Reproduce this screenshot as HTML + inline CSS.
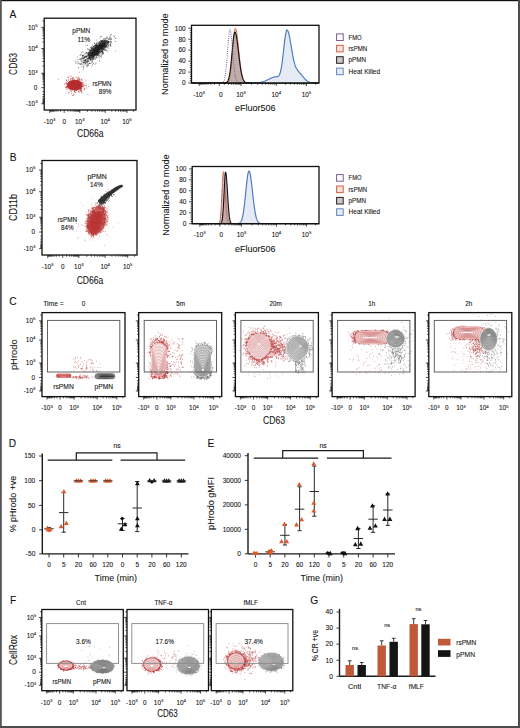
<!DOCTYPE html><html><head><meta charset="utf-8"><style>html,body{margin:0;padding:0;background:#fff;}svg{display:block;}text{font-family:"Liberation Sans",sans-serif;fill:#141414;stroke:#141414;stroke-width:0.09px;}</style></head><body>
<svg width="520" height="728" viewBox="0 0 520 728">
<defs>
<filter id="b0_5" x="-50%" y="-50%" width="200%" height="200%"><feGaussianBlur stdDeviation="0.5"/></filter>
<filter id="b0_8" x="-50%" y="-50%" width="200%" height="200%"><feGaussianBlur stdDeviation="0.8"/></filter>
<filter id="b1_0" x="-50%" y="-50%" width="200%" height="200%"><feGaussianBlur stdDeviation="1.0"/></filter>
<filter id="b1_5" x="-50%" y="-50%" width="200%" height="200%"><feGaussianBlur stdDeviation="1.5"/></filter>
<filter id="b2_0" x="-50%" y="-50%" width="200%" height="200%"><feGaussianBlur stdDeviation="2.0"/></filter>
</defs>
<rect width="520" height="728" fill="#fff"/>
<text x="9.5" y="17.9" font-size="10.2">A</text>
<text x="9.8" y="160.6" font-size="10.2">B</text>
<text x="9.3" y="304.6" font-size="10.2">C</text>
<text x="8.8" y="446.6" font-size="10.2">D</text>
<text x="207.6" y="447" font-size="10.2">E</text>
<text x="9.9" y="603.8" font-size="10.2">F</text>
<text x="310.3" y="603.8" font-size="10.2">G</text>
<path d="M88.9 57.3h0.8M87.4 63.2h0.8M85 60.8h0.8M85.1 59.7h0.8M81.4 61.9h0.8M84.8 60.8h0.8M94.6 64.4h0.8M87 66.9h0.8M84.5 57.7h0.8M83.6 58.6h0.8M80.7 61.2h0.8M86.4 61.9h0.8M87.1 60.2h0.8M78.6 59.4h0.8M86.8 62.3h0.8M81.2 63.8h0.8M91.6 61.6h0.8M85.8 60.8h0.8M92.5 62.8h0.8M81.6 64.2h0.8M85.4 56.1h0.8M86.4 61h0.8M89.1 63.5h0.8M89.3 56.4h0.8M79.7 59.1h0.8M84.4 65h0.8M84.7 62h0.8M81 66.3h0.8M83.3 57.1h0.8M92 64.7h0.8M82.6 62.3h0.8M82.4 56.8h0.8M86.1 66.2h0.8M86.1 59.7h0.8M82.7 66.2h0.8M87.7 63.8h0.8M85.9 64.8h0.8M87.9 57.6h0.8M90.8 57.7h0.8M85.9 62.2h0.8M83.2 57.7h0.8M83.3 60.8h0.8M83.3 58.6h0.8M85.2 63.2h0.8M78.8 63.7h0.8M75.5 62.8h0.8M85.7 60h0.8M81.5 52.9h0.8M77 57.2h0.8M86.1 62.9h0.8M83.8 54.8h0.8M87.3 61h0.8M82.9 59.8h0.8M80.5 58.5h0.8M79.6 59.3h0.8M82.5 60.9h0.8M82.5 64.3h0.8M82 58.3h0.8M83.7 60.7h0.8M79.6 55.4h0.8M84.7 61.9h0.8M75.6 63.2h0.8M84.1 60.9h0.8M89.6 57.5h0.8M89.3 63.6h0.8M91.4 65.9h0.8M77.3 61.6h0.8M87.2 64.8h0.8M89.8 63.5h0.8M88 65.5h0.8M82.5 55.5h0.8M86.5 62.3h0.8M93 63.5h0.8M80 54.8h0.8M88.5 57.7h0.8M89.5 63.2h0.8M82.4 59h0.8M88.2 59.9h0.8M80.3 59.8h0.8M79.9 64.3h0.8M82.2 57.9h0.8M86.7 58.8h0.8M85 59.7h0.8M88.2 64.8h0.8M80.8 60h0.8M83.9 62.3h0.8M88.8 63.2h0.8M88.6 58.4h0.8M80.9 54.8h0.8M88.5 60.2h0.8" fill="none" stroke="#444" stroke-width="0.8" stroke-opacity="0.8"/>
<path d="M91.5 53.2h0.8M98.6 46.9h0.8M98 47.6h0.8M107.5 43.3h0.8M97.2 49.8h0.8M83.2 66.9h0.8M83.1 58.5h0.8M99.3 41.8h0.8M93.8 52.2h0.8M107.4 44.5h0.8M101.9 52.8h0.8M92 58.5h0.8M100 36.7h0.8M90.3 57.4h0.8M82.9 69.9h0.8M113.6 36h0.8M78.4 62.1h0.8M102.3 47h0.8M102.5 42h0.8M99.1 51.6h0.8M81.8 62.3h0.8M108.6 48h0.8M85.3 62.3h0.8M82.6 57.4h0.8M94.7 55h0.8M105.4 48.1h0.8M96.9 46.3h0.8M101.6 43.2h0.8M85.6 45.6h0.8M97.2 54.7h0.8M84.7 56.4h0.8M87.2 45.3h0.8M95.9 40.1h0.8M92.8 51.8h0.8M102.2 49.7h0.8M90.9 54.1h0.8M92.4 56.2h0.8M93.1 46.3h0.8M90.5 47.2h0.8M103.6 49.3h0.8M98.9 50.8h0.8M110.6 38h0.8M97.9 56.4h0.8M91.3 48.7h0.8M86 56.3h0.8M99.2 53.8h0.8M107.1 51.9h0.8M89.8 55.7h0.8M100.4 56.5h0.8M100.3 43.2h0.8M95.9 52.4h0.8M91.1 53.5h0.8M99.6 38h0.8M97.6 50.6h0.8M102 50.8h0.8M105.4 41.6h0.8M105.4 42.1h0.8M97.1 57.7h0.8M88 49.8h0.8M94.1 43.2h0.8M93 49.1h0.8M76.5 59.7h0.8M110.6 46h0.8M97.1 51.3h0.8M99.7 42.2h0.8M84.3 56.6h0.8M115.1 51.2h0.8M89.3 52.5h0.8M92.9 48.5h0.8M85.1 61.4h0.8" fill="none" stroke="#444" stroke-width="0.8" stroke-opacity="0.8"/>
<ellipse cx="98" cy="48.8" rx="12" ry="3.5" fill="#2a2a2a" transform="rotate(-40 98 48.8)" filter="url(#b0_8)" opacity="0.8"/>
<path d="M102.7 48.3h0.8M96.5 46.1h0.8M91.5 54.2h0.8M89.5 54.9h0.8M99.4 44.9h0.8M97.5 50.7h0.8M85.8 56.6h0.8M103.8 42.9h0.8M102.5 46.3h0.8M96.4 51.7h0.8M96.2 51.8h0.8M102.5 53.1h0.8M92.2 52.3h0.8M89.5 57.2h0.8M97.3 45.7h0.8M89.3 58.2h0.8M101.6 50.1h0.8M90.5 59.6h0.8M95.6 49h0.8M96 49.9h0.8M110.3 43.1h0.8M90.6 55.1h0.8M90.2 59h0.8M91.7 51.2h0.8M92.7 58.3h0.8M95.4 54.9h0.8M100.7 48.6h0.8M100.7 44.2h0.8M107.2 40.9h0.8M93 53.9h0.8M113.9 36.8h0.8M109.3 39.4h0.8M95.7 50.4h0.8M83.6 62h0.8M99.1 53h0.8M94.4 45.4h0.8M80.9 58.9h0.8M95.2 46.3h0.8M94.9 49.5h0.8M89.6 50.4h0.8M102.1 47.7h0.8M103.6 44.8h0.8M93.9 51.8h0.8M97.6 47.3h0.8M93.5 53.5h0.8M92.8 54.2h0.8M98.3 50h0.8M99.3 45.7h0.8M94.9 54h0.8M81.3 58.3h0.8M103 49.3h0.8M82.4 51.9h0.8M97.1 48h0.8M106.2 38.3h0.8M98.5 51.5h0.8M87.5 53h0.8M91.4 60.9h0.8M101.9 40.7h0.8M100.6 53.9h0.8M101.4 47.9h0.8M103 45.1h0.8M97.7 50.9h0.8M99.1 55.8h0.8M93 56.5h0.8M74.7 61.2h0.8M90 60h0.8M97.3 50.6h0.8M93.5 47.5h0.8M101 49.2h0.8M94.5 48h0.8M98.6 49.3h0.8M102.5 46.2h0.8M90.8 53.1h0.8M96.6 52.6h0.8M85.7 56h0.8M103.6 45.2h0.8M96.6 48.5h0.8M100 46.9h0.8M110 45.7h0.8M104.1 44.5h0.8M95.1 47.9h0.8M101.9 45.5h0.8M87.2 55.6h0.8M100 47.6h0.8M98.4 49.4h0.8M87.5 58.3h0.8M105.6 43.1h0.8M92.1 52.3h0.8M102.2 47.2h0.8M96.5 54.1h0.8M102.4 43.5h0.8M105.2 42.9h0.8M92.3 54.2h0.8M90 60.2h0.8M98.3 52.6h0.8M101.3 44h0.8M95.1 51.9h0.8M91 50h0.8M98.7 45.4h0.8M80.4 64h0.8M94.3 54.5h0.8M90.4 58.8h0.8M98.6 47.7h0.8M90.5 50.9h0.8M91.1 56.3h0.8M94.8 51.3h0.8M89 58.2h0.8M97.5 50.2h0.8M94.3 54.7h0.8M96.1 53h0.8M94.3 55.2h0.8M102.1 44.2h0.8M98.3 52.3h0.8M99.7 46.1h0.8M100.4 47.5h0.8M95.5 57.7h0.8M101.4 47.6h0.8M97.5 45.7h0.8M101.7 51.2h0.8M96.5 53.8h0.8M96.6 54.3h0.8M102.4 46.2h0.8M111.2 39.3h0.8M91.8 53.6h0.8M99.4 45.7h0.8M97.6 54.7h0.8M101.5 45h0.8M99.2 46.6h0.8M103.1 43.5h0.8M83.3 67.9h0.8M95.1 54.6h0.8M90.6 54.1h0.8M96.6 50.3h0.8M93.7 54.5h0.8M94.8 54.8h0.8M98.8 43.1h0.8M110.5 41.8h0.8M79.6 63.9h0.8M94.3 50h0.8M98.6 47.4h0.8M98.7 51.4h0.8M98.1 55.1h0.8M89.3 57.1h0.8M92.5 55.8h0.8M100.4 44.5h0.8M104.7 45.2h0.8M99.3 50.9h0.8M89.7 51.1h0.8M97 48.3h0.8M97.2 52.6h0.8M97.7 43.5h0.8M97.4 48.4h0.8M94.5 54.2h0.8M95.6 45.5h0.8M89.4 55.1h0.8M102.4 45.7h0.8M106 45.5h0.8M87.9 53.3h0.8M101.7 49.8h0.8M91.7 55.5h0.8M105.9 46.7h0.8M104.8 47.5h0.8M96.5 51.7h0.8M104.2 45.7h0.8M91.8 48.6h0.8M91.1 50.4h0.8M92.1 50.7h0.8M95.9 49.8h0.8M96.9 53.3h0.8M95.3 45.5h0.8M93 52.3h0.8M99.8 43.2h0.8M101 41.4h0.8M96.7 55.3h0.8M88.7 57.3h0.8M104.5 49.3h0.8M106.3 46.3h0.8M94.8 48.8h0.8M86.3 52.7h0.8M102.4 52.6h0.8M106 41.2h0.8M83.9 57.2h0.8M101.4 48.7h0.8M95.6 51.7h0.8M90.9 52.9h0.8M99.8 46.5h0.8M89.6 56.8h0.8M99.2 48.4h0.8M106.6 44.6h0.8M97.8 48.2h0.8M91.4 53.6h0.8M87.4 60.1h0.8M90 57h0.8M87.8 61.4h0.8M106.7 41.1h0.8M95.6 50.9h0.8M89 52.9h0.8M91.8 59.5h0.8M88.4 52.5h0.8M95.6 51.9h0.8M87.9 54.6h0.8M108.1 41.9h0.8M94 55.1h0.8M89.8 50.6h0.8M98.8 47.8h0.8M103.3 38.8h0.8M107.8 45.8h0.8M93.6 51.4h0.8M96.2 45.3h0.8M97 47.6h0.8M102.7 49.7h0.8M101.4 51.4h0.8M93.6 57.2h0.8M88.3 54.7h0.8M98.1 48.6h0.8M92.8 59.1h0.8M104.4 41.3h0.8M97 48.9h0.8M89.4 53.2h0.8M93.4 49.1h0.8M96.2 54.8h0.8M97.5 51.7h0.8M103.8 45.8h0.8M89.4 58.4h0.8M87.6 61.4h0.8M101.9 51.1h0.8M96.2 50.7h0.8M97.7 48.3h0.8M98.3 45.5h0.8M98 52.9h0.8M101.3 44.7h0.8M89.3 51.4h0.8M97.2 48.9h0.8M92.2 54.1h0.8M91.8 57.3h0.8M102.7 48.6h0.8M99.6 45.4h0.8M84.1 58.2h0.8M89.9 54.9h0.8M97.1 45.9h0.8M103.7 44.1h0.8M94 54.1h0.8M96.2 50.8h0.8M85.9 53.9h0.8M110.7 34.5h0.8M102.4 49.9h0.8M101.1 43.2h0.8M102.6 47.9h0.8M104.1 46.3h0.8M100.5 46h0.8M93.6 49.5h0.8M102.2 46.4h0.8M96.3 47.6h0.8M105 42.8h0.8M93 53.8h0.8M92.8 51.2h0.8M101 45.9h0.8M104.6 42.6h0.8M96.1 46.6h0.8M92.6 53.1h0.8M95.5 49.1h0.8M91.2 48.7h0.8M108.4 39.4h0.8M102.3 44.6h0.8M104 42.1h0.8M95.7 44.1h0.8M95.2 54.2h0.8M105.6 45.1h0.8M108.5 42.6h0.8M101.4 47.5h0.8M95.1 47.4h0.8M104.1 44.5h0.8M93.5 49.9h0.8M105.6 50.2h0.8M92.1 52.4h0.8M92.5 56.1h0.8M98.2 43.8h0.8M97.4 45.7h0.8M108.1 38.9h0.8M96.8 52.6h0.8M98.4 50.8h0.8M90.8 56.2h0.8M82.7 55.7h0.8M88.3 61.2h0.8M98.6 45.6h0.8M92.8 59.1h0.8M107.3 47.7h0.8M107.4 44.1h0.8M97.2 53.2h0.8M105.4 38.8h0.8M103 53.8h0.8M104.6 44.4h0.8M97.6 53h0.8M101.7 43.2h0.8M91.4 54.5h0.8M99.1 44.2h0.8M94.1 51.7h0.8M96.5 50.5h0.8M101.6 47.1h0.8M100.7 51.7h0.8M97.6 51.1h0.8M102.2 46.5h0.8M102.3 45.7h0.8M92.2 60.9h0.8M99.8 45.8h0.8M103.4 48.7h0.8M89.4 49.8h0.8M98.2 46.1h0.8M89.9 57.4h0.8M105.9 42.1h0.8M100.9 57h0.8M101.1 55.3h0.8M102.1 40.6h0.8M94.6 48.4h0.8M100.7 46.4h0.8M93.8 58.7h0.8M95.7 55h0.8M89.3 57.6h0.8M93.7 48.1h0.8M102.2 42.8h0.8M94.2 43.3h0.8M100.2 42.2h0.8M91.7 55.9h0.8M93.2 55.9h0.8M92.3 49.6h0.8M101 47.1h0.8M102.2 51.2h0.8M97.5 50.2h0.8M100.6 46h0.8M97.4 51.8h0.8M98.1 51h0.8M105.4 43.3h0.8M92.8 51.8h0.8M97.7 48h0.8M107.3 41.7h0.8M97 48.2h0.8M103.9 48.8h0.8M95.1 54.7h0.8M111.1 41.9h0.8M86.9 65.4h0.8M93 58.8h0.8M93.2 58.1h0.8M107.9 42.2h0.8M99.1 47.6h0.8M99.5 55.7h0.8M88.3 55.1h0.8M98.5 46.7h0.8M96.6 47.5h0.8M93.4 53.8h0.8M88.9 58.3h0.8M92.3 57.5h0.8M98.2 48.3h0.8M96.3 44.8h0.8M98.3 50.1h0.8M98 52.5h0.8M86.5 59h0.8M97.4 49.3h0.8M91.9 56.2h0.8M100 52.4h0.8M100 47.3h0.8M90.8 50.5h0.8M90.1 53.9h0.8M103.1 44.4h0.8M96.5 44.4h0.8M94.7 54.6h0.8M77.6 63.7h0.8M97.9 51.1h0.8M101.5 47h0.8M103.7 43.4h0.8M95.9 56.5h0.8M92.4 52h0.8M93.5 50.7h0.8M102.9 46.1h0.8M91.5 57.5h0.8M96.6 50.4h0.8M90 52.6h0.8M100.1 49.8h0.8M88.8 59h0.8M103.1 52h0.8M93.9 51.9h0.8M96.3 51.4h0.8M99.6 46h0.8M101.8 41h0.8M87 58.7h0.8M104.9 46.3h0.8M99 44.9h0.8M94.4 50h0.8M103.9 40.2h0.8M100.7 51.5h0.8M104.2 41.9h0.8M94.6 54h0.8M90.5 52.5h0.8M104.9 43.7h0.8M109.5 37.4h0.8M97.3 41.9h0.8M102.9 45.4h0.8M95.3 53.3h0.8M85.7 52.5h0.8M95.6 50.6h0.8M105.8 41.2h0.8M84.1 57.2h0.8M93.8 51.8h0.8M82.3 55.8h0.8M98.4 49.7h0.8M104.6 47.7h0.8M87.6 53.7h0.8M94.7 51.8h0.8M107.8 45.8h0.8M97 50.5h0.8M88.8 55.1h0.8M87.7 54.8h0.8M85.3 60.5h0.8M101.8 45.6h0.8M93.8 54.9h0.8M101.2 41.4h0.8M104.4 47.5h0.8M92.6 52.4h0.8M95.1 53.8h0.8M100.9 44.4h0.8M96 46.4h0.8M98 47.3h0.8M85.6 56.4h0.8M102.2 44.4h0.8M93 55.6h0.8M85.2 63.6h0.8M93.9 53.4h0.8M99 46.6h0.8M109.4 38.1h0.8M96 52.9h0.8M91 58.9h0.8M109.8 38.2h0.8M98.1 48.7h0.8M94.4 49.6h0.8M91.1 55.7h0.8M92.7 56.9h0.8M101.5 36.4h0.8M96.1 51.7h0.8M93.1 51.5h0.8M90.3 47.8h0.8M107.4 42.4h0.8M93.5 52.7h0.8M101.8 47.3h0.8M96.6 45.7h0.8M102.3 52.8h0.8M92.1 54.5h0.8M100.8 45.7h0.8M109.7 44.6h0.8M98.1 51.4h0.8M93.1 56.2h0.8M91.3 58.8h0.8M95 44.7h0.8M98.4 54.5h0.8M96.1 49.6h0.8M97.8 50.3h0.8M89.8 59.2h0.8M100.9 44.4h0.8M99.3 49.2h0.8M98.1 51.7h0.8M98.7 48.5h0.8M103.8 46h0.8M94.9 46.3h0.8M90.1 51.8h0.8M102.5 41.5h0.8M95.3 52.8h0.8M99.1 61h0.8M88.2 58.4h0.8M97.1 49.5h0.8M90.8 55.1h0.8M95.8 54.4h0.8M101.2 48.9h0.8M95.6 47.3h0.8M105.2 46.6h0.8M99.1 48.2h0.8M96.2 53.5h0.8M91.9 47.5h0.8M91.6 49.3h0.8M102.3 47.7h0.8M94.4 46.1h0.8M95.4 52.7h0.8M103 46.1h0.8M98.1 49.6h0.8M95 52.9h0.8M88.5 58.1h0.8M100.7 48.4h0.8M98.1 47.8h0.8M97.6 49.5h0.8M99.5 57.9h0.8M94.1 56.4h0.8M96.9 52.2h0.8M99.4 49.4h0.8M95.3 49h0.8M96.8 51h0.8M94 51.7h0.8M101 49.9h0.8M97.2 46.8h0.8M88.7 49h0.8M101 44.8h0.8M103.3 47.1h0.8M106.4 50.5h0.8M98.2 52.5h0.8M94.5 48.8h0.8M89.8 55.3h0.8M100.3 44h0.8M83.9 60.4h0.8M93.4 50h0.8M92.5 48.3h0.8M103.3 46.3h0.8M97.6 50.2h0.8M91.1 54.4h0.8M89.1 57.8h0.8M96.2 57.6h0.8M98.1 49.5h0.8M97 48.8h0.8M97.5 52.5h0.8M90.4 50h0.8M97.3 52.4h0.8M102.1 43.1h0.8M89.2 53.8h0.8M97.7 49.8h0.8M110 44.8h0.8M99.5 45.5h0.8M96.1 54h0.8M102 47.2h0.8M90.4 50.9h0.8M98.9 51.6h0.8M105.4 40.2h0.8M106.5 37.1h0.8M85.5 57h0.8M100.4 44.8h0.8M110.2 41h0.8M92.7 51.1h0.8M101.4 51.4h0.8M106.9 42.5h0.8M93.1 50.9h0.8M98.7 45.8h0.8M97.3 50.6h0.8M82.1 55.7h0.8M95.8 43.7h0.8M94.7 49h0.8M104 46.3h0.8M110.4 39.4h0.8M101.5 46.3h0.8M94.7 51.3h0.8M96.4 43.1h0.8M98 48.1h0.8M100.6 41h0.8M89.9 58.9h0.8M90.1 55.8h0.8M84.6 60.1h0.8M101.7 47.5h0.8M97.7 50.5h0.8M93.8 53.6h0.8M93.4 54.2h0.8M92.8 51.6h0.8M89.4 51.9h0.8M95.9 52.1h0.8M96.7 55.2h0.8M107.5 44.7h0.8M98.9 47.7h0.8M93.3 55.2h0.8M93 51.9h0.8M105.3 44.4h0.8M99.1 46.3h0.8M99.3 48.6h0.8M105.1 50.1h0.8M108.3 43.2h0.8M92.3 59h0.8M91.4 52.1h0.8M85.5 57.4h0.8M100.3 47.2h0.8M95.9 52.9h0.8M92.8 52.8h0.8M94.3 55.7h0.8M100.6 45.1h0.8M98.7 53.2h0.8M95.7 54.5h0.8M103.1 41.1h0.8M91.9 56.3h0.8M89.2 55.9h0.8M114.9 38.5h0.8M94.1 50.6h0.8M94.5 53.2h0.8M93.8 54.6h0.8M91.9 45h0.8M99 42h0.8M102.1 46.2h0.8M100.4 46.8h0.8M97.3 53.3h0.8M88.5 57.9h0.8M96.9 45.8h0.8M107.2 42.6h0.8M102.6 42.8h0.8M95.9 50.2h0.8M101.4 44.7h0.8M95.5 52.5h0.8M94.6 47.3h0.8M87.9 53.9h0.8M91.6 47h0.8M101.7 53.3h0.8M94.6 48.7h0.8M100.6 44.1h0.8M106.9 37.8h0.8M104.3 41.7h0.8M94.7 50.5h0.8M93.8 54.8h0.8M93.6 53.5h0.8M91.9 55.5h0.8M96.5 48.4h0.8M99.8 47.5h0.8M100.5 51.3h0.8M98.4 48.8h0.8M98.8 49.6h0.8M93.1 46.4h0.8M93.6 54.6h0.8M108.3 41.4h0.8M105.9 47h0.8M87.1 49h0.8M91.8 54.5h0.8M93.5 52.6h0.8M97.6 49.8h0.8M103.9 42.1h0.8M103.9 45h0.8M105 45.7h0.8M104 44.3h0.8M103.6 43.5h0.8M101.4 45.6h0.8M99.4 46.7h0.8M96.6 50.5h0.8M85.4 57.3h0.8M93.1 46.5h0.8M110.6 43.2h0.8M91 49h0.8M93.2 52.7h0.8M101.3 41.9h0.8M97.3 48.8h0.8M92.7 50.3h0.8M106.7 41.7h0.8M99.7 44.9h0.8M99.7 43.3h0.8M94.3 53.3h0.8M102.5 49.8h0.8M100.1 48.5h0.8M102.2 46h0.8M102.5 41.7h0.8M104 43.8h0.8M99 49.7h0.8M100.4 44.9h0.8M91.7 57.4h0.8M101.1 46.3h0.8M102 46.9h0.8M94 50.7h0.8M91.7 52.7h0.8M97.2 50.5h0.8M90.4 56.7h0.8M99.9 48.7h0.8M97.3 46.2h0.8M90.2 53.1h0.8M97.5 49.4h0.8M100.7 40.5h0.8M105.5 46.3h0.8M103.9 45.1h0.8M96.4 50.6h0.8M94 50h0.8M96.2 53.3h0.8M100.4 46.1h0.8M114.8 41.4h0.8M106.5 43.3h0.8M104.4 38.6h0.8M106.7 44.2h0.8M86.5 56.9h0.8M95.1 49.7h0.8M94.2 51.4h0.8M104.7 43h0.8M108 41.5h0.8M94.4 54.6h0.8M98.2 50.4h0.8M99.4 45.4h0.8M92 49.5h0.8M92 51.3h0.8M93.7 53.9h0.8M104.1 46.9h0.8M94.6 57.9h0.8M101.9 41.2h0.8M97.9 49.4h0.8M101.4 45.4h0.8M106 40.9h0.8M93.3 53.4h0.8M91.8 53.4h0.8M99.4 47h0.8M89.8 53.7h0.8M93.4 54.2h0.8M98.3 52.4h0.8M100.9 52.1h0.8M88.7 55h0.8M93.1 49.5h0.8M100.3 46.2h0.8M104 41.1h0.8M86.9 61.8h0.8M103.8 41.3h0.8M102.7 45.3h0.8M88.3 52.6h0.8M87.6 56.5h0.8M100.1 47.9h0.8M97.2 54.9h0.8M96.9 47.6h0.8M103.1 46h0.8M91.5 47.4h0.8M96.2 46.4h0.8M98.7 45.6h0.8M101.8 44.1h0.8M108.7 41.5h0.8M108.6 42.2h0.8M96 45.2h0.8M96.6 51.9h0.8M109.8 35.3h0.8M104.2 50.1h0.8M100.3 48.1h0.8M90.7 55.6h0.8M101.6 45.3h0.8M92.4 53.6h0.8M94.4 52h0.8M87.9 55.1h0.8M95.3 53.8h0.8M98 49.9h0.8M89.3 58.8h0.8M91.6 54.1h0.8M97.9 51.4h0.8M88.2 54.6h0.8M95.5 63.2h0.8M90.9 52.5h0.8M87.9 56h0.8M102.5 48.4h0.8M93.2 57.2h0.8M100.6 44.1h0.8M100.1 41.6h0.8M87.6 53h0.8M95.8 47.5h0.8M93 50.6h0.8M90 55.2h0.8M96.9 53.4h0.8M97.5 53.1h0.8M100.5 44.8h0.8M104.4 45.5h0.8M91.9 57.1h0.8M97.1 54.5h0.8M100.2 46.6h0.8M103.1 42.2h0.8M83.5 63.7h0.8M107.5 46.1h0.8M95.3 49.5h0.8M109.8 45.7h0.8M97.5 55.3h0.8M91.7 53.4h0.8M94.8 46.3h0.8M103.3 42.5h0.8M96.8 48.8h0.8M83.7 62.8h0.8M98.6 42.8h0.8M91.4 62.8h0.8M95.1 59.3h0.8M88.9 54.2h0.8M82.8 55.4h0.8M89.2 55.8h0.8M91.9 55.6h0.8M95.7 55.5h0.8M98 51.4h0.8M94.8 51h0.8M84.8 53.4h0.8M96.9 51.6h0.8M104.6 46.3h0.8M102.5 44.2h0.8M98.5 49.5h0.8M101.3 46.9h0.8M102.2 44.6h0.8M103.6 40.4h0.8M108.1 41.6h0.8M92.8 48.5h0.8M97.9 53.8h0.8M104.7 40.3h0.8M107.6 42.6h0.8M105.4 40.3h0.8M83.5 62.5h0.8M95.5 50.4h0.8M78.1 67.5h0.8M100.3 44.3h0.8M94.8 46.1h0.8M97 48.8h0.8M95.7 49.7h0.8M102.7 40h0.8M94.2 49.8h0.8M100.7 41h0.8M100.8 47h0.8M98.7 47.1h0.8M100 47.3h0.8M102.2 54.3h0.8M90.7 55.6h0.8M102.2 46.7h0.8M102.6 47.2h0.8M96.1 50.1h0.8M100.7 44.7h0.8" fill="none" stroke="#222" stroke-width="0.8" stroke-opacity="0.9"/>
<path d="M79 78.1h0.8M79.8 83.9h0.8M58.1 79.2h0.8M73.3 78.2h0.8M72.3 83.7h0.8M71.1 81h0.8M81 88.1h0.8M71.2 93.3h0.8M78.9 84.2h0.8M71.2 86.5h0.8M71.9 78.6h0.8M78.2 85.9h0.8M70.1 82.2h0.8M73.3 80.6h0.8M68.1 77.4h0.8M69.3 91.9h0.8M78.1 78.4h0.8M77.4 80.1h0.8M67.9 85.2h0.8M67.7 86.4h0.8M88.2 86.4h0.8M70.6 85.7h0.8M69.4 81.5h0.8M77 88.4h0.8M69.9 86h0.8M72.2 79.1h0.8M79.1 91.9h0.8M79.7 83.8h0.8M73.1 89.2h0.8M81.5 79.1h0.8M73.4 80.2h0.8M72.8 82.8h0.8M74.1 82.3h0.8M72.5 89.5h0.8M77.1 78.4h0.8M75.7 85.9h0.8M69.9 81h0.8M75.1 87.4h0.8M71.2 86.1h0.8M71 82.9h0.8M73.4 94.6h0.8M79.8 85.1h0.8M75.7 89.9h0.8M81.1 79.7h0.8M82.7 84.7h0.8M74 85.6h0.8M70.8 85.8h0.8M69.8 83.8h0.8M75.7 81.8h0.8M78.9 72.3h0.8M82.9 82.9h0.8M67 81.4h0.8M79.2 84.2h0.8M80.1 88.9h0.8M87.6 94.6h0.8M75.2 87.5h0.8M74 89.6h0.8M65.8 87.9h0.8M69.9 88.3h0.8M68.1 87.8h0.8M68.6 84.2h0.8M69.2 83.9h0.8M65.8 86.7h0.8M73.7 92.9h0.8M76.3 88.6h0.8M78.4 92.1h0.8M73.7 79.9h0.8M80 86.4h0.8M80.1 87h0.8M65.9 87.5h0.8M72.7 79.6h0.8M67.4 77.6h0.8M68.8 76.4h0.8M75.2 83.7h0.8M73.5 95.2h0.8M82.3 86.3h0.8M85.5 80.3h0.8M76.5 86.8h0.8M73.2 84.1h0.8M73.4 86.1h0.8M74.2 83.5h0.8M77.4 79.9h0.8M70.2 83.1h0.8M77.5 88.4h0.8M72.9 86.7h0.8M80.1 90.5h0.8M81.8 80.9h0.8M83.8 89.8h0.8M73.4 85.7h0.8M66.9 86.2h0.8" fill="none" stroke="#c04545" stroke-width="0.8" stroke-opacity="0.9"/>
<ellipse cx="74.6" cy="85" rx="7.6" ry="5.2" fill="#b93030" transform="rotate(0 74.6 85)" filter="url(#b0_6)" opacity="1"/>
<path d="M79.6 84.5h0.9M74.1 83.3h0.9M75.7 86.7h0.9M77.2 85h0.9M77.2 84.1h0.9M77.9 87.8h0.9M79.8 82.3h0.9M76.8 83.7h0.9M72.9 88.1h0.9M84.5 85.6h0.9M74.6 87.8h0.9M76.2 83.4h0.9M71.7 87.9h0.9M66 83.8h0.9M71.6 89.8h0.9M75 88.1h0.9M76.9 87.2h0.9M74.8 90.3h0.9M77.9 86.9h0.9M78.7 84h0.9M78.7 90.4h0.9M74.8 86.9h0.9M75.1 89.4h0.9M73.9 86.3h0.9M71.3 89.2h0.9M80.5 83.4h0.9M69.8 82.2h0.9M74.5 81.8h0.9M75.7 88.1h0.9M66.2 80.2h0.9M77.7 80.7h0.9M73.4 81.8h0.9M75.7 86.6h0.9M73.4 87.2h0.9M68.6 83.5h0.9M75.5 88.2h0.9M75.2 86.8h0.9M78.8 89.4h0.9M76.7 88.6h0.9M68 83.9h0.9M79.2 86.5h0.9M78 85.4h0.9M77.8 87.2h0.9M76.7 86.5h0.9M72 86h0.9M76.9 88h0.9M73.3 86.1h0.9M86.3 88h0.9M73.8 86h0.9M70.3 85.5h0.9M73.4 88.6h0.9M80.5 88.7h0.9M72.5 89.5h0.9M65 87.7h0.9M80.6 85.3h0.9M76.1 86.5h0.9M72.8 86.4h0.9M77.6 80.8h0.9M71.1 82.7h0.9M70.1 90.3h0.9M78.6 85.8h0.9M72.7 77.7h0.9M76.9 85.6h0.9M74.8 86.4h0.9M78.1 82.4h0.9M75.2 92.5h0.9M66.6 89.2h0.9M77.5 88.3h0.9M72.9 85.4h0.9M78.3 87.3h0.9M75.2 88.4h0.9M80.5 87.3h0.9M73.5 84h0.9M66.5 86.5h0.9M73.5 86.3h0.9M76.8 86.8h0.9M73.4 82.9h0.9M72.9 86.7h0.9M80.7 85.9h0.9M74.2 86.6h0.9M79 86.5h0.9M75.4 81.7h0.9M69 88.4h0.9M71 88h0.9M73.5 82h0.9M76 85.6h0.9M71.5 83.4h0.9M69.1 84.6h0.9M70.7 88.8h0.9M72.7 87.4h0.9M71.2 91.6h0.9M72.4 86.1h0.9M82.2 82.6h0.9M75.9 86.2h0.9M71.5 78.8h0.9M74.7 91h0.9M81.1 86.6h0.9M77.3 87.1h0.9M74.3 86.2h0.9M69.3 83.3h0.9M68 85.4h0.9M73.4 83.5h0.9M74.3 84.3h0.9M68.2 86.7h0.9M69.4 82.3h0.9M74.6 90.5h0.9M65.9 82.6h0.9M67.8 88.1h0.9M74.5 83.8h0.9M77 82.1h0.9M76 86.8h0.9M78.7 86.1h0.9M81.1 85h0.9M78.3 85.5h0.9M73.7 83.8h0.9M83.3 86.8h0.9M81.5 84.2h0.9M78.5 85.7h0.9M71.5 88.8h0.9M76.4 81.8h0.9M66.4 83.9h0.9M73.4 83.6h0.9M64.8 83.2h0.9M73.1 81.7h0.9M78.9 84.7h0.9M74.9 86h0.9M81.2 85.2h0.9M74.8 80.9h0.9M75.2 87.5h0.9M73.6 87.5h0.9M76.9 85.7h0.9M74.7 82.6h0.9M79.6 83h0.9M81.3 91.1h0.9M76.3 90.4h0.9M70.3 86.8h0.9M77.1 82.8h0.9M80.2 89.1h0.9M77.4 86h0.9M76 90.3h0.9M78.6 83.8h0.9M80.1 86.8h0.9M64.4 84.9h0.9M80.9 87.6h0.9M77.9 83.6h0.9M76.8 88.1h0.9M72.6 84.4h0.9M75.7 82.9h0.9M77.3 87.1h0.9M68.9 86.1h0.9M77.8 79.4h0.9M75.1 85.3h0.9M80.7 85.8h0.9M77.5 86h0.9M74.1 91.4h0.9M75.1 83.6h0.9M77.4 85.4h0.9M75.4 80.6h0.9M77 81.3h0.9M72 83.8h0.9M69.8 85.1h0.9M72.6 84.9h0.9M69.1 87.3h0.9M71.7 87.6h0.9M76.3 88.4h0.9M68.3 85h0.9M69.9 86.9h0.9M77.8 83.4h0.9M72.7 86.5h0.9M74.8 86.8h0.9M69.9 84h0.9M70.7 76.2h0.9M73.6 83.6h0.9M81.4 92.9h0.9M76.6 85.2h0.9M68.1 83.6h0.9M76.6 85.8h0.9M78.5 88.7h0.9M77.6 86.4h0.9M69.9 84.8h0.9M74.6 81.7h0.9M83.3 84.6h0.9M71.1 82h0.9M76.2 86.5h0.9M71.8 89.8h0.9M69.8 88.5h0.9M73.1 83.7h0.9M79 82.6h0.9M79.5 81.4h0.9M71.3 86.7h0.9M72.9 87.1h0.9M71.3 87.7h0.9M66.5 86.4h0.9M77.3 81.9h0.9M81.1 79.9h0.9M80.8 88.7h0.9M73 83h0.9M80.2 90.9h0.9M79.2 79.3h0.9M73.5 82.2h0.9M74.8 82.7h0.9M73.4 86.2h0.9M75.8 87.3h0.9M82.1 83.8h0.9M71.2 87.1h0.9M70.1 81.6h0.9M78.4 84h0.9M75.1 81.9h0.9M67.3 83.8h0.9M70.8 83.5h0.9M71.6 86.3h0.9M72.4 95.4h0.9M76.2 81.4h0.9M78.9 84.8h0.9M74.2 87.4h0.9M75.5 85.6h0.9M71.9 89.5h0.9M79 82.4h0.9M80.3 87.6h0.9M73.8 83.1h0.9M71.9 87.8h0.9M83.2 85.9h0.9M78.6 86.1h0.9M71.3 83.7h0.9M68.1 80h0.9M73.7 82.2h0.9M79.7 87.4h0.9M72.7 84.6h0.9M73.9 87.5h0.9M72.9 81.6h0.9M77.5 87.2h0.9M80.5 88.3h0.9M69.9 79h0.9M73.8 86.3h0.9M74.1 91h0.9M72.4 83.2h0.9M70.1 88.3h0.9M78.2 85.5h0.9M75.6 87.9h0.9M77.8 84.3h0.9M81 83.2h0.9M73.5 84.2h0.9M77.1 84.3h0.9M73.3 83.7h0.9M74.6 82.9h0.9M76.3 88.6h0.9M74.3 83.7h0.9M68.9 81.9h0.9M81 82.7h0.9M75.6 86.8h0.9M70.4 79h0.9M66.1 86.9h0.9M74.9 87.5h0.9M77.6 89.1h0.9M79 84.1h0.9M79.4 83h0.9M73.4 85.9h0.9M77.5 85.8h0.9M68.8 89.2h0.9M75.6 85.6h0.9M78.6 84.2h0.9M72.5 81.6h0.9M74.3 84.8h0.9M75.4 85.6h0.9M75.5 88.8h0.9M80.9 85.7h0.9M70.6 89.3h0.9M80.3 89h0.9M70 83.2h0.9M72.3 82.1h0.9M71.8 83.6h0.9M74.6 84.8h0.9M73 83.1h0.9M76.9 87.5h0.9M75 87.4h0.9M83.8 88.9h0.9M76.5 86.2h0.9M73.9 84.2h0.9M76.5 86.6h0.9M77.4 82.8h0.9M74.2 85.9h0.9M70.5 83.2h0.9M71.7 88.8h0.9M75.7 77.7h0.9M78.3 87.9h0.9M76.9 88h0.9M74.6 85.3h0.9M77.2 86.4h0.9M73 86h0.9M76 89.2h0.9M80.6 90.2h0.9M79.4 85.5h0.9M80.4 90.2h0.9M73.5 83.6h0.9M75.8 86.7h0.9M70.9 86.7h0.9M78.6 81.8h0.9M73.3 86.4h0.9M69.7 83.5h0.9M73 87.8h0.9M76 82.9h0.9M66.1 80.3h0.9M69.3 81.7h0.9M78.9 85.5h0.9M75.3 86.4h0.9M74.8 86.4h0.9M68.5 83.2h0.9M81.3 87.7h0.9M79.1 83.9h0.9M77.8 84.8h0.9M70.5 88.3h0.9M77.3 85h0.9M79.5 80h0.9M73.6 87.5h0.9M73.9 85.4h0.9M73 84.3h0.9M77.3 89.2h0.9M74 83.6h0.9M73.7 87.3h0.9M69.1 85.8h0.9M68.3 93h0.9M78.7 80.2h0.9M81.2 86h0.9M78.4 86.5h0.9M80.6 88.6h0.9M72.8 84.2h0.9M74.7 83.6h0.9M76.4 89.5h0.9M74.3 84.2h0.9M81.6 86.3h0.9M69.6 85.3h0.9M72.6 86.6h0.9M73.5 81.5h0.9M72.1 83.9h0.9M78.3 85.3h0.9M66.9 85.8h0.9M79.5 88.6h0.9M78.5 86.9h0.9M76.2 87.1h0.9M80.5 85.3h0.9M84.3 89.1h0.9M75.7 83.7h0.9M77.9 85.2h0.9M76.5 81.1h0.9M77 82.4h0.9M72.9 87.9h0.9M72.1 85.3h0.9M77.4 80.1h0.9M72.9 85.3h0.9M78.7 84.8h0.9M78.2 82.1h0.9M73.2 86.4h0.9M76.4 84.7h0.9M75.3 85.5h0.9M74.4 88.2h0.9M79.5 83.6h0.9M75.2 88.6h0.9M75.9 84.7h0.9M67.2 84.7h0.9M77.4 89.2h0.9M69.2 86.5h0.9M73.5 84.3h0.9M81.4 85.1h0.9M82.1 86.1h0.9M73.4 81.2h0.9M70 87.4h0.9M76.6 85.4h0.9M73.4 81.7h0.9M76.4 82.7h0.9M69.6 87.9h0.9M79.5 81.8h0.9M81.2 91.6h0.9M69.2 82.3h0.9M71.9 86h0.9M72.2 78h0.9M77.9 85.2h0.9M67.2 83.9h0.9M75.8 86.8h0.9M74.1 86h0.9M71.9 84.4h0.9M77.8 91.6h0.9M67.2 87.6h0.9M69.6 83.3h0.9M71.9 86.4h0.9M77.9 77h0.9M73.6 83.7h0.9M71.7 89h0.9M76.9 83.8h0.9M73.1 85.8h0.9M72.5 82h0.9M73.8 87.6h0.9M76.4 85.7h0.9M85.8 85.3h0.9M70.7 88h0.9M76.2 90.1h0.9M74.4 87.6h0.9M74 80.3h0.9M81.1 86.5h0.9M78.2 86.1h0.9M77.8 82h0.9" fill="none" stroke="#b83030" stroke-width="0.9" stroke-opacity="0.9"/>
<path d="M49.71 110v2.9M64.21 110v2.9M79.82 110v2.9M105.25 110v2.9M127 110v2.9M60.72 110v1.7M58.07 110v1.7M56.15 110v1.7M54.67 110v1.7M53.49 110v1.7M52.51 110v1.7M51.67 110v1.7M50.94 110v1.7M50.29 110v1.7M67.97 110v1.7M70.82 110v1.7M72.89 110v1.7M74.48 110v1.7M75.75 110v1.7M76.81 110v1.7M77.71 110v1.7M78.5 110v1.7M79.19 110v1.7M87.47 110v1.7M91.95 110v1.7M95.13 110v1.7M97.59 110v1.7M99.61 110v1.7M101.31 110v1.7M102.78 110v1.7M104.08 110v1.7M111.8 110v1.7M115.63 110v1.7M118.35 110v1.7M120.45 110v1.7M122.18 110v1.7M123.63 110v1.7M124.9 110v1.7M126.01 110v1.7M133.55 110v1.7M44.2 103.76h-2.9M44.2 87.69h-2.9M44.2 73.28h-2.9M44.2 48.49h-2.9M44.2 27.38h-2.9M44.2 91.56h-1.7M44.2 94.49h-1.7M44.2 96.63h-1.7M44.2 98.26h-1.7M44.2 99.57h-1.7M44.2 100.66h-1.7M44.2 101.59h-1.7M44.2 102.4h-1.7M44.2 103.11h-1.7M44.2 84.22h-1.7M44.2 81.59h-1.7M44.2 79.68h-1.7M44.2 78.21h-1.7M44.2 77.04h-1.7M44.2 76.06h-1.7M44.2 75.23h-1.7M44.2 74.5h-1.7M44.2 73.86h-1.7M44.2 65.82h-1.7M44.2 61.45h-1.7M44.2 58.36h-1.7M44.2 55.96h-1.7M44.2 53.99h-1.7M44.2 52.33h-1.7M44.2 50.9h-1.7M44.2 49.63h-1.7M44.2 42.14h-1.7M44.2 38.42h-1.7M44.2 35.78h-1.7M44.2 33.74h-1.7M44.2 32.06h-1.7M44.2 30.65h-1.7M44.2 29.43h-1.7M44.2 28.35h-1.7M44.2 21.02h-1.7" stroke="#222" stroke-width="0.8" fill="none"/>
<rect x="44.2" y="18.2" width="91.8" height="91.8" fill="none" stroke="#111" stroke-width="1.3"/>
<text x="49.71" y="123.8" font-size="6.4" text-anchor="middle">-10<tspan font-size="4.35" dy="-2.88">3</tspan></text>
<text x="64.21" y="123.8" font-size="6.4" text-anchor="middle">0</text>
<text x="79.82" y="123.8" font-size="6.4" text-anchor="middle">10<tspan font-size="4.35" dy="-2.88">3</tspan></text>
<text x="105.25" y="123.8" font-size="6.4" text-anchor="middle">10<tspan font-size="4.35" dy="-2.88">4</tspan></text>
<text x="127" y="123.8" font-size="6.4" text-anchor="middle">10<tspan font-size="4.35" dy="-2.88">5</tspan></text>
<text x="37.6" y="105.93" font-size="6.4" text-anchor="end">-10<tspan font-size="4.35" dy="-2.88">3</tspan></text>
<text x="37.3" y="89.87" font-size="6.4" text-anchor="end">0</text>
<text x="37.6" y="75.46" font-size="6.4" text-anchor="end">10<tspan font-size="4.35" dy="-2.88">3</tspan></text>
<text x="37.6" y="50.67" font-size="6.4" text-anchor="end">10<tspan font-size="4.35" dy="-2.88">4</tspan></text>
<text x="37.6" y="29.56" font-size="6.4" text-anchor="end">10<tspan font-size="4.35" dy="-2.88">5</tspan></text>
<text x="72.3" y="33.2" font-size="6.3" textLength="17.9" lengthAdjust="spacingAndGlyphs">pPMN</text>
<text x="77.5" y="41.8" font-size="6.3" textLength="12.7" lengthAdjust="spacingAndGlyphs">11%</text>
<text x="92.5" y="86.3" font-size="6.3" textLength="19" lengthAdjust="spacingAndGlyphs">rsPMN</text>
<text x="98.8" y="93.8" font-size="6.3" textLength="12.7" lengthAdjust="spacingAndGlyphs">89%</text>
<text x="16.7" y="64" font-size="10.4" text-anchor="middle" textLength="21.8" lengthAdjust="spacingAndGlyphs" transform="rotate(-90 16.7 64)">CD63</text>
<text x="90.3" y="137.3" font-size="10" text-anchor="middle" textLength="26.6" lengthAdjust="spacingAndGlyphs">CD66a</text>
<path d="M199.15 83v2.9M219.29 83v2.9M240.97 83v2.9M276.29 83v2.9M306.5 83v2.9M214.44 83v1.7M210.77 83v1.7M208.09 83v1.7M206.04 83v1.7M204.4 83v1.7M203.04 83v1.7M201.87 83v1.7M200.86 83v1.7M199.96 83v1.7M224.51 83v1.7M228.47 83v1.7M231.35 83v1.7M233.55 83v1.7M235.32 83v1.7M236.79 83v1.7M238.04 83v1.7M239.13 83v1.7M240.1 83v1.7M251.6 83v1.7M257.82 83v1.7M262.23 83v1.7M265.66 83v1.7M268.45 83v1.7M270.82 83v1.7M272.86 83v1.7M274.67 83v1.7M285.38 83v1.7M290.7 83v1.7M294.48 83v1.7M297.41 83v1.7M299.8 83v1.7M301.82 83v1.7M303.58 83v1.7M305.12 83v1.7M315.6 83v1.7M191.5 83h-3.2M191.5 80.81h-1.6M191.5 78.62h-1.6M191.5 76.44h-1.6M191.5 74.25h-1.6M191.5 72.06h-3.2M191.5 69.87h-1.6M191.5 67.68h-1.6M191.5 65.5h-1.6M191.5 63.31h-1.6M191.5 61.12h-3.2M191.5 58.93h-1.6M191.5 56.74h-1.6M191.5 54.56h-1.6M191.5 52.37h-1.6M191.5 50.18h-3.2M191.5 47.99h-1.6M191.5 45.8h-1.6M191.5 43.62h-1.6M191.5 41.43h-1.6M191.5 39.24h-3.2M191.5 37.05h-1.6M191.5 34.86h-1.6M191.5 32.68h-1.6M191.5 30.49h-1.6M191.5 28.3h-3.2" stroke="#222" stroke-width="0.8" fill="none"/>
<rect x="191.5" y="25.3" width="127.5" height="57.7" fill="none" stroke="#111" stroke-width="1.3"/>
<text x="185.7" y="85.28" font-size="6.5" text-anchor="end">0</text>
<text x="185.7" y="74.34" font-size="6.5" text-anchor="end">20</text>
<text x="185.7" y="63.39" font-size="6.5" text-anchor="end">40</text>
<text x="185.7" y="52.45" font-size="6.5" text-anchor="end">60</text>
<text x="185.7" y="41.51" font-size="6.5" text-anchor="end">80</text>
<text x="185.7" y="30.57" font-size="6.5" text-anchor="end">100</text>
<text x="199.15" y="96.6" font-size="6.4" text-anchor="middle">-10<tspan font-size="4.35" dy="-2.88">3</tspan></text>
<text x="220.69" y="96.6" font-size="6.4" text-anchor="middle">0</text>
<text x="240.97" y="96.6" font-size="6.4" text-anchor="middle">10<tspan font-size="4.35" dy="-2.88">3</tspan></text>
<text x="276.29" y="96.6" font-size="6.4" text-anchor="middle">10<tspan font-size="4.35" dy="-2.88">4</tspan></text>
<text x="306.5" y="96.6" font-size="6.4" text-anchor="middle">10<tspan font-size="4.35" dy="-2.88">5</tspan></text>
<path d="M222 83L222.25 83L222.5 83L222.76 83L223.01 83L223.26 83L223.51 83L223.76 83L224.02 83L224.27 82.99L224.52 82.99L224.77 82.98L225.03 82.98L225.28 82.97L225.53 82.95L225.78 82.93L226.03 82.9L226.29 82.87L226.54 82.81L226.79 82.74L227.04 82.65L227.29 82.52L227.55 82.36L227.8 82.15L228.05 81.88L228.3 81.54L228.55 81.11L228.81 80.58L229.06 79.93L229.31 79.15L229.56 78.21L229.82 77.09L230.07 75.78L230.32 74.27L230.57 72.53L230.82 70.58L231.08 68.39L231.33 65.97L231.58 63.35L231.83 60.53L232.08 57.55L232.34 54.44L232.59 51.25L232.84 48.03L233.09 44.85L233.34 41.78L233.6 38.86L233.85 36.19L234.1 33.82L234.35 31.81L234.61 30.22L234.86 29.09L235.11 28.45L235.36 28.31L235.61 28.53L235.87 29.05L236.12 29.86L236.37 30.94L236.62 32.28L236.87 33.86L237.13 35.65L237.38 37.62L237.63 39.75L237.88 42.01L238.13 44.36L238.39 46.77L238.64 49.22L238.89 51.68L239.14 54.12L239.39 56.52L239.65 58.84L239.9 61.09L240.15 63.23L240.4 65.27L240.66 67.18L240.91 68.96L241.16 70.61L241.41 72.13L241.66 73.51L241.92 74.76L242.17 75.89L242.42 76.9L242.67 77.79L242.92 78.57L243.18 79.26L243.43 79.86L243.68 80.38L243.93 80.82L244.18 81.2L244.44 81.52L244.69 81.79L244.94 82.02L245.19 82.21L245.45 82.36L245.7 82.49L245.95 82.59L246.2 82.68L246.45 82.75L246.71 82.8L246.96 82.85L247.21 82.88L247.46 82.91L247.71 82.93L247.97 82.95L248.22 82.96L248.47 82.97L248.72 82.98L248.97 82.98L249.23 82.99L249.48 82.99L249.73 82.99L249.98 83L250.24 83L250.49 83L250.74 83L250.99 83L251.24 83L251.5 83L251.75 83L252 83L252 83L222 83Z" fill="#f1ddd8"/>
<path d="M222 83L222.25 83L222.5 83L222.76 83L223.01 82.99L223.26 82.99L223.51 82.99L223.76 82.98L224.02 82.97L224.27 82.96L224.52 82.95L224.77 82.93L225.03 82.9L225.28 82.86L225.53 82.81L225.78 82.75L226.03 82.66L226.29 82.55L226.54 82.41L226.79 82.23L227.04 82.01L227.29 81.73L227.55 81.38L227.8 80.96L228.05 80.45L228.3 79.83L228.55 79.1L228.81 78.23L229.06 77.23L229.31 76.06L229.56 74.73L229.82 73.22L230.07 71.53L230.32 69.66L230.57 67.6L230.82 65.37L231.08 62.98L231.33 60.46L231.58 57.81L231.83 55.09L232.08 52.32L232.34 49.55L232.59 46.82L232.84 44.19L233.09 41.7L233.34 39.4L233.6 37.35L233.85 35.59L234.1 34.16L234.35 33.09L234.61 32.41L234.86 32.13L235.11 32.21L235.36 32.55L235.61 33.12L235.87 33.93L236.12 34.96L236.37 36.2L236.62 37.63L236.87 39.23L237.13 40.98L237.38 42.86L237.63 44.84L237.88 46.91L238.13 49.02L238.39 51.17L238.64 53.33L238.89 55.48L239.14 57.6L239.39 59.67L239.65 61.67L239.9 63.6L240.15 65.44L240.4 67.19L240.66 68.83L240.91 70.36L241.16 71.78L241.41 73.09L241.66 74.29L241.92 75.38L242.17 76.37L242.42 77.26L242.67 78.05L242.92 78.76L243.18 79.38L243.43 79.93L243.68 80.4L243.93 80.82L244.18 81.17L244.44 81.48L244.69 81.74L244.94 81.96L245.19 82.15L245.45 82.3L245.7 82.43L245.95 82.54L246.2 82.63L246.45 82.7L246.71 82.76L246.96 82.81L247.21 82.85L247.46 82.88L247.71 82.91L247.97 82.93L248.22 82.95L248.47 82.96L248.72 82.97L248.97 82.98L249.23 82.98L249.48 82.99L249.73 82.99L249.98 82.99L250.24 82.99L250.49 83L250.74 83L250.99 83L251.24 83L251.5 83L251.75 83L252 83L252 83L222 83Z" fill="rgba(150,135,135,0.55)"/>
<path d="M250 82.99L250.52 82.99L251.04 82.99L251.56 82.98L252.08 82.98L252.61 82.97L253.13 82.96L253.65 82.95L254.17 82.94L254.69 82.93L255.21 82.91L255.73 82.89L256.25 82.86L256.77 82.83L257.29 82.8L257.82 82.75L258.34 82.7L258.86 82.64L259.38 82.58L259.9 82.5L260.42 82.41L260.94 82.31L261.46 82.19L261.98 82.07L262.5 81.93L263.03 81.77L263.55 81.6L264.07 81.41L264.59 81.21L265.11 81L265.63 80.77L266.15 80.53L266.67 80.28L267.19 80.02L267.71 79.76L268.24 79.49L268.76 79.22L269.28 78.95L269.8 78.68L270.32 78.42L270.84 78.18L271.36 77.95L271.88 77.73L272.4 77.54L272.92 77.37L273.45 77.22L273.97 77.09L274.49 76.99L275.01 76.89L275.53 76.8L276.05 76.74L276.57 76.72L277.09 76.69L277.61 76.6L278.13 76.39L278.66 75.99L279.18 75.32L279.7 74.27L280.22 72.78L280.74 70.76L281.26 68.17L281.78 64.99L282.3 61.26L282.82 57.05L283.34 52.5L283.87 47.8L284.39 43.19L284.91 38.91L285.43 35.24L285.95 32.41L286.47 30.61L286.99 29.97L287.51 30.26L288.03 31.18L288.55 32.69L289.08 34.73L289.6 37.2L290.12 40L290.64 43.04L291.16 46.2L291.68 49.37L292.2 52.46L292.72 55.38L293.24 58.07L293.76 60.48L294.29 62.6L294.81 64.42L295.33 65.96L295.85 67.24L296.37 68.3L296.89 69.19L297.41 69.96L297.93 70.66L298.45 71.32L298.97 71.96L299.5 72.56L300.02 73.16L300.54 73.75L301.06 74.35L301.58 74.96L302.1 75.58L302.62 76.21L303.14 76.85L303.66 77.47L304.18 78.08L304.71 78.66L305.23 79.22L305.75 79.73L306.27 80.21L306.79 80.64L307.31 81.03L307.83 81.37L308.35 81.66L308.87 81.92L309.39 82.13L309.92 82.31L310.44 82.46L310.96 82.58L311.48 82.68L312 82.76L312 83L250 83Z" fill="#e5eaf4"/>
<path d="M222 83L222.25 83L222.5 83L222.76 83L223.01 83L223.26 83L223.51 83L223.76 83L224.02 83L224.27 82.99L224.52 82.99L224.77 82.98L225.03 82.98L225.28 82.97L225.53 82.95L225.78 82.93L226.03 82.9L226.29 82.87L226.54 82.81L226.79 82.74L227.04 82.65L227.29 82.52L227.55 82.36L227.8 82.15L228.05 81.88L228.3 81.54L228.55 81.11L228.81 80.58L229.06 79.93L229.31 79.15L229.56 78.21L229.82 77.09L230.07 75.78L230.32 74.27L230.57 72.53L230.82 70.58L231.08 68.39L231.33 65.97L231.58 63.35L231.83 60.53L232.08 57.55L232.34 54.44L232.59 51.25L232.84 48.03L233.09 44.85L233.34 41.78L233.6 38.86L233.85 36.19L234.1 33.82L234.35 31.81L234.61 30.22L234.86 29.09L235.11 28.45L235.36 28.31L235.61 28.53L235.87 29.05L236.12 29.86L236.37 30.94L236.62 32.28L236.87 33.86L237.13 35.65L237.38 37.62L237.63 39.75L237.88 42.01L238.13 44.36L238.39 46.77L238.64 49.22L238.89 51.68L239.14 54.12L239.39 56.52L239.65 58.84L239.9 61.09L240.15 63.23L240.4 65.27L240.66 67.18L240.91 68.96L241.16 70.61L241.41 72.13L241.66 73.51L241.92 74.76L242.17 75.89L242.42 76.9L242.67 77.79L242.92 78.57L243.18 79.26L243.43 79.86L243.68 80.38L243.93 80.82L244.18 81.2L244.44 81.52L244.69 81.79L244.94 82.02L245.19 82.21L245.45 82.36L245.7 82.49L245.95 82.59L246.2 82.68L246.45 82.75L246.71 82.8L246.96 82.85L247.21 82.88L247.46 82.91L247.71 82.93L247.97 82.95L248.22 82.96L248.47 82.97L248.72 82.98L248.97 82.98L249.23 82.99L249.48 82.99L249.73 82.99L249.98 83L250.24 83L250.49 83L250.74 83L250.99 83L251.24 83L251.5 83L251.75 83L252 83" fill="none" stroke="#d9603c" stroke-width="0.9" stroke-linejoin="round"/>
<path d="M222 83L222.25 83L222.5 83L222.76 83L223.01 82.99L223.26 82.99L223.51 82.99L223.76 82.98L224.02 82.97L224.27 82.96L224.52 82.95L224.77 82.93L225.03 82.9L225.28 82.86L225.53 82.81L225.78 82.75L226.03 82.66L226.29 82.55L226.54 82.41L226.79 82.23L227.04 82.01L227.29 81.73L227.55 81.38L227.8 80.96L228.05 80.45L228.3 79.83L228.55 79.1L228.81 78.23L229.06 77.23L229.31 76.06L229.56 74.73L229.82 73.22L230.07 71.53L230.32 69.66L230.57 67.6L230.82 65.37L231.08 62.98L231.33 60.46L231.58 57.81L231.83 55.09L232.08 52.32L232.34 49.55L232.59 46.82L232.84 44.19L233.09 41.7L233.34 39.4L233.6 37.35L233.85 35.59L234.1 34.16L234.35 33.09L234.61 32.41L234.86 32.13L235.11 32.21L235.36 32.55L235.61 33.12L235.87 33.93L236.12 34.96L236.37 36.2L236.62 37.63L236.87 39.23L237.13 40.98L237.38 42.86L237.63 44.84L237.88 46.91L238.13 49.02L238.39 51.17L238.64 53.33L238.89 55.48L239.14 57.6L239.39 59.67L239.65 61.67L239.9 63.6L240.15 65.44L240.4 67.19L240.66 68.83L240.91 70.36L241.16 71.78L241.41 73.09L241.66 74.29L241.92 75.38L242.17 76.37L242.42 77.26L242.67 78.05L242.92 78.76L243.18 79.38L243.43 79.93L243.68 80.4L243.93 80.82L244.18 81.17L244.44 81.48L244.69 81.74L244.94 81.96L245.19 82.15L245.45 82.3L245.7 82.43L245.95 82.54L246.2 82.63L246.45 82.7L246.71 82.76L246.96 82.81L247.21 82.85L247.46 82.88L247.71 82.91L247.97 82.93L248.22 82.95L248.47 82.96L248.72 82.97L248.97 82.98L249.23 82.98L249.48 82.99L249.73 82.99L249.98 82.99L250.24 82.99L250.49 83L250.74 83L250.99 83L251.24 83L251.5 83L251.75 83L252 83" fill="none" stroke="#111" stroke-width="1.1" stroke-linejoin="round"/>
<path d="M221 82.95L221.18 82.94L221.35 82.92L221.53 82.9L221.71 82.86L221.88 82.83L222.06 82.78L222.24 82.72L222.41 82.64L222.59 82.55L222.76 82.44L222.94 82.3L223.12 82.13L223.29 81.93L223.47 81.69L223.65 81.4L223.82 81.07L224 80.67L224.18 80.21L224.35 79.67L224.53 79.05L224.71 78.34L224.88 77.54L225.06 76.63L225.24 75.61L225.41 74.47L225.59 73.21L225.76 71.82L225.94 70.3L226.12 68.66L226.29 66.89L226.47 65.01L226.65 63L226.82 60.9L227 58.71L227.18 56.44L227.35 54.12L227.53 51.76L227.71 49.4L227.88 47.05L228.06 44.74L228.24 42.51L228.41 40.38L228.59 38.37L228.76 36.52L228.94 34.86L229.12 33.41L229.29 32.19L229.47 31.22L229.65 30.51L229.82 30.08L230 29.94L230.18 30.06L230.35 30.43L230.53 31.03L230.71 31.86L230.88 32.91L231.06 34.16L231.24 35.6L231.41 37.21L231.59 38.97L231.76 40.86L231.94 42.85L232.12 44.92L232.29 47.05L232.47 49.22L232.65 51.4L232.82 53.58L233 55.73L233.18 57.84L233.35 59.9L233.53 61.88L233.71 63.79L233.88 65.6L234.06 67.31L234.24 68.92L234.41 70.42L234.59 71.82L234.76 73.1L234.94 74.28L235.12 75.35L235.29 76.33L235.47 77.2L235.65 77.98L235.82 78.68L236 79.3L236.18 79.84L236.35 80.32L236.53 80.73L236.71 81.09L236.88 81.4L237.06 81.67L237.24 81.9L237.41 82.09L237.59 82.25L237.76 82.39L237.94 82.5L238.12 82.59L238.29 82.67L238.47 82.74L238.65 82.79L238.82 82.83L239 82.87L239.18 82.9L239.35 82.92L239.53 82.94L239.71 82.95L239.88 82.96L240.06 82.97L240.24 82.98L240.41 82.98L240.59 82.99L240.76 82.99L240.94 82.99L241.12 82.99L241.29 83L241.47 83L241.65 83L241.82 83L242 83" fill="none" stroke="#7d5a90" stroke-width="1.1" stroke-dasharray="0.9 1.3" stroke-linejoin="round"/>
<path d="M250 82.99L250.52 82.99L251.04 82.99L251.56 82.98L252.08 82.98L252.61 82.97L253.13 82.96L253.65 82.95L254.17 82.94L254.69 82.93L255.21 82.91L255.73 82.89L256.25 82.86L256.77 82.83L257.29 82.8L257.82 82.75L258.34 82.7L258.86 82.64L259.38 82.58L259.9 82.5L260.42 82.41L260.94 82.31L261.46 82.19L261.98 82.07L262.5 81.93L263.03 81.77L263.55 81.6L264.07 81.41L264.59 81.21L265.11 81L265.63 80.77L266.15 80.53L266.67 80.28L267.19 80.02L267.71 79.76L268.24 79.49L268.76 79.22L269.28 78.95L269.8 78.68L270.32 78.42L270.84 78.18L271.36 77.95L271.88 77.73L272.4 77.54L272.92 77.37L273.45 77.22L273.97 77.09L274.49 76.99L275.01 76.89L275.53 76.8L276.05 76.74L276.57 76.72L277.09 76.69L277.61 76.6L278.13 76.39L278.66 75.99L279.18 75.32L279.7 74.27L280.22 72.78L280.74 70.76L281.26 68.17L281.78 64.99L282.3 61.26L282.82 57.05L283.34 52.5L283.87 47.8L284.39 43.19L284.91 38.91L285.43 35.24L285.95 32.41L286.47 30.61L286.99 29.97L287.51 30.26L288.03 31.18L288.55 32.69L289.08 34.73L289.6 37.2L290.12 40L290.64 43.04L291.16 46.2L291.68 49.37L292.2 52.46L292.72 55.38L293.24 58.07L293.76 60.48L294.29 62.6L294.81 64.42L295.33 65.96L295.85 67.24L296.37 68.3L296.89 69.19L297.41 69.96L297.93 70.66L298.45 71.32L298.97 71.96L299.5 72.56L300.02 73.16L300.54 73.75L301.06 74.35L301.58 74.96L302.1 75.58L302.62 76.21L303.14 76.85L303.66 77.47L304.18 78.08L304.71 78.66L305.23 79.22L305.75 79.73L306.27 80.21L306.79 80.64L307.31 81.03L307.83 81.37L308.35 81.66L308.87 81.92L309.39 82.13L309.92 82.31L310.44 82.46L310.96 82.58L311.48 82.68L312 82.76" fill="none" stroke="#4f7cc0" stroke-width="1.2" stroke-linejoin="round"/>
<line x1="191.5" y1="83" x2="319" y2="83" stroke="#111" stroke-width="1.3"/>
<text x="167.9" y="54.15" font-size="9.6" text-anchor="middle" textLength="81.5" lengthAdjust="spacingAndGlyphs" transform="rotate(-90 167.9 54.15)">Normalized to mode</text>
<text x="255.2" y="110.8" font-size="9.8" text-anchor="middle" textLength="40.5" lengthAdjust="spacingAndGlyphs">eFluor506</text>
<rect x="336.6" y="33.9" width="6.6" height="6.6" fill="#fff" stroke="#7d5a90" stroke-width="1"/>
<text x="348.6" y="39.5" font-size="6.6" textLength="13" lengthAdjust="spacingAndGlyphs">FMO</text>
<rect x="336.6" y="45.3" width="6.6" height="6.6" fill="#f6e3de" stroke="#d9603c" stroke-width="1"/>
<text x="348.6" y="50.9" font-size="6.6" textLength="18.5" lengthAdjust="spacingAndGlyphs">rsPMN</text>
<rect x="336.6" y="56.7" width="6.6" height="6.6" fill="#cfc8c8" stroke="#222" stroke-width="1"/>
<text x="348.6" y="62.3" font-size="6.6" textLength="17.5" lengthAdjust="spacingAndGlyphs">pPMN</text>
<rect x="336.6" y="68.1" width="6.6" height="6.6" fill="#e8edf5" stroke="#5f86c2" stroke-width="1"/>
<text x="348.6" y="73.7" font-size="6.6" textLength="31.5" lengthAdjust="spacingAndGlyphs">Heat Killed</text>
<ellipse cx="95.5" cy="222.5" rx="7" ry="11.5" fill="#b03030" transform="rotate(18 95.5 222.5)" filter="url(#b1_5)" opacity="1"/>
<path d="M92.2 229.2h0.8M100.8 226.8h0.8M94.9 214.9h0.8M87.9 215.3h0.8M97.8 228.8h0.8M98.2 214.9h0.8M99.2 231.7h0.8M95.9 211.2h0.8M95 225.2h0.8M96.8 219.2h0.8M92.6 218.4h0.8M94.2 210.5h0.8M91.8 224.9h0.8M90.2 222h0.8M92.9 208.8h0.8M93.4 220.5h0.8M98 232.3h0.8M101.2 220.3h0.8M101.4 225h0.8M92.7 228.4h0.8M91.7 225.6h0.8M97.1 217.9h0.8M93.1 226.4h0.8M99.8 212.7h0.8M102.8 209.9h0.8M94.2 219.7h0.8M92 223.5h0.8M91.7 224.9h0.8M99.7 208.4h0.8M97.7 206.5h0.8M103.9 222.1h0.8M102.4 211.1h0.8M102.3 221.7h0.8M101.6 226.1h0.8M94.4 210.6h0.8M94.5 218.4h0.8M87.2 220.6h0.8M94.2 221.3h0.8M103.5 218.8h0.8M93.1 207.7h0.8M88.1 217.2h0.8M92.2 233.1h0.8M101.3 223.8h0.8M98.9 220h0.8M102.7 219.1h0.8M99.7 211.5h0.8M99 224.6h0.8M103.9 220.4h0.8M103.7 224.9h0.8M95.6 226.6h0.8M89.4 230.6h0.8M103.1 215h0.8M97.4 221.4h0.8M103 210.1h0.8M89.9 213.7h0.8M102.7 225.8h0.8M98.1 231.1h0.8M94.9 211.7h0.8M92.9 228.5h0.8M93.9 227.8h0.8M93.9 232.8h0.8M92.9 229.8h0.8M91.2 221.3h0.8M94.4 212.6h0.8M100.8 214.8h0.8M90 212h0.8M100.9 214.5h0.8M91.9 211.7h0.8M88.7 227.3h0.8M95.2 218.9h0.8M88.7 222.5h0.8M89.8 234.1h0.8M101.3 212.6h0.8M105.3 214.7h0.8M102.4 209.9h0.8M91.3 212.7h0.8M96.6 231.5h0.8M101.1 208.6h0.8M95.4 225.3h0.8M97.1 206.4h0.8M102.1 224.1h0.8M96.1 224.9h0.8M100.5 230.8h0.8M92.1 225.1h0.8M100.6 212.6h0.8M102.4 206.8h0.8M96.4 229.7h0.8M94.1 218.3h0.8M94.3 212.2h0.8M95.5 228.8h0.8M88.6 230.7h0.8M90.6 219h0.8M101 226.7h0.8M87.4 226.7h0.8M105.1 222.3h0.8M91 219.6h0.8M102 215h0.8M88.7 225.7h0.8M107.4 213h0.8M106.2 209.3h0.8M96 227.2h0.8M102.9 211.5h0.8M99.1 217.8h0.8M93.3 232.7h0.8M98 233.7h0.8M100.2 223.8h0.8M104.5 213.5h0.8M97.9 209.6h0.8M101.9 210.4h0.8M98.1 228.4h0.8M99.4 212.6h0.8M93.1 234.9h0.8M90.7 236.9h0.8M104.4 218.4h0.8M87.4 224.8h0.8M85.7 221.8h0.8M95.3 223.8h0.8M99.2 230.8h0.8M102.5 213.1h0.8M92.7 220.4h0.8M96 210h0.8M102.8 219.7h0.8M101.8 215.1h0.8M98.7 220h0.8M94.6 207.3h0.8M94.6 234h0.8M97.5 231.6h0.8M101.4 223.6h0.8M95.3 215.3h0.8M99 230.9h0.8M101.5 214.4h0.8M87.2 217.9h0.8M96.5 219.2h0.8M97.6 218.9h0.8M86.1 214.6h0.8M100 225.1h0.8M88.5 226.4h0.8M90.8 219.7h0.8M97.7 205h0.8M97.7 212.9h0.8M91.2 231.8h0.8M87.7 228.3h0.8M97.9 222.7h0.8M101.7 224.2h0.8M90.6 231.7h0.8M90.4 231.4h0.8M92.2 219h0.8M96.6 216.8h0.8M97.9 208.4h0.8M87.9 220.9h0.8M97.4 207.9h0.8M96.4 221h0.8M99.4 230.5h0.8M92.6 222.6h0.8M100.7 217.3h0.8M92.7 211.1h0.8M86.4 221h0.8M97 222.6h0.8M104.7 219.5h0.8M101.5 216.6h0.8M99.1 230.5h0.8M94.8 208.3h0.8M94.5 226h0.8M93.1 223.2h0.8M92.8 220.2h0.8M102.9 214h0.8M103.1 209.5h0.8M96.4 224.4h0.8M95.2 224.5h0.8M97.4 210h0.8M90.9 230.9h0.8M94.8 214.4h0.8M93.1 211.6h0.8M90.1 222.4h0.8M100.3 224.5h0.8M100.6 214h0.8M90 229.4h0.8M100.4 216.8h0.8M95.2 231.7h0.8M88.4 217.1h0.8M95.5 229.2h0.8M93.8 210h0.8M104.5 224.4h0.8M100.3 206.7h0.8M95.6 217.9h0.8M89.6 226.4h0.8M96.6 228.7h0.8M96.2 206.4h0.8M99 226.1h0.8M99.8 228.9h0.8M97 212.8h0.8M99.7 218.6h0.8M98.7 223h0.8M88.7 228.6h0.8M100.5 221.6h0.8M104.5 218.6h0.8M98.3 212.5h0.8M100.2 208.4h0.8M103.8 209.8h0.8M94.1 227.4h0.8M94.4 227.8h0.8M103.2 211.9h0.8M87.3 227h0.8M104.6 219.9h0.8M95.3 221h0.8M100.3 208.8h0.8M103.9 212.8h0.8M98.5 214.9h0.8M90.8 222.6h0.8M99.2 214.6h0.8M92.4 214.1h0.8M97.5 226.8h0.8M93.8 223.4h0.8M91.4 216.7h0.8M101 221.3h0.8M89.1 216.4h0.8M96.6 225h0.8M99.2 215.9h0.8M91.3 228.2h0.8M89.6 218.9h0.8M93.6 234.9h0.8M88 228.7h0.8M98.1 211.9h0.8M93.1 233h0.8M94.9 209.4h0.8M93.8 225.1h0.8M103.9 207.8h0.8M99.8 225h0.8M102.1 217.4h0.8M89.2 231.2h0.8M98.7 213.8h0.8M94.8 214.7h0.8M96.6 221.5h0.8M93.8 220.3h0.8M88.7 217.5h0.8M100.6 213.2h0.8M96.2 230.3h0.8M97.1 230h0.8M95.5 221.8h0.8M93.7 210.7h0.8M102.7 213.7h0.8M87.6 223.9h0.8M102.4 214.9h0.8M88.6 220.1h0.8M88.2 227.4h0.8M96.8 222.7h0.8M95.6 232.7h0.8M100.4 222.5h0.8M101.2 222.8h0.8M87.8 225h0.8M102 214.2h0.8M95 234.2h0.8M96.6 221.2h0.8M95.2 229.1h0.8M99.4 207h0.8M94.3 207.4h0.8M94.6 225.2h0.8M91.2 216.7h0.8M105.3 213.5h0.8M103.7 214.4h0.8M98 230.8h0.8M98.8 224.9h0.8M95.6 232.7h0.8M102.2 209.7h0.8M92.3 222.3h0.8M97.9 208h0.8M96.5 230.9h0.8M104.6 218h0.8M99.4 221.9h0.8M97 228.7h0.8M92.7 217.1h0.8M101.8 219.7h0.8M102.4 212.8h0.8M99.1 231.8h0.8M87.9 217.3h0.8M87.3 226.7h0.8M103 223.4h0.8M95 233.1h0.8M92.7 218.8h0.8M97.4 210.9h0.8M91.1 220h0.8M87.3 222.1h0.8M101.8 214.1h0.8M103.7 221.1h0.8M98 215.7h0.8M98.1 214h0.8M91.2 233.5h0.8M89.3 221.7h0.8M105.2 219.3h0.8M88.5 223.2h0.8M96.6 215h0.8M101 212.3h0.8M93.7 214.9h0.8M93 216.8h0.8M100.1 217.8h0.8M95.8 210h0.8M86.8 215.4h0.8M90.8 232.7h0.8M104.7 222.6h0.8M96.9 223.3h0.8M88 223.4h0.8M93.6 224h0.8M88.8 225.4h0.8M94.7 214.3h0.8M100.2 226.6h0.8M99.9 217.1h0.8M91.1 219.2h0.8M91 234.9h0.8M96.5 209.1h0.8M91 228.5h0.8M94 221.6h0.8M89.4 218.4h0.8M89.3 218.3h0.8M87.8 225.6h0.8M102.1 212.1h0.8M99.7 232.1h0.8M100 230.3h0.8M92.4 230.9h0.8M99.2 208.5h0.8M97.6 214.6h0.8M87.2 221h0.8M100.9 212.6h0.8M102.2 217.7h0.8M103.9 215.3h0.8M97.2 223.9h0.8M88.4 223.4h0.8M92.1 223.8h0.8M89.8 232.2h0.8M93.9 227.9h0.8M103.6 213.1h0.8M103.4 208.6h0.8M98.6 212.1h0.8M93.9 230.7h0.8M98.7 218.8h0.8M95 223.6h0.8M103.2 227.5h0.8M103.6 207.8h0.8M101.2 228.2h0.8M94.4 218h0.8M96.2 220.1h0.8M93.6 225.5h0.8M102 217.8h0.8M107.1 217.1h0.8M89.4 225h0.8M86.8 220h0.8M96.8 213h0.8M93 217.3h0.8M93.7 228.8h0.8M95.9 213.7h0.8M91.2 226.8h0.8M94.4 220.4h0.8M94.4 220.9h0.8M94.6 218.1h0.8M101.1 217.3h0.8M94.7 222.4h0.8M91.9 215.5h0.8M99.8 209.3h0.8M93 217h0.8M95 207.5h0.8M92.5 212.1h0.8M91.3 236.7h0.8M105.6 224.2h0.8M103.5 222.7h0.8M94.8 229.2h0.8M87.7 215.2h0.8M103.8 214.7h0.8M91.5 225.2h0.8M88.4 229.9h0.8M88.6 220.4h0.8M91.5 221.6h0.8M95.6 230.9h0.8M98 224.3h0.8M94.5 230.5h0.8M91 230h0.8M100.4 227.7h0.8M88.4 217.7h0.8M100.2 213.3h0.8M92.9 226.6h0.8M91.8 210.4h0.8M94.9 228.8h0.8M102.9 208.2h0.8M88.6 229.9h0.8M95.6 208.2h0.8M89.2 224.6h0.8M98.4 221.5h0.8M96.1 230.6h0.8M97.2 233h0.8M94.7 205.1h0.8M97.6 209.8h0.8M98.3 214.3h0.8M96.8 232h0.8M104.4 218.5h0.8M89.4 230.2h0.8M95.1 223.6h0.8M100.6 228.8h0.8M91.4 218.9h0.8M88.3 233.4h0.8M87.1 221.6h0.8M89.2 219.3h0.8M96.2 217.2h0.8M94 212.4h0.8M97 214.3h0.8M103.9 220.2h0.8M100.6 220.5h0.8M92.9 233.1h0.8M100 218.4h0.8M99.4 214.1h0.8M91.7 228.9h0.8M102.1 216.9h0.8M91.9 227.1h0.8M100.1 211.3h0.8M106 211.8h0.8M95.2 213h0.8M97.2 223.8h0.8M95.4 209.6h0.8M85.7 225.7h0.8M90.7 225h0.8M91.6 233.2h0.8M102.1 210.2h0.8M93.9 214.6h0.8M102.7 217.6h0.8M94.4 221h0.8M89.3 217.2h0.8M90.7 216.7h0.8M105.3 211.1h0.8M94.5 221.3h0.8M93.6 218.2h0.8M92.4 215.1h0.8M101.1 209.8h0.8M89.7 226h0.8M88.8 232.1h0.8M95.2 220.9h0.8M102.8 216.2h0.8M97.4 224.1h0.8M99.1 212.8h0.8M93.5 223.8h0.8M103.9 220h0.8M94.6 218.1h0.8M85.7 222.8h0.8M102 217.9h0.8M93.5 225.1h0.8M93.3 224h0.8M91.9 207.4h0.8M88.2 230.3h0.8M91.1 215.8h0.8M99.1 213h0.8M94.3 229.4h0.8M98.5 209.2h0.8M103.9 211.3h0.8M91.2 212.9h0.8M87.3 223.1h0.8M94.1 213.2h0.8M98.5 211.8h0.8M95.4 213.3h0.8M99.3 216.1h0.8M101.9 227.7h0.8M104 211.2h0.8M103.4 209.8h0.8M93.1 235.7h0.8M93.5 222.8h0.8M92.1 233.8h0.8M93.1 223.7h0.8M87.9 226.8h0.8M89.3 230.4h0.8M90.7 231.5h0.8M94.8 223.8h0.8M100.9 213.6h0.8M92.2 216.8h0.8M95.4 218.4h0.8M93.9 220.4h0.8M89.4 220.7h0.8M98.7 215.6h0.8M103.2 224.1h0.8M94.5 214h0.8M96 211.8h0.8M95 229.9h0.8M98.9 228.5h0.8M98.7 223h0.8M93.3 215.6h0.8M93.6 223.3h0.8M104.5 215.5h0.8M102.5 216.8h0.8M95.6 213h0.8M95.3 208.3h0.8M100.9 215.6h0.8M102.9 208.8h0.8M91.2 217.5h0.8M101.6 206.8h0.8M101.7 228h0.8M95.4 226.3h0.8M93.4 226h0.8M95.4 224.2h0.8M88.3 215h0.8M97.9 206.7h0.8M96.8 231.9h0.8M92.8 212.6h0.8M87 224.5h0.8M94.5 231.5h0.8M101.2 215.5h0.8M93.6 218.9h0.8M94.9 213.1h0.8M104.3 220.3h0.8M87.5 223.5h0.8M93.4 226.4h0.8M96.9 219.3h0.8M97.9 212.1h0.8M98.8 229.4h0.8M103.3 226.7h0.8M88.6 211.1h0.8M106 212.5h0.8M102.1 212.4h0.8M90.2 231.2h0.8M103.5 212.2h0.8M93 218.4h0.8M100.8 220.6h0.8M103.6 221.4h0.8M97.2 231.4h0.8M99.4 211.8h0.8M99 211.8h0.8M102 220.3h0.8M97.3 211h0.8M88.9 219.8h0.8M100 218.8h0.8M91.9 208.5h0.8M98.5 223.9h0.8M90.7 219.7h0.8M89.2 229.5h0.8M103.9 220.8h0.8M92.1 218.3h0.8M89.7 213.9h0.8M91.8 227.5h0.8M96.9 211.2h0.8M96.3 227h0.8M93.3 215.8h0.8M107.2 217.4h0.8M101.6 224.1h0.8M94 226h0.8M92.5 228.2h0.8M100.1 218.6h0.8M94.1 232h0.8M102.9 223.9h0.8M98.1 212.7h0.8M89.1 233.3h0.8M102 214.8h0.8M96.2 234.4h0.8M94 226h0.8M89.4 224.3h0.8M100.6 221.4h0.8M103.1 218h0.8M91.6 229.4h0.8M94.6 232.9h0.8M90.9 223h0.8M91.9 213.8h0.8M90.3 234.7h0.8M88.8 223.3h0.8M93.7 212.3h0.8M107.4 209h0.8M105.5 221h0.8M92.7 214.3h0.8M91.6 214.7h0.8M94.8 212.4h0.8M90.1 212.9h0.8M98.9 217.1h0.8M97.2 206.5h0.8M100.6 214.6h0.8M95.5 224.5h0.8M102 223.8h0.8M98.5 230.9h0.8M103 213.6h0.8M100 214.8h0.8M90.8 221.8h0.8M87.2 225.5h0.8M94.6 218.3h0.8M87.4 227.5h0.8M95.5 229.5h0.8M100.5 229.3h0.8M103.3 217.6h0.8M94.2 216.4h0.8M103.8 222.1h0.8M93.1 212.1h0.8M102.9 225h0.8M91.2 210.2h0.8M104.1 221.7h0.8M93.7 233.7h0.8M95.3 223.2h0.8M99.7 222.3h0.8M94.8 211.9h0.8M102.9 208.5h0.8M104.6 220.1h0.8M103.1 220.3h0.8M93.1 223.1h0.8M94.3 214.9h0.8M98.6 207.4h0.8M100.2 227.7h0.8M97.9 215h0.8M100.8 221.6h0.8M100.2 220.6h0.8M99.1 211.6h0.8M93.4 221.6h0.8M97.6 217.8h0.8M92.6 225.3h0.8M92.8 211.2h0.8M99.9 210.4h0.8M90.5 215.7h0.8M90.1 227.3h0.8M104.2 217.4h0.8M92.7 208.8h0.8M107.4 219.6h0.8M92.7 226h0.8M88 216.3h0.8M91.1 215.2h0.8M92.5 208h0.8M91.2 234.3h0.8M91.3 226.5h0.8M91.9 222.9h0.8M99.4 213.6h0.8M91.5 232.9h0.8M102.1 229.1h0.8M100.5 224.3h0.8M90.3 217.2h0.8M106.6 220.3h0.8M99.6 216.5h0.8M101 220.2h0.8M105.5 216.5h0.8M92.4 208.2h0.8M100.7 229.7h0.8M98.3 211.7h0.8M92.6 212.5h0.8M94.4 228.8h0.8M100.2 221.7h0.8M100.2 214.1h0.8M95.5 233.1h0.8M89.9 215h0.8M100.6 221.9h0.8M102.8 222.3h0.8M92.7 220.4h0.8M89.4 228.4h0.8M98.3 212.6h0.8M102.7 215.7h0.8M96.9 222h0.8M87.9 220.8h0.8M96.8 213.6h0.8M99.7 225.5h0.8M99.6 211.3h0.8M107.4 221.6h0.8M100.1 205.9h0.8M96.9 225.9h0.8M90.3 231h0.8M105.2 216.1h0.8M95 213.4h0.8M97 229.7h0.8M100.2 232h0.8M102 207h0.8M101.3 224.7h0.8M102 208.3h0.8M95 230.8h0.8M88 225.8h0.8M97.9 226h0.8M104.4 216.1h0.8M97 227.3h0.8M88.4 218.1h0.8M92.2 211.7h0.8M96.5 227.8h0.8M95.4 222.9h0.8M97.1 227h0.8M100.4 219.5h0.8M103.6 225.2h0.8M99.2 227.7h0.8M94 223.5h0.8M90.2 216.8h0.8M100.9 222.9h0.8M91.6 215.6h0.8M99 206.9h0.8M92.9 209.9h0.8M100.4 232h0.8M100.7 220.2h0.8M91.7 221.1h0.8M90.5 231.9h0.8M102.5 224.4h0.8M92.9 216h0.8M98.8 227.3h0.8M94.5 233.3h0.8M102.5 211.3h0.8M88.1 218.1h0.8M89.9 232.3h0.8M103 226h0.8M94.2 229.7h0.8M87.2 226.1h0.8M93.4 210.3h0.8M101 225.1h0.8M88.7 221.4h0.8M91.8 234.5h0.8M95.7 222.7h0.8M93 236.4h0.8M101 209.2h0.8M91.2 225.3h0.8M94.9 234.2h0.8M101.2 214.6h0.8M102.7 215.3h0.8M93 234.7h0.8M104.1 214.6h0.8M86.8 214.8h0.8M95.5 222.5h0.8M94.5 224.3h0.8M98.8 218.9h0.8M93.4 214.1h0.8M94.3 222.4h0.8M95.8 208.6h0.8M103.8 205.9h0.8M91.9 227.4h0.8M99.7 229.5h0.8M92.4 231.3h0.8M105.5 214.4h0.8M103.7 207.9h0.8M97.4 220h0.8M92.8 212.7h0.8M106.4 220.4h0.8M99.2 214.5h0.8M89.7 230h0.8M100.3 222.7h0.8M93.3 213.3h0.8M93.7 222.4h0.8M95.9 215h0.8M95.5 207.9h0.8M97.3 212h0.8M92.9 224.5h0.8M103.9 226.3h0.8M99.9 212.9h0.8M95.4 226.2h0.8M100.2 216.4h0.8M98.5 231.1h0.8M97.9 216.1h0.8M101.1 209.8h0.8M100.4 229.6h0.8M103.1 219.7h0.8M91.1 232.3h0.8M103.8 217.1h0.8M95.8 226h0.8M100.3 217.9h0.8M97.7 214h0.8M98.8 218.5h0.8M105.6 214.1h0.8M90.8 224.7h0.8M94.2 224.3h0.8M92.9 213h0.8M99 228.1h0.8M101 230.1h0.8M92.3 234.7h0.8M90.2 227h0.8M94.6 233.4h0.8M98.9 227.4h0.8M96.8 211.7h0.8M93.1 215.4h0.8M90.7 211.4h0.8M100.3 228h0.8M100.7 230.5h0.8M90 228.2h0.8M89.4 216.2h0.8M105.4 207.4h0.8M102.8 210.4h0.8M88.5 228.1h0.8M103.2 219.6h0.8M93.9 224.4h0.8M87.3 221.6h0.8M93.3 230h0.8M88.2 226.5h0.8M98 206.6h0.8M103.7 214.2h0.8M96.4 217.3h0.8M91.5 232.3h0.8M99.2 229h0.8M94.7 231.3h0.8M92.7 235.3h0.8M96.2 203.8h0.8M101.5 212.7h0.8M98.1 215.1h0.8M97.6 213.5h0.8M92.4 208.7h0.8M91.9 222.4h0.8M103.1 225.4h0.8M96.9 219.3h0.8M90.1 224.8h0.8M91.7 219h0.8M87.1 226.7h0.8M88.9 225.7h0.8M96.3 229.4h0.8M92.9 210.7h0.8M94.8 222.1h0.8M107.1 216.1h0.8M94.9 230.5h0.8M104.6 217.9h0.8M93.6 222.8h0.8M99.2 215.2h0.8M104.6 222h0.8M88.7 233h0.8M86.9 227.4h0.8M100.3 212.4h0.8M90.4 218.8h0.8M91.6 220.6h0.8M96.1 232.8h0.8M99.7 217.2h0.8M100.8 211.3h0.8M95 227.2h0.8M91.1 215.6h0.8M89.7 209.9h0.8M98.2 212.4h0.8M99.1 212.1h0.8M98.5 214.2h0.8M87.4 216.9h0.8M92.2 219.8h0.8M90.9 226.2h0.8M99.9 215.8h0.8M86.6 230.9h0.8M88.5 213.5h0.8M86.7 219h0.8M102.1 211.2h0.8M99.2 219.5h0.8M98.1 228.3h0.8M92 225.7h0.8M98.3 213h0.8M101.2 209.4h0.8M106.4 222.4h0.8M99.1 209.6h0.8M92 220.6h0.8M95.3 219.7h0.8M104.3 211.2h0.8M91.6 222.6h0.8M94.8 217.6h0.8M91.3 220.7h0.8M89.9 231.9h0.8M97.2 230.5h0.8M91.6 226.2h0.8M99 213h0.8M96.1 229h0.8M87.7 225.1h0.8M89 220h0.8M103.7 209.7h0.8M90.3 218.9h0.8M97.7 207.5h0.8M93.5 207.2h0.8M96.9 227.9h0.8M89.3 221.8h0.8M91 226.2h0.8M96.9 223.3h0.8M89.3 224.9h0.8M96.2 229.8h0.8M97 225.2h0.8M97.7 225.3h0.8M96.4 214.7h0.8M99.5 210.1h0.8M97 225.3h0.8M98.7 217.9h0.8M88.8 231.7h0.8M99.7 214.1h0.8M88.7 215.2h0.8M92.9 222.1h0.8M98.9 206.5h0.8M94.7 218.8h0.8M94.5 229.8h0.8M104 215h0.8M88.1 221.8h0.8M95.1 226.9h0.8M96.4 208.1h0.8M103.3 221.9h0.8M99.3 217.5h0.8M101.8 212.4h0.8M100.6 208.6h0.8M95.8 231.9h0.8M87.8 225.4h0.8M96.1 224.6h0.8M96.7 226.3h0.8M102.6 211.9h0.8M87.8 228h0.8M94.5 224.4h0.8M97.1 225.6h0.8M101.8 222.3h0.8M101.3 219.2h0.8M103.3 220.9h0.8M93 225.4h0.8M88.1 227.9h0.8M89.5 227.3h0.8M100.7 216.6h0.8M98.8 227.3h0.8M102 217.8h0.8M102.4 206.2h0.8M87.5 215.3h0.8M87.7 231.9h0.8M100.4 224.5h0.8M102.5 227h0.8M96.1 212.4h0.8M106.3 218.3h0.8M96.9 206.1h0.8M101.4 215.6h0.8M94.1 229.8h0.8M103 231.4h0.8M89.7 222.6h0.8M97.1 213.8h0.8M94.4 226.9h0.8M89.4 228.7h0.8M92.2 214.7h0.8M101.1 213h0.8M96.2 230.7h0.8M101.5 208h0.8M91.2 215.9h0.8M104.6 222.8h0.8M92.8 220.2h0.8M97.7 219.9h0.8M95.5 211.7h0.8M92.8 230.6h0.8M89 217.5h0.8M103.6 211.8h0.8M87.1 225.2h0.8M96 230.3h0.8M98.6 207.3h0.8M103.2 209.6h0.8M102.4 213.8h0.8M96 207h0.8M96.1 229.4h0.8M93.9 221.4h0.8M95 224.1h0.8M89.2 233.3h0.8M98.2 226.7h0.8M101.9 230.7h0.8M101.1 215.9h0.8M100.4 219.5h0.8M92.4 214h0.8M90.5 225.2h0.8M98.2 229.8h0.8M99.5 218.7h0.8M98.8 212.7h0.8M105.3 216.2h0.8M105.2 211.1h0.8M92.7 211h0.8M99.1 226.7h0.8M87.8 221.9h0.8M88.6 218h0.8M91.9 210.2h0.8M91.3 219.9h0.8M92.7 230.8h0.8M87.8 220.7h0.8M96.7 234h0.8M89.3 218.5h0.8M101 217.4h0.8M103.3 208.3h0.8M91.7 229.5h0.8M92.3 213h0.8M97.7 226.1h0.8M92.5 231h0.8M91.7 217.1h0.8M93.6 215.9h0.8M99.1 211.4h0.8M89.9 221.6h0.8M92.9 225.1h0.8M101.6 219.1h0.8M90.5 230.8h0.8M102.6 210.6h0.8M96.8 217.4h0.8M96.9 222.1h0.8M90.3 221.3h0.8M98.6 220.5h0.8M89.1 222.7h0.8M96 222.2h0.8M104.2 215.7h0.8M99.4 229.2h0.8M94.2 210.3h0.8M98.6 210.6h0.8M90.4 218.5h0.8M100.4 216.3h0.8M98.9 214.2h0.8M97.9 210h0.8M104.2 214h0.8M101.3 213.4h0.8M97.8 227.9h0.8M86.7 230.7h0.8M97.5 213.7h0.8M96.8 221.8h0.8M88.1 219.8h0.8M98.5 211.4h0.8M95.7 223.5h0.8M96.4 235.1h0.8M90.8 235.8h0.8M95.9 234.9h0.8M93.5 231.5h0.8M102.9 217.3h0.8M92.8 223.5h0.8M88.2 224.5h0.8M91.2 231.2h0.8M88.1 232.6h0.8M90.3 214.7h0.8M96.9 225.3h0.8M92.2 232.7h0.8M90.9 214.1h0.8M104.2 220.7h0.8M96.9 210.2h0.8M105.3 225.1h0.8M99.9 216.4h0.8M97.7 232.5h0.8M102.2 212.3h0.8M94.4 222.2h0.8M102.2 222.9h0.8M92.1 221h0.8M106.2 215.5h0.8M89.7 221.3h0.8M87 225.2h0.8M89.5 225.3h0.8M97.8 221.7h0.8M92.3 212.6h0.8M100.4 215.8h0.8M97.8 229.6h0.8M96 225.7h0.8M90.5 216.2h0.8M91.6 223.6h0.8M90 230.7h0.8M87 230.8h0.8M98.1 220.6h0.8M103.3 212.9h0.8M100.6 208h0.8M93.5 233.5h0.8M94.1 224.5h0.8M99.5 222.1h0.8M101.1 213.5h0.8M103.7 208.1h0.8M101.9 222.1h0.8M98.3 215.4h0.8M98.8 216.8h0.8M93.6 227.4h0.8M93.4 227.2h0.8M105.2 222.7h0.8M97 220.2h0.8M92.7 216.3h0.8M102.7 217.5h0.8M96 222.8h0.8M101 218.7h0.8M103.3 223.6h0.8M95.7 217.6h0.8M103.6 208.9h0.8M95.8 233.1h0.8M105.4 212.1h0.8M103.1 209.3h0.8M95 221.6h0.8M98.7 228.9h0.8M100.7 218.7h0.8M99.4 217.2h0.8M87.5 228.2h0.8M92.7 213.3h0.8M88.2 221.7h0.8M93.4 228.5h0.8M93.8 212.1h0.8M102.1 210.6h0.8M90.4 214.1h0.8M93.6 237.6h0.8M98.6 208.6h0.8M102.1 216.2h0.8M95.6 223.3h0.8M95.3 229.2h0.8M103.5 210.8h0.8M103.1 210.9h0.8M98.2 207.6h0.8M103.4 210.6h0.8M102.8 212.6h0.8M99.3 219.1h0.8M91.7 216.8h0.8M101.9 218.7h0.8M102.4 218.3h0.8M95.8 225h0.8M103.8 207h0.8M103.4 220.6h0.8M92.7 220.4h0.8M102.4 210.9h0.8M94.3 222.8h0.8M86.7 221.4h0.8M95.5 232h0.8M103.4 221.9h0.8M104.2 224.2h0.8M102.3 208.7h0.8M97.7 228.5h0.8M95.2 212.1h0.8M99.1 218.6h0.8M98.5 228.5h0.8M104 208.9h0.8M101.6 207.7h0.8M86.4 227h0.8M103.5 223.3h0.8M94.1 233.5h0.8M97.8 207.6h0.8M94 213.6h0.8M100.2 207.8h0.8M101.8 225h0.8M92.1 230.7h0.8M87.4 224.3h0.8M86.1 226.1h0.8M98.7 212.6h0.8M103 226.4h0.8M88.7 218.2h0.8M102.2 207.9h0.8M91.4 217h0.8M93.6 209.5h0.8M98.9 207.8h0.8M101.3 226.7h0.8M91.5 233h0.8M98.4 224.4h0.8M101.1 218.3h0.8M96.8 222.7h0.8M95.9 222.1h0.8M100.9 206.8h0.8M89 230.8h0.8M98.3 217.6h0.8M96.8 221.6h0.8M98.4 217.1h0.8M105.7 221.3h0.8M97.2 212.6h0.8M107.7 215.4h0.8M94.2 211.4h0.8M105 223.7h0.8M101.3 223.4h0.8M99.7 209.6h0.8M103.1 221.5h0.8M90.8 218.2h0.8M96.7 228.5h0.8M102.1 209h0.8M93.8 217.1h0.8M91.7 232.1h0.8M102.7 227.7h0.8M92.3 227.7h0.8M91.2 225.4h0.8M98.2 221.9h0.8M88.8 217.3h0.8M102.1 211.2h0.8M94 232.6h0.8M100.5 209.6h0.8M102.3 228.6h0.8M90.7 229.3h0.8M103.7 228.2h0.8M101.2 214.2h0.8M107.8 217.6h0.8M101.7 226.3h0.8M98.2 225.5h0.8M92.8 223.1h0.8M99.2 227.9h0.8M89.8 214.9h0.8M95 220.4h0.8M97.2 220.7h0.8M91.1 231.8h0.8M93 227.6h0.8M92.9 227.3h0.8M98.9 208.5h0.8M100 216h0.8M90.4 225.4h0.8M95.2 214.2h0.8M93.1 232.4h0.8M91.5 234.1h0.8M88 214.9h0.8M89 222h0.8M102.8 224.2h0.8M102.7 212h0.8M90.3 225.4h0.8M90.4 219.5h0.8M97.5 209.3h0.8M101.1 226.6h0.8M88.7 217.4h0.8M98.6 212h0.8M104.7 219.3h0.8M92.4 217.9h0.8M89.3 222.9h0.8M94.8 212.3h0.8M98.2 208.8h0.8M102.1 207.3h0.8M96.2 221.9h0.8M88.8 227.3h0.8M98.5 218.2h0.8M85.6 226.6h0.8M92.1 219.6h0.8M102.4 225.8h0.8M97.3 224.4h0.8M93.4 225.5h0.8M96.1 227.8h0.8M101.9 215.3h0.8M92.5 218.5h0.8M88.4 231.9h0.8M102.6 211.8h0.8M92.5 235.4h0.8M99.5 228.4h0.8M106 218h0.8M96.8 207.9h0.8M93.2 216h0.8M91.9 219.2h0.8M95.6 213.4h0.8M92.7 224.6h0.8M92.4 232.7h0.8M104.5 218.3h0.8M95 231.1h0.8M99.2 208.6h0.8M91.5 230.6h0.8M100.7 220.1h0.8M104.8 218.6h0.8M97.6 226.8h0.8M99.3 229.5h0.8M103.3 214.3h0.8M86.1 225.2h0.8M88.6 215.5h0.8M97 228.5h0.8M87.5 227.5h0.8M95 235h0.8M100.3 217.5h0.8M106.6 211.8h0.8M100.8 217h0.8M97.8 217h0.8M93.3 233.9h0.8M95.3 214.7h0.8M100.8 220.6h0.8M97.9 225.2h0.8M98.1 216h0.8M90 225.8h0.8M100.5 210.7h0.8M87.7 218.3h0.8M90.1 223h0.8M96.6 208.8h0.8M104.7 218.5h0.8M106.4 225.2h0.8M94.7 212h0.8M96.2 222.8h0.8M88.3 216.3h0.8M103.9 216.4h0.8M99.6 221.8h0.8M97.3 216.9h0.8M93.8 210.3h0.8M100 212.5h0.8M95.6 228h0.8M87.1 228.4h0.8M94.4 217.8h0.8M95 228.6h0.8M98.6 224.2h0.8M93.7 209.9h0.8M99.3 231.2h0.8M93.1 221.7h0.8M93.9 225.1h0.8M86.8 218.5h0.8M101.1 214.9h0.8M101.8 218.8h0.8M95.3 219.2h0.8M89.3 231.8h0.8M92.7 214h0.8M98.3 228.6h0.8M90 231.1h0.8M93.2 220.3h0.8M88.6 234.8h0.8M98.1 222.3h0.8M92.1 229.7h0.8M87.2 228h0.8M89.7 215.9h0.8M97.3 218.4h0.8M101.6 215.3h0.8M100.5 209.3h0.8M99.7 212.3h0.8M90.4 221.2h0.8M93 225.1h0.8M85.9 228.9h0.8M98.3 210.7h0.8M93.3 232.1h0.8M94 211.5h0.8M92.6 222.7h0.8M92.9 231.8h0.8M101.5 207.6h0.8M86.5 231.5h0.8M90.6 223.1h0.8M100.1 229.5h0.8M100.5 232.6h0.8M92.9 216.5h0.8M92.4 212.5h0.8M91.6 223.2h0.8M91.4 219.1h0.8M98.2 220h0.8M92.1 218.1h0.8M89.2 221.3h0.8M102.8 209.9h0.8M96.1 224.8h0.8M86.2 223h0.8M97.2 219.5h0.8M101.4 215.1h0.8M105.1 213.4h0.8M99 214h0.8M96.4 231h0.8M90.8 232.6h0.8M93 226.3h0.8M104.1 223.1h0.8M94.8 215.7h0.8M93.5 230.7h0.8M104.3 221.5h0.8M95.8 209.8h0.8M88.4 229.1h0.8M89.1 223.2h0.8M93.1 233.4h0.8M94.1 226.4h0.8M91.3 214.6h0.8M98.4 227.2h0.8M96.2 231.5h0.8M102.9 225.3h0.8M105 210.8h0.8M91.9 224.8h0.8M101.5 212.8h0.8M93.8 218h0.8M87.2 219.8h0.8M102.4 210h0.8M104 219.2h0.8M106.7 223.7h0.8M89.7 224h0.8M97.2 222.9h0.8M92.5 222.5h0.8M93.1 219.1h0.8M99.3 215.3h0.8M85.5 231.5h0.8M90.2 229.2h0.8M93.5 226.4h0.8M87.8 224.9h0.8M92.3 210.2h0.8M96 207.4h0.8M103.5 219.9h0.8M96.5 222.6h0.8M100.4 221.5h0.8M95.9 229.7h0.8M100.5 203.4h0.8M93.3 213.9h0.8M99.2 220.8h0.8M92.6 235.3h0.8M89.5 217.9h0.8M88.1 228.8h0.8M106.6 224.7h0.8M92.4 216.4h0.8M89 223.3h0.8M99.9 227.3h0.8M97.2 216h0.8M96.1 216.5h0.8M93.7 233.6h0.8M101.4 215.3h0.8M97.2 222.8h0.8M90.1 217.1h0.8M96.8 232.8h0.8M84.6 223.7h0.8M100 213.4h0.8M94.9 208.8h0.8M88.5 214.6h0.8M92.9 214.8h0.8M97.7 230.1h0.8M95.6 234h0.8M104.7 210.4h0.8M103.5 212h0.8M98.9 231.7h0.8M96.3 208.8h0.8M99.8 212.1h0.8M97.6 226.8h0.8M100.7 225.5h0.8M95.9 212.7h0.8M97.5 223.4h0.8M92.9 211.9h0.8M102.3 209.3h0.8M97.1 212.7h0.8M92.3 234.3h0.8M92.1 227.1h0.8M92.7 221.4h0.8M94.8 226.2h0.8M91 220.3h0.8M98.3 231.9h0.8M90.4 227h0.8M97 217.8h0.8M100.1 207.8h0.8M103.4 219.6h0.8M94.9 209.8h0.8M102.6 225.1h0.8M93.1 234h0.8M99.4 214.9h0.8M97.8 219.7h0.8M94.3 221.7h0.8M106.4 221.5h0.8M96.1 225.6h0.8M104.2 225.9h0.8M100.1 216.4h0.8M101.1 208.3h0.8M102.1 229.2h0.8M95.3 234h0.8M95.9 207h0.8M103.1 223h0.8M104.9 219h0.8M98.7 221.2h0.8M92 228h0.8M91.4 219.6h0.8M91.2 208.2h0.8M105.3 214.1h0.8M102.1 223.2h0.8M100.9 219.1h0.8M98.1 226.2h0.8M99 219h0.8M91.6 213h0.8M102.1 211.4h0.8M100.1 229.5h0.8M100.3 210h0.8M95.9 227.2h0.8M103.8 223.2h0.8M101.9 227.7h0.8M100.9 216.9h0.8M95 213.8h0.8M94.9 217.1h0.8M92.7 215.7h0.8M88.2 209.9h0.8M93.3 212.9h0.8M90.3 211.7h0.8M102 223.4h0.8M102.8 228.4h0.8M98.1 222.7h0.8M91.2 221h0.8M96.5 220.6h0.8M96.5 229.5h0.8M103.1 207.5h0.8M94.4 231.4h0.8M94.9 233.3h0.8M93.1 216.4h0.8M96.4 222.6h0.8M103.5 224.1h0.8M92.4 235.7h0.8M96.6 225.4h0.8M96.2 215.1h0.8M99.3 219.1h0.8M104 216h0.8M90.9 221.6h0.8M95.1 227h0.8M100.8 211.9h0.8M100.3 211.2h0.8M98.9 221.4h0.8M91 231.6h0.8M89.2 227h0.8M92.4 219.4h0.8M103.1 212.8h0.8M96.9 211.6h0.8M94.3 215.9h0.8M91.3 217.1h0.8M93.4 217.5h0.8M98.4 224.2h0.8M99.8 224.8h0.8M93.4 229.8h0.8M92.1 223h0.8M99.2 205.8h0.8M103.5 219.1h0.8M100.8 228.4h0.8M98.9 213.8h0.8M96.9 230.6h0.8M87.2 224.2h0.8M90.9 223.5h0.8M96.9 232.6h0.8M89.2 222.3h0.8M94.6 210.6h0.8M96.1 228h0.8M97.5 216.6h0.8M92.9 221h0.8M99.7 208.3h0.8M101.5 229.6h0.8M91.6 212.3h0.8M100.6 226.8h0.8M98.3 221.7h0.8M105.2 218.8h0.8M86.7 227.5h0.8M103.4 216.4h0.8M93.9 218.5h0.8M94.8 227.4h0.8M104.7 212.5h0.8M100.2 208.6h0.8M89.9 229.2h0.8M86.4 230.1h0.8M89.9 218h0.8M92.4 214h0.8M93.8 210.9h0.8M99.9 219.4h0.8M92.2 208.1h0.8M97.7 227.3h0.8M91.5 232.8h0.8M95.7 208.9h0.8M97.3 220.2h0.8M101.4 211.2h0.8M92.1 229.1h0.8M96.5 233h0.8M102.1 210h0.8M88.7 213h0.8M96 209.8h0.8M102 218h0.8M98.1 225.5h0.8M88.4 225.5h0.8M96 232.4h0.8M99.7 207.4h0.8M102.5 217.8h0.8M98.8 220.1h0.8M88.5 219.9h0.8M97.4 224.3h0.8M105.5 214.7h0.8M94.1 213.4h0.8M100.4 221.7h0.8M100.4 221.1h0.8M96.7 214.4h0.8M89.4 229.6h0.8M102.7 208.7h0.8M102 216.6h0.8M87 223.7h0.8M89.6 214.2h0.8" fill="none" stroke="#bd3838" stroke-width="0.8" stroke-opacity="0.85"/>
<path d="M84.8 221.6h0.7M80.8 202.9h0.7M104 217.6h0.7M103.6 213.3h0.7M105.6 234.4h0.7M77.5 238.5h0.7M92.3 212.3h0.7M84.9 240.8h0.7M112.7 227.3h0.7M105.7 219.4h0.7M91.6 231.2h0.7M90.3 239.8h0.7M100.2 218.8h0.7M88.4 213.9h0.7M93.5 240.1h0.7M84.8 226.3h0.7M106.9 192h0.7M103.1 220.5h0.7M101.7 212.8h0.7M92.8 212.3h0.7M93.9 220.7h0.7M105 217.5h0.7M93.8 214.7h0.7M78.5 237.6h0.7M99.7 202.9h0.7M91.8 220.4h0.7M93 225.6h0.7M101.4 205.4h0.7M97.5 207.6h0.7M97.4 207.6h0.7M101.4 231.3h0.7M105 210.7h0.7M102.9 227.8h0.7M101.1 208.1h0.7M97.5 206.2h0.7M97.6 225.5h0.7M81.6 224.5h0.7M91.5 203.2h0.7M106.9 211.9h0.7M91.6 221.2h0.7M94.1 208.2h0.7M91.2 205.1h0.7M103.8 210.1h0.7M85.5 219.7h0.7M115.4 196.5h0.7M92.3 238.3h0.7M76.5 231.4h0.7M88 231.3h0.7M88.6 214.9h0.7M103.2 214.4h0.7M99 226.7h0.7M96 207.2h0.7M83.9 240.1h0.7M102.1 214.7h0.7M87.2 230.3h0.7M104.8 231.7h0.7M92.3 213.4h0.7M100 218.3h0.7M82.6 205.9h0.7M99.2 221.8h0.7M89.1 224.2h0.7M98.5 220.6h0.7M106.8 219.3h0.7M94.7 219.6h0.7M71.2 225.7h0.7M76.1 223.4h0.7M95.3 225.1h0.7M90.8 210.9h0.7M88.1 211.8h0.7M103.1 227.6h0.7M95.6 215.1h0.7M106.3 215.2h0.7M99.3 236.2h0.7M92.5 219.8h0.7M96.4 222.4h0.7M88.1 210.5h0.7M98.5 223.7h0.7M93.1 227.9h0.7M108.3 226.8h0.7M108 206.8h0.7M96.2 214.2h0.7M88.5 223.3h0.7M93.4 221.4h0.7M92.6 229.9h0.7M103.3 218.5h0.7M104.7 221.8h0.7M82.9 225.6h0.7M87.4 216.2h0.7M95.9 229.2h0.7M91.7 198.2h0.7M98.4 209.4h0.7M78 224.1h0.7M90.5 226.8h0.7M89.6 226h0.7M90.2 228h0.7M87.4 227.2h0.7M103.7 209.3h0.7M98 238.2h0.7M99.1 230.2h0.7M97.6 206.5h0.7M97.7 205h0.7M89 221.7h0.7M92.2 210.4h0.7M92.8 224.1h0.7M95.5 215.8h0.7M99.2 203.3h0.7M100.7 211.2h0.7M104.3 217.6h0.7M90.7 217.4h0.7M91.4 226.7h0.7M102.8 214h0.7M96.1 224.6h0.7M90.1 214.8h0.7M86.6 214.8h0.7M109.1 197.3h0.7M88.9 211.2h0.7M104.3 205.5h0.7M85.5 223.5h0.7M107 235.1h0.7M85.9 220.9h0.7M104.3 245.4h0.7M101.5 224h0.7M104.9 231.6h0.7M107.6 219.1h0.7M99.4 224.4h0.7M97.2 208h0.7M117.7 222.8h0.7M89.5 228.9h0.7M98 219.8h0.7M86.4 212.3h0.7M96.7 218.1h0.7M99.6 226.1h0.7M86 231.5h0.7M102.6 204.3h0.7M94.1 218.4h0.7M94.1 217h0.7M102.5 218.6h0.7M103.8 221.4h0.7M88.6 222.7h0.7M78.3 226.7h0.7" fill="none" stroke="#c85050" stroke-width="0.7" stroke-opacity="0.75"/>
<path d="M101.89 204.61L104.48 201.78L107.07 198.75L110.93 195.12L114.49 191.68L118.28 188.46L122.01 185.93L121.39 184.67L117.12 186.14L112.51 188.92L108.27 191.88L103.93 194.85L100.52 197.82L97.71 200.59Z" fill="#2a2a2a" fill-opacity="0.85" filter="url(#b0_5)"/>
<path d="M105.8 194.9h0.8M110.1 192.8h0.8M105.6 197.4h0.8M108.4 196h0.8M121.1 185.7h0.8M101 196.2h0.8M108 193.7h0.8M113.2 189.6h0.8M105.9 195.9h0.8M121.7 186.2h0.8M106.1 194.1h0.8M119.5 186.7h0.8M106.7 198h0.8M106.1 201h0.8M106 197.7h0.8M118.4 187.5h0.8M115.4 190.9h0.8M102.2 199h0.8M120.1 186.5h0.8M102.1 199.2h0.8M103.6 197.7h0.8M102.8 199.4h0.8M120.6 185.8h0.8M112.2 191.8h0.8M104.5 198.3h0.8M112.2 192.9h0.8M101 201.2h0.8M110.4 194.3h0.8M108.2 194h0.8M100.9 199.4h0.8M110.3 192.5h0.8M109.5 192.2h0.8M103.2 202h0.8M112.3 192.1h0.8M115.6 188.1h0.8M103.9 196.3h0.8M104.1 200.4h0.8M102.5 200.6h0.8M103.9 202.2h0.8M101.1 201.7h0.8M108.8 195.1h0.8M104 199.4h0.8M117.2 189.1h0.8M119.2 186.7h0.8M104.9 196.8h0.8M113.9 191.3h0.8M114.4 191.7h0.8M109.3 193.3h0.8M113.5 191.7h0.8M100.1 204.1h0.8M116.3 189.9h0.8M116.9 189.6h0.8M106.7 196.8h0.8M102.5 200.4h0.8M113.4 190.5h0.8M116.3 190h0.8M117.3 187.6h0.8M101.1 204.7h0.8M103.9 200h0.8M118.7 188.4h0.8M113.1 191.7h0.8M103.6 203h0.8M120.3 185.5h0.8M101.4 197h0.8M105.4 198.9h0.8M110.2 192.4h0.8M118.3 188.5h0.8M113.9 190.3h0.8M113.6 194.5h0.8M102.1 201.2h0.8M119.4 186.8h0.8M117.8 188.3h0.8M110.6 191h0.8M116.7 188.1h0.8M109 194.7h0.8M104.1 198.1h0.8M116 188.6h0.8M101.5 197.5h0.8M99.8 200.7h0.8M119.9 185.8h0.8M119.3 187.9h0.8M106.7 192.3h0.8M119.9 186.1h0.8M103.5 202h0.8M114.3 191.4h0.8M103.4 199.1h0.8M99.2 201.1h0.8M104.4 196.6h0.8M117.5 188.6h0.8M109.4 192h0.8M121.1 186.4h0.8M105.6 196.8h0.8M116.9 188.9h0.8M108.9 196.4h0.8M117 188.6h0.8M106.6 193.3h0.8M120.7 185.9h0.8M105.2 197.2h0.8M112.4 191.5h0.8M121.3 186.3h0.8M111.1 190.1h0.8M115.2 190.3h0.8M102.4 200.5h0.8M99.6 200.7h0.8M120.2 186.6h0.8M111.2 196h0.8M120.7 186.1h0.8M109.2 195h0.8M106.4 197h0.8M115 189.5h0.8M109.8 193h0.8M110 192.7h0.8M120 185.6h0.8M121.2 185.7h0.8M108.1 195.6h0.8M103.5 196.7h0.8M103.6 200.9h0.8M100.5 200h0.8M120.9 186.5h0.8M116 189.9h0.8M106.8 195.9h0.8M101.6 197.7h0.8M113.5 192.6h0.8M112.3 196.3h0.8M110.2 195.2h0.8M121.3 185.2h0.8M106.8 196.7h0.8M99.5 205.7h0.8M105.2 200.8h0.8M104.5 196.3h0.8M110 193.5h0.8M103.9 196.8h0.8M108.5 191.2h0.8M117.7 188.1h0.8M107.8 199.2h0.8M110 195.4h0.8M103.4 202.3h0.8M114.4 189.4h0.8M116.4 187.7h0.8M100.4 200.2h0.8M120.4 187h0.8M113.9 189.4h0.8M98.9 202.8h0.8M98 201.2h0.8M116.9 188h0.8M109 193.5h0.8M104.3 199.3h0.8M119.5 186.5h0.8M107.6 193.1h0.8M108.9 194.6h0.8M108.4 198.7h0.8M114.9 189.8h0.8M104.1 194.8h0.8M111.2 194.1h0.8M117.7 188.1h0.8M104.1 197.4h0.8M114.4 191.2h0.8M108 195.4h0.8M116.6 189.6h0.8M113.4 192.1h0.8M105.1 202.8h0.8M112.9 190.9h0.8M107.8 198h0.8M121.2 185.9h0.8M112.8 191.5h0.8M98.6 205.7h0.8M102.9 198h0.8M100 199.2h0.8M106.6 196.5h0.8M117.4 188.5h0.8M107.8 192.9h0.8M114 190.8h0.8M102.6 198.5h0.8M100.2 203.2h0.8M109.8 194.1h0.8M104 195.1h0.8M114.7 190.5h0.8M112.7 192.5h0.8M99.5 199.6h0.8M114.3 189.5h0.8M101.8 201h0.8M115.1 189.8h0.8M107.9 197.5h0.8M113.5 192.1h0.8M108.8 194.1h0.8M103.5 196.6h0.8M103.8 199.1h0.8M117.9 189.8h0.8M100.6 202.2h0.8M111.5 191.7h0.8M111.1 191.9h0.8M110.8 192.2h0.8M120.7 186.4h0.8M103.9 196.9h0.8M115.5 188.3h0.8M99.4 207.3h0.8M105.8 194.9h0.8M114.4 190.7h0.8M106.4 197.5h0.8M100.1 202.1h0.8M116.9 188.1h0.8M116.4 188.4h0.8M107.7 194h0.8M99.6 203.8h0.8M112.7 191.8h0.8M114.9 189.9h0.8M112.6 190.8h0.8M112.5 192.7h0.8M115 190.8h0.8M120.1 186.7h0.8M118.2 187.6h0.8M116.5 189.1h0.8M99.9 201.1h0.8M112.7 192.4h0.8M114.6 190h0.8M114 190.4h0.8M106.6 193.8h0.8M113.9 190.8h0.8M104.4 196.9h0.8M100.2 199h0.8M113.6 191.6h0.8M113.8 191.1h0.8M118 187.6h0.8M115.6 187.6h0.8M102.1 199.1h0.8M118.7 187.5h0.8M99.8 203.2h0.8M104 195.5h0.8M119.8 186.5h0.8M103.5 198.5h0.8M98.5 205.4h0.8M113.1 194.5h0.8M110.9 193.9h0.8M104.4 202.9h0.8M100.8 196.9h0.8M119.1 187.1h0.8M117.3 187.5h0.8M104 200.7h0.8M103.7 201.7h0.8M104.6 197.6h0.8M105.9 194.9h0.8M110.9 194h0.8M99.9 201.3h0.8M101.7 199.4h0.8M103.1 198.6h0.8M101 203.3h0.8M102.8 202.1h0.8M114.8 189.5h0.8M111.1 195.3h0.8M120.6 187.6h0.8M103.8 199h0.8M113.4 190.2h0.8M106.5 198.8h0.8M101.2 200.8h0.8M106.2 195.4h0.8M114.9 188.2h0.8M118.8 187.2h0.8M108.3 195.3h0.8M102.9 201.8h0.8M116.1 188.2h0.8M108.2 195.8h0.8M115.6 188.8h0.8M117.4 188.2h0.8M102.7 199.5h0.8M104.9 197.9h0.8M110.7 193.6h0.8M113.9 188.4h0.8M100.9 200.5h0.8M116.7 190.1h0.8M112.3 190.2h0.8M114.9 190.5h0.8M113.7 191.7h0.8M99.8 199.7h0.8M116.8 189.7h0.8M110.2 194h0.8M106.3 196.1h0.8M113.4 188.5h0.8M105.7 200.2h0.8M112.8 192.4h0.8M101.8 199h0.8M112.2 190.2h0.8M118 187.9h0.8M112.7 191.8h0.8M119.9 186.7h0.8M115.2 187.7h0.8M110.8 192.6h0.8M98.2 201.5h0.8M121 187.1h0.8M112.4 190.6h0.8M106.6 195.8h0.8M103.5 200.6h0.8M105.4 199h0.8M99.5 202.9h0.8M114.5 190.6h0.8M117.8 185.9h0.8M115 190h0.8M112.9 191.6h0.8M120.4 186.1h0.8M114.6 188.7h0.8M110.4 194.1h0.8M107.8 197.5h0.8M108.4 193.8h0.8M105.2 203.3h0.8M118.7 186.9h0.8M120.3 185.9h0.8M117.7 187.3h0.8M105.3 199.4h0.8M111.4 191.7h0.8M121.9 185.8h0.8M101.2 202.7h0.8M100.9 199.6h0.8M109.7 195h0.8M105.8 199.2h0.8M97.2 202.5h0.8M103 196.7h0.8M104.4 196.6h0.8M103.2 203.8h0.8M121.2 185.9h0.8M103.9 201.8h0.8M97 202.8h0.8M112.8 192.3h0.8M103.8 201.7h0.8M105.9 197.1h0.8M101.3 202.8h0.8M106 193.5h0.8M104.9 197.1h0.8M113.8 190.2h0.8M121.1 186.6h0.8M119.6 186.6h0.8M107.8 196.5h0.8M116.1 190.6h0.8M100.7 200.4h0.8M120.4 186.3h0.8M110.1 195.3h0.8M111.3 192.9h0.8M105.3 200.9h0.8M118.4 187.1h0.8M105 196.4h0.8M108.8 196.5h0.8M119.3 187.1h0.8M104.5 201.8h0.8M112.3 192h0.8M109.3 192.9h0.8M99.5 201.3h0.8M104.9 196.4h0.8M102.2 202.3h0.8M110.1 194.1h0.8M111 192.5h0.8M117.1 186.8h0.8M111 194.4h0.8M117.9 187.6h0.8M119.6 187.3h0.8M119.2 187.8h0.8M104.5 202.4h0.8M115.2 190.8h0.8M111 192.9h0.8M116.7 189.4h0.8M108.9 197.8h0.8M105.1 196.2h0.8M103.2 203.8h0.8M104.2 197.9h0.8M116.6 187.9h0.8M115.2 188h0.8M103.2 200.6h0.8M99.4 203.9h0.8M112.5 192.4h0.8M101.8 201h0.8M120.7 185.3h0.8M104.4 199.3h0.8M122.5 186.4h0.8M111.4 191.3h0.8M102 200.7h0.8M102.7 197h0.8M110.3 191.8h0.8M103.7 200.6h0.8M118.4 187.4h0.8M100.3 204.4h0.8M113.8 191.3h0.8M101.7 198.1h0.8M114.8 188.1h0.8M118.7 187.2h0.8M100.7 204.8h0.8M99.5 202.4h0.8M100.6 198.5h0.8M106.1 198.6h0.8M105.2 197.2h0.8M118.3 186.7h0.8M101.8 200.8h0.8M119.3 186.9h0.8M119.7 187.5h0.8M102.2 197.5h0.8M104.8 196.3h0.8M104.2 198.3h0.8M119.5 187.2h0.8M120.7 186.9h0.8M107.6 192.3h0.8M109.1 196.4h0.8M107.3 199.9h0.8M104.4 200.4h0.8M105.4 197.6h0.8M105 198.6h0.8M112.7 190.9h0.8M114.4 190.7h0.8M104.2 197.4h0.8M105.3 196.4h0.8M114.8 190.7h0.8M107.2 196.8h0.8M105.3 197.2h0.8M112.5 192.4h0.8M112.3 192.2h0.8M110.9 194.9h0.8M116.8 187.7h0.8M105.2 196.2h0.8M115.6 189.3h0.8M110.9 194.3h0.8M119.5 188.7h0.8M118.3 189.1h0.8M100.3 201.1h0.8M105.8 200.6h0.8M108.9 192.5h0.8M118.3 186.5h0.8M116.9 188.4h0.8M117.3 187.2h0.8M98.8 205.1h0.8M109.3 194.5h0.8M103.9 200.5h0.8M104.6 202.6h0.8M103.2 200.4h0.8M102.9 202.7h0.8M106.5 196.5h0.8M109.5 193.4h0.8M119.3 185.4h0.8M104.7 197.1h0.8M107.8 193.2h0.8M116.3 188.8h0.8M119.6 186.7h0.8M108.4 195.2h0.8M103.2 199.5h0.8M108.4 194.6h0.8M102.2 200.4h0.8M100.8 201.1h0.8M105.1 195.6h0.8M99.6 201.6h0.8M122.2 186h0.8M108.2 192.7h0.8M103.4 201h0.8M110.2 193.3h0.8M110.9 192.7h0.8M114.9 190.4h0.8M121.2 185.5h0.8M107 197.1h0.8M106.8 195.6h0.8M112.3 193.1h0.8M109 196.5h0.8M107.3 194.1h0.8M99.3 202.5h0.8M120.1 186.1h0.8M113.5 191h0.8M111.5 192.1h0.8M108.9 194.4h0.8M113.2 191.1h0.8M100.1 201h0.8M101.3 199.2h0.8M116.5 188.9h0.8M101.5 204.3h0.8M103.5 194.7h0.8M111.3 192h0.8M108.1 193.7h0.8M108.8 196.7h0.8M110.1 193.9h0.8M121.6 186.3h0.8M112.2 193.3h0.8M121.3 185.6h0.8M103.2 202.9h0.8M102 199.2h0.8M111.5 193.2h0.8M114.2 190.7h0.8M108.1 194h0.8M110.8 194h0.8M115.1 189.4h0.8M109.8 192.6h0.8M119.7 186.3h0.8M115.2 187.7h0.8M121.7 185.5h0.8M99.3 202.9h0.8M115.1 190.8h0.8M105.7 196.3h0.8M106.9 195.2h0.8M99.1 199.8h0.8M120.1 186.3h0.8M112.9 194.9h0.8M119.9 186.2h0.8M117.1 189.2h0.8M117.4 187.9h0.8M103.4 200.4h0.8M102.7 198h0.8M98.1 200.7h0.8M100.4 206.3h0.8M116.1 187.1h0.8M113.4 190.9h0.8" fill="none" stroke="#333" stroke-width="0.8" stroke-opacity="0.8"/>
<path d="M100.6 202.2h0.7M104.5 203h0.7M103.8 200.2h0.7M103.1 195.6h0.7M102.8 201.9h0.7M111.6 196.5h0.7M106 195.3h0.7M103.2 198h0.7M104.9 196.5h0.7M95.1 203.9h0.7M95.5 202.3h0.7M99.2 205.3h0.7M107.1 200.1h0.7M108.4 189.5h0.7M101.5 199.9h0.7M98.1 202.1h0.7M101.1 203.7h0.7M107 200h0.7M98.8 204.4h0.7M102.2 204.5h0.7M108.9 197.9h0.7M111 195.1h0.7M105.5 199.1h0.7M106 201h0.7M101.5 198.4h0.7M104.5 193.6h0.7M92.2 211.7h0.7M106.8 199.8h0.7M108.1 201.4h0.7M102.3 199.5h0.7M100.2 197.2h0.7M106.7 197.7h0.7M104.6 203.6h0.7M105.8 194.6h0.7M100.1 201.2h0.7M104.8 195.6h0.7M105.3 191.4h0.7M101.6 205.2h0.7M107.8 193.6h0.7M108.9 200.6h0.7" fill="none" stroke="#444" stroke-width="0.7" stroke-opacity="0.7"/>
<path d="M47.7 255v2.9M62.71 255v2.9M78.86 255v2.9M105.18 255v2.9M127.69 255v2.9M59.1 255v1.7M56.36 255v1.7M54.36 255v1.7M52.84 255v1.7M51.61 255v1.7M50.6 255v1.7M49.73 255v1.7M48.97 255v1.7M48.3 255v1.7M66.6 255v1.7M69.54 255v1.7M71.69 255v1.7M73.33 255v1.7M74.65 255v1.7M75.74 255v1.7M76.68 255v1.7M77.49 255v1.7M78.21 255v1.7M86.78 255v1.7M91.42 255v1.7M94.7 255v1.7M97.25 255v1.7M99.34 255v1.7M101.1 255v1.7M102.62 255v1.7M103.97 255v1.7M111.95 255v1.7M115.92 255v1.7M118.73 255v1.7M120.91 255v1.7M122.7 255v1.7M124.2 255v1.7M125.51 255v1.7M126.66 255v1.7M134.47 255v1.7M42 248.57h-2.9M42 232.04h-2.9M42 217.2h-2.9M42 191.69h-2.9M42 169.95h-2.9M42 236.02h-1.7M42 239.04h-1.7M42 241.23h-1.7M42 242.91h-1.7M42 244.26h-1.7M42 245.38h-1.7M42 246.34h-1.7M42 247.17h-1.7M42 247.91h-1.7M42 228.46h-1.7M42 225.76h-1.7M42 223.79h-1.7M42 222.28h-1.7M42 221.07h-1.7M42 220.06h-1.7M42 219.21h-1.7M42 218.46h-1.7M42 217.79h-1.7M42 209.52h-1.7M42 205.03h-1.7M42 201.84h-1.7M42 199.37h-1.7M42 197.35h-1.7M42 195.64h-1.7M42 194.16h-1.7M42 192.85h-1.7M42 185.14h-1.7M42 181.31h-1.7M42 178.6h-1.7M42 176.49h-1.7M42 174.77h-1.7M42 173.32h-1.7M42 172.06h-1.7M42 170.94h-1.7M42 163.41h-1.7" stroke="#222" stroke-width="0.8" fill="none"/>
<rect x="42" y="160.5" width="95" height="94.5" fill="none" stroke="#111" stroke-width="1.3"/>
<text x="47.7" y="268.8" font-size="6.4" text-anchor="middle">-10<tspan font-size="4.35" dy="-2.88">3</tspan></text>
<text x="62.71" y="268.8" font-size="6.4" text-anchor="middle">0</text>
<text x="78.86" y="268.8" font-size="6.4" text-anchor="middle">10<tspan font-size="4.35" dy="-2.88">3</tspan></text>
<text x="105.18" y="268.8" font-size="6.4" text-anchor="middle">10<tspan font-size="4.35" dy="-2.88">4</tspan></text>
<text x="127.69" y="268.8" font-size="6.4" text-anchor="middle">10<tspan font-size="4.35" dy="-2.88">5</tspan></text>
<text x="35.4" y="250.75" font-size="6.4" text-anchor="end">-10<tspan font-size="4.35" dy="-2.88">3</tspan></text>
<text x="35.1" y="234.21" font-size="6.4" text-anchor="end">0</text>
<text x="35.4" y="219.38" font-size="6.4" text-anchor="end">10<tspan font-size="4.35" dy="-2.88">3</tspan></text>
<text x="35.4" y="193.86" font-size="6.4" text-anchor="end">10<tspan font-size="4.35" dy="-2.88">4</tspan></text>
<text x="35.4" y="172.13" font-size="6.4" text-anchor="end">10<tspan font-size="4.35" dy="-2.88">5</tspan></text>
<text x="87.5" y="178.6" font-size="6.3" textLength="19.2" lengthAdjust="spacingAndGlyphs">pPMN</text>
<text x="90" y="187.1" font-size="6.3" textLength="13" lengthAdjust="spacingAndGlyphs">14%</text>
<text x="57.7" y="221.5" font-size="6.3" textLength="19.3" lengthAdjust="spacingAndGlyphs">rsPMN</text>
<text x="61" y="230.1" font-size="6.3" textLength="12.6" lengthAdjust="spacingAndGlyphs">84%</text>
<text x="17.4" y="207.5" font-size="10.2" text-anchor="middle" textLength="27" lengthAdjust="spacingAndGlyphs" transform="rotate(-90 17.4 207.5)">CD11b</text>
<text x="90" y="283.5" font-size="10" text-anchor="middle" textLength="26.6" lengthAdjust="spacingAndGlyphs">CD66a</text>
<path d="M199.81 223.7v2.9M219.84 223.7v2.9M241.4 223.7v2.9M276.52 223.7v2.9M306.57 223.7v2.9M215.02 223.7v1.7M211.36 223.7v1.7M208.7 223.7v1.7M206.66 223.7v1.7M205.03 223.7v1.7M203.68 223.7v1.7M202.52 223.7v1.7M201.51 223.7v1.7M200.61 223.7v1.7M225.03 223.7v1.7M228.97 223.7v1.7M231.83 223.7v1.7M234.02 223.7v1.7M235.78 223.7v1.7M237.24 223.7v1.7M238.48 223.7v1.7M239.57 223.7v1.7M240.53 223.7v1.7M251.97 223.7v1.7M258.16 223.7v1.7M262.54 223.7v1.7M265.95 223.7v1.7M268.73 223.7v1.7M271.08 223.7v1.7M273.12 223.7v1.7M274.91 223.7v1.7M285.57 223.7v1.7M290.86 223.7v1.7M294.61 223.7v1.7M297.53 223.7v1.7M299.91 223.7v1.7M301.92 223.7v1.7M303.66 223.7v1.7M305.2 223.7v1.7M315.62 223.7v1.7M192.2 223.7h-3.2M192.2 221.51h-1.6M192.2 219.32h-1.6M192.2 217.12h-1.6M192.2 214.93h-1.6M192.2 212.74h-3.2M192.2 210.55h-1.6M192.2 208.36h-1.6M192.2 206.16h-1.6M192.2 203.97h-1.6M192.2 201.78h-3.2M192.2 199.59h-1.6M192.2 197.4h-1.6M192.2 195.2h-1.6M192.2 193.01h-1.6M192.2 190.82h-3.2M192.2 188.63h-1.6M192.2 186.44h-1.6M192.2 184.24h-1.6M192.2 182.05h-1.6M192.2 179.86h-3.2M192.2 177.67h-1.6M192.2 175.48h-1.6M192.2 173.28h-1.6M192.2 171.09h-1.6M192.2 168.9h-3.2" stroke="#222" stroke-width="0.8" fill="none"/>
<rect x="192.2" y="166.5" width="126.8" height="57.2" fill="none" stroke="#111" stroke-width="1.3"/>
<text x="186.4" y="225.97" font-size="6.5" text-anchor="end">0</text>
<text x="186.4" y="215.01" font-size="6.5" text-anchor="end">20</text>
<text x="186.4" y="204.06" font-size="6.5" text-anchor="end">40</text>
<text x="186.4" y="193.09" font-size="6.5" text-anchor="end">60</text>
<text x="186.4" y="182.14" font-size="6.5" text-anchor="end">80</text>
<text x="186.4" y="171.18" font-size="6.5" text-anchor="end">100</text>
<text x="199.81" y="237.3" font-size="6.4" text-anchor="middle">-10<tspan font-size="4.35" dy="-2.88">3</tspan></text>
<text x="221.24" y="237.3" font-size="6.4" text-anchor="middle">0</text>
<text x="241.4" y="237.3" font-size="6.4" text-anchor="middle">10<tspan font-size="4.35" dy="-2.88">3</tspan></text>
<text x="276.52" y="237.3" font-size="6.4" text-anchor="middle">10<tspan font-size="4.35" dy="-2.88">4</tspan></text>
<text x="306.57" y="237.3" font-size="6.4" text-anchor="middle">10<tspan font-size="4.35" dy="-2.88">5</tspan></text>
<path d="M215 223.7L215.18 223.7L215.35 223.7L215.53 223.7L215.71 223.7L215.88 223.7L216.06 223.7L216.24 223.7L216.41 223.7L216.59 223.7L216.76 223.7L216.94 223.7L217.12 223.7L217.29 223.69L217.47 223.69L217.65 223.68L217.82 223.67L218 223.65L218.18 223.62L218.35 223.58L218.53 223.52L218.71 223.42L218.88 223.29L219.06 223.11L219.24 222.86L219.41 222.51L219.59 222.06L219.76 221.45L219.94 220.67L220.12 219.68L220.29 218.45L220.47 216.94L220.65 215.11L220.82 212.96L221 210.47L221.18 207.64L221.35 204.48L221.53 201.05L221.71 197.39L221.88 193.6L222.06 189.76L222.24 185.99L222.41 182.43L222.59 179.19L222.76 176.4L222.94 174.18L223.12 172.62L223.29 171.78L223.47 171.68L223.65 172.16L223.82 173.14L224 174.61L224.18 176.52L224.35 178.81L224.53 181.43L224.71 184.29L224.88 187.33L225.06 190.48L225.24 193.66L225.41 196.81L225.59 199.88L225.76 202.81L225.94 205.56L226.12 208.11L226.29 210.44L226.47 212.53L226.65 214.39L226.82 216.02L227 217.43L227.18 218.63L227.35 219.64L227.53 220.48L227.71 221.18L227.88 221.74L228.06 222.2L228.24 222.56L228.41 222.84L228.59 223.06L228.76 223.23L228.94 223.35L229.12 223.45L229.29 223.52L229.47 223.57L229.65 223.61L229.82 223.64L230 223.66L230.18 223.67L230.35 223.68L230.53 223.69L230.71 223.69L230.88 223.69L231.06 223.7L231.24 223.7L231.41 223.7L231.59 223.7L231.76 223.7L231.94 223.7L232.12 223.7L232.29 223.7L232.47 223.7L232.65 223.7L232.82 223.7L233 223.7L233.18 223.7L233.35 223.7L233.53 223.7L233.71 223.7L233.88 223.7L234.06 223.7L234.24 223.7L234.41 223.7L234.59 223.7L234.76 223.7L234.94 223.7L235.12 223.7L235.29 223.7L235.47 223.7L235.65 223.7L235.82 223.7L236 223.7L236 223.7L215 223.7Z" fill="#f1ddd8"/>
<path d="M217 223.7L217.18 223.7L217.35 223.7L217.53 223.7L217.71 223.7L217.88 223.7L218.06 223.7L218.24 223.7L218.41 223.7L218.59 223.7L218.76 223.7L218.94 223.7L219.12 223.7L219.29 223.69L219.47 223.69L219.65 223.68L219.82 223.67L220 223.65L220.18 223.63L220.35 223.59L220.53 223.53L220.71 223.45L220.88 223.33L221.06 223.17L221.24 222.95L221.41 222.66L221.59 222.26L221.76 221.74L221.94 221.07L222.12 220.22L222.29 219.16L222.47 217.86L222.65 216.28L222.82 214.41L223 212.23L223.18 209.73L223.35 206.93L223.53 203.83L223.71 200.49L223.88 196.96L224.06 193.31L224.24 189.65L224.41 186.06L224.59 182.67L224.76 179.59L224.94 176.92L225.12 174.78L225.29 173.25L225.47 172.38L225.65 172.2L225.82 172.54L226 173.32L226.18 174.51L226.35 176.08L226.53 178L226.71 180.21L226.88 182.68L227.06 185.34L227.24 188.13L227.41 191.01L227.59 193.91L227.76 196.78L227.94 199.59L228.12 202.29L228.29 204.85L228.47 207.25L228.65 209.46L228.82 211.49L229 213.31L229.18 214.94L229.35 216.38L229.53 217.63L229.71 218.71L229.88 219.64L230.06 220.42L230.24 221.07L230.41 221.61L230.59 222.06L230.76 222.42L230.94 222.71L231.12 222.94L231.29 223.12L231.47 223.26L231.65 223.37L231.82 223.46L232 223.52L232.18 223.57L232.35 223.61L232.53 223.63L232.71 223.65L232.88 223.67L233.06 223.68L233.24 223.68L233.41 223.69L233.59 223.69L233.76 223.69L233.94 223.7L234.12 223.7L234.29 223.7L234.47 223.7L234.65 223.7L234.82 223.7L235 223.7L235.18 223.7L235.35 223.7L235.53 223.7L235.71 223.7L235.88 223.7L236.06 223.7L236.24 223.7L236.41 223.7L236.59 223.7L236.76 223.7L236.94 223.7L237.12 223.7L237.29 223.7L237.47 223.7L237.65 223.7L237.82 223.7L238 223.7L238 223.7L217 223.7Z" fill="rgba(150,135,135,0.55)"/>
<path d="M236 223.69L236.25 223.68L236.5 223.67L236.76 223.67L237.01 223.65L237.26 223.64L237.51 223.62L237.76 223.59L238.02 223.55L238.27 223.51L238.52 223.45L238.77 223.38L239.03 223.29L239.28 223.18L239.53 223.04L239.78 222.87L240.03 222.66L240.29 222.41L240.54 222.11L240.79 221.74L241.04 221.31L241.29 220.8L241.55 220.21L241.8 219.52L242.05 218.72L242.3 217.81L242.55 216.78L242.81 215.62L243.06 214.31L243.31 212.87L243.56 211.28L243.82 209.54L244.07 207.67L244.32 205.65L244.57 203.51L244.82 201.25L245.08 198.9L245.33 196.47L245.58 193.98L245.83 191.47L246.08 188.97L246.34 186.5L246.59 184.1L246.84 181.81L247.09 179.66L247.34 177.68L247.6 175.92L247.85 174.39L248.1 173.13L248.35 172.16L248.61 171.49L248.86 171.14L249.11 171.12L249.36 171.37L249.61 171.89L249.87 172.68L250.12 173.71L250.37 174.97L250.62 176.45L250.87 178.12L251.13 179.96L251.38 181.94L251.63 184.03L251.88 186.22L252.13 188.47L252.39 190.76L252.64 193.06L252.89 195.34L253.14 197.59L253.39 199.79L253.65 201.91L253.9 203.95L254.15 205.89L254.4 207.72L254.66 209.44L254.91 211.04L255.16 212.52L255.41 213.88L255.66 215.11L255.92 216.23L256.17 217.24L256.42 218.14L256.67 218.94L256.92 219.65L257.18 220.26L257.43 220.8L257.68 221.27L257.93 221.67L258.18 222.02L258.44 222.31L258.69 222.56L258.94 222.77L259.19 222.94L259.45 223.09L259.7 223.21L259.95 223.31L260.2 223.39L260.45 223.45L260.71 223.5L260.96 223.55L261.21 223.58L261.46 223.61L261.71 223.63L261.97 223.64L262.22 223.66L262.47 223.67L262.72 223.68L262.97 223.68L263.23 223.69L263.48 223.69L263.73 223.69L263.98 223.69L264.24 223.7L264.49 223.7L264.74 223.7L264.99 223.7L265.24 223.7L265.5 223.7L265.75 223.7L266 223.7L266 223.7L236 223.7Z" fill="#e5eaf4"/>
<path d="M215 223.7L215.18 223.7L215.35 223.7L215.53 223.7L215.71 223.7L215.88 223.7L216.06 223.7L216.24 223.7L216.41 223.7L216.59 223.7L216.76 223.7L216.94 223.7L217.12 223.7L217.29 223.69L217.47 223.69L217.65 223.68L217.82 223.67L218 223.65L218.18 223.62L218.35 223.58L218.53 223.52L218.71 223.42L218.88 223.29L219.06 223.11L219.24 222.86L219.41 222.51L219.59 222.06L219.76 221.45L219.94 220.67L220.12 219.68L220.29 218.45L220.47 216.94L220.65 215.11L220.82 212.96L221 210.47L221.18 207.64L221.35 204.48L221.53 201.05L221.71 197.39L221.88 193.6L222.06 189.76L222.24 185.99L222.41 182.43L222.59 179.19L222.76 176.4L222.94 174.18L223.12 172.62L223.29 171.78L223.47 171.68L223.65 172.16L223.82 173.14L224 174.61L224.18 176.52L224.35 178.81L224.53 181.43L224.71 184.29L224.88 187.33L225.06 190.48L225.24 193.66L225.41 196.81L225.59 199.88L225.76 202.81L225.94 205.56L226.12 208.11L226.29 210.44L226.47 212.53L226.65 214.39L226.82 216.02L227 217.43L227.18 218.63L227.35 219.64L227.53 220.48L227.71 221.18L227.88 221.74L228.06 222.2L228.24 222.56L228.41 222.84L228.59 223.06L228.76 223.23L228.94 223.35L229.12 223.45L229.29 223.52L229.47 223.57L229.65 223.61L229.82 223.64L230 223.66L230.18 223.67L230.35 223.68L230.53 223.69L230.71 223.69L230.88 223.69L231.06 223.7L231.24 223.7L231.41 223.7L231.59 223.7L231.76 223.7L231.94 223.7L232.12 223.7L232.29 223.7L232.47 223.7L232.65 223.7L232.82 223.7L233 223.7L233.18 223.7L233.35 223.7L233.53 223.7L233.71 223.7L233.88 223.7L234.06 223.7L234.24 223.7L234.41 223.7L234.59 223.7L234.76 223.7L234.94 223.7L235.12 223.7L235.29 223.7L235.47 223.7L235.65 223.7L235.82 223.7L236 223.7" fill="none" stroke="#d9603c" stroke-width="0.9" stroke-linejoin="round"/>
<path d="M217 223.7L217.18 223.7L217.35 223.7L217.53 223.7L217.71 223.7L217.88 223.7L218.06 223.7L218.24 223.7L218.41 223.7L218.59 223.7L218.76 223.7L218.94 223.7L219.12 223.7L219.29 223.69L219.47 223.69L219.65 223.68L219.82 223.67L220 223.65L220.18 223.63L220.35 223.59L220.53 223.53L220.71 223.45L220.88 223.33L221.06 223.17L221.24 222.95L221.41 222.66L221.59 222.26L221.76 221.74L221.94 221.07L222.12 220.22L222.29 219.16L222.47 217.86L222.65 216.28L222.82 214.41L223 212.23L223.18 209.73L223.35 206.93L223.53 203.83L223.71 200.49L223.88 196.96L224.06 193.31L224.24 189.65L224.41 186.06L224.59 182.67L224.76 179.59L224.94 176.92L225.12 174.78L225.29 173.25L225.47 172.38L225.65 172.2L225.82 172.54L226 173.32L226.18 174.51L226.35 176.08L226.53 178L226.71 180.21L226.88 182.68L227.06 185.34L227.24 188.13L227.41 191.01L227.59 193.91L227.76 196.78L227.94 199.59L228.12 202.29L228.29 204.85L228.47 207.25L228.65 209.46L228.82 211.49L229 213.31L229.18 214.94L229.35 216.38L229.53 217.63L229.71 218.71L229.88 219.64L230.06 220.42L230.24 221.07L230.41 221.61L230.59 222.06L230.76 222.42L230.94 222.71L231.12 222.94L231.29 223.12L231.47 223.26L231.65 223.37L231.82 223.46L232 223.52L232.18 223.57L232.35 223.61L232.53 223.63L232.71 223.65L232.88 223.67L233.06 223.68L233.24 223.68L233.41 223.69L233.59 223.69L233.76 223.69L233.94 223.7L234.12 223.7L234.29 223.7L234.47 223.7L234.65 223.7L234.82 223.7L235 223.7L235.18 223.7L235.35 223.7L235.53 223.7L235.71 223.7L235.88 223.7L236.06 223.7L236.24 223.7L236.41 223.7L236.59 223.7L236.76 223.7L236.94 223.7L237.12 223.7L237.29 223.7L237.47 223.7L237.65 223.7L237.82 223.7L238 223.7" fill="none" stroke="#111" stroke-width="1.1" stroke-linejoin="round"/>
<path d="M216 223.7L216.17 223.7L216.34 223.7L216.5 223.7L216.67 223.7L216.84 223.7L217.01 223.7L217.18 223.7L217.34 223.69L217.51 223.69L217.68 223.69L217.85 223.68L218.02 223.67L218.18 223.66L218.35 223.64L218.52 223.61L218.69 223.57L218.86 223.51L219.03 223.44L219.19 223.33L219.36 223.19L219.53 223L219.7 222.76L219.87 222.44L220.03 222.04L220.2 221.53L220.37 220.89L220.54 220.11L220.71 219.16L220.87 218.02L221.04 216.67L221.21 215.1L221.38 213.29L221.55 211.24L221.71 208.95L221.88 206.43L222.05 203.7L222.22 200.79L222.39 197.75L222.55 194.63L222.72 191.5L222.89 188.41L223.06 185.46L223.23 182.71L223.39 180.24L223.56 178.14L223.73 176.45L223.9 175.24L224.07 174.55L224.24 174.39L224.4 174.66L224.57 175.31L224.74 176.33L224.91 177.68L225.08 179.35L225.24 181.29L225.41 183.46L225.58 185.81L225.75 188.31L225.92 190.9L226.08 193.53L226.25 196.18L226.42 198.78L226.59 201.32L226.76 203.75L226.92 206.06L227.09 208.22L227.26 210.22L227.43 212.06L227.6 213.72L227.76 215.21L227.93 216.54L228.1 217.71L228.27 218.72L228.44 219.6L228.61 220.34L228.77 220.98L228.94 221.51L229.11 221.95L229.28 222.31L229.45 222.61L229.61 222.85L229.78 223.04L229.95 223.19L230.12 223.31L230.29 223.41L230.45 223.48L230.62 223.54L230.79 223.58L230.96 223.61L231.13 223.64L231.29 223.65L231.46 223.67L231.63 223.68L231.8 223.68L231.97 223.69L232.13 223.69L232.3 223.69L232.47 223.7L232.64 223.7L232.81 223.7L232.97 223.7L233.14 223.7L233.31 223.7L233.48 223.7L233.65 223.7L233.82 223.7L233.98 223.7L234.15 223.7L234.32 223.7L234.49 223.7L234.66 223.7L234.82 223.7L234.99 223.7L235.16 223.7L235.33 223.7L235.5 223.7L235.66 223.7L235.83 223.7L236 223.7" fill="none" stroke="#8a6a9a" stroke-width="1" stroke-dasharray="0.9 1.3" stroke-linejoin="round"/>
<path d="M236 223.69L236.25 223.68L236.5 223.67L236.76 223.67L237.01 223.65L237.26 223.64L237.51 223.62L237.76 223.59L238.02 223.55L238.27 223.51L238.52 223.45L238.77 223.38L239.03 223.29L239.28 223.18L239.53 223.04L239.78 222.87L240.03 222.66L240.29 222.41L240.54 222.11L240.79 221.74L241.04 221.31L241.29 220.8L241.55 220.21L241.8 219.52L242.05 218.72L242.3 217.81L242.55 216.78L242.81 215.62L243.06 214.31L243.31 212.87L243.56 211.28L243.82 209.54L244.07 207.67L244.32 205.65L244.57 203.51L244.82 201.25L245.08 198.9L245.33 196.47L245.58 193.98L245.83 191.47L246.08 188.97L246.34 186.5L246.59 184.1L246.84 181.81L247.09 179.66L247.34 177.68L247.6 175.92L247.85 174.39L248.1 173.13L248.35 172.16L248.61 171.49L248.86 171.14L249.11 171.12L249.36 171.37L249.61 171.89L249.87 172.68L250.12 173.71L250.37 174.97L250.62 176.45L250.87 178.12L251.13 179.96L251.38 181.94L251.63 184.03L251.88 186.22L252.13 188.47L252.39 190.76L252.64 193.06L252.89 195.34L253.14 197.59L253.39 199.79L253.65 201.91L253.9 203.95L254.15 205.89L254.4 207.72L254.66 209.44L254.91 211.04L255.16 212.52L255.41 213.88L255.66 215.11L255.92 216.23L256.17 217.24L256.42 218.14L256.67 218.94L256.92 219.65L257.18 220.26L257.43 220.8L257.68 221.27L257.93 221.67L258.18 222.02L258.44 222.31L258.69 222.56L258.94 222.77L259.19 222.94L259.45 223.09L259.7 223.21L259.95 223.31L260.2 223.39L260.45 223.45L260.71 223.5L260.96 223.55L261.21 223.58L261.46 223.61L261.71 223.63L261.97 223.64L262.22 223.66L262.47 223.67L262.72 223.68L262.97 223.68L263.23 223.69L263.48 223.69L263.73 223.69L263.98 223.69L264.24 223.7L264.49 223.7L264.74 223.7L264.99 223.7L265.24 223.7L265.5 223.7L265.75 223.7L266 223.7" fill="none" stroke="#4f7cc0" stroke-width="1.2" stroke-linejoin="round"/>
<line x1="192.2" y1="223.7" x2="319" y2="223.7" stroke="#111" stroke-width="1.3"/>
<text x="168.6" y="195.1" font-size="9.6" text-anchor="middle" textLength="81.5" lengthAdjust="spacingAndGlyphs" transform="rotate(-90 168.6 195.1)">Normalized to mode</text>
<text x="255.2" y="251.5" font-size="9.8" text-anchor="middle" textLength="40.5" lengthAdjust="spacingAndGlyphs">eFluor506</text>
<rect x="336.6" y="174.6" width="6.6" height="6.6" fill="#fff" stroke="#7d5a90" stroke-width="1"/>
<text x="348.6" y="180.2" font-size="6.6" textLength="13" lengthAdjust="spacingAndGlyphs">FMO</text>
<rect x="336.6" y="186" width="6.6" height="6.6" fill="#f6e3de" stroke="#d9603c" stroke-width="1"/>
<text x="348.6" y="191.6" font-size="6.6" textLength="18.5" lengthAdjust="spacingAndGlyphs">rsPMN</text>
<rect x="336.6" y="197.4" width="6.6" height="6.6" fill="#cfc8c8" stroke="#222" stroke-width="1"/>
<text x="348.6" y="203" font-size="6.6" textLength="17.5" lengthAdjust="spacingAndGlyphs">pPMN</text>
<rect x="336.6" y="208.8" width="6.6" height="6.6" fill="#e8edf5" stroke="#5f86c2" stroke-width="1"/>
<text x="348.6" y="214.4" font-size="6.6" textLength="31.5" lengthAdjust="spacingAndGlyphs">Heat Killed</text>
<text x="43.2" y="306.4" font-size="6.3" textLength="20.6" lengthAdjust="spacingAndGlyphs">Time =</text>
<path d="M78.5 365.7h0.8M82 370.1h0.8M78.3 360.9h0.8M78.5 366.1h0.8M80.3 357.4h0.8M74.7 367.7h0.8M87.8 359.7h0.8M81.9 361.8h0.8M82.1 368.6h0.8M81 368.6h0.8M92.3 362.8h0.8M89.8 366.8h0.8M73.3 366.8h0.8M89.9 359.4h0.8M91.6 360.2h0.8M84.2 360.5h0.8M80.2 364.4h0.8M92.6 370.8h0.8M79.9 368.7h0.8M91.7 362.2h0.8M90.5 360.1h0.8M77.2 364h0.8M83 364.1h0.8M77.1 357.5h0.8M85.6 368.4h0.8M75 361.7h0.8M89.7 370.1h0.8M81.9 366.7h0.8M74.2 362.8h0.8M73.5 369.9h0.8M73.4 359.6h0.8M74.8 357.6h0.8M90.5 367.8h0.8M75.2 358.4h0.8M87.3 368.3h0.8M91 363.5h0.8M87.5 361.1h0.8M76.5 362.3h0.8M84 371.2h0.8M80.6 358.8h0.8" fill="none" stroke="#b83232" stroke-width="0.8" stroke-opacity="0.7"/>
<path d="M84.9 370h0.8M81.2 368.1h0.8M75.2 366.7h0.8M85.8 367.8h0.8M86 369.6h0.8M78.1 367.6h0.8M76.5 368.7h0.8M86.2 365.6h0.8M85.8 366.4h0.8M86.2 362.4h0.8M80.8 369.3h0.8M86.6 367.7h0.8M90.5 363.7h0.8M86 368h0.8M85.8 364.4h0.8" fill="none" stroke="#b83232" stroke-width="0.8" stroke-opacity="0.6"/>
<path d="M83.6 377.2h0.8M91.9 377h0.8M81.4 378.1h0.8M76.3 376.6h0.8M77.9 379.3h0.8M82 377.8h0.8M78 377.8h0.8M84.3 375.8h0.8M69.4 377.4h0.8M88.6 378.6h0.8M79.5 376.8h0.8M80.2 378.6h0.8M88 377.7h0.8M86.1 378.1h0.8M69.8 377.4h0.8M72.2 377.9h0.8M85.5 375.5h0.8M77.9 376.9h0.8M74.9 376.6h0.8M84.9 377.1h0.8M79.4 376.6h0.8M82.5 375.9h0.8M75.3 377.4h0.8M77.4 377.3h0.8M79 377h0.8M81.7 377.8h0.8M86.1 376.7h0.8M70.6 377.8h0.8M75.3 377.7h0.8M75.6 376.2h0.8M80.7 377.7h0.8M75.7 376.8h0.8M80.4 377.3h0.8M86.5 376.6h0.8M80.8 378.2h0.8M87.1 377.4h0.8M79.8 374.6h0.8M69.4 376.2h0.8M79.7 375.9h0.8M81.7 376.8h0.8M76.2 377.6h0.8M79.1 377.1h0.8M87.4 375.4h0.8M82.7 375.1h0.8M73.6 377h0.8M72.5 376.7h0.8M83.8 377.7h0.8M83.4 377.5h0.8M72.9 377.2h0.8M78.8 378.2h0.8M80.4 377.3h0.8M85.8 377.6h0.8M84.8 376.6h0.8M93.8 377.4h0.8M76 378.5h0.8M69.5 376h0.8M79.4 375.9h0.8M86 376.6h0.8M73.4 378h0.8M73.7 377h0.8" fill="none" stroke="#b83232" stroke-width="0.8" stroke-opacity="0.8"/>
<path d="M99.5 363.2h0.8M93.9 367.7h0.8M96.1 361.4h0.8M92.1 368h0.8M95.9 370.5h0.8M96.2 371.1h0.8M93.5 370h0.8M99.8 367.3h0.8M92.4 370.3h0.8M92.8 363.6h0.8M98.5 370.8h0.8M97.5 367.4h0.8" fill="none" stroke="#555555" stroke-width="0.8" stroke-opacity="0.6"/>
<path d="M58.3 373.5H69.1a2.3 2.3 0 0 1 0 4.6H58.3a2.3 2.3 0 0 1 0 -4.6Z" fill="#c84444" fill-opacity="1"/>
<path d="M58.3 373.5H69.1a2.3 2.3 0 0 1 0 4.6H58.3a2.3 2.3 0 0 1 0 -4.6ZM60.06 374.25H67.35a1.55 1.55 0 0 1 0 3.1H60.06a1.55 1.55 0 0 1 0 -3.1ZM61.81 375H65.59a0.8 0.8 0 0 1 0 1.61H61.81a0.8 0.8 0 0 1 0 -1.61Z" fill="none" stroke="#fff" stroke-width="0.5" stroke-opacity="0.6"/>
<path d="M97.7 373.6H112.3a2.7 2.7 0 0 1 0 5.4H97.7a2.7 2.7 0 0 1 0 -5.4Z" fill="#8a8a8a" fill-opacity="1"/>
<path d="M97.7 373.6H112.3a2.7 2.7 0 0 1 0 5.4H97.7a2.7 2.7 0 0 1 0 -5.4ZM99.4 374.23H110.6a2.07 2.07 0 0 1 0 4.14H99.4a2.07 2.07 0 0 1 0 -4.14ZM101.11 374.86H108.89a1.44 1.44 0 0 1 0 2.88H101.11a1.44 1.44 0 0 1 0 -2.88ZM102.81 375.49H107.19a0.81 0.81 0 0 1 0 1.62H102.81a0.81 0.81 0 0 1 0 -1.62Z" fill="none" stroke="#333" stroke-width="0.5" stroke-opacity="0.7"/>
<path d="M100 376.3H113" stroke="#3a3a3a" stroke-width="1.6" stroke-linecap="round"/>
<rect x="47.5" y="320.4" width="72.3" height="51.6" fill="none" stroke="#5a5a5a" stroke-width="0.95"/>
<path d="M46.98 396.6v2.9M60.09 396.6v2.9M74.2 396.6v2.9M97.19 396.6v2.9M116.87 396.6v2.9M56.94 396.6v1.7M54.54 396.6v1.7M52.8 396.6v1.7M51.47 396.6v1.7M50.4 396.6v1.7M49.51 396.6v1.7M48.75 396.6v1.7M48.09 396.6v1.7M47.51 396.6v1.7M63.49 396.6v1.7M66.07 396.6v1.7M67.94 396.6v1.7M69.37 396.6v1.7M70.52 396.6v1.7M71.48 396.6v1.7M72.3 396.6v1.7M73.01 396.6v1.7M73.64 396.6v1.7M81.12 396.6v1.7M85.17 396.6v1.7M88.05 396.6v1.7M90.27 396.6v1.7M92.09 396.6v1.7M93.63 396.6v1.7M94.97 396.6v1.7M96.14 396.6v1.7M103.12 396.6v1.7M106.58 396.6v1.7M109.04 396.6v1.7M110.94 396.6v1.7M112.5 396.6v1.7M113.82 396.6v1.7M114.96 396.6v1.7M115.97 396.6v1.7M122.79 396.6v1.7M42 390.97h-2.9M42 377.45h-2.9M42 363h-2.9M42 339.98h-2.9M42 320.83h-2.9M42 380.7h-1.7M42 383.17h-1.7M42 384.97h-1.7M42 386.34h-1.7M42 387.45h-1.7M42 388.36h-1.7M42 389.14h-1.7M42 389.83h-1.7M42 390.43h-1.7M42 373.97h-1.7M42 371.33h-1.7M42 369.41h-1.7M42 367.94h-1.7M42 366.77h-1.7M42 365.79h-1.7M42 364.95h-1.7M42 364.22h-1.7M42 363.58h-1.7M42 356.07h-1.7M42 352.02h-1.7M42 349.14h-1.7M42 346.91h-1.7M42 345.09h-1.7M42 343.55h-1.7M42 342.21h-1.7M42 341.04h-1.7M42 334.22h-1.7M42 330.85h-1.7M42 328.45h-1.7M42 326.6h-1.7M42 325.08h-1.7M42 323.8h-1.7M42 322.69h-1.7M42 321.71h-1.7M42 315.07h-1.7" stroke="#222" stroke-width="0.8" fill="none"/>
<rect x="42" y="312.6" width="83" height="84" fill="none" stroke="#111" stroke-width="1.3"/>
<text x="46.98" y="410.4" font-size="6.4" text-anchor="middle">-10<tspan font-size="4.35" dy="-2.88">3</tspan></text>
<text x="60.09" y="410.4" font-size="6.4" text-anchor="middle">0</text>
<text x="74.2" y="410.4" font-size="6.4" text-anchor="middle">10<tspan font-size="4.35" dy="-2.88">3</tspan></text>
<text x="97.19" y="410.4" font-size="6.4" text-anchor="middle">10<tspan font-size="4.35" dy="-2.88">4</tspan></text>
<text x="116.87" y="410.4" font-size="6.4" text-anchor="middle">10<tspan font-size="4.35" dy="-2.88">5</tspan></text>
<text x="35.4" y="393.15" font-size="6.4" text-anchor="end">-10<tspan font-size="4.35" dy="-2.88">3</tspan></text>
<text x="35.1" y="379.62" font-size="6.4" text-anchor="end">0</text>
<text x="35.4" y="365.18" font-size="6.4" text-anchor="end">10<tspan font-size="4.35" dy="-2.88">3</tspan></text>
<text x="35.4" y="342.16" font-size="6.4" text-anchor="end">10<tspan font-size="4.35" dy="-2.88">4</tspan></text>
<text x="35.4" y="323.01" font-size="6.4" text-anchor="end">10<tspan font-size="4.35" dy="-2.88">5</tspan></text>
<text x="83.5" y="306.4" font-size="6.3" text-anchor="middle">0</text>
<path d="M152 366h0.8M154.6 343.5h0.8M152.5 370.5h0.8M151.3 361.9h0.8M165 373.1h0.8M154.4 377.2h0.8M149.6 345.3h0.8M152.9 376.6h0.8M158.7 376.5h0.8M164.1 377.3h0.8M152.2 368h0.8M155.8 376.1h0.8M153.9 376.6h0.8M165.7 371.8h0.8M154.1 376.2h0.8M161.1 375.8h0.8M158.4 378.4h0.8M167.6 378.8h0.8M152.2 356.4h0.8M155.9 374.6h0.8M151.4 376.2h0.8M156.2 341h0.8M159.4 342.1h0.8M164.1 374.9h0.8M163.9 374.9h0.8M164.2 346.1h0.8M153.1 371.7h0.8M164.4 336.4h0.8M151.8 346.1h0.8M164.6 377.7h0.8M151.4 338.6h0.8M152.2 369.1h0.8M163.6 344.9h0.8M154.2 374.1h0.8M162.9 343.2h0.8M155.7 376.2h0.8M165.8 349h0.8M159.6 342.8h0.8M165.7 337.3h0.8M164.4 346h0.8M166.2 367.1h0.8M167.3 377.5h0.8M164.6 375.6h0.8M157.3 342.5h0.8M165.6 354.3h0.8M164.2 345.2h0.8M166.3 378h0.8M150.7 350.3h0.8M160.2 334.8h0.8M153.1 349.7h0.8M151.1 365.9h0.8M150.3 371.5h0.8M151.6 344.1h0.8M152 378.7h0.8M150.3 344.5h0.8M165.7 376.6h0.8M155.3 343h0.8M156.9 344.3h0.8M150.9 371.3h0.8M164.9 368.5h0.8M155.4 340.4h0.8M152.4 357.9h0.8M166.2 354.4h0.8M161.6 376.8h0.8M148.8 378.7h0.8M152.6 373.3h0.8M150.7 377h0.8M155.2 377h0.8M162.6 342h0.8M154.3 340.5h0.8M163.4 342.6h0.8M152.2 378.7h0.8M151.6 365.5h0.8M154 376.7h0.8M160.8 341.7h0.8M164.1 375.9h0.8M149.5 346.4h0.8M155.7 339.9h0.8M166.8 348.2h0.8M166.2 364.1h0.8M155.4 339.5h0.8M164.3 376.3h0.8M149.9 348.9h0.8M157.3 375.8h0.8M165.6 366.1h0.8M167 347.9h0.8M167.1 344.3h0.8M151.9 353h0.8M151.6 354.9h0.8M165.9 352h0.8M157.4 337.9h0.8M168.3 351.7h0.8M155.5 378h0.8M150.8 346.4h0.8M163.7 344.6h0.8M164.6 348.8h0.8M163 373.2h0.8M152.2 351h0.8M150.8 347.6h0.8M166.6 372.5h0.8M153.2 342.4h0.8M162.3 375.9h0.8M166.8 361.2h0.8M155.8 377.3h0.8M150.2 354.9h0.8M151.4 369.3h0.8M150.5 364.9h0.8M152.6 371.6h0.8M158.4 340.6h0.8M163.9 340.3h0.8M157.9 343.9h0.8M167.8 369.3h0.8M163.2 374.4h0.8M150.7 374.9h0.8M165.4 367.9h0.8M157.7 342.3h0.8M164.9 336.8h0.8M165.1 344.8h0.8M167 372.9h0.8M158.1 378h0.8M164.5 343.7h0.8M151.7 352.2h0.8M160.4 335.1h0.8M149.5 352.3h0.8M152 351h0.8M166.4 365.2h0.8M152.2 370.9h0.8M164.2 374.1h0.8M166.1 346.3h0.8M160.1 378.4h0.8M157.4 343.7h0.8M149.9 355.5h0.8M151 367.4h0.8M167.3 357h0.8M165.8 372.1h0.8M163.8 376.2h0.8M160 375.2h0.8M150.8 376.3h0.8M162.1 335.6h0.8M162.5 376.6h0.8M151.5 348.8h0.8M165.3 374.3h0.8M167.2 369.1h0.8M153.3 339.3h0.8M166.9 377.1h0.8M156.5 374.8h0.8M167.2 373.1h0.8M165.4 365.9h0.8M158.9 341h0.8M152.4 349.9h0.8M151.7 348.1h0.8M165.7 376.7h0.8M150.7 370.9h0.8M165.1 350.5h0.8M150.9 347.5h0.8M163.8 373.8h0.8M155.6 377.4h0.8M161.2 341.8h0.8M158.7 340.3h0.8M162.7 342.5h0.8M151.8 348.4h0.8M151.9 341.3h0.8M153.9 345.5h0.8M164.6 371.4h0.8M151.9 351.5h0.8M161.2 342.9h0.8M165.6 349.5h0.8M160.5 340.6h0.8M156.6 345.1h0.8M165 351.6h0.8M152.5 374.6h0.8M151.8 351.5h0.8M150.4 346.7h0.8M158.2 344.1h0.8M164.7 345.2h0.8M161.2 375.2h0.8M164.3 348.5h0.8M164.8 375.6h0.8M164.6 371.2h0.8M152.3 342.1h0.8M149.6 348.7h0.8M164.7 376.1h0.8M167 367.6h0.8M152.5 341.6h0.8M151 350.5h0.8M167.1 372h0.8M166.4 362.7h0.8M163.5 339.3h0.8M165 367.2h0.8M151.8 368.3h0.8M158.9 377.5h0.8M152.1 348.9h0.8M163.1 374.6h0.8M167.1 365.4h0.8M164.9 369.5h0.8M169.9 375.6h0.8M166.5 367.3h0.8M153.9 344.2h0.8M155 376.1h0.8M163.7 375.8h0.8M157.5 338.8h0.8M165.9 350.1h0.8M162.4 377.7h0.8M165.9 346.1h0.8M165.9 343.2h0.8M162.5 378.5h0.8M169 351.5h0.8M160.9 374.7h0.8M158.4 377.3h0.8M156.2 338.9h0.8M152.3 373.6h0.8M151.8 377.9h0.8M150.9 350.5h0.8M161.6 340.8h0.8M161.3 375.8h0.8M151.6 346.2h0.8M157.9 377.8h0.8M150.4 343.3h0.8M156.1 343.9h0.8M151.9 367h0.8M165.9 350.6h0.8M165.1 349.4h0.8M163.6 375h0.8M154.3 375h0.8M165.1 373.2h0.8M158.6 344.1h0.8M161.6 375.2h0.8M163.9 377.7h0.8M162.8 377.2h0.8M151.6 351.7h0.8M167.6 337.3h0.8M166.7 362.3h0.8M153.5 378.3h0.8M159.5 378h0.8M165.1 369.1h0.8M163.8 376.6h0.8M165.1 372.1h0.8M155.7 339.4h0.8M166 368.7h0.8M151 366.3h0.8M152.4 350.5h0.8M151.7 367.5h0.8M163.8 373h0.8M157.1 343.9h0.8M165.2 354.3h0.8M167.2 343.7h0.8M158.9 342.7h0.8M163.6 378.7h0.8M154.9 375.1h0.8M168.2 345.9h0.8M153.6 373h0.8M149.6 352.5h0.8M151.4 370.3h0.8M167 373.4h0.8M163.1 343.3h0.8M166.2 342.2h0.8M159.3 378.7h0.8M159.3 342.6h0.8M166.1 354.9h0.8M163.8 340.8h0.8M151 361.8h0.8M165.6 372.2h0.8M150.4 346.5h0.8M162.4 342.9h0.8M166.4 346.5h0.8M152.1 348h0.8M169.3 354h0.8M164.2 345.5h0.8M152.1 350.5h0.8M163.9 347.4h0.8M162.6 373.5h0.8M163.2 374.7h0.8M159.3 378.1h0.8M165.2 352.6h0.8M151.1 373h0.8M166.1 341.2h0.8M165.1 377.2h0.8M154.4 373.3h0.8M155.5 377.6h0.8M150 346.9h0.8M166.9 357.4h0.8M154.2 346.4h0.8M164.7 344.6h0.8M153.9 347.3h0.8M165.8 372.4h0.8M164.2 371.3h0.8M164 376.7h0.8M164.9 375.7h0.8M166.1 345.6h0.8M166.8 375.3h0.8M166.4 346.5h0.8M164.5 348.3h0.8M151.4 351.3h0.8M159.2 376.7h0.8M150.5 342.7h0.8M169.2 344.2h0.8M165.8 364.3h0.8M166.3 348.3h0.8M151.3 362.9h0.8M165.2 349.6h0.8M151.8 369.4h0.8M154.7 345.1h0.8M150.2 352.7h0.8M161.1 375.1h0.8M165.1 366.8h0.8M155.3 375.2h0.8M152.3 370.7h0.8M165.9 353.5h0.8M155.1 345.3h0.8M151.2 375.7h0.8M157.6 343.2h0.8M153.7 346.4h0.8M149.7 339h0.8M154.2 376.9h0.8M149.5 351.9h0.8M150.3 353.8h0.8M160.4 374.9h0.8M149.7 363.8h0.8M165.6 351.3h0.8M167.5 355.5h0.8M165.8 373.1h0.8M162.4 345.8h0.8M162.1 375.9h0.8M165.3 352.8h0.8M155.7 345.3h0.8M156.6 377.2h0.8M151.8 358.9h0.8M162.1 343.5h0.8M158.1 378.2h0.8M152.8 339.8h0.8M165.1 375.4h0.8M169.7 370.6h0.8M163 346.2h0.8M153.3 376.3h0.8M160.7 378.5h0.8M160.4 339.9h0.8M160.7 343.9h0.8M152.6 349.6h0.8M158.8 342.9h0.8M165.9 346.8h0.8M166.3 376.4h0.8M166.8 354.9h0.8M153.7 376.4h0.8M161.4 342.5h0.8M167.8 355.8h0.8M151.3 372.5h0.8M152.4 368h0.8M151.6 347.3h0.8M152.5 352.6h0.8M152 378.3h0.8M150.8 340h0.8M165.6 354.9h0.8M150.6 374.2h0.8M165 373.4h0.8M152.1 367.6h0.8M153.5 372.8h0.8M165.9 354.8h0.8M162.9 375.6h0.8M163.2 338.5h0.8M165.3 349.1h0.8M163.6 342.2h0.8M166.6 372.4h0.8M154.2 344h0.8M153.9 372.7h0.8M155.1 338.6h0.8M163.2 374.8h0.8M148.7 366.6h0.8M163.5 378.3h0.8M164 347.1h0.8M151.2 369.1h0.8M155.2 340.7h0.8M167.4 371.5h0.8M156.5 342.5h0.8M164.3 371h0.8M165.4 367.9h0.8M166.2 343.9h0.8M149.4 369.2h0.8M162 342.9h0.8M153 347.6h0.8M163.1 378.8h0.8M159.4 344.5h0.8M154.8 343.2h0.8M148.8 362.5h0.8M151.8 353.5h0.8M159.3 343.3h0.8M160.6 339h0.8M151.8 374.3h0.8M150.3 356.6h0.8M165.6 353h0.8M162.4 342.9h0.8M154.1 341.1h0.8M153.9 377.1h0.8M166.6 350.8h0.8M165.3 353.4h0.8M153.6 348.2h0.8M152 376.4h0.8M152.1 348.7h0.8M165.4 368.3h0.8M160.1 376.1h0.8M161.5 342.8h0.8M163.3 374.1h0.8M162.3 345.9h0.8M156.9 338.7h0.8M150.6 370.9h0.8M155.5 377h0.8M154.8 377.9h0.8M157.8 344.7h0.8M166.9 355.3h0.8M164.9 346.1h0.8M160.9 375.9h0.8M164.7 345.4h0.8M159.3 342.1h0.8M157.5 375.4h0.8M155.7 375.1h0.8M154.8 343h0.8M155.7 342.8h0.8M151.2 376.6h0.8M157.8 340.6h0.8M151.5 369.8h0.8M163.4 342.7h0.8M163.2 375.9h0.8M154.3 346.7h0.8M159.2 336.3h0.8M153 377.5h0.8M151.5 366.6h0.8M160.5 378.3h0.8M161.9 344.4h0.8M163.5 377.7h0.8M161.9 345.3h0.8M155.9 338.3h0.8M151.5 342.1h0.8M152.7 346.2h0.8M162.5 342.8h0.8M164.6 372.9h0.8M167.1 351.9h0.8M160.7 344h0.8M154.4 373.4h0.8M156.2 344.2h0.8M167.6 364.1h0.8M150.7 374.6h0.8M164.9 374.2h0.8M166.6 372.4h0.8M158.7 378.8h0.8M153.9 377.6h0.8M166.9 349.6h0.8M165.7 340.8h0.8M149.4 351.8h0.8M158.3 332.9h0.8M154 341.8h0.8M161.6 341.5h0.8M159 378.8h0.8M166.2 369.7h0.8M158.3 376.9h0.8M164.5 347.5h0.8M151.4 355.5h0.8M163.4 340.6h0.8M166.3 371.3h0.8M166.5 362.5h0.8M154.4 373.4h0.8M151.2 372.8h0.8M160.3 338.8h0.8M156 375h0.8M165.8 354.7h0.8M155.1 336h0.8M162.7 344.3h0.8M159.2 337h0.8M159.1 376.7h0.8M165.5 377.4h0.8M160.3 342.4h0.8M161.4 377.1h0.8M163.7 347.5h0.8M158.4 377.8h0.8M164.9 349.4h0.8M163.3 339.3h0.8M161.8 341.5h0.8M161.1 344.1h0.8M152.1 355.4h0.8M165.4 354.2h0.8M150.8 348.8h0.8M153.4 337.6h0.8M164.4 371.6h0.8M151.9 343.9h0.8M163.2 344.8h0.8M157.2 341.5h0.8M158.7 378.6h0.8M153.3 343h0.8M152.6 371.2h0.8M150.6 351h0.8M165.9 375.7h0.8M159.5 341.6h0.8M165 367.9h0.8M160.9 343.5h0.8M165.4 365.5h0.8M164.5 344.3h0.8M160 375h0.8M162.6 339.7h0.8M156.6 378.5h0.8M160.8 338.8h0.8M150.1 371.5h0.8M160.8 342.1h0.8M159.8 343.9h0.8M163.8 372.8h0.8M164.5 344.1h0.8M165.1 373.1h0.8M152.1 345.5h0.8M154.2 344.1h0.8M163.1 344.9h0.8M157.4 344.7h0.8M160.6 342.4h0.8M164.5 348.4h0.8M166.8 365.1h0.8M153.8 377.9h0.8M162.6 342.6h0.8M152.2 370.9h0.8M163.8 341h0.8M150.5 364.1h0.8M152.4 370.3h0.8M167.6 344.5h0.8M153.9 373.5h0.8M157.8 343.9h0.8M159.7 341.2h0.8M165.5 364.6h0.8M164.2 347.4h0.8M159.4 343.5h0.8M152.1 377.9h0.8M168.1 351h0.8M154.4 376.4h0.8M151.8 346.3h0.8M167.3 345.6h0.8M153.5 348h0.8M168.3 372.5h0.8M166.8 369.8h0.8M158.6 344.3h0.8M151.5 372h0.8M151.7 358.4h0.8M153.3 345.3h0.8M162.6 342.8h0.8M151.4 368.2h0.8M157 343.5h0.8M167.5 341.8h0.8M151.2 358.7h0.8M152.3 372.7h0.8M152.2 356.7h0.8M157.9 341h0.8M157.2 339.6h0.8M150.7 368h0.8M151.7 356.9h0.8M152.5 372.5h0.8M163.5 373.8h0.8M152.6 369.2h0.8M155.6 375.1h0.8M163.6 346.8h0.8M157.3 342.9h0.8M164.7 374.1h0.8M166.5 371.7h0.8M149.5 374.2h0.8M166.3 372.5h0.8M166.9 346.1h0.8M167.6 367.1h0.8M147.6 353h0.8M152.2 349.4h0.8M152.6 370.3h0.8M163.2 341.9h0.8M167.4 348.2h0.8M151.5 344.4h0.8M161.9 377.9h0.8M166.8 356.7h0.8M151.3 347.3h0.8M165.4 366h0.8M153.4 374.3h0.8M156.1 343.7h0.8M164.2 340.4h0.8M164.5 370.9h0.8M161.6 333.6h0.8M160.9 374.7h0.8M165.8 373h0.8M159.9 377.2h0.8M152 372.3h0.8M162.8 376.4h0.8M167.9 347h0.8M166.7 373.5h0.8M153.5 345.7h0.8M160.8 338.2h0.8M165.5 360.1h0.8M163.7 347.1h0.8M152.5 345.3h0.8M163.8 372.1h0.8M165.5 352.9h0.8M165.1 343h0.8M157.2 339.1h0.8M149.2 353.3h0.8M152.3 350.3h0.8M150.2 370.1h0.8M165.2 374.4h0.8M158.7 340.2h0.8M167.3 372.7h0.8M162.6 345h0.8M151.4 358.2h0.8M163.6 340.6h0.8" fill="none" stroke="#b83232" stroke-width="0.8" stroke-opacity="0.75"/>
<path d="M164.9 373.3h0.8M167.4 363.5h0.8M170.5 347h0.8M178.1 362.4h0.8M171.8 365.2h0.8M169.9 366.5h0.8M176.3 361.9h0.8M171.5 357.3h0.8M181.2 364.1h0.8M174.7 350.1h0.8M174.3 353.3h0.8M178.7 339.4h0.8M172.8 341.8h0.8M172.9 374.3h0.8M178.9 367.3h0.8M178.1 366h0.8M176.1 369.7h0.8M167.3 373.7h0.8M175.3 373.6h0.8M182.1 338.5h0.8M167.5 348.9h0.8M181.1 363.3h0.8M176.5 373.1h0.8M170.1 341.9h0.8M176.5 351h0.8M167.2 369.2h0.8M171 372.5h0.8M169.5 345.4h0.8M168.6 363.6h0.8M177.3 350.9h0.8M173.1 343.8h0.8M168.4 355.4h0.8M166.8 347.2h0.8M172.4 352.6h0.8M180.8 362h0.8M177.9 345h0.8M177.9 346.7h0.8M182.6 338.8h0.8M178.3 369.2h0.8M174.1 362.3h0.8M178.8 375.1h0.8M171 369.3h0.8M182.3 359.4h0.8M166.2 362h0.8M180.1 359.1h0.8M164.1 353.9h0.8M167.7 373.5h0.8M172.9 364.7h0.8M171 361.4h0.8M171.4 373.2h0.8M174 366.1h0.8M170.1 368.6h0.8M172.5 356.4h0.8M169.3 363.3h0.8M164.3 355.2h0.8M174.5 342.7h0.8M168.9 357h0.8M176.5 359.1h0.8M177.7 338.8h0.8M169.4 366.5h0.8M172.3 343.9h0.8M181 355.5h0.8M169 376.2h0.8M181.9 354.5h0.8M169.9 366.5h0.8M168.8 351.5h0.8M177.5 356.5h0.8M175 364.3h0.8M167.6 348.7h0.8M181.5 367.2h0.8M170.8 365.6h0.8M165.8 347.7h0.8M177.4 347.7h0.8M169.3 365.2h0.8M182.7 367.5h0.8M173.3 362.2h0.8M178.6 348.5h0.8M170.2 354.6h0.8M164.6 371.6h0.8M180.5 362h0.8M165.9 375.7h0.8M180.2 358.1h0.8M166.5 366.4h0.8M181.7 342.2h0.8M180.2 370.1h0.8M176.8 343.3h0.8M166.3 357h0.8M169.8 375h0.8M178.9 347h0.8M181 357.1h0.8M165.1 355.7h0.8M182 350.7h0.8M177 374h0.8M177.1 369.2h0.8M171.5 339.2h0.8M172.1 356.7h0.8M171 376.5h0.8M179.5 345.4h0.8M181.8 338.9h0.8M179.6 358.8h0.8M181.9 344.2h0.8M178.6 348.1h0.8M179.8 376.5h0.8M168.4 368.8h0.8M170.7 374.9h0.8M182.6 355.1h0.8M167.3 348.3h0.8M179.8 356.2h0.8M165.2 348.4h0.8M170.5 348.7h0.8M165.6 373.2h0.8M176.7 359.4h0.8M175 357.2h0.8M178.9 355.4h0.8M181.1 362.9h0.8M172.5 356.3h0.8M182.5 367h0.8M178.6 344.8h0.8M179.4 354.6h0.8M164.8 367.8h0.8" fill="none" stroke="#b83232" stroke-width="0.8" stroke-opacity="0.7"/>
<path d="M152.05 368.75V350.25a6.75 6.75 0 0 1 13.5 0V368.75a6.75 6.75 0 0 1 -13.5 0Z" fill="none" stroke="#fff" stroke-width="1.7" stroke-opacity="0.85"/>
<path d="M152.05 368.75V350.25a6.75 6.75 0 0 1 13.5 0V368.75a6.75 6.75 0 0 1 -13.5 0Z" fill="#f5e2e2" fill-opacity="1"/>
<path d="M152.05 368.75V350.25a6.75 6.75 0 0 1 13.5 0V368.75a6.75 6.75 0 0 1 -13.5 0ZM152.79 369.15V352.73a5.99 5.99 0 0 1 11.98 0V369.15a5.99 5.99 0 0 1 -11.98 0ZM153.52 369.55V355.21a5.23 5.23 0 0 1 10.46 0V369.55a5.23 5.23 0 0 1 -10.46 0ZM154.26 369.95V357.69a4.47 4.47 0 0 1 8.94 0V369.95a4.47 4.47 0 0 1 -8.94 0ZM155 370.35V360.17a3.71 3.71 0 0 1 7.43 0V370.35a3.71 3.71 0 0 1 -7.43 0ZM155.73 370.75V362.65a2.95 2.95 0 0 1 5.91 0V370.75a2.95 2.95 0 0 1 -5.91 0ZM156.47 371.15V365.13a2.19 2.19 0 0 1 4.39 0V371.15a2.19 2.19 0 0 1 -4.39 0ZM157.21 371.55V367.61a1.43 1.43 0 0 1 2.87 0V371.55a1.43 1.43 0 0 1 -2.87 0ZM157.94 371.94V370.1a0.67 0.67 0 0 1 1.35 0V371.94a0.67 0.67 0 0 1 -1.35 0Z" fill="none" stroke="#b53333" stroke-width="0.42" stroke-opacity="0.6"/>
<ellipse cx="158.6" cy="372.3" rx="0.81" ry="1.28" fill="#fff" fill-opacity="0.95"/>
<path d="M199.1 377.6h0.8M211 366.1h0.8M209.4 373.3h0.8M195.9 350.5h0.8M201.3 343.3h0.8M199.2 378.9h0.8M199.5 375.8h0.8M210.2 371.2h0.8M209 349.1h0.8M198.1 346.8h0.8M197 377.3h0.8M209.9 353h0.8M209.7 370.9h0.8M197.4 375.2h0.8M209.2 348.2h0.8M210.3 374.9h0.8M207.6 343.5h0.8M193.7 373.5h0.8M198.6 377h0.8M202.8 346.6h0.8M200.7 376.5h0.8M201.4 346.4h0.8M210.5 352.7h0.8M202 376.9h0.8M196 349.9h0.8M201.4 345.7h0.8M200 377.5h0.8M210.7 375.8h0.8M211.1 353.7h0.8M195.4 349.6h0.8M194.9 355.1h0.8M194.8 374.4h0.8M210.5 375.9h0.8M210.8 346.7h0.8M207.4 348.3h0.8M194.8 369.6h0.8M195.7 350.3h0.8M210.5 348.8h0.8M209.8 347.7h0.8M205.5 345.7h0.8M198.7 375.8h0.8M198.3 376.8h0.8M206.7 375.2h0.8M196.8 378.1h0.8M201.8 377.8h0.8M211.2 362h0.8M195 369h0.8M195.3 350.5h0.8M205.8 376.7h0.8M204.4 376.7h0.8M207.5 347h0.8M194.4 353.2h0.8M211 353h0.8M209.5 348.6h0.8M201.2 378.1h0.8M195.6 372.3h0.8M212 367.3h0.8M204.7 346.2h0.8M194.4 352.7h0.8M208.3 347.3h0.8M211.7 368.3h0.8M200.6 376.1h0.8M206.9 345h0.8M206.8 377.6h0.8M209.1 372.6h0.8M205.3 346.3h0.8M196.6 348.7h0.8M211.5 370.5h0.8M206.4 347.5h0.8M194.3 370.7h0.8M194.4 354.2h0.8M195 341.8h0.8M196.4 343.7h0.8M203.9 344.7h0.8M201.5 377.4h0.8M198.1 345.7h0.8M209.8 350h0.8M208.9 375.2h0.8M196.7 376.7h0.8M198.1 347.3h0.8M194.6 367.6h0.8M195.9 350.7h0.8M207.2 376.8h0.8M209.7 370.6h0.8M194.2 367.4h0.8M206.6 375.3h0.8M197.3 378.7h0.8M195.9 347.6h0.8M210.9 372.1h0.8M197.7 376.6h0.8M194.9 354h0.8M206.7 378h0.8M194.3 352.2h0.8M203.1 346.2h0.8M205.6 376.5h0.8M194.8 367.4h0.8M194.7 368.3h0.8M210.1 369.8h0.8M192.9 367.5h0.8M211.4 349.7h0.8M195.2 371.3h0.8M211.2 352.5h0.8M196.2 350.2h0.8M210 353.5h0.8M197.2 347.6h0.8M196.9 345.8h0.8M200.7 343.8h0.8M195.2 350.2h0.8M207 376.6h0.8M200.5 377h0.8M194.5 365.1h0.8M194.5 347.9h0.8M197.1 348.8h0.8M201.2 345.4h0.8M207.1 347.6h0.8M209.3 372.4h0.8M196.5 375.4h0.8M209.3 349.7h0.8M194.6 372.5h0.8M208.7 376.5h0.8M201.9 377.2h0.8M202.6 377.6h0.8M195.4 374.3h0.8M204.6 342.7h0.8M210.1 371.6h0.8M194.9 348.8h0.8M206.5 345.9h0.8M201.4 346.2h0.8M195.8 374.2h0.8M194.6 366.4h0.8M210 371.3h0.8M206.8 379.3h0.8M210.7 375.1h0.8M205 376.2h0.8M204.6 346.2h0.8M194.7 370.2h0.8M206.3 346.7h0.8M194.9 356.9h0.8M211.6 351.9h0.8M210 354.3h0.8M210.1 367.4h0.8M196.2 373.9h0.8M199.3 343.4h0.8M210.3 356.1h0.8M204.4 377h0.8M209.2 372.5h0.8M209.6 345.8h0.8M210.2 350.6h0.8M203.8 346.7h0.8M208.4 346.8h0.8M202.6 378.1h0.8M200.8 376.3h0.8M196.3 347h0.8M210.9 362.5h0.8M207.6 348.4h0.8M193.7 353.1h0.8M198.5 347.4h0.8M210.7 364.6h0.8M197.7 375.7h0.8M197.5 375.4h0.8M197.5 343.3h0.8M210.6 373.5h0.8M209.5 373.6h0.8M196.5 378.2h0.8M195.6 348.4h0.8M209.9 371.3h0.8M197.7 346.3h0.8M204.7 343.3h0.8M194 370.7h0.8M197.2 373.9h0.8M204.7 344.1h0.8M199.9 379.3h0.8M209.7 375.4h0.8M197.7 346.3h0.8M195.8 347h0.8M209.4 347.4h0.8M195.5 375.4h0.8M210.3 346.6h0.8M194 353.7h0.8M198.1 378.2h0.8M196.6 345.1h0.8M196.8 376.5h0.8M197 375.2h0.8M205.4 376.1h0.8M197.5 375.8h0.8M209 350h0.8M206.6 376.5h0.8M204.6 378.5h0.8M196.6 378.3h0.8M209 372.5h0.8M195.4 350.2h0.8M200.2 346.7h0.8M203.4 346.4h0.8M209.2 350.1h0.8M206.5 375.7h0.8M206.2 378.1h0.8M208.8 377.3h0.8M196.1 349.7h0.8M196.8 349h0.8M196.5 373h0.8M208.9 373.3h0.8M200.7 345.4h0.8M209.7 372.9h0.8M210.7 368.9h0.8M202.2 344.5h0.8M200.4 376h0.8M204 379.1h0.8M196.4 348.1h0.8M194.3 366.5h0.8M199.9 377.1h0.8M207.6 345.9h0.8M204 342.6h0.8M211.8 349.4h0.8M209.9 375.8h0.8M199.5 347.2h0.8M200.9 376.6h0.8M204 343.1h0.8M195 370.1h0.8M200 345.3h0.8M198.2 376.3h0.8M199.7 378.4h0.8M198 377.1h0.8M195 373.8h0.8M208.7 373.4h0.8M196.7 348.2h0.8M199.4 345.3h0.8M208.7 347.4h0.8M206.8 344.5h0.8M207.4 347.4h0.8M204.1 345.8h0.8M209.3 373.6h0.8M195.3 352.4h0.8M198.9 377.3h0.8M201.7 345.7h0.8M208.1 378.1h0.8M194.5 370.9h0.8M202.5 343h0.8M205.4 376.1h0.8M207.5 346h0.8M211.2 353.9h0.8M194.1 368.3h0.8M209.2 372.7h0.8M206.6 378h0.8M210.7 353.4h0.8M201.8 378.2h0.8M196.9 348.7h0.8M208.5 377.3h0.8M197.9 374.6h0.8M208.1 348.6h0.8M196.4 345.8h0.8M199.5 346.2h0.8M208.8 378.2h0.8M195 368.8h0.8M196.4 349h0.8M196.1 375.2h0.8M208.5 347.2h0.8M210.9 350.8h0.8M210.4 371.6h0.8M194.4 357.1h0.8M194.5 349.9h0.8M210.4 373.9h0.8M206.7 375.5h0.8M197.4 376h0.8M197.2 374.2h0.8M195.6 373.6h0.8M212 351.3h0.8M198.4 344.7h0.8M195.2 371.3h0.8M197.2 374h0.8M196.2 350.3h0.8M195.2 374.2h0.8M195.3 345.9h0.8M201.2 379.1h0.8M197.4 348.2h0.8M196.1 372.2h0.8M197.2 375.5h0.8M194 350.1h0.8M194.4 373.8h0.8M209.9 368.2h0.8M203.2 377.8h0.8M194.7 355.7h0.8M202.7 377.7h0.8M194.1 357.8h0.8M197.2 376.7h0.8M202.4 344.5h0.8M209.9 372.4h0.8M200.6 377.6h0.8M192.4 350.5h0.8M196.1 375.1h0.8M200.5 345.2h0.8M205 346.9h0.8M208 377.7h0.8M197.1 347.2h0.8M211.7 370.1h0.8M210.5 365.5h0.8M208.7 373.8h0.8M209.9 375.2h0.8M201.3 376.8h0.8M193.1 358.4h0.8M200 345.7h0.8M211.4 348.4h0.8M208.5 376.4h0.8M193.9 371.5h0.8M194.6 351.2h0.8M201.2 346.5h0.8M194.3 365h0.8M198 348.1h0.8M209.6 350.6h0.8M197.7 347.5h0.8M193 366h0.8M201 345.6h0.8M202.2 344.6h0.8M210.5 348.8h0.8M212.6 367.8h0.8M205.6 375.8h0.8M205.8 346h0.8M196.1 348.3h0.8M200.1 379.1h0.8M202.2 344.7h0.8M196.7 374.1h0.8M195.4 351h0.8M210.6 373.4h0.8M211.3 364.3h0.8M211.6 347.3h0.8M202.8 377.2h0.8M204.2 379h0.8M203.5 377.9h0.8M198.3 347.8h0.8M194.6 352.5h0.8M196 346.5h0.8M194.3 359h0.8M206 347.2h0.8M202.9 376.2h0.8M208.4 373.7h0.8M194 356.2h0.8M193 359.9h0.8M193.4 372.4h0.8M210.8 372.1h0.8M207 378h0.8M208.9 348.2h0.8M211.1 372.3h0.8M195.2 350h0.8M195.7 347.6h0.8M206.2 379.3h0.8M209 350h0.8M207.5 345.3h0.8M197.3 374.9h0.8M210.7 372.1h0.8M200.5 376.1h0.8M204.2 345.4h0.8M210.3 370.9h0.8M209.3 371.5h0.8M193.4 376.3h0.8M201.2 377.3h0.8M200.1 345.6h0.8M209 373.6h0.8M195.8 347.8h0.8M209.4 374.7h0.8M196 376.7h0.8M202.7 346.4h0.8M197.8 344.7h0.8M209.4 348.5h0.8M204.8 377.4h0.8M197.9 376.5h0.8M195 372.3h0.8M206.9 377.1h0.8M204.1 376.3h0.8M210.8 372.4h0.8M196 372.7h0.8M210.2 351.9h0.8M205.8 345.2h0.8M201.2 378.4h0.8M205.2 376.1h0.8M209.8 349.4h0.8M210.5 367.5h0.8M210.3 354.8h0.8M205.2 378.2h0.8" fill="none" stroke="#555555" stroke-width="0.8" stroke-opacity="0.7"/>
<path d="M197 354.6h0.8M191 366h0.8M195.7 366.4h0.8M197.2 364.2h0.8M190.9 351.6h0.8M194.8 355.7h0.8M193.6 352.6h0.8M195.7 352.4h0.8M198.9 354.1h0.8M190.2 371.7h0.8M194.1 358.2h0.8M194.7 377.5h0.8M190 361.6h0.8M194 349.1h0.8M191 377.2h0.8M194 355.9h0.8M191.9 348.6h0.8M193.3 370.2h0.8M199.7 354.9h0.8M192.4 363.3h0.8M195.6 371.3h0.8M196.6 357.4h0.8M192.2 349h0.8M197.7 370.9h0.8M194.7 354.1h0.8M199.3 352.4h0.8M192.5 355.4h0.8M194.4 361.2h0.8M190 353.5h0.8M196.4 349h0.8M194.1 360.6h0.8M195 360.3h0.8M191.3 347.9h0.8M199.2 355h0.8M194 364.1h0.8M194.6 363.9h0.8M192.2 361.6h0.8M190 360.6h0.8M198.8 364.7h0.8M197.5 373.5h0.8" fill="none" stroke="#555555" stroke-width="0.8" stroke-opacity="0.6"/>
<path d="M194.5 368.5V353.5a8 8 0 0 1 16 0V368.5a8 8 0 0 1 -16 0Z" fill="none" stroke="#fff" stroke-width="1.7" stroke-opacity="0.85"/>
<path d="M194.5 368.5V353.5a8 8 0 0 1 16 0V368.5a8 8 0 0 1 -16 0Z" fill="#d2d2d2" fill-opacity="1"/>
<path d="M194.5 368.5V353.5a8 8 0 0 1 16 0V368.5a8 8 0 0 1 -16 0ZM195.35 368.65V355.15a7.2 7.2 0 0 1 14.4 0V368.65a7.2 7.2 0 0 1 -14.4 0ZM196.2 368.8V356.8a6.4 6.4 0 0 1 12.8 0V368.8a6.4 6.4 0 0 1 -12.8 0ZM197.05 368.95V358.45a5.6 5.6 0 0 1 11.2 0V368.95a5.6 5.6 0 0 1 -11.2 0ZM197.9 369.1V360.1a4.8 4.8 0 0 1 9.6 0V369.1a4.8 4.8 0 0 1 -9.6 0ZM198.75 369.25V361.75a4 4 0 0 1 8 0V369.25a4 4 0 0 1 -8 0ZM199.6 369.4V363.4a3.2 3.2 0 0 1 6.4 0V369.4a3.2 3.2 0 0 1 -6.4 0ZM200.45 369.55V365.05a2.4 2.4 0 0 1 4.8 0V369.55a2.4 2.4 0 0 1 -4.8 0ZM201.3 369.7V366.7a1.6 1.6 0 0 1 3.2 0V369.7a1.6 1.6 0 0 1 -3.2 0ZM202.15 369.85V368.35a0.8 0.8 0 0 1 1.6 0V369.85a0.8 0.8 0 0 1 -1.6 0Z" fill="none" stroke="#4a4a4a" stroke-width="0.42" stroke-opacity="0.75"/>
<ellipse cx="203" cy="370" rx="0.96" ry="1.24" fill="#fff" fill-opacity="0.95"/>
<rect x="144.2" y="320.4" width="72.3" height="51.6" fill="none" stroke="#5a5a5a" stroke-width="0.95"/>
<path d="M143.68 396.6v2.9M156.79 396.6v2.9M170.9 396.6v2.9M193.89 396.6v2.9M213.57 396.6v2.9M153.64 396.6v1.7M151.24 396.6v1.7M149.5 396.6v1.7M148.17 396.6v1.7M147.1 396.6v1.7M146.21 396.6v1.7M145.45 396.6v1.7M144.79 396.6v1.7M144.21 396.6v1.7M160.19 396.6v1.7M162.77 396.6v1.7M164.64 396.6v1.7M166.07 396.6v1.7M167.22 396.6v1.7M168.18 396.6v1.7M169 396.6v1.7M169.71 396.6v1.7M170.34 396.6v1.7M177.82 396.6v1.7M181.87 396.6v1.7M184.75 396.6v1.7M186.97 396.6v1.7M188.79 396.6v1.7M190.33 396.6v1.7M191.67 396.6v1.7M192.84 396.6v1.7M199.82 396.6v1.7M203.28 396.6v1.7M205.74 396.6v1.7M207.64 396.6v1.7M209.2 396.6v1.7M210.52 396.6v1.7M211.66 396.6v1.7M212.67 396.6v1.7M219.49 396.6v1.7M138.7 390.97h-2.9M138.7 377.45h-2.9M138.7 363h-2.9M138.7 339.98h-2.9M138.7 320.83h-2.9M138.7 380.7h-1.7M138.7 383.17h-1.7M138.7 384.97h-1.7M138.7 386.34h-1.7M138.7 387.45h-1.7M138.7 388.36h-1.7M138.7 389.14h-1.7M138.7 389.83h-1.7M138.7 390.43h-1.7M138.7 373.97h-1.7M138.7 371.33h-1.7M138.7 369.41h-1.7M138.7 367.94h-1.7M138.7 366.77h-1.7M138.7 365.79h-1.7M138.7 364.95h-1.7M138.7 364.22h-1.7M138.7 363.58h-1.7M138.7 356.07h-1.7M138.7 352.02h-1.7M138.7 349.14h-1.7M138.7 346.91h-1.7M138.7 345.09h-1.7M138.7 343.55h-1.7M138.7 342.21h-1.7M138.7 341.04h-1.7M138.7 334.22h-1.7M138.7 330.85h-1.7M138.7 328.45h-1.7M138.7 326.6h-1.7M138.7 325.08h-1.7M138.7 323.8h-1.7M138.7 322.69h-1.7M138.7 321.71h-1.7M138.7 315.07h-1.7" stroke="#222" stroke-width="0.8" fill="none"/>
<rect x="138.7" y="312.6" width="83" height="84" fill="none" stroke="#111" stroke-width="1.3"/>
<text x="143.68" y="410.4" font-size="6.4" text-anchor="middle">-10<tspan font-size="4.35" dy="-2.88">3</tspan></text>
<text x="156.79" y="410.4" font-size="6.4" text-anchor="middle">0</text>
<text x="170.9" y="410.4" font-size="6.4" text-anchor="middle">10<tspan font-size="4.35" dy="-2.88">3</tspan></text>
<text x="193.89" y="410.4" font-size="6.4" text-anchor="middle">10<tspan font-size="4.35" dy="-2.88">4</tspan></text>
<text x="213.57" y="410.4" font-size="6.4" text-anchor="middle">10<tspan font-size="4.35" dy="-2.88">5</tspan></text>
<text x="180.5" y="306.4" font-size="6.3" text-anchor="middle">5m</text>
<path d="M269.3 341.7h0.8M252.7 334.1h0.8M271.9 344.4h0.8M249.2 352.2h0.8M263.7 361.6h0.8M248.5 345.2h0.8M256.5 359.2h0.8M250.8 334.6h0.8M248.2 358.1h0.8M261.3 360h0.8M250.5 359.5h0.8M255 357.6h0.8M262.6 357.5h0.8M248.2 351.6h0.8M265.6 355.2h0.8M272.2 346.6h0.8M250.4 338.7h0.8M249.4 352.1h0.8M258 328.2h0.8M249.5 339.6h0.8M254.2 358.3h0.8M252 362.2h0.8M256.3 358.6h0.8M248.3 346.9h0.8M261.1 359.8h0.8M247.7 342.7h0.8M248.7 346.4h0.8M247.8 342h0.8M272.7 346.1h0.8M251.6 357.1h0.8M261.4 361.6h0.8M254.7 333.4h0.8M270.2 346h0.8M270.4 330.1h0.8M267.7 356.4h0.8M271 349.4h0.8M247.8 352.6h0.8M271 341.6h0.8M263.8 326.1h0.8M261.9 358.8h0.8M268.2 331.6h0.8M265 354.9h0.8M253.1 335h0.8M247.6 351.6h0.8M243.3 348.9h0.8M268.1 339.4h0.8M250 354.2h0.8M253.8 359.8h0.8M272.2 343.2h0.8M274 354.2h0.8M257.6 359.6h0.8M259.8 334.8h0.8M266.6 354.8h0.8M269.9 345.5h0.8M249.1 333h0.8M262.9 363.6h0.8M251.4 356.6h0.8M243.7 347.7h0.8M248.9 344.1h0.8M261.5 331.6h0.8M255.9 334.7h0.8M268.8 341.4h0.8M263.9 363.1h0.8M253 357.8h0.8M257.2 358.3h0.8M264.8 364.8h0.8M259 361.4h0.8M248.1 338.5h0.8M263.9 336.9h0.8M269.4 343.8h0.8M247.9 363.6h0.8M268.7 340.7h0.8M263.9 358.2h0.8M267.1 339.9h0.8M252.9 356.6h0.8M262.1 334.9h0.8M265.2 335.4h0.8M249.5 339h0.8M266.4 335.9h0.8M268.7 353h0.8M250 341.2h0.8M266.2 357.3h0.8M246.9 348.2h0.8M253.5 356.9h0.8M254 356.7h0.8M268.6 336h0.8M275.4 343.7h0.8M255.2 332.3h0.8M256.5 363h0.8M259.2 334.7h0.8M266.6 358.4h0.8M264.3 334.5h0.8M251.5 338.1h0.8M254.9 359.3h0.8M271.4 351.9h0.8M262.5 361.9h0.8M255 336.3h0.8M271.2 357.5h0.8M247.5 348.2h0.8M263.9 362.3h0.8M268.8 351h0.8M269.8 356.2h0.8M252.8 355.9h0.8M274 341.1h0.8M252.5 355.3h0.8M269.5 343.7h0.8M271.3 341.7h0.8M271 362h0.8M253 362.5h0.8M265.3 333.7h0.8M264.2 333.5h0.8M249.8 354h0.8M259.6 360.6h0.8M247.9 352.8h0.8M245.6 342.7h0.8M254.4 334.7h0.8M249.4 342.4h0.8M269.6 343.5h0.8M265.2 358h0.8M262.7 334.1h0.8M261.1 362.1h0.8M249.9 339.1h0.8M269.2 345.3h0.8M245.5 346h0.8M266 333.7h0.8M270.9 349h0.8M272.7 341.4h0.8M271.9 343.9h0.8M252.1 360.1h0.8M244.3 342.4h0.8M257 364.5h0.8M271.1 346.5h0.8M268.9 348.9h0.8M261.2 334.7h0.8M247.6 341.5h0.8M272.5 347.4h0.8M269.9 350.1h0.8M248.8 352.6h0.8M262.5 357.5h0.8M257.2 329.2h0.8M264.5 336.6h0.8M246.6 355.9h0.8M272.7 342.2h0.8M270.9 348h0.8M263.5 328.9h0.8M258.2 334.9h0.8M252.5 359.5h0.8M272.2 334.6h0.8M250.4 337.8h0.8M269 350.9h0.8M249.7 334.9h0.8M268.3 336h0.8M246.1 342h0.8M252 356h0.8M259 365.6h0.8M256.4 335.7h0.8M272.3 356h0.8M249.3 353h0.8M248 339.3h0.8M251.5 331.3h0.8M265.3 358.7h0.8M268.9 353.8h0.8M260 335.4h0.8M252 364.1h0.8M253.8 357.2h0.8M266.5 338.9h0.8M261.9 357.8h0.8M270.8 351.7h0.8M258.4 333.3h0.8M266.9 354.1h0.8M270 349.2h0.8M267.9 337.3h0.8M246.1 334.9h0.8M244.3 335.8h0.8M256.5 360.9h0.8M276.1 346.2h0.8M247.6 339.8h0.8M268.3 341.6h0.8M255.7 358.6h0.8M252.2 338.4h0.8M255.9 367.8h0.8M273.1 346.6h0.8M272 337.9h0.8M268.5 340.2h0.8M267.7 340.2h0.8M248.6 338.9h0.8M248.3 344.4h0.8M270.4 336.8h0.8M254 359.9h0.8M265.8 354.9h0.8M257.8 358.9h0.8M249 343.9h0.8M247 349h0.8M261.4 360.2h0.8M254 336.2h0.8M268.2 359.9h0.8M264.2 332.7h0.8M252 358.5h0.8M246.5 346h0.8M262.2 363.3h0.8M252.7 334.9h0.8M246.4 342.6h0.8M274.8 356.5h0.8M245.5 345.9h0.8M256.4 358.3h0.8M258.6 364h0.8M261.9 335.1h0.8M255.1 357.3h0.8M269.1 339.8h0.8M253.6 330.9h0.8M262.4 328.1h0.8M245.7 339.5h0.8M272 351.7h0.8M245.6 349.1h0.8M247.3 339.8h0.8M265.5 354.8h0.8M247.6 345.4h0.8M262.3 359.4h0.8M246.4 353.9h0.8M244.6 345.3h0.8M266.7 336.2h0.8M265.5 355.9h0.8M268.2 351.6h0.8M246.2 345.3h0.8M273.9 341.4h0.8M271.4 341.2h0.8M250.1 337h0.8M275.1 342.1h0.8M245.9 351.3h0.8M254 357.2h0.8M270.2 349.3h0.8M247.3 339.9h0.8M260.9 330.7h0.8M245.6 344.6h0.8M270.9 355.1h0.8M250.1 338.7h0.8M250.7 339.1h0.8M267.5 361.4h0.8M267.2 362.4h0.8M246.4 343.1h0.8M261.9 359.6h0.8M258 359.7h0.8M269.1 350.3h0.8M258 358.8h0.8M248.5 341.7h0.8M257.2 334.1h0.8M247.7 341.4h0.8M261.8 333.9h0.8M268.9 336h0.8M254.7 365h0.8M266 336.1h0.8M268.2 355.1h0.8M268.4 339.6h0.8M251.4 334.5h0.8M239.5 350.4h0.8M268.9 337.8h0.8M273.8 346.5h0.8M260.8 329.4h0.8M262.1 360.1h0.8M249 353.3h0.8M273.1 352.2h0.8M246.8 351.4h0.8M258.5 362.1h0.8M264.6 357.5h0.8M266.3 354h0.8M244.2 339.8h0.8M256.3 335.2h0.8M259.8 333.7h0.8M253.7 365.3h0.8M255.5 332.3h0.8M246.4 342.5h0.8M257.6 334.8h0.8M253 335.2h0.8M248.2 339.3h0.8M243 345.3h0.8M271.6 341.8h0.8M251.6 359.7h0.8M262.9 357h0.8M246.3 339h0.8M264.2 358.9h0.8M260.2 362.2h0.8M270.7 346.2h0.8M263.2 331.8h0.8M245.3 349.9h0.8M271.2 337.7h0.8M250.4 351.9h0.8M249.4 335.6h0.8M255.4 336.1h0.8M251.8 337.3h0.8M262.9 359.5h0.8M249.3 354.7h0.8M250.4 328h0.8M255.3 359.2h0.8M255 333h0.8M254 334.3h0.8M263.6 335.7h0.8M249.2 361.8h0.8M272.2 357h0.8M246.4 344.2h0.8M247 345h0.8M252 336.9h0.8M255 364.8h0.8M241.5 347h0.8M268.5 357.1h0.8M265.1 336.8h0.8M259.1 362.1h0.8M249.4 353.7h0.8M256.4 360.9h0.8M248 345.6h0.8M266.6 331.1h0.8M262.3 332.1h0.8M266.7 353.8h0.8M271.6 352.9h0.8M271.1 341.9h0.8M272.4 343.1h0.8M263 361.5h0.8M250.7 333.4h0.8M259.9 332.6h0.8M257.7 358.1h0.8M257.7 328.4h0.8M259.1 359.4h0.8M258.3 361.2h0.8M253.9 358h0.8M265.4 333.1h0.8M253.1 359.2h0.8M246.3 343.8h0.8M248.6 359.4h0.8M268.6 339.9h0.8M272.3 336.6h0.8M256.5 360.7h0.8M267.2 358.8h0.8M254.3 335.4h0.8M257.5 360.8h0.8M252.7 335.3h0.8M253.2 334.3h0.8M253.9 356h0.8M250.8 352.2h0.8M264.1 357.4h0.8M261.8 359.7h0.8M266.8 361.1h0.8M245 343.2h0.8M270.2 349.5h0.8M253.4 331.8h0.8M271 338.6h0.8M261.6 363.6h0.8M247.5 338.2h0.8M261.4 360.8h0.8M246.7 352.6h0.8M269.4 352.5h0.8M246.6 338.8h0.8M251.7 334.6h0.8M257 360.3h0.8M250.8 356.1h0.8M259.1 361.8h0.8M261.8 358.1h0.8M248 338h0.8M270.1 351.2h0.8M272.4 347.7h0.8M254.2 361.7h0.8M270.9 339.6h0.8M269.5 343.9h0.8M249.6 340h0.8M252.2 361h0.8M269.9 352.9h0.8M251.1 362.2h0.8M252.4 356h0.8M249.8 339.5h0.8M269.1 353.9h0.8M253.6 361h0.8M269.8 348h0.8M264.8 330.3h0.8M258.6 361h0.8M278.1 344.3h0.8M256.2 358.2h0.8M249 350.9h0.8M269.9 345.9h0.8M250.2 353.2h0.8M270.1 341.1h0.8M252.9 337.3h0.8M259.2 359.4h0.8M263.7 356.4h0.8M261.1 359h0.8M264.5 356.9h0.8M248.9 348.7h0.8M267.2 360h0.8M273.3 333.9h0.8M267.9 353h0.8M263.2 333.6h0.8M253.9 335.5h0.8M271.5 345.4h0.8M251.3 356.4h0.8M259.7 329.8h0.8M262.6 364.7h0.8M254 336.6h0.8M247.8 343.1h0.8M247.1 353.4h0.8M248.1 341.8h0.8M265.8 335.3h0.8M247.5 345.8h0.8M265.4 332.1h0.8M251.4 334.4h0.8M271.4 351.6h0.8M245.7 343.3h0.8M255.9 335.9h0.8M257.4 332h0.8M260.7 332.8h0.8M255.8 359h0.8M263.6 336.7h0.8M246.9 345.1h0.8M250.6 356h0.8M249.2 336.3h0.8M247.8 342.2h0.8M270.3 340h0.8M249.3 354.4h0.8M257 362.5h0.8M246.4 341.6h0.8M265.8 335.9h0.8M267.8 353h0.8M242.8 354.4h0.8M254.5 333.7h0.8M270.5 343.7h0.8M255.9 333.7h0.8M271.6 343.4h0.8M255.3 357.4h0.8M265.3 358.9h0.8M250.4 357h0.8M266.9 366h0.8M259 334.6h0.8M244.8 353h0.8M267.1 339h0.8M248.7 333.3h0.8M247.6 341.6h0.8M266.5 356.2h0.8M268.4 333.1h0.8M255.2 360h0.8M264.2 358.1h0.8M278.4 332h0.8M241 338.9h0.8M247.8 350.5h0.8M250.2 358.3h0.8M251.7 357.2h0.8M252.2 354.5h0.8M265.1 355h0.8M251.8 358.6h0.8M261.2 335.2h0.8M254.3 357.7h0.8M245.3 338.4h0.8M247.5 348.4h0.8M254 336.7h0.8M255.6 332.3h0.8M264.6 355.6h0.8M259.7 364.4h0.8M267.5 335.2h0.8M270.6 348.4h0.8M252.5 357.3h0.8M248.1 347.4h0.8M248.8 348.6h0.8M265.7 356.8h0.8M245.3 346.5h0.8M272 352.2h0.8M254.3 335h0.8M263.7 333.7h0.8M260.9 334.5h0.8M250.7 358.1h0.8M253.8 357.7h0.8M266.6 353.2h0.8M270.4 360.8h0.8M255.7 357.5h0.8M270 344.6h0.8M254.3 367.2h0.8M252 356h0.8M271 340.3h0.8M256.2 360.1h0.8M259.7 358.5h0.8M260.3 332.7h0.8M248.6 358h0.8M245.1 355.5h0.8M273.7 351h0.8M270.2 344.9h0.8M269.6 331.7h0.8M259.1 359.7h0.8M271.5 344.8h0.8M250.7 332.4h0.8M266.1 357.3h0.8M261.3 359.4h0.8M269.6 348.1h0.8M273.6 343.7h0.8M248.3 331.7h0.8M249.5 356.3h0.8M267.1 338.9h0.8M248.5 338.2h0.8M246.1 341.5h0.8M250.7 353.4h0.8M250.3 338.3h0.8M247.9 353.7h0.8M258.7 334.9h0.8M247.3 350.8h0.8M264.2 363.8h0.8M250.7 335.7h0.8M264.4 330.5h0.8M261.3 333.7h0.8M274 353h0.8M261.7 363h0.8M273.8 346.5h0.8M246.5 342.6h0.8M250.5 352.7h0.8M258 361.5h0.8M253.4 336.8h0.8M270.4 357.1h0.8M261.7 359.8h0.8M248 348.3h0.8M263 328.2h0.8M264.6 357.6h0.8M267.5 329.8h0.8M269.5 342.1h0.8M256.4 359.6h0.8M269.2 340.8h0.8M265.2 356.6h0.8M249.8 353.2h0.8M261.6 335.2h0.8M268.3 336.4h0.8M272.4 340.3h0.8M261 331.5h0.8M263 358.1h0.8M275.2 347.3h0.8M256.6 363.5h0.8M257 330.9h0.8M252.3 358h0.8M254.8 359.4h0.8M251.8 338.5h0.8M262.7 360.4h0.8M262.7 364.6h0.8M244.5 349h0.8M256.6 359.6h0.8M250 356.1h0.8M267.9 353.8h0.8M262.7 358.3h0.8M249.9 338h0.8M266.2 354.7h0.8M263.6 357.9h0.8M252.3 355.4h0.8M247.5 350.4h0.8M250.3 340.8h0.8M270.8 357.2h0.8M243 353.1h0.8M269.5 357.8h0.8M264.2 357.8h0.8M268.4 352.9h0.8M245.5 350.8h0.8M266 333.3h0.8M250.8 338.9h0.8M248.3 346.6h0.8M258.7 364.8h0.8M263.5 335.2h0.8M256 333.4h0.8M245.8 353.7h0.8M243.5 344.8h0.8M266.7 357.6h0.8M262.4 332.9h0.8M252 334h0.8M250 352.2h0.8M272.9 348.7h0.8M263.6 356.8h0.8M250.2 356.6h0.8M265.9 334.5h0.8M257 333.8h0.8M257.1 359.8h0.8M254.8 362.3h0.8M245.4 334.9h0.8M271.5 353.8h0.8M270 352.5h0.8M246.3 344h0.8M255.9 363.2h0.8M259.1 358.8h0.8M260.2 333.7h0.8M270.6 351h0.8M261.7 357.6h0.8M263.9 335.6h0.8M257.4 334.9h0.8M269.5 356.9h0.8M270.1 351.7h0.8M271.7 344.6h0.8M266.3 338.9h0.8M265.3 355.3h0.8M254.5 331.3h0.8M252.6 331.3h0.8M269.4 351.3h0.8M271 339.3h0.8M267.9 358.1h0.8M248.1 343.2h0.8M257.9 358.3h0.8M260.4 332.7h0.8M270.2 340.6h0.8M245.9 345.6h0.8M242.6 345.2h0.8M265.7 356.8h0.8M252.7 332.3h0.8M274.2 354.9h0.8M255.7 334.8h0.8M258.7 366.9h0.8M253.3 355.4h0.8M270.7 345.3h0.8M254.2 357.2h0.8M246.4 348.3h0.8M249.5 357.4h0.8M248.3 337.1h0.8M267.6 354.6h0.8M250.3 339.7h0.8M263 364.1h0.8M248.4 348.4h0.8M254 336.2h0.8M261.5 334.4h0.8M248.2 342h0.8M262.6 358.6h0.8M256.8 360.2h0.8M273.1 340.3h0.8M251 365.2h0.8M271.3 331.3h0.8M270 344.7h0.8M258 335.1h0.8M255.9 358.9h0.8M270 357.1h0.8M254.2 336.3h0.8M249.8 337.7h0.8M264.4 356.7h0.8M266.5 336h0.8M260.5 359.6h0.8M268.1 356.9h0.8M263 362.4h0.8M255.8 335.4h0.8M247.6 342.5h0.8M265.2 336.1h0.8M263.5 362.3h0.8M259.1 358.6h0.8M257.6 359.9h0.8M255.4 357.6h0.8M262.9 333.3h0.8M247.4 342.8h0.8M270.2 354.8h0.8M273.5 343.4h0.8M253 358.5h0.8M256.5 333.7h0.8M258.8 359.9h0.8M249.7 341.3h0.8M254.4 359h0.8M247.7 353.9h0.8M270.2 339.2h0.8M268.4 335.7h0.8M247.8 346.8h0.8M252.5 355.3h0.8M261.1 359.2h0.8M266.7 356.5h0.8M262.1 361.9h0.8M259.5 360.6h0.8M269.1 342.3h0.8M257.7 360h0.8M266.4 336.3h0.8M257.2 333.2h0.8M268.6 353.6h0.8M279.6 352.6h0.8M258.2 360.9h0.8M257 362.3h0.8M269.1 339h0.8M245.5 339.2h0.8M266.4 339h0.8M268.4 351.1h0.8M252.5 356h0.8M257.3 364.3h0.8M255.5 329.5h0.8M271.9 354.7h0.8M252.8 334.5h0.8M263.6 334.1h0.8M267.1 357.6h0.8M256.9 358.9h0.8M270.5 342.4h0.8M257 358h0.8M262.6 357.3h0.8M249.9 340.6h0.8M259.9 334.4h0.8M252.9 356.2h0.8M267.7 362.3h0.8M265.4 336.1h0.8M268.2 341.3h0.8M265.8 354.1h0.8M264.8 331h0.8M254.2 358.8h0.8M276 346.3h0.8M266.9 355.5h0.8M270.3 348.7h0.8M273.6 342.9h0.8M254.7 328.4h0.8M262.7 358.4h0.8M251.9 357.7h0.8M259.5 334.8h0.8M258.4 362h0.8M256 334.1h0.8M250 339.8h0.8M254.1 336.6h0.8M258.9 359.3h0.8M248.8 340.3h0.8M269.8 351.8h0.8M249.1 337.3h0.8M250.2 351.3h0.8M273.8 339.9h0.8M263.1 332.3h0.8M250.7 339h0.8M249.4 342.3h0.8M252 354.7h0.8M251.2 336.5h0.8M253.6 333.5h0.8M259.2 359.5h0.8M263.4 362.9h0.8M268.3 357.9h0.8M265.4 336h0.8M245 340.9h0.8M255.1 336.1h0.8M268.9 336.6h0.8M248.2 337.8h0.8M268.7 337h0.8M252 334.1h0.8M270.6 356.6h0.8M247 332.9h0.8M269.6 334.1h0.8M268.2 350.9h0.8M272.9 351.4h0.8M258.3 335.2h0.8M248.1 341h0.8M256 362h0.8M251.8 334.9h0.8M260.7 361h0.8M270.1 339.7h0.8M262.4 358.4h0.8M259.9 333.2h0.8M260.9 359.6h0.8M254.5 358h0.8M268.3 338.7h0.8M272.9 341.5h0.8M274.4 349.9h0.8M265.3 332.8h0.8M263.3 331.1h0.8M256.8 357.9h0.8M257.3 334.3h0.8M248.6 346.8h0.8M249.3 338.2h0.8M250.4 339.7h0.8M262.4 334.2h0.8M251.3 335.8h0.8M265.7 356h0.8M248.9 356.5h0.8M265.7 356h0.8" fill="none" stroke="#b83232" stroke-width="0.8" stroke-opacity="0.7"/>
<path d="M270.9 343.2h0.8M274.9 346.6h0.8M282.5 356.6h0.8M280.4 352.5h0.8M283.6 358.5h0.8M273.1 354.2h0.8M283.9 346.5h0.8M275 349.6h0.8M281.5 344.5h0.8M275.6 349.8h0.8M282.9 354.2h0.8M279.1 351.9h0.8M276.1 345.4h0.8M276.4 340.8h0.8M278.9 348.8h0.8M286.6 334.6h0.8M274 347.3h0.8M282.8 356.3h0.8M279.5 347.9h0.8M280 337.6h0.8M281.4 347.2h0.8M282.4 344.4h0.8M277.1 352.6h0.8M276.4 338h0.8M274.8 348.5h0.8M281.9 344h0.8M283.9 353.7h0.8M283.4 350.2h0.8M280 343.1h0.8M278.4 352.5h0.8M274.9 346.2h0.8M280.2 354.4h0.8M276.2 350.9h0.8M274.7 352.8h0.8M274.4 346.4h0.8M271.8 345.9h0.8M279.2 345.2h0.8M277.6 348.7h0.8M284.3 335.4h0.8M276.7 356.9h0.8M290.6 348.3h0.8M279.4 348.3h0.8M276 339.2h0.8M281.7 340.8h0.8M276.2 341.3h0.8M283.5 351.6h0.8M273.9 343.1h0.8M271.9 342.9h0.8M289.3 351.9h0.8M280.8 343.1h0.8M279.9 337h0.8M275.2 332h0.8M274.8 347.3h0.8M276.3 357.5h0.8M279.3 351.4h0.8M279.2 350.7h0.8M269.6 341.4h0.8M283.7 357.2h0.8M280.8 344.1h0.8M282.9 354.5h0.8M271.6 361.7h0.8M276.3 351.7h0.8M275 339.2h0.8M277.4 348.7h0.8M268.8 344h0.8M281.8 347.3h0.8M275 353.2h0.8M264.8 357.9h0.8M280.3 354.2h0.8M272.9 347.2h0.8M282.5 350.5h0.8M268.7 343.8h0.8M275 349.7h0.8M270.5 346.5h0.8M279.9 353.4h0.8M271.7 353.2h0.8M271.4 349.7h0.8M273.7 348.1h0.8M273.3 346.1h0.8M282.5 355.5h0.8M275.1 352.5h0.8M275.2 353.9h0.8M277.6 345.4h0.8M277.8 351.4h0.8M277.8 348.5h0.8M275.1 352.8h0.8M275.3 362.1h0.8M275.1 352.7h0.8M277.1 351.3h0.8M276.8 337.5h0.8M283.3 345h0.8M271.5 337.8h0.8M271.3 344.4h0.8M277.1 353.7h0.8M278.1 357.9h0.8M281.8 347.3h0.8M279.8 336.2h0.8M279.1 355.3h0.8M286.6 353.5h0.8M282.2 346.1h0.8M273.5 335.5h0.8M279.2 354.3h0.8M273.2 346.9h0.8M277.9 348.7h0.8M274.8 335.8h0.8M274.9 342.8h0.8M272.9 356.2h0.8M277.3 341.8h0.8M279 351.2h0.8M279.5 346.7h0.8M278 348.2h0.8M276.7 351.4h0.8M278.7 342.7h0.8M282.8 348.3h0.8M273 348h0.8M270 342.9h0.8M276.2 349.3h0.8M275.6 345.7h0.8M282.1 340.1h0.8M282.6 356.9h0.8M284 352.7h0.8M270.7 346h0.8M281.6 350.4h0.8M284.6 338.5h0.8M280.8 346.8h0.8M284.8 348.8h0.8M282.3 349.9h0.8M277.4 340.6h0.8M283.8 346.6h0.8M279.7 349.3h0.8M270.8 341.3h0.8M280.9 359.1h0.8M272.8 344.4h0.8M276.5 336.6h0.8M268 345.2h0.8M274.5 355.2h0.8M280.9 338h0.8M276 358.3h0.8M268.8 352.7h0.8M272.1 348.4h0.8M283.7 349.4h0.8M276.1 356.2h0.8M280.7 341.2h0.8M286.5 345.5h0.8M279.3 344.4h0.8M279 351.1h0.8M285.8 344h0.8M267.8 344.5h0.8M279.6 345.5h0.8M279.3 349.2h0.8M280.9 352.2h0.8M280.2 342.8h0.8M276.1 347.1h0.8M272.9 347.4h0.8M284.7 351h0.8M281.6 356.5h0.8M269.6 343.9h0.8M273.5 342.4h0.8M281.7 345.5h0.8M280.4 347.3h0.8M275.9 353.2h0.8M276.5 347h0.8M276.6 352.2h0.8M279.5 348.7h0.8M276 357.2h0.8M276.7 349.3h0.8M272.2 357.2h0.8M283.2 354h0.8M273.2 339.4h0.8M276.2 347.6h0.8M277.3 344.2h0.8M275.8 343.7h0.8M271.3 348.4h0.8M273.7 340.6h0.8M275.6 351.8h0.8M266.8 359h0.8M278.3 358.9h0.8M289.1 349.3h0.8M273.7 351.4h0.8M273.7 343.3h0.8M277.8 350.2h0.8M274.2 345h0.8M271.5 347h0.8M276.7 348.3h0.8M274.3 351.1h0.8M274.4 346.8h0.8M280.6 356.9h0.8M278.1 345.4h0.8M279.3 353.6h0.8M283.2 349.7h0.8M279.5 346h0.8M281 354.8h0.8M277 349.6h0.8M280.9 343.8h0.8M284.4 353.1h0.8M274.8 343.1h0.8M278.5 348.5h0.8M272.1 340.7h0.8M276 350.3h0.8M276.8 332.9h0.8M279.9 340.5h0.8M275.3 345h0.8M284.2 350.4h0.8M284.6 342.2h0.8M281.2 354.5h0.8M287.8 346.1h0.8M273 345.8h0.8M268.4 337h0.8M275.1 353.4h0.8M273.1 344.5h0.8M272.8 345.8h0.8M274.8 349.8h0.8M279.9 354.1h0.8M283.1 347.5h0.8M275.8 354.2h0.8M281.4 347.7h0.8M277.1 345.5h0.8M278 349.8h0.8M284.1 360h0.8M277.4 351.7h0.8M279.1 344h0.8M278.3 352.4h0.8M273.1 352.5h0.8M281.6 346h0.8M288.9 351.2h0.8M277.5 350.6h0.8M282.1 339.4h0.8M284.2 353.4h0.8M278.8 339.3h0.8M278.6 351.8h0.8M276.2 343.2h0.8M271.5 345.1h0.8M275.3 347.9h0.8M280.6 345.4h0.8M281.4 351.1h0.8M273.2 350.6h0.8M285.4 359h0.8M269.5 344.6h0.8M272.4 347.1h0.8M278.3 349.9h0.8M272.2 345.2h0.8M275.8 342.7h0.8M279.9 346.1h0.8M272.5 348.1h0.8M271.4 360.4h0.8M280.6 337.3h0.8M284.9 347h0.8M277.2 339h0.8M283.2 360.8h0.8M269.3 346.4h0.8M273.7 352.8h0.8M282.8 336.1h0.8M280.4 350.6h0.8M277.1 350.1h0.8M272 351.9h0.8M269 356.3h0.8M281.5 352h0.8M281.8 358.9h0.8M277.9 348.8h0.8M280 341h0.8M277 351.8h0.8M274.9 351.7h0.8M274.1 343.5h0.8M274.3 349.6h0.8M273.4 349h0.8M283.7 343.1h0.8M279.2 341.8h0.8M277.6 358h0.8M284.1 349.8h0.8M280.3 350.8h0.8M278 355.5h0.8M278.5 341.1h0.8M280.1 345h0.8M274.2 350.2h0.8M278.2 354.6h0.8M272.6 350.1h0.8M274.6 347.6h0.8M276.8 347.9h0.8M274.4 347.8h0.8M279.3 351.8h0.8M279.2 336.6h0.8M286.8 358h0.8M278.2 341.8h0.8M279.9 347.9h0.8M274.8 351h0.8M277.4 340.9h0.8M277.9 341.5h0.8M282.5 347h0.8M278.6 345.9h0.8M276.7 349.2h0.8M274.2 346.8h0.8M278 350.9h0.8M281.9 349.9h0.8M271.2 343h0.8M283.6 346.3h0.8M277.8 349.3h0.8M271.9 341.5h0.8M276.3 338.6h0.8M282 345h0.8M282.2 344.6h0.8" fill="none" stroke="#b83232" stroke-width="0.8" stroke-opacity="0.7"/>
<path d="M258.5 334.4h0.8M256.5 356.3h0.8M269.1 372.6h0.8M275.8 364.3h0.8M278.9 338.1h0.8M266.7 360.3h0.8M264.7 357.4h0.8M278.3 377.3h0.8M246 342.1h0.8M283.3 356.2h0.8M263.8 326.3h0.8M271 344h0.8M286.7 341.2h0.8M281.2 340h0.8M263 336.9h0.8M259.1 374.1h0.8M275.8 335.7h0.8M283.2 360.9h0.8M267.5 347.9h0.8M267.8 344.6h0.8M288 361.5h0.8M278.6 354.7h0.8M284.9 358.7h0.8M244 365.7h0.8M246.1 354.2h0.8M270.8 337.1h0.8M275 376h0.8M255 351.5h0.8M270.1 374.8h0.8M246.3 341h0.8M286.1 347.7h0.8M258.3 333.6h0.8M266.8 366.3h0.8M272.1 344.9h0.8M264.9 349.5h0.8M275.3 348.5h0.8M243.1 331.1h0.8M247.9 374.9h0.8M251.9 329.2h0.8M288.7 361.5h0.8M273.9 354h0.8M256.6 363.5h0.8M266.6 329.2h0.8M263.5 350.3h0.8M254 373.8h0.8M249.2 359.9h0.8M254.1 347.7h0.8M243.8 326.3h0.8M245.7 348.4h0.8M280.5 352.1h0.8M265.8 353.7h0.8M248.6 345.4h0.8M246 360.3h0.8M281.9 373.9h0.8M254.9 376.5h0.8M255.9 356.9h0.8M284.3 338.3h0.8M266.2 335.8h0.8M283.1 335.1h0.8M280.2 358.8h0.8M270.2 377.2h0.8M251.7 352.5h0.8M245.7 364h0.8M281.6 344.6h0.8M285.3 356.6h0.8M253.5 376.1h0.8M248.6 327.1h0.8M263.3 369.7h0.8M253 327.8h0.8M267.2 378.1h0.8M274.6 337.7h0.8M288.5 328h0.8M275.3 366.2h0.8M269.9 343.1h0.8M258.2 363.6h0.8M270.5 347.6h0.8M271.1 350.6h0.8M246.5 363.3h0.8M257.3 355.9h0.8M244.9 353.8h0.8" fill="none" stroke="#b83232" stroke-width="0.8" stroke-opacity="0.5"/>
<path d="M269.75 346.5L269.5 348.07L268.95 349.61L268.18 351.09L267.26 352.5L266.23 353.81L265.16 354.99L264.06 356.02L262.99 356.89L261.94 357.59L260.94 358.09L259.96 358.4L259 358.5L258.04 358.4L257.06 358.09L256.06 357.59L255.01 356.89L253.94 356.02L252.84 354.99L251.77 353.81L250.74 352.5L249.82 351.09L249.05 349.61L248.5 348.07L248.25 346.5L248.34 344.93L248.62 343.39L249.07 341.91L249.69 340.5L250.47 339.19L251.4 338.01L252.46 336.98L253.62 336.11L254.89 335.41L256.22 334.91L257.6 334.6L259 334.5L260.4 334.6L261.78 334.91L263.11 335.41L264.38 336.11L265.54 336.98L266.6 338.01L267.53 339.19L268.31 340.5L268.93 341.91L269.38 343.39L269.66 344.93Z" fill="none" stroke="#fff" stroke-width="1.7" stroke-opacity="0.85"/>
<path d="M269.75 346.5L269.5 348.07L268.95 349.61L268.18 351.09L267.26 352.5L266.23 353.81L265.16 354.99L264.06 356.02L262.99 356.89L261.94 357.59L260.94 358.09L259.96 358.4L259 358.5L258.04 358.4L257.06 358.09L256.06 357.59L255.01 356.89L253.94 356.02L252.84 354.99L251.77 353.81L250.74 352.5L249.82 351.09L249.05 349.61L248.5 348.07L248.25 346.5L248.34 344.93L248.62 343.39L249.07 341.91L249.69 340.5L250.47 339.19L251.4 338.01L252.46 336.98L253.62 336.11L254.89 335.41L256.22 334.91L257.6 334.6L259 334.5L260.4 334.6L261.78 334.91L263.11 335.41L264.38 336.11L265.54 336.98L266.6 338.01L267.53 339.19L268.31 340.5L268.93 341.91L269.38 343.39L269.66 344.93Z" fill="#f5e2e2" fill-opacity="1"/>
<path d="M269.75 346.5L269.5 348.07L268.95 349.61L268.18 351.09L267.26 352.5L266.23 353.81L265.16 354.99L264.06 356.02L262.99 356.89L261.94 357.59L260.94 358.09L259.96 358.4L259 358.5L258.04 358.4L257.06 358.09L256.06 357.59L255.01 356.89L253.94 356.02L252.84 354.99L251.77 353.81L250.74 352.5L249.82 351.09L249.05 349.61L248.5 348.07L248.25 346.5L248.34 344.93L248.62 343.39L249.07 341.91L249.69 340.5L250.47 339.19L251.4 338.01L252.46 336.98L253.62 336.11L254.89 335.41L256.22 334.91L257.6 334.6L259 334.5L260.4 334.6L261.78 334.91L263.11 335.41L264.38 336.11L265.54 336.98L266.6 338.01L267.53 339.19L268.31 340.5L268.93 341.91L269.38 343.39L269.66 344.93ZM268.49 346.21L268.27 347.6L267.78 348.96L267.1 350.28L266.28 351.52L265.38 352.68L264.42 353.72L263.46 354.64L262.51 355.41L261.58 356.02L260.69 356.47L259.83 356.74L258.98 356.83L258.13 356.74L257.26 356.47L256.37 356.02L255.45 355.41L254.5 354.64L253.53 353.72L252.58 352.68L251.67 351.52L250.85 350.28L250.17 348.96L249.69 347.6L249.46 346.21L249.54 344.83L249.79 343.46L250.19 342.15L250.74 340.9L251.43 339.75L252.25 338.7L253.19 337.79L254.22 337.02L255.34 336.4L256.51 335.95L257.74 335.68L258.98 335.59L260.22 335.68L261.44 335.95L262.62 336.4L263.73 337.02L264.77 337.79L265.7 338.7L266.52 339.75L267.22 340.9L267.77 342.15L268.17 343.46L268.41 344.83ZM267.23 345.93L267.04 347.13L266.61 348.32L266.02 349.46L265.31 350.55L264.52 351.55L263.69 352.46L262.85 353.26L262.03 353.93L261.22 354.46L260.45 354.85L259.69 355.09L258.95 355.17L258.21 355.09L257.46 354.85L256.69 354.46L255.88 353.93L255.05 353.26L254.21 352.46L253.39 351.55L252.6 350.55L251.89 349.46L251.3 348.32L250.87 347.13L250.68 345.93L250.75 344.72L250.96 343.53L251.31 342.39L251.79 341.31L252.39 340.3L253.1 339.39L253.91 338.59L254.82 337.92L255.79 337.39L256.81 337L257.87 336.76L258.95 336.69L260.03 336.76L261.1 337L262.12 337.39L263.09 337.92L263.99 338.59L264.81 339.39L265.52 340.3L266.12 341.31L266.6 342.39L266.95 343.53L267.16 344.72ZM265.97 345.64L265.81 346.66L265.45 347.67L264.94 348.65L264.34 349.57L263.67 350.42L262.96 351.2L262.25 351.87L261.54 352.44L260.86 352.9L260.2 353.23L259.56 353.43L258.93 353.5L258.3 353.43L257.66 353.23L257 352.9L256.32 352.44L255.61 351.87L254.9 351.2L254.19 350.42L253.52 349.57L252.92 348.65L252.42 347.67L252.06 346.66L251.89 345.64L251.95 344.61L252.13 343.6L252.43 342.63L252.83 341.71L253.34 340.85L253.95 340.08L254.64 339.4L255.41 338.83L256.24 338.38L257.11 338.05L258.01 337.84L258.93 337.78L259.85 337.84L260.75 338.05L261.63 338.38L262.45 338.83L263.22 339.4L263.91 340.08L264.52 340.85L265.03 341.71L265.44 342.63L265.73 343.6L265.91 344.61ZM264.71 345.35L264.58 346.2L264.28 347.03L263.86 347.83L263.37 348.59L262.81 349.29L262.23 349.93L261.64 350.49L261.06 350.96L260.5 351.34L259.95 351.61L259.43 351.77L258.91 351.83L258.39 351.77L257.86 351.61L257.32 351.34L256.75 350.96L256.17 350.49L255.58 349.93L255 349.29L254.45 348.59L253.95 347.83L253.54 347.03L253.24 346.2L253.1 345.35L253.15 344.5L253.3 343.67L253.54 342.87L253.88 342.11L254.3 341.41L254.8 340.77L255.37 340.21L256.01 339.74L256.69 339.36L257.41 339.09L258.15 338.93L258.91 338.87L259.67 338.93L260.41 339.09L261.13 339.36L261.81 339.74L262.44 340.21L263.01 340.77L263.51 341.41L263.94 342.11L264.27 342.87L264.52 343.67L264.66 344.5ZM263.45 345.06L263.35 345.73L263.11 346.38L262.79 347.01L262.39 347.61L261.96 348.17L261.5 348.67L261.04 349.11L260.58 349.48L260.14 349.77L259.71 349.99L259.29 350.12L258.88 350.16L258.48 350.12L258.06 349.99L257.63 349.77L257.19 349.48L256.73 349.11L256.27 348.67L255.81 348.17L255.38 347.61L254.98 347.01L254.66 346.38L254.42 345.73L254.32 345.06L254.36 344.4L254.47 343.74L254.66 343.11L254.93 342.51L255.26 341.96L255.65 341.46L256.1 341.02L256.6 340.65L257.14 340.35L257.7 340.14L258.29 340.01L258.88 339.96L259.48 340.01L260.07 340.14L260.63 340.35L261.17 340.65L261.67 341.02L262.12 341.46L262.51 341.96L262.84 342.51L263.11 343.11L263.3 343.74L263.41 344.4ZM262.19 344.77L262.12 345.26L261.95 345.74L261.71 346.2L261.42 346.63L261.1 347.04L260.77 347.41L260.43 347.73L260.1 348L259.77 348.21L259.46 348.37L259.16 348.46L258.86 348.5L258.56 348.46L258.26 348.37L257.95 348.21L257.63 348L257.29 347.73L256.95 347.41L256.62 347.04L256.3 346.63L256.02 346.2L255.78 345.74L255.61 345.26L255.53 344.77L255.56 344.29L255.64 343.81L255.78 343.35L255.98 342.91L256.22 342.51L256.51 342.14L256.83 341.82L257.2 341.55L257.59 341.34L258 341.18L258.43 341.09L258.86 341.05L259.3 341.09L259.72 341.18L260.14 341.34L260.53 341.55L260.89 341.82L261.22 342.14L261.51 342.51L261.75 342.91L261.94 343.35L262.08 343.81L262.17 344.29ZM260.94 344.49L260.89 344.79L260.78 345.09L260.63 345.38L260.45 345.66L260.25 345.91L260.04 346.14L259.83 346.34L259.62 346.51L259.41 346.65L259.22 346.75L259.03 346.81L258.84 346.83L258.65 346.81L258.46 346.75L258.26 346.65L258.06 346.51L257.85 346.34L257.64 346.14L257.43 345.91L257.23 345.66L257.05 345.38L256.9 345.09L256.79 344.79L256.74 344.49L256.76 344.18L256.81 343.88L256.9 343.59L257.02 343.32L257.18 343.06L257.36 342.83L257.56 342.63L257.79 342.46L258.04 342.33L258.3 342.23L258.57 342.17L258.84 342.15L259.11 342.17L259.38 342.23L259.64 342.33L259.89 342.46L260.12 342.63L260.32 342.83L260.5 343.06L260.65 343.32L260.78 343.59L260.86 343.88L260.92 344.18ZM259.68 344.2L259.66 344.33L259.61 344.45L259.55 344.57L259.48 344.68L259.39 344.78L259.31 344.88L259.22 344.96L259.14 345.03L259.05 345.09L258.97 345.13L258.89 345.15L258.82 345.16L258.74 345.15L258.66 345.13L258.58 345.09L258.5 345.03L258.41 344.96L258.32 344.88L258.24 344.78L258.16 344.68L258.08 344.57L258.02 344.45L257.98 344.33L257.96 344.2L257.96 344.07L257.99 343.95L258.02 343.83L258.07 343.72L258.13 343.62L258.21 343.52L258.29 343.44L258.39 343.37L258.49 343.31L258.59 343.27L258.7 343.25L258.82 343.24L258.93 343.25L259.04 343.27L259.15 343.31L259.25 343.37L259.34 343.44L259.42 343.52L259.5 343.62L259.56 343.72L259.61 343.83L259.65 343.95L259.67 344.07Z" fill="none" stroke="#b53333" stroke-width="0.42" stroke-opacity="0.6"/>
<ellipse cx="258.8" cy="344" rx="1.1" ry="0.9" fill="#fff" fill-opacity="0.95"/>
<path d="M309 349.6h0.8M310.5 342.2h0.8M286.9 349.6h0.8M292.6 338.1h0.8M305.7 341.1h0.8M311.6 348h0.8M297.2 361.7h0.8M306.5 341.2h0.8M287.4 345.3h0.8M307.7 343.3h0.8M308 340.8h0.8M310.4 350.8h0.8M291.6 358h0.8M293.1 359.9h0.8M302 336.4h0.8M288.6 337.9h0.8M287.6 353.5h0.8M311.6 346.9h0.8M295.1 333.2h0.8M289.6 356.6h0.8M301 360.9h0.8M294.1 359.8h0.8M294.8 361.4h0.8M289.4 333.1h0.8M293.7 359.5h0.8M304.7 356.1h0.8M292.3 337.2h0.8M292.5 359.9h0.8M293.3 358.7h0.8M286.7 343.3h0.8M296.3 337.4h0.8M289.1 358.7h0.8M302.7 336.2h0.8M293 359.2h0.8M293.2 337.7h0.8M284.6 352.1h0.8M305.1 340.1h0.8M296 361.8h0.8M288.7 354h0.8M290.5 360.3h0.8M308.6 348.3h0.8M301.3 360h0.8M307.4 343.3h0.8M306.2 354.3h0.8M300 362.5h0.8M307.6 343.3h0.8M289.3 339.3h0.8M309.3 355.6h0.8M305.3 337.1h0.8M298.8 362h0.8M305.1 340.5h0.8M302.6 337h0.8M312.3 348.5h0.8M289.4 336.2h0.8M298.7 360.3h0.8M302.9 361.2h0.8M286.8 347.8h0.8M292.8 359.1h0.8M287.2 345.5h0.8M307.2 342.3h0.8M311.3 343.3h0.8M285.3 347h0.8M288.7 353.1h0.8M308.3 346.8h0.8M305.6 356.8h0.8M291.5 360.8h0.8M307.6 345.2h0.8M294.2 361.1h0.8M298 335.8h0.8M302.6 358.4h0.8M309 352.4h0.8M308 348.9h0.8M288 354.5h0.8M289.9 355.5h0.8M297.3 360.5h0.8M291.4 357.2h0.8M294.2 360.5h0.8M302.1 333.6h0.8M309.5 353.4h0.8M307.3 344h0.8M308.7 351.1h0.8M294.6 364.1h0.8M283.9 347.4h0.8M287 347.1h0.8M294.3 336.1h0.8M290.5 357.9h0.8M288.8 342.7h0.8M296.4 336.9h0.8M300.7 359.2h0.8M285.6 338.3h0.8M289.3 339.8h0.8M302.5 333.9h0.8M290.5 338.1h0.8M301.2 359.2h0.8M284.6 350.9h0.8M287.2 348.4h0.8M287.4 342.2h0.8M309.5 353.9h0.8M307.3 357.8h0.8M305.6 339.9h0.8M297.6 360.7h0.8M305 336.8h0.8M303 359.7h0.8M290.6 357.7h0.8M287.1 352.2h0.8M308 344.5h0.8M298.8 335.1h0.8M294.9 360h0.8M290.4 357.6h0.8M310.2 350h0.8M290.6 339.1h0.8M285.8 344.3h0.8M296.9 363.5h0.8M287.1 339.7h0.8M287.7 351.3h0.8M309.6 347.8h0.8M308.6 351.4h0.8M304.5 358.5h0.8M297.9 364.7h0.8M282 348.7h0.8M310.7 345.3h0.8M298.9 363.1h0.8M307.9 345.3h0.8M289.7 339.8h0.8M286.6 344.5h0.8M287.7 344.6h0.8M293.9 337.2h0.8M284.3 344.6h0.8M287.7 343.1h0.8M308.6 346.3h0.8M288.4 356.4h0.8M303.7 360.7h0.8M284.9 352.1h0.8M306.8 342.8h0.8M300.7 360.9h0.8M300.5 335.7h0.8M296.4 361.3h0.8M289.9 359.8h0.8M306 357.1h0.8M292.3 337.9h0.8M309.4 348.7h0.8M286 345.2h0.8M291.7 338.5h0.8M310.6 345.5h0.8M309.6 357.4h0.8M292.4 338.2h0.8M295.2 337.3h0.8M285.5 355.9h0.8M301.8 338.2h0.8M303.5 336.8h0.8M303.6 361.7h0.8M287.4 353.9h0.8M293.3 336.3h0.8M308.9 345.8h0.8M305.6 354.8h0.8M295.5 360.3h0.8M301.6 361.7h0.8M309 354.8h0.8M286.5 353.6h0.8M290.6 339.7h0.8M298.7 335.6h0.8M287.5 356.2h0.8M293.1 361.2h0.8M291.7 358.7h0.8M309.1 339.4h0.8M291.2 338.6h0.8M287.5 338.7h0.8M298.5 335.5h0.8M291.5 338.7h0.8M286 349.2h0.8M302.9 357.9h0.8M291.7 338.9h0.8M286.3 343.7h0.8M303.2 337.6h0.8M283.4 351.9h0.8M296.1 335.1h0.8M300.6 337.8h0.8M305.2 340.2h0.8M283.2 342.7h0.8M288.4 355.3h0.8M305 337.9h0.8M295.3 363.8h0.8M308.3 353.5h0.8M304.1 358.2h0.8M306.2 353.8h0.8M309.3 350.2h0.8M293 358.7h0.8M287.7 338.9h0.8M309.7 347.4h0.8M296.3 360.6h0.8M282.9 347.3h0.8M295.3 360.6h0.8M285.5 349.8h0.8M303.9 361.2h0.8M291.5 336.5h0.8M308.9 339.1h0.8M292.2 358.1h0.8M308.3 345.2h0.8M298.2 360.6h0.8M289.7 356.6h0.8M298.5 363h0.8M286.4 351.4h0.8M308.8 356.3h0.8M287.2 352.1h0.8M292.3 358.7h0.8M296.1 365.3h0.8M300.4 336.9h0.8M304.8 339.2h0.8M283.7 351.9h0.8M286.5 345.8h0.8M284.2 346.3h0.8M298.4 360.9h0.8M302.4 336.3h0.8M292.8 358.8h0.8M291 358.2h0.8M288.5 361.7h0.8M289.3 354.6h0.8M289 341h0.8M284.9 348.7h0.8M287.2 359.2h0.8M284.8 349.9h0.8M293.6 360.9h0.8M290.2 356.2h0.8M298 363.9h0.8M287.5 352.5h0.8M289.5 339.2h0.8M294.9 359.9h0.8M304.2 357.5h0.8M285.8 350.3h0.8M310.6 349.5h0.8M291.2 357.2h0.8M295.4 360.2h0.8M307.7 352.4h0.8M295.9 361.9h0.8M307.3 340.8h0.8M286.5 343.6h0.8M289.8 355.6h0.8M309.8 345.1h0.8M291.8 357.7h0.8M304.6 336.5h0.8M301.5 360.6h0.8M295.1 361.6h0.8M288.3 353.6h0.8M307.5 338.8h0.8M292.2 338.5h0.8M288.1 341.8h0.8M307.3 342.2h0.8M286.2 346.7h0.8M292.7 335.8h0.8M305 355.7h0.8M290.2 355.5h0.8M287.1 347.2h0.8M294.8 336.9h0.8M286.3 341.6h0.8M309.2 354.2h0.8M296.3 362.1h0.8M298.3 362.5h0.8M308.4 348.9h0.8M289 360.4h0.8M292.7 335.6h0.8M294 337.7h0.8M288.6 354h0.8M308.1 343.6h0.8M297.8 335.5h0.8M295.1 335.6h0.8M295.7 361.4h0.8M286.5 352.4h0.8M310.8 349.6h0.8M289.4 355.2h0.8M289.7 338h0.8M312.6 349.8h0.8M294.8 335.8h0.8M301.8 360h0.8M287.6 343.5h0.8M298.6 363.6h0.8M311.1 345.7h0.8M295.4 365.2h0.8M310.1 338h0.8M287.1 340.2h0.8M311 354.9h0.8M287.1 349.4h0.8M307.9 345h0.8M298.3 335.2h0.8M305.3 341h0.8M285.6 348.8h0.8M299.3 362.3h0.8M297.6 336.8h0.8M294.9 361.2h0.8M300.9 359.4h0.8M303.7 359.3h0.8M290.2 358.1h0.8M294.4 336h0.8M302.2 358.6h0.8M289.2 356.4h0.8M286.1 347.8h0.8M288.8 353.9h0.8M306.2 357h0.8M311.6 348.8h0.8M297.2 361.1h0.8M288.2 352.4h0.8" fill="none" stroke="#555555" stroke-width="0.8" stroke-opacity="0.6"/>
<path d="M297 367h0.8M297.6 373.1h0.8M302 361.9h0.8M296.8 372.1h0.8M296.6 367.9h0.8M299 364h0.8M295.3 370h0.8M302.2 367.9h0.8M298.4 371h0.8M304.7 363.3h0.8M303.3 367.5h0.8M298.9 370.2h0.8M301.5 364.1h0.8M303.3 364.7h0.8M301.5 369.5h0.8M300.9 361.7h0.8M303.4 368.9h0.8M295.1 363.3h0.8M302.5 368.6h0.8M295.8 362.9h0.8M299.2 363.5h0.8M296.1 370.3h0.8M300.8 366h0.8M296.3 370.4h0.8M300.3 366.8h0.8M296 365.3h0.8M297 362.4h0.8M298.3 370.6h0.8M298.1 370.2h0.8M300.4 368.3h0.8M300.2 372h0.8M302.9 370h0.8M298.6 367.1h0.8M296.7 371.9h0.8M304.7 365.9h0.8M297.3 372.3h0.8M298 362.1h0.8M296.2 360.8h0.8M301.2 368.1h0.8M303.7 362.4h0.8M298.1 372.8h0.8M298.7 372.7h0.8M304.9 365.9h0.8M298.3 361.2h0.8M304.4 373.2h0.8M300.1 365.7h0.8M300.7 366.9h0.8M297.8 364.8h0.8M304.1 364.3h0.8M302.5 364.1h0.8M300.3 364.5h0.8M301.8 369.2h0.8M296 365.1h0.8M296 370.1h0.8M300.2 369.6h0.8M303.3 370.9h0.8M299.2 361.8h0.8M302.6 372.3h0.8M304.9 371.2h0.8M300.4 364.6h0.8" fill="none" stroke="#555555" stroke-width="0.8" stroke-opacity="0.6"/>
<path d="M295.5 360V372.5M302 360V372.5" stroke="#777" stroke-width="0.5" fill="none"/>
<path d="M308.25 348.5L308 350.07L307.45 351.61L306.68 353.09L305.76 354.5L304.73 355.81L303.66 356.99L302.56 358.02L301.49 358.89L300.44 359.59L299.44 360.09L298.46 360.4L297.5 360.5L296.54 360.4L295.56 360.09L294.56 359.59L293.51 358.89L292.44 358.02L291.34 356.99L290.27 355.81L289.24 354.5L288.32 353.09L287.55 351.61L287 350.07L286.75 348.5L286.84 346.93L287.12 345.39L287.57 343.91L288.19 342.5L288.97 341.19L289.9 340.01L290.96 338.98L292.12 338.11L293.39 337.41L294.72 336.91L296.1 336.6L297.5 336.5L298.9 336.6L300.28 336.91L301.61 337.41L302.88 338.11L304.04 338.98L305.1 340.01L306.03 341.19L306.81 342.5L307.43 343.91L307.88 345.39L308.16 346.93Z" fill="none" stroke="#fff" stroke-width="1.7" stroke-opacity="0.85"/>
<path d="M308.25 348.5L308 350.07L307.45 351.61L306.68 353.09L305.76 354.5L304.73 355.81L303.66 356.99L302.56 358.02L301.49 358.89L300.44 359.59L299.44 360.09L298.46 360.4L297.5 360.5L296.54 360.4L295.56 360.09L294.56 359.59L293.51 358.89L292.44 358.02L291.34 356.99L290.27 355.81L289.24 354.5L288.32 353.09L287.55 351.61L287 350.07L286.75 348.5L286.84 346.93L287.12 345.39L287.57 343.91L288.19 342.5L288.97 341.19L289.9 340.01L290.96 338.98L292.12 338.11L293.39 337.41L294.72 336.91L296.1 336.6L297.5 336.5L298.9 336.6L300.28 336.91L301.61 337.41L302.88 338.11L304.04 338.98L305.1 340.01L306.03 341.19L306.81 342.5L307.43 343.91L307.88 345.39L308.16 346.93Z" fill="#d2d2d2" fill-opacity="1"/>
<path d="M308.25 348.5L308 350.07L307.45 351.61L306.68 353.09L305.76 354.5L304.73 355.81L303.66 356.99L302.56 358.02L301.49 358.89L300.44 359.59L299.44 360.09L298.46 360.4L297.5 360.5L296.54 360.4L295.56 360.09L294.56 359.59L293.51 358.89L292.44 358.02L291.34 356.99L290.27 355.81L289.24 354.5L288.32 353.09L287.55 351.61L287 350.07L286.75 348.5L286.84 346.93L287.12 345.39L287.57 343.91L288.19 342.5L288.97 341.19L289.9 340.01L290.96 338.98L292.12 338.11L293.39 337.41L294.72 336.91L296.1 336.6L297.5 336.5L298.9 336.6L300.28 336.91L301.61 337.41L302.88 338.11L304.04 338.98L305.1 340.01L306.03 341.19L306.81 342.5L307.43 343.91L307.88 345.39L308.16 346.93ZM307.46 348.24L307.23 349.65L306.74 351.03L306.05 352.37L305.22 353.63L304.3 354.8L303.33 355.86L302.35 356.79L301.39 357.57L300.45 358.2L299.55 358.65L298.67 358.93L297.81 359.02L296.94 358.93L296.07 358.65L295.16 358.2L294.23 357.57L293.26 356.79L292.28 355.86L291.31 354.8L290.39 353.63L289.57 352.37L288.88 351.03L288.38 349.65L288.16 348.24L288.24 346.84L288.48 345.46L288.89 344.12L289.45 342.86L290.15 341.69L290.98 340.63L291.93 339.7L292.98 338.91L294.11 338.29L295.31 337.84L296.55 337.56L297.81 337.47L299.07 337.56L300.3 337.84L301.5 338.29L302.63 338.91L303.68 339.7L304.63 340.63L305.46 341.69L306.16 342.86L306.72 344.12L307.13 345.46L307.38 346.84ZM306.67 347.99L306.46 349.23L306.03 350.46L305.42 351.64L304.68 352.76L303.87 353.8L303.01 354.74L302.14 355.56L301.29 356.26L300.46 356.81L299.65 357.21L298.88 357.45L298.11 357.54L297.35 357.45L296.57 357.21L295.77 356.81L294.94 356.26L294.08 355.56L293.22 354.74L292.36 353.8L291.54 352.76L290.81 351.64L290.2 350.46L289.76 349.23L289.56 347.99L289.63 346.74L289.85 345.52L290.21 344.34L290.71 343.22L291.33 342.18L292.07 341.24L292.91 340.42L293.84 339.72L294.84 339.17L295.9 338.77L297 338.52L298.11 338.44L299.23 338.52L300.33 338.77L301.39 339.17L302.39 339.72L303.32 340.42L304.16 341.24L304.9 342.18L305.52 343.22L306.01 344.34L306.37 345.52L306.59 346.74ZM305.87 347.73L305.7 348.82L305.32 349.89L304.78 350.92L304.14 351.89L303.43 352.8L302.69 353.62L301.93 354.33L301.19 354.94L300.46 355.42L299.76 355.77L299.09 355.98L298.42 356.05L297.75 355.98L297.08 355.77L296.38 355.42L295.65 354.94L294.91 354.33L294.15 353.62L293.41 352.8L292.7 351.89L292.06 350.92L291.52 349.89L291.14 348.82L290.97 347.73L291.03 346.65L291.22 345.58L291.53 344.55L291.97 343.57L292.51 342.67L293.15 341.85L293.88 341.13L294.69 340.53L295.57 340.05L296.49 339.7L297.45 339.48L298.42 339.41L299.39 339.48L300.35 339.7L301.27 340.05L302.15 340.53L302.96 341.13L303.69 341.85L304.33 342.67L304.87 343.57L305.31 344.55L305.62 345.58L305.81 346.65ZM305.08 347.48L304.93 348.4L304.61 349.31L304.15 350.19L303.61 351.02L303 351.8L302.36 352.49L301.72 353.11L301.08 353.62L300.47 354.03L299.87 354.33L299.29 354.51L298.73 354.57L298.16 354.51L297.58 354.33L296.99 354.03L296.37 353.62L295.73 353.11L295.09 352.49L294.45 351.8L293.85 351.02L293.3 350.19L292.85 349.31L292.52 348.4L292.37 347.48L292.43 346.55L292.59 345.64L292.86 344.76L293.22 343.93L293.69 343.16L294.23 342.46L294.86 341.85L295.55 341.33L296.29 340.92L297.08 340.63L297.9 340.45L298.73 340.38L299.56 340.45L300.37 340.63L301.16 340.92L301.9 341.33L302.6 341.85L303.22 342.46L303.77 343.16L304.23 343.93L304.6 344.76L304.86 345.64L305.03 346.55ZM304.29 347.22L304.17 347.99L303.9 348.74L303.52 349.47L303.07 350.16L302.57 350.79L302.04 351.37L301.51 351.88L300.98 352.3L300.47 352.64L299.98 352.89L299.5 353.04L299.03 353.09L298.56 353.04L298.09 352.89L297.59 352.64L297.08 352.3L296.56 351.88L296.02 351.37L295.5 350.79L295 350.16L294.55 349.47L294.17 348.74L293.9 347.99L293.78 347.22L293.82 346.46L293.96 345.7L294.18 344.98L294.48 344.29L294.86 343.65L295.32 343.07L295.83 342.57L296.41 342.14L297.02 341.8L297.67 341.56L298.35 341.41L299.03 341.36L299.72 341.41L300.39 341.56L301.04 341.8L301.66 342.14L302.23 342.57L302.75 343.07L303.2 343.65L303.58 344.29L303.89 344.98L304.11 345.7L304.24 346.46ZM303.5 346.97L303.4 347.57L303.19 348.17L302.89 348.74L302.53 349.29L302.14 349.79L301.72 350.25L301.3 350.65L300.88 350.99L300.48 351.25L300.09 351.45L299.71 351.57L299.34 351.61L298.97 351.57L298.59 351.45L298.2 351.25L297.8 350.99L297.38 350.65L296.96 350.25L296.54 349.79L296.15 349.29L295.79 348.74L295.49 348.17L295.28 347.57L295.18 346.97L295.22 346.36L295.32 345.77L295.5 345.19L295.74 344.65L296.04 344.14L296.4 343.69L296.81 343.29L297.26 342.95L297.75 342.68L298.26 342.48L298.8 342.37L299.34 342.33L299.88 342.37L300.42 342.48L300.93 342.68L301.42 342.95L301.87 343.29L302.28 343.69L302.64 344.14L302.94 344.65L303.18 345.19L303.36 345.77L303.46 346.36ZM302.7 346.71L302.63 347.16L302.48 347.59L302.26 348.02L302 348.42L301.7 348.79L301.4 349.12L301.09 349.42L300.78 349.67L300.48 349.86L300.2 350.01L299.92 350.1L299.65 350.12L299.37 350.1L299.1 350.01L298.81 349.86L298.51 349.67L298.21 349.42L297.9 349.12L297.59 348.79L297.3 348.42L297.04 348.02L296.82 347.59L296.66 347.16L296.59 346.71L296.62 346.27L296.69 345.83L296.82 345.4L297 345L297.22 344.63L297.48 344.3L297.79 344L298.12 343.76L298.48 343.56L298.86 343.41L299.25 343.33L299.65 343.3L300.05 343.33L300.44 343.41L300.82 343.56L301.18 343.76L301.51 344L301.81 344.3L302.07 344.63L302.29 345L302.47 345.4L302.6 345.83L302.68 346.27ZM301.91 346.46L301.87 346.74L301.77 347.02L301.63 347.29L301.46 347.55L301.27 347.79L301.07 348L300.88 348.19L300.68 348.35L300.49 348.48L300.31 348.57L300.13 348.62L299.95 348.64L299.78 348.62L299.6 348.57L299.42 348.48L299.23 348.35L299.03 348.19L298.83 348L298.64 347.79L298.45 347.55L298.28 347.29L298.14 347.02L298.04 346.74L297.99 346.46L298.01 346.17L298.06 345.89L298.14 345.62L298.26 345.36L298.4 345.12L298.57 344.91L298.76 344.72L298.97 344.56L299.2 344.44L299.45 344.34L299.7 344.29L299.95 344.27L300.21 344.29L300.46 344.34L300.7 344.44L300.93 344.56L301.15 344.72L301.34 344.91L301.51 345.12L301.65 345.36L301.76 345.62L301.85 345.89L301.9 346.17ZM301.12 346.2L301.1 346.33L301.06 346.45L300.99 346.57L300.92 346.68L300.84 346.78L300.75 346.88L300.67 346.96L300.58 347.03L300.5 347.09L300.41 347.13L300.34 347.15L300.26 347.16L300.18 347.15L300.11 347.13L300.02 347.09L299.94 347.03L299.85 346.96L299.77 346.88L299.68 346.78L299.6 346.68L299.53 346.57L299.46 346.45L299.42 346.33L299.4 346.2L299.41 346.07L299.43 345.95L299.47 345.83L299.52 345.72L299.58 345.62L299.65 345.52L299.74 345.44L299.83 345.37L299.93 345.31L300.04 345.27L300.15 345.25L300.26 345.24L300.37 345.25L300.48 345.27L300.59 345.31L300.69 345.37L300.78 345.44L300.87 345.52L300.94 345.62L301 345.72L301.05 345.83L301.09 345.95L301.11 346.07Z" fill="none" stroke="#4a4a4a" stroke-width="0.42" stroke-opacity="0.75"/>
<ellipse cx="300.5" cy="346" rx="1.1" ry="0.9" fill="#fff" fill-opacity="0.95"/>
<rect x="240.9" y="320.4" width="72.3" height="51.6" fill="none" stroke="#5a5a5a" stroke-width="0.95"/>
<path d="M240.38 396.6v2.9M253.49 396.6v2.9M267.6 396.6v2.9M290.59 396.6v2.9M310.27 396.6v2.9M250.34 396.6v1.7M247.94 396.6v1.7M246.2 396.6v1.7M244.87 396.6v1.7M243.8 396.6v1.7M242.91 396.6v1.7M242.15 396.6v1.7M241.49 396.6v1.7M240.91 396.6v1.7M256.89 396.6v1.7M259.47 396.6v1.7M261.34 396.6v1.7M262.77 396.6v1.7M263.92 396.6v1.7M264.88 396.6v1.7M265.7 396.6v1.7M266.41 396.6v1.7M267.04 396.6v1.7M274.52 396.6v1.7M278.57 396.6v1.7M281.45 396.6v1.7M283.67 396.6v1.7M285.49 396.6v1.7M287.03 396.6v1.7M288.37 396.6v1.7M289.54 396.6v1.7M296.52 396.6v1.7M299.98 396.6v1.7M302.44 396.6v1.7M304.34 396.6v1.7M305.9 396.6v1.7M307.22 396.6v1.7M308.36 396.6v1.7M309.37 396.6v1.7M316.19 396.6v1.7M235.4 390.97h-2.9M235.4 377.45h-2.9M235.4 363h-2.9M235.4 339.98h-2.9M235.4 320.83h-2.9M235.4 380.7h-1.7M235.4 383.17h-1.7M235.4 384.97h-1.7M235.4 386.34h-1.7M235.4 387.45h-1.7M235.4 388.36h-1.7M235.4 389.14h-1.7M235.4 389.83h-1.7M235.4 390.43h-1.7M235.4 373.97h-1.7M235.4 371.33h-1.7M235.4 369.41h-1.7M235.4 367.94h-1.7M235.4 366.77h-1.7M235.4 365.79h-1.7M235.4 364.95h-1.7M235.4 364.22h-1.7M235.4 363.58h-1.7M235.4 356.07h-1.7M235.4 352.02h-1.7M235.4 349.14h-1.7M235.4 346.91h-1.7M235.4 345.09h-1.7M235.4 343.55h-1.7M235.4 342.21h-1.7M235.4 341.04h-1.7M235.4 334.22h-1.7M235.4 330.85h-1.7M235.4 328.45h-1.7M235.4 326.6h-1.7M235.4 325.08h-1.7M235.4 323.8h-1.7M235.4 322.69h-1.7M235.4 321.71h-1.7M235.4 315.07h-1.7" stroke="#222" stroke-width="0.8" fill="none"/>
<rect x="235.4" y="312.6" width="83" height="84" fill="none" stroke="#111" stroke-width="1.3"/>
<text x="240.38" y="410.4" font-size="6.4" text-anchor="middle">-10<tspan font-size="4.35" dy="-2.88">3</tspan></text>
<text x="253.49" y="410.4" font-size="6.4" text-anchor="middle">0</text>
<text x="267.6" y="410.4" font-size="6.4" text-anchor="middle">10<tspan font-size="4.35" dy="-2.88">3</tspan></text>
<text x="290.59" y="410.4" font-size="6.4" text-anchor="middle">10<tspan font-size="4.35" dy="-2.88">4</tspan></text>
<text x="310.27" y="410.4" font-size="6.4" text-anchor="middle">10<tspan font-size="4.35" dy="-2.88">5</tspan></text>
<text x="275.5" y="306.4" font-size="6.3" text-anchor="middle">20m</text>
<path d="M384.2 341.2h0.8M354.4 339.6h0.8M389.4 334.2h0.8M387.1 334.5h0.8M369.4 330.7h0.8M357.5 332.4h0.8M353.1 337.5h0.8M355.1 336.8h0.8M387.9 331.9h0.8M388.6 339.7h0.8M388.4 335.5h0.8M356.4 331.1h0.8M366.2 342.9h0.8M390.5 336.3h0.8M389.9 335.2h0.8M350.9 333.8h0.8M390.5 334.7h0.8M357.3 331.7h0.8M354.3 335.7h0.8M353.3 332h0.8M390.7 339.2h0.8M384.5 332.7h0.8M356.1 336.3h0.8M376.6 342.6h0.8M361 342.6h0.8M387.3 341.1h0.8M358.5 342.9h0.8M387.9 337.7h0.8M357.9 332.3h0.8M390.4 333.9h0.8M384.1 342.8h0.8M386 341.8h0.8M356 336.5h0.8M387.3 342h0.8M382.9 331.2h0.8M386.2 332.5h0.8M382.3 331.3h0.8M355 334.1h0.8M389.4 335.4h0.8M388.1 338.6h0.8M385.4 333.3h0.8M359.5 333h0.8M357 335.2h0.8M355.5 338.9h0.8M357.4 340.8h0.8M354.2 335.9h0.8M370.6 343.6h0.8M376.5 331.5h0.8M359.8 341.8h0.8M388.4 333.1h0.8M363.5 332.1h0.8M388.3 335h0.8M356.9 336.1h0.8M367.4 331.4h0.8M360.1 331.4h0.8M386.3 341h0.8M355.2 335.5h0.8M387.2 332.2h0.8M357.3 341.5h0.8M354.1 339.1h0.8M362.2 343.2h0.8M382.2 331.6h0.8M392.9 344h0.8M351 338.2h0.8M382.5 331.1h0.8M357.6 341.5h0.8M352.4 332.9h0.8M385 341.5h0.8M390.5 333.1h0.8M387.3 338.7h0.8M369.6 342.5h0.8M363.8 332.1h0.8M391.6 340.4h0.8M376 342.7h0.8M393.1 336h0.8M377.1 331.4h0.8M354.3 334.7h0.8M387.5 339.6h0.8M389.1 339.2h0.8M357.5 334h0.8M383 331.8h0.8M357.2 333.9h0.8M387.1 341.7h0.8M354.3 331.7h0.8M355.6 338.7h0.8M387 332.8h0.8M351.7 341.6h0.8M365.4 331.9h0.8M390.2 338.1h0.8M362.7 330.9h0.8M364.4 343.2h0.8M357.1 331.1h0.8M360.9 342.8h0.8M362.8 331.8h0.8M353.4 343.1h0.8M358.8 333.3h0.8M391.7 339.1h0.8M360.4 341.8h0.8M365 332h0.8M361.3 330.5h0.8M380.3 343.3h0.8M385.7 331.8h0.8M357.6 340h0.8M353.7 337.5h0.8M380.6 343.9h0.8M384.4 333.2h0.8M354.3 337.4h0.8M387.2 332.9h0.8M388.4 336.1h0.8M355.4 339.8h0.8M376.6 343.4h0.8M393.5 339.5h0.8M367.2 331.9h0.8M380.1 342.3h0.8M364.7 330.9h0.8M381.2 332.3h0.8M355.6 339.1h0.8M354.1 340.2h0.8M387.4 335.2h0.8M365.9 342.8h0.8M385.7 334.1h0.8M386.3 333.7h0.8M360.3 342h0.8M369.2 343.9h0.8M377.5 343h0.8M387 341h0.8M358.6 333.1h0.8M378.7 343.3h0.8M362.2 342.6h0.8M359.2 332.7h0.8M388.2 339h0.8M364.1 331.6h0.8M388 332.7h0.8M355.8 337.7h0.8M388 339.5h0.8M368.1 344.3h0.8M366 344h0.8M386.3 342.9h0.8M388.4 335.4h0.8M358.7 341.8h0.8M363.3 332h0.8M383.4 342.8h0.8M383.9 341.6h0.8M352.5 341.4h0.8M387.2 332.4h0.8M364.8 330.8h0.8M353.4 341.9h0.8M388.6 335.1h0.8M366.3 330.5h0.8M386.4 340.5h0.8M381 331.7h0.8M372.7 343h0.8M356.1 340.4h0.8M353.2 334.5h0.8M387.4 343.4h0.8M349.9 334.8h0.8M356.7 337.8h0.8M388.6 339.4h0.8M387.1 341.8h0.8M355.8 334.9h0.8M361.3 332.6h0.8M366.6 332h0.8M354.4 333h0.8M361.3 341.9h0.8M359.3 342.2h0.8M383.2 332.3h0.8M377.4 343.4h0.8M381.9 342.5h0.8M388.4 343.4h0.8M355.4 333.1h0.8M375.6 330.3h0.8M354.8 335h0.8M356.6 334.9h0.8M379.6 342.8h0.8M355.6 342.4h0.8M357.2 335.6h0.8M391.6 341h0.8M380.6 332.2h0.8M364.6 330.9h0.8M354.9 336.7h0.8M360.4 332.3h0.8M388.6 335.5h0.8M385.7 331.6h0.8M352.7 336.9h0.8M388.3 338.3h0.8M379.1 331.6h0.8M358.3 331h0.8M391 339.4h0.8M363.1 343.4h0.8M361.8 331h0.8M354.7 340.8h0.8M357.7 340.9h0.8M387.5 333h0.8M386.3 332.8h0.8M357 340.2h0.8M390.9 337.1h0.8M390.4 336.5h0.8M386.7 342h0.8M383.7 342.5h0.8M388.3 339h0.8M357 332.2h0.8M356.1 332h0.8M359.8 331.8h0.8M388.1 337.9h0.8M390.3 337h0.8M387.4 341.3h0.8M385.5 333.7h0.8M353.9 338.5h0.8M364.3 342.6h0.8M389.4 336.1h0.8M365.8 330.4h0.8M356.6 338.8h0.8M366.4 342.7h0.8M389.8 334.9h0.8M363.1 343.7h0.8M356.2 339.3h0.8M353.1 341.8h0.8M384.1 332.6h0.8M356.8 338.9h0.8M357.3 340.8h0.8M353.6 338.4h0.8M352 338.8h0.8M384.7 342.1h0.8M389.1 332.8h0.8M388.6 333.6h0.8M380.7 342.8h0.8M374.8 342.5h0.8M357.7 333.4h0.8M351 336.4h0.8M388.1 335.1h0.8M361.1 341.7h0.8M381.7 331.8h0.8M386.2 331.2h0.8M358.2 340.5h0.8M364.9 330.8h0.8M382.1 331.2h0.8M378.4 342.9h0.8M359.5 341.1h0.8M384.3 333.2h0.8M387.1 335.5h0.8M382.2 332.5h0.8M385.7 333.3h0.8M382.3 330.1h0.8M352.9 333.3h0.8M385.4 342.7h0.8M388.1 336.2h0.8M382.7 332.3h0.8M356.3 335.3h0.8M387.3 340.8h0.8M390.2 343.2h0.8M375.5 343.4h0.8M361 342.7h0.8M382 342.8h0.8M386.4 343.6h0.8M353.7 337.1h0.8M359.7 342.9h0.8M382.9 342.8h0.8M348.2 332.7h0.8M362.6 331.8h0.8M375.7 343.3h0.8M379.9 343h0.8M368.6 342.5h0.8M384 331.1h0.8M388.5 336.2h0.8M352 335.3h0.8M360.7 342.9h0.8M378.5 345h0.8M384.4 342.9h0.8M357.3 341.3h0.8M371.1 330.3h0.8M388.8 341.1h0.8M355 333.1h0.8M354.8 342.3h0.8M358.3 341.2h0.8M378.5 331.5h0.8M382.2 331.5h0.8M363.9 344.5h0.8M381.9 331.6h0.8M389.4 332.8h0.8M386.6 341.9h0.8M356.5 339.1h0.8M383.9 342.5h0.8M387.4 333.7h0.8M386.7 340.1h0.8M365.2 331.7h0.8M384.8 341.2h0.8M362.9 331.4h0.8M362.8 331.4h0.8M377.7 344.3h0.8M364.7 342.5h0.8M382.8 330h0.8M386.1 332.3h0.8M351.7 340.4h0.8M382.6 332h0.8M390.7 340.2h0.8M366.8 343.1h0.8M385.1 341.8h0.8M380.2 343h0.8M355 336.1h0.8M357.4 341.2h0.8M385.9 333.3h0.8M382.1 331.9h0.8M359.9 343.8h0.8M383.1 332.3h0.8M356.8 333.1h0.8M388.3 335.1h0.8M382.1 342.1h0.8M387.8 334.2h0.8M378.2 342.5h0.8M365.7 331.4h0.8M386.2 340.5h0.8M389.5 338.7h0.8M358 340.5h0.8M353.5 339.6h0.8M357.7 333.1h0.8M358.2 340.3h0.8M358.6 331.6h0.8M387.6 336.8h0.8M369.6 342.5h0.8M391.1 338h0.8M356.9 340h0.8M356.4 334.3h0.8M359.9 332.2h0.8M357.9 333.9h0.8M388.1 340.7h0.8M389.1 332.7h0.8M383.9 343.3h0.8M359.2 341.5h0.8M387.5 338.2h0.8M383 331.2h0.8M390.2 338.1h0.8M381.7 344.3h0.8M357.2 339.4h0.8M354.6 334.6h0.8M383.1 341.7h0.8M386.5 334.8h0.8M388.8 337.3h0.8M390.5 334.6h0.8M389.2 336.5h0.8M363 331.8h0.8M390 337.6h0.8M354.2 337.9h0.8M357 340.8h0.8M387.8 336.6h0.8M387.3 335.4h0.8M387.3 338.4h0.8M384.7 344.8h0.8M398.7 337.3h0.8M360.2 332.4h0.8M386.7 342.8h0.8M354.3 340.3h0.8M356.1 338.7h0.8M385.9 340.6h0.8M356.4 337.4h0.8M379.6 343.5h0.8M383.7 341.6h0.8M358 334.2h0.8M386.4 340h0.8M365.8 331.9h0.8M357.6 341.2h0.8M356.1 335h0.8M359.1 341.5h0.8M385.9 332.6h0.8M355 333.3h0.8M391.9 336.9h0.8M360.4 332.2h0.8M382 332.1h0.8M385 333.6h0.8M359.3 333.4h0.8M386.4 342.5h0.8M353.3 335.9h0.8M386.2 332.5h0.8M355.7 339.4h0.8M358.1 333.4h0.8M355.9 337.9h0.8M367.4 331.6h0.8M354.9 339.7h0.8M355.6 339.2h0.8M358.3 342.8h0.8M384.5 341.6h0.8M381.3 331.6h0.8M383.7 343.1h0.8M354.9 343.5h0.8M357.1 330.5h0.8M382.8 331.2h0.8M391.1 336.4h0.8M390.5 339.4h0.8M360.7 332.5h0.8M389.1 337.2h0.8M358.5 331.7h0.8M358.9 343.1h0.8M380.3 331.7h0.8M390.5 336.7h0.8M367.4 331.2h0.8M384.5 331.8h0.8M390.8 333.5h0.8M354.9 337.4h0.8M389.2 340.4h0.8M356.7 336.7h0.8M356.5 337.1h0.8M353.3 340.3h0.8M368.2 343.1h0.8M362.4 331.4h0.8M385.4 333.7h0.8M387.8 335.8h0.8M390.3 332.4h0.8M352.1 338.1h0.8M358.5 333.4h0.8M369.1 343.1h0.8M365.4 343.5h0.8M364.4 342.8h0.8M390.7 338.1h0.8M357.7 339.9h0.8M357.9 333.4h0.8M356.3 333.5h0.8M354.8 337.6h0.8M368.7 331.5h0.8M386.8 341.7h0.8M383.4 332.6h0.8M366.3 331.3h0.8M360.4 342.1h0.8M355.7 334.8h0.8M386.1 333h0.8M382.6 342.9h0.8M386.8 334.7h0.8M359 332h0.8M353.2 338.1h0.8M388.3 337.7h0.8M388.6 340.1h0.8M378.7 332h0.8M388.8 336.1h0.8M355.2 335.4h0.8M350.2 337h0.8M374.8 330h0.8M392.3 335.2h0.8M363 331.6h0.8M378.8 343.6h0.8M359.7 332.5h0.8M355.1 341.3h0.8M358.4 333.6h0.8M359.3 332.5h0.8M389.1 341.7h0.8M373.2 343.6h0.8M380.7 331.6h0.8M355.7 340.2h0.8M389.7 337.4h0.8M389.2 335.1h0.8M392.2 339.2h0.8M385.8 331.2h0.8M384.8 342h0.8M362.5 342.5h0.8M388.3 334.3h0.8M386.7 340.9h0.8M359.2 341.5h0.8M383.8 332.8h0.8M354.3 331.1h0.8M356.4 341.3h0.8M361.4 342.2h0.8M384.5 342.2h0.8M351.3 336.3h0.8M385.2 341.4h0.8M390.4 336.8h0.8M388.8 337.3h0.8M363.2 342.2h0.8M377.5 343.6h0.8M380.1 343.2h0.8M388 339.3h0.8M355 335.9h0.8M356.4 333h0.8M387.5 338.1h0.8M387.7 338.7h0.8M364.8 331.9h0.8M354.8 336.5h0.8M355.6 332.2h0.8M357.7 340.9h0.8M360.8 332.4h0.8M380.7 342.4h0.8M367.2 331.1h0.8M368.4 331h0.8M389.6 339.1h0.8M361.4 331.5h0.8M388.7 335h0.8M390.7 337.2h0.8M353.9 339.7h0.8M387.9 335h0.8M358.1 342.5h0.8M387.3 336.1h0.8M389.9 340.6h0.8M381.5 343.1h0.8M368.3 342.9h0.8M353.5 341.1h0.8M388.3 338.3h0.8M387.3 341.8h0.8M374.5 330h0.8M389.9 340.1h0.8M386.3 340.8h0.8M387.7 335.3h0.8M386.1 340h0.8M352 337.2h0.8M364.1 342.9h0.8M390 339.1h0.8M388.7 339.8h0.8M353.1 333.7h0.8M388.7 335.5h0.8M355.3 331.8h0.8M355.3 336.7h0.8M357.5 333h0.8M389.3 338.8h0.8M376.4 331.7h0.8M355.2 337.5h0.8M383.5 332h0.8M388 333.2h0.8M386.8 334.7h0.8M358.5 343.4h0.8M383.5 330.2h0.8M354.8 333.3h0.8M389.6 338.8h0.8M358.6 333.5h0.8M353.8 340.1h0.8M382.2 332.5h0.8M356.4 340.5h0.8M387.4 335.1h0.8M388.7 340.1h0.8M392.6 337.9h0.8M360.4 332h0.8M355.5 339.8h0.8M386.1 333.2h0.8M367 343.3h0.8M357.3 335h0.8M389.8 338h0.8M389.9 338.5h0.8M385.9 341.9h0.8M358.1 332.2h0.8M364.9 342.7h0.8M390.5 334.9h0.8M354.6 342.3h0.8M385.6 343.1h0.8M358.4 332.4h0.8M378.5 331.8h0.8M379.6 331.5h0.8M388.5 338.9h0.8M381.3 330.2h0.8M381.1 330.9h0.8M353.2 334.5h0.8M355.2 342.8h0.8M379.2 332.1h0.8M382.9 343.5h0.8M361.5 342.4h0.8M378.8 332h0.8M388.4 336.3h0.8M355.3 340.7h0.8M388.4 335.1h0.8M353.1 333.4h0.8M357.4 341h0.8M388 338.9h0.8M356.4 334.1h0.8M391.8 335.9h0.8M379.9 331.7h0.8M391.1 333.6h0.8M387.5 335.2h0.8M387.8 334.1h0.8M353.9 338.8h0.8M357.7 342.1h0.8M388.6 339.2h0.8M389.2 336.6h0.8M364.4 342.8h0.8M385 333.5h0.8M357.4 334.1h0.8M365.8 342.9h0.8M356.7 335.6h0.8M361.3 343.2h0.8M355.3 337.3h0.8M355 337.5h0.8M353.2 334.2h0.8M380.6 343.5h0.8M386.2 340.1h0.8M386.1 331.6h0.8M377.8 331.3h0.8M369.5 331.7h0.8M385.9 340.7h0.8M358.2 333.4h0.8M349.7 334.9h0.8M389.3 341.1h0.8M385.2 333.6h0.8M383.6 332.2h0.8M381.5 342.2h0.8M381.9 343.1h0.8M387.5 340.5h0.8M355.3 337.6h0.8M356.8 339.4h0.8M355.5 335.2h0.8M391.4 338.7h0.8M360.3 332.2h0.8M359 342.1h0.8M383.9 342h0.8M377.4 331.8h0.8M379.9 330.6h0.8M353.8 341.7h0.8M358.6 332h0.8M356.4 333.5h0.8" fill="none" stroke="#b83232" stroke-width="0.8" stroke-opacity="0.75"/>
<path d="M380.6 355.8h0.8M391.2 352.6h0.8M385.7 346.1h0.8M352.4 372.4h0.8M378.6 353.7h0.8M377 366.3h0.8M379.3 353.7h0.8M370.2 346h0.8M364.9 371.7h0.8M378.7 364.7h0.8M378.6 364.3h0.8M374.5 361.6h0.8M369.2 365h0.8M374.8 368.3h0.8M384.1 347.3h0.8M384.2 363.9h0.8M367.5 365.6h0.8M351.8 361.3h0.8M356.1 369.7h0.8M372 349.6h0.8M353 359.6h0.8M380.6 370.5h0.8M359 344.4h0.8M358.6 360.7h0.8M381 369.7h0.8M379 371.7h0.8M358.6 367.8h0.8M352.2 347.3h0.8M369.9 354.5h0.8M363.3 363h0.8M373.1 356.5h0.8M379.9 367.3h0.8M372.1 353.1h0.8M385.9 355.8h0.8M369.6 371.4h0.8M350.3 350.2h0.8M377 356.9h0.8M380.4 346h0.8M359.4 372.8h0.8M358.2 359.9h0.8M379.2 368.8h0.8M386.2 341.7h0.8M365.7 362h0.8M378.2 373.1h0.8M388 364h0.8M357.1 368.7h0.8M370.3 343h0.8M360.9 349.3h0.8M366.4 352.3h0.8M358 357h0.8M375.6 343.1h0.8M349.4 359.3h0.8M371.8 359.9h0.8M375.1 371.4h0.8M348 340.8h0.8M389.1 346.7h0.8M352.1 344.9h0.8M362.9 364.7h0.8M369.4 357.3h0.8M384.6 373.6h0.8M375.1 346.4h0.8M356.3 342.1h0.8M378.7 354.6h0.8M356.7 354.7h0.8M366.4 358.8h0.8M376.5 349.2h0.8M355.7 374.3h0.8M385 364.5h0.8M385.2 359.5h0.8M366.2 373.6h0.8" fill="none" stroke="#b83232" stroke-width="0.8" stroke-opacity="0.6"/>
<path d="M401.4 358.1h0.8M401.3 344.2h0.8M389.6 346h0.8M392.5 355.8h0.8M395.7 349.8h0.8M400.1 349.2h0.8M400.5 361h0.8M393 356.3h0.8M405 341.6h0.8M399.6 363.5h0.8M398.6 359.1h0.8M397.1 357.3h0.8M399.2 358.4h0.8M386.8 340.3h0.8M392.7 354.1h0.8M393.2 345.6h0.8M400.4 349.4h0.8M400.2 368.4h0.8M395.2 348.7h0.8M382.2 350.7h0.8M392.8 352.7h0.8M407.7 360.6h0.8M401.4 358h0.8M387.9 339h0.8M401.6 356.9h0.8M399.6 346.7h0.8M404 350.2h0.8M403.9 355.8h0.8M397.1 348h0.8M393.6 335.2h0.8M394.8 352.6h0.8M395.3 351.4h0.8M390.4 347.1h0.8M397.4 342.7h0.8M396.2 351.7h0.8M393.2 353.2h0.8M382.6 349.6h0.8M399.7 362.1h0.8M392 351.4h0.8M392.7 354h0.8M402.3 340.1h0.8M392 350.4h0.8M402.5 373.4h0.8M396.1 335.9h0.8M386.5 360.5h0.8M395.6 355h0.8M393.2 351.9h0.8M397.6 351.9h0.8M395.3 353.9h0.8M398.7 339.2h0.8M400.8 366.8h0.8M397.7 356.4h0.8M403.3 364.9h0.8M391.3 357.5h0.8M396.6 359.4h0.8M398.7 359.7h0.8M398.7 355.3h0.8M406.3 367.5h0.8M395.4 356.2h0.8M401 355.8h0.8M396.3 347.3h0.8M397.3 351.2h0.8M390 364.1h0.8M397.1 348.8h0.8M393.7 360.6h0.8M409.5 353.5h0.8M393.7 339.8h0.8M400.5 360h0.8M405.3 353.3h0.8M401.7 352.5h0.8M392.7 362.8h0.8M394 356.2h0.8M405 343.8h0.8M390.3 355.8h0.8M397.3 347.3h0.8M403.7 345.6h0.8M387.7 367.9h0.8M392.5 333.5h0.8M391.6 349.1h0.8M393.8 348.5h0.8M400.2 360.4h0.8M391.3 363.7h0.8M393.3 346.6h0.8M402.9 329.6h0.8M402.4 370h0.8M394.7 345.8h0.8M391.6 350.9h0.8M389.9 350.2h0.8M398.6 350h0.8M397 354.6h0.8M400.6 344.6h0.8M398.1 358.2h0.8M398.7 360.3h0.8M388.5 346.6h0.8M400.6 345.7h0.8M386.6 363.2h0.8M405.2 366h0.8M389.1 358.8h0.8M394.8 360.8h0.8M390.7 335.2h0.8M403.9 355.6h0.8M396.2 355h0.8M400.5 352.7h0.8M400.1 361.5h0.8M391.1 362.8h0.8M392.4 353.5h0.8M390.2 351.4h0.8M392.2 366.9h0.8M400.6 349.4h0.8M399.3 348.2h0.8M400.3 361.8h0.8M391.9 352.3h0.8M391.3 369.1h0.8M402.9 368.5h0.8M398.6 362.4h0.8M398 355.6h0.8M396 354.8h0.8M399.8 350.3h0.8M403.2 373.1h0.8M395 356.2h0.8M393.8 357.8h0.8M388.9 356.1h0.8M395.2 353.9h0.8M391 342.2h0.8M388.1 358h0.8M397.9 362.8h0.8M398 343.9h0.8M397.1 335.7h0.8M388.1 349h0.8M392 352.2h0.8M394 358.7h0.8M407.6 347.3h0.8M399.5 357.1h0.8M402 345.7h0.8M396.5 336.3h0.8M390.9 363.5h0.8M407.7 353.4h0.8M398.4 348.7h0.8M398.6 346.7h0.8M401.6 359h0.8M395.9 341.4h0.8M398.6 355.2h0.8M389.7 364.2h0.8M397.9 349.7h0.8M389.7 360.2h0.8M388.5 366.8h0.8M399 374.2h0.8M391.1 362.8h0.8M393.9 345.2h0.8M396.4 341.2h0.8M395.9 351.7h0.8M404 371.1h0.8M396.2 352h0.8M399.9 362.1h0.8M401 358.7h0.8M388 373.1h0.8M388.6 353.8h0.8M398.7 352.3h0.8M393.7 348.1h0.8M390.7 356.7h0.8M401 358h0.8M398.8 355.5h0.8M394.4 360.1h0.8M400 356.4h0.8M381.7 350.1h0.8M396.3 353.5h0.8M402 351.3h0.8M400.3 356.9h0.8M396.8 354.9h0.8M403.3 370.4h0.8M400 356h0.8M394.8 345.8h0.8M397.8 351.8h0.8M400.7 339.4h0.8M399.4 352.1h0.8M393.8 357.4h0.8M379.9 349.6h0.8M408.1 365.7h0.8M394.9 355.3h0.8M384.6 347.5h0.8M391 361.3h0.8M398.1 360.1h0.8M386.2 352.6h0.8M399.2 357.5h0.8M395.7 346h0.8M404.2 363.8h0.8M392.1 339.8h0.8M397.1 351.1h0.8M404.7 343.2h0.8M400.8 353.1h0.8M394.2 338.1h0.8M395.7 355.7h0.8M397.4 353.5h0.8M386.8 342.1h0.8M399.3 356.7h0.8M399.3 338.4h0.8M392.8 348.7h0.8M393 353.9h0.8M397.5 350.3h0.8M403.3 359h0.8M393.1 341.4h0.8M394.7 338.9h0.8M393.9 366h0.8M396.5 341h0.8M399.9 368.4h0.8M391.1 358.7h0.8M384.9 361.2h0.8M395.3 352.2h0.8M404.4 345.2h0.8M391.9 352.8h0.8M400.6 353.8h0.8M397.5 348.6h0.8M390.7 343.1h0.8M398 358.5h0.8M392.9 347.5h0.8M394.3 360.2h0.8M394.9 356.9h0.8M390.3 366.8h0.8M395.7 361.7h0.8M405 333.2h0.8M398.8 357h0.8M404.2 354.5h0.8M391 375.4h0.8M411.2 351.6h0.8M399.9 351h0.8M398.5 350.9h0.8M393.3 352.4h0.8M391.2 347.6h0.8M397.1 369.5h0.8M404.4 357h0.8M398.3 358.5h0.8M410.2 365.1h0.8M394.9 341.6h0.8M388.6 367.9h0.8M394.1 350.9h0.8M404 357h0.8M403.4 348.7h0.8M390.6 347.9h0.8M392.3 349.4h0.8M403.3 357.6h0.8M386.8 357.8h0.8M400.1 355.5h0.8M391.5 363.6h0.8M394.9 350.1h0.8M393.9 341.5h0.8M401.2 345.1h0.8M404 350.3h0.8M393.6 363.1h0.8M403.2 360.6h0.8" fill="none" stroke="#555555" stroke-width="0.8" stroke-opacity="0.6"/>
<path d="M402.2 347.1h0.8M400.4 339.9h0.8M391.2 334.4h0.8M392.6 349.3h0.8M382.2 331.3h0.8M397 342.7h0.8M390.9 336.4h0.8M397.7 344.5h0.8M398.1 333.8h0.8M391.7 337.3h0.8M410.1 334h0.8M393.8 344.7h0.8M389.5 334.7h0.8M404.9 330.5h0.8M391.2 332.6h0.8M408.6 337.6h0.8M401.7 338h0.8M387.1 331.8h0.8M394.6 348.3h0.8M403.3 327.2h0.8M400.4 336.5h0.8M402.4 334.3h0.8M401 335.1h0.8M399.9 337.3h0.8M393.8 330.1h0.8M394.1 332.8h0.8M398.5 335.2h0.8M401.3 331.9h0.8M401.4 341.1h0.8M390.9 332.4h0.8M392.7 346.1h0.8M412.4 330.6h0.8M400.9 348.2h0.8M394.1 336.4h0.8M387.8 350.9h0.8M397.2 339.6h0.8M399.2 339h0.8M394.1 342.1h0.8M388.5 318.1h0.8M406.1 331.4h0.8M394.3 333.9h0.8M398.7 329.9h0.8M398.9 342.5h0.8M392.8 355h0.8M401.3 322.5h0.8M391.6 332.8h0.8M391.6 339.3h0.8M408.9 334h0.8M397.1 342.8h0.8M398.5 336.7h0.8M390.7 342.4h0.8M401.4 347.9h0.8M399.2 339.1h0.8M396.8 342.4h0.8M401.1 336.3h0.8M399 332.1h0.8M388.1 341.2h0.8M395.5 338.3h0.8M391.9 336.2h0.8M389.1 334.8h0.8M400 333.7h0.8M380.7 340.6h0.8M398.6 337.8h0.8M394.4 329.6h0.8M405.5 336.9h0.8M401.9 345.5h0.8M401.2 344.2h0.8M399.3 337.2h0.8M383.8 340.1h0.8M392.6 336h0.8M388.7 350.8h0.8M396.8 342h0.8M398.1 336.5h0.8M393.4 344.6h0.8M391.3 335.8h0.8M396.6 335.9h0.8M393.5 329.6h0.8M392.6 333.1h0.8M411.5 334h0.8M392.9 334.4h0.8M391.3 332.7h0.8M396.1 338.6h0.8M395.8 333.4h0.8M402 348h0.8M409.5 335.8h0.8M387.8 330.8h0.8M408.5 341.9h0.8M398.9 338.2h0.8M392.4 338.3h0.8M390.2 336h0.8M405.8 347h0.8M386 334.1h0.8M390.9 344.4h0.8M405.4 338.7h0.8M380.6 343.3h0.8M390.8 338.9h0.8M404.8 350.5h0.8M397 335.7h0.8M393.5 340.4h0.8M401 337h0.8M382.9 339.1h0.8M388.1 332.8h0.8M399.9 335.4h0.8M391.9 332.1h0.8M382.4 333.4h0.8M411.9 341h0.8M395.3 341.1h0.8M401.1 340.2h0.8M399.2 338.1h0.8M396.1 333.4h0.8M391.6 339.9h0.8M395.5 332.9h0.8M381.9 330.4h0.8M389.8 344.8h0.8M402.6 340h0.8M394.2 338.2h0.8M392.8 349.1h0.8M396.5 337.6h0.8M399.1 347.1h0.8M401.6 333h0.8M395 330.2h0.8M391.4 331.3h0.8M388.2 343.1h0.8M392.6 342.2h0.8M385.2 337.6h0.8M397.3 329.3h0.8M392.2 334h0.8M399.4 342.4h0.8M394.5 340.6h0.8M391.6 333h0.8M390.8 339.1h0.8M399.4 352.5h0.8M389.7 337.1h0.8M395.6 329.9h0.8M406.3 337.9h0.8M404.8 341.2h0.8M396.5 347.6h0.8M397.8 339.5h0.8M399.8 331.4h0.8M399.6 337.1h0.8M393.6 345.3h0.8M390.5 334.7h0.8M384.9 345.2h0.8M404.7 330.9h0.8M404.2 338.5h0.8M406.9 338.2h0.8M395.6 332.4h0.8M402.1 339.4h0.8M403.3 343.6h0.8M400.7 336.6h0.8" fill="none" stroke="#555555" stroke-width="0.8" stroke-opacity="0.6"/>
<path d="M361.5 331.1H382.5a6.2 6.2 0 0 1 0 12.4H361.5a6.2 6.2 0 0 1 0 -12.4Z" fill="none" stroke="#b83232" stroke-width="1.4" stroke-opacity="0.55"/>
<path d="M361.5 331.8H382.5a5.5 5.5 0 0 1 0 11H361.5a5.5 5.5 0 0 1 0 -11Z" fill="none" stroke="#fff" stroke-width="1.7" stroke-opacity="0.85"/>
<path d="M361.5 331.8H382.5a5.5 5.5 0 0 1 0 11H361.5a5.5 5.5 0 0 1 0 -11Z" fill="#f0d0d0" fill-opacity="1"/>
<path d="M361.5 331.8H382.5a5.5 5.5 0 0 1 0 11H361.5a5.5 5.5 0 0 1 0 -11ZM362.7 332.62H380.73a4.72 4.72 0 0 1 0 9.44H362.7a4.72 4.72 0 0 1 0 -9.44ZM363.91 333.44H378.96a3.94 3.94 0 0 1 0 7.88H363.91a3.94 3.94 0 0 1 0 -7.88ZM365.11 334.26H377.19a3.16 3.16 0 0 1 0 6.32H365.11a3.16 3.16 0 0 1 0 -6.32ZM366.32 335.09H375.42a2.38 2.38 0 0 1 0 4.77H366.32a2.38 2.38 0 0 1 0 -4.77ZM367.52 335.91H373.65a1.6 1.6 0 0 1 0 3.21H367.52a1.6 1.6 0 0 1 0 -3.21ZM368.73 336.73H371.88a0.83 0.83 0 0 1 0 1.65H368.73a0.83 0.83 0 0 1 0 -1.65Z" fill="none" stroke="#b53333" stroke-width="0.42" stroke-opacity="0.75"/>
<ellipse cx="370" cy="337.6" rx="8" ry="0.6" fill="#fff" fill-opacity="0.95"/>
<path d="M386.5 338.8a9 8.5 0 1 0 18 0a9 8.5 0 1 0 -18 0Z" fill="none" stroke="#fff" stroke-width="1.7" stroke-opacity="0.85"/>
<path d="M386.5 338.8a9 8.5 0 1 0 18 0a9 8.5 0 1 0 -18 0Z" fill="#bdbdbd" fill-opacity="1"/>
<path d="M386.5 338.8a9 8.5 0 1 0 18 0a9 8.5 0 1 0 -18 0ZM387.68 338.6a7.99 7.54 0 1 0 15.97 0a7.99 7.54 0 1 0 -15.97 0ZM388.86 338.39a6.98 6.59 0 1 0 13.95 0a6.98 6.59 0 1 0 -13.95 0ZM390.04 338.19a5.96 5.63 0 1 0 11.92 0a5.96 5.63 0 1 0 -11.92 0ZM391.23 337.99a4.95 4.68 0 1 0 9.9 0a4.95 4.68 0 1 0 -9.9 0ZM392.41 337.79a3.94 3.72 0 1 0 7.88 0a3.94 3.72 0 1 0 -7.88 0ZM393.59 337.58a2.92 2.76 0 1 0 5.85 0a2.92 2.76 0 1 0 -5.85 0ZM394.77 337.38a1.91 1.81 0 1 0 3.83 0a1.91 1.81 0 1 0 -3.83 0ZM395.95 337.18a0.9 0.85 0 1 0 1.8 0a0.9 0.85 0 1 0 -1.8 0Z" fill="none" stroke="#3a3a3a" stroke-width="0.42" stroke-opacity="0.75"/>
<ellipse cx="397" cy="337" rx="2.5" ry="0.7" fill="#fff" fill-opacity="0.95"/>
<rect x="337.6" y="320.4" width="72.3" height="51.6" fill="none" stroke="#5a5a5a" stroke-width="0.95"/>
<path d="M337.08 396.6v2.9M350.19 396.6v2.9M364.3 396.6v2.9M387.3 396.6v2.9M406.97 396.6v2.9M347.04 396.6v1.7M344.64 396.6v1.7M342.9 396.6v1.7M341.57 396.6v1.7M340.5 396.6v1.7M339.61 396.6v1.7M338.85 396.6v1.7M338.19 396.6v1.7M337.61 396.6v1.7M353.59 396.6v1.7M356.17 396.6v1.7M358.04 396.6v1.7M359.47 396.6v1.7M360.62 396.6v1.7M361.58 396.6v1.7M362.4 396.6v1.7M363.11 396.6v1.7M363.74 396.6v1.7M371.22 396.6v1.7M375.27 396.6v1.7M378.15 396.6v1.7M380.37 396.6v1.7M382.19 396.6v1.7M383.73 396.6v1.7M385.07 396.6v1.7M386.24 396.6v1.7M393.22 396.6v1.7M396.68 396.6v1.7M399.14 396.6v1.7M401.04 396.6v1.7M402.6 396.6v1.7M403.92 396.6v1.7M405.06 396.6v1.7M406.07 396.6v1.7M412.89 396.6v1.7M332.1 390.97h-2.9M332.1 377.45h-2.9M332.1 363h-2.9M332.1 339.98h-2.9M332.1 320.83h-2.9M332.1 380.7h-1.7M332.1 383.17h-1.7M332.1 384.97h-1.7M332.1 386.34h-1.7M332.1 387.45h-1.7M332.1 388.36h-1.7M332.1 389.14h-1.7M332.1 389.83h-1.7M332.1 390.43h-1.7M332.1 373.97h-1.7M332.1 371.33h-1.7M332.1 369.41h-1.7M332.1 367.94h-1.7M332.1 366.77h-1.7M332.1 365.79h-1.7M332.1 364.95h-1.7M332.1 364.22h-1.7M332.1 363.58h-1.7M332.1 356.07h-1.7M332.1 352.02h-1.7M332.1 349.14h-1.7M332.1 346.91h-1.7M332.1 345.09h-1.7M332.1 343.55h-1.7M332.1 342.21h-1.7M332.1 341.04h-1.7M332.1 334.22h-1.7M332.1 330.85h-1.7M332.1 328.45h-1.7M332.1 326.6h-1.7M332.1 325.08h-1.7M332.1 323.8h-1.7M332.1 322.69h-1.7M332.1 321.71h-1.7M332.1 315.07h-1.7" stroke="#222" stroke-width="0.8" fill="none"/>
<rect x="332.1" y="312.6" width="83" height="84" fill="none" stroke="#111" stroke-width="1.3"/>
<text x="337.08" y="410.4" font-size="6.4" text-anchor="middle">-10<tspan font-size="4.35" dy="-2.88">3</tspan></text>
<text x="350.19" y="410.4" font-size="6.4" text-anchor="middle">0</text>
<text x="364.3" y="410.4" font-size="6.4" text-anchor="middle">10<tspan font-size="4.35" dy="-2.88">3</tspan></text>
<text x="387.3" y="410.4" font-size="6.4" text-anchor="middle">10<tspan font-size="4.35" dy="-2.88">4</tspan></text>
<text x="406.97" y="410.4" font-size="6.4" text-anchor="middle">10<tspan font-size="4.35" dy="-2.88">5</tspan></text>
<text x="371.8" y="306.4" font-size="6.3" text-anchor="middle">1h</text>
<path d="M484.5 333.7h0.8M478.9 338.3h0.8M461.7 328.2h0.8M462.2 338.3h0.8M462.9 328.7h0.8M458.6 327.1h0.8M457.5 336.7h0.8M454.1 333.7h0.8M484.6 332.8h0.8M479.7 328.8h0.8M483.2 330.4h0.8M454.8 337.1h0.8M465 338.5h0.8M476.5 328.5h0.8M451.9 335h0.8M482.9 335.1h0.8M457.3 328.1h0.8M477.7 328.5h0.8M479.9 329.5h0.8M457.9 338.2h0.8M453.5 328.9h0.8M482.5 331.5h0.8M475.6 339.5h0.8M459 328.8h0.8M486.3 334.3h0.8M478 337.8h0.8M483.7 337.9h0.8M482.4 335.9h0.8M479.6 329.6h0.8M457.5 329.9h0.8M482.5 331h0.8M482.8 333.9h0.8M471.5 327.4h0.8M460.5 328.9h0.8M455.1 329.1h0.8M457.1 330h0.8M453.3 336.6h0.8M484.1 335.6h0.8M453.8 334.8h0.8M483.2 339.8h0.8M458.3 337.5h0.8M483.8 334.5h0.8M476.6 328.6h0.8M477.4 327.8h0.8M476.6 338.1h0.8M456.1 331.1h0.8M477.2 327.9h0.8M464.3 338.2h0.8M482.3 338.1h0.8M457.8 327.7h0.8M474.9 328.6h0.8M482.9 330.2h0.8M485.4 333.9h0.8M479.3 339.2h0.8M481.8 335.7h0.8M455.8 326.4h0.8M478.9 328.9h0.8M477.8 338.2h0.8M483.7 327.5h0.8M463.5 338.6h0.8M482.7 338.3h0.8M469.4 339.4h0.8M484.3 338.6h0.8M478.4 340.1h0.8M463.5 338.3h0.8M455.8 331.8h0.8M459.3 337.7h0.8M482.8 338h0.8M453.7 329.8h0.8M471 338.6h0.8M457.7 337.7h0.8M463.3 327.8h0.8M466.1 338.7h0.8M452.3 330.3h0.8M462 327.1h0.8M459.8 337.7h0.8M474.7 327.6h0.8M486.9 336.7h0.8M459.5 337.9h0.8M474.7 328.1h0.8M479.7 337.8h0.8M484.8 331h0.8M482.3 333.1h0.8M459.7 329.1h0.8M475 339.5h0.8M453.7 332.8h0.8M481.5 328.7h0.8M483.5 332.1h0.8M483.3 336.8h0.8M484.4 334.1h0.8M483.7 338.8h0.8M452.6 334.2h0.8M488 335.3h0.8M477.4 327.2h0.8M481.6 335.8h0.8M484.5 334.4h0.8M486.1 335.5h0.8M482.8 330.7h0.8M471.4 338.5h0.8M454.8 329.9h0.8M454.4 338h0.8M455.6 333.3h0.8M456.9 330.1h0.8M460.6 325.8h0.8M452.6 336.5h0.8M463.7 325.8h0.8M451.5 337h0.8M453 334.4h0.8M455.6 338.8h0.8M456.2 335.8h0.8M455.6 327.8h0.8M480.5 329.8h0.8M474.2 338.4h0.8M473.2 338.7h0.8M482.8 339.5h0.8M455.3 329.8h0.8M483.1 330.2h0.8M457.1 336.8h0.8M477.1 339h0.8M456 328.8h0.8M482.1 328.9h0.8M480.2 327.8h0.8M451.2 333.1h0.8M481.2 336.3h0.8M486.9 332.1h0.8M485.4 337h0.8M462 338.3h0.8M476.3 327.7h0.8M485.1 329.2h0.8M457.4 329.8h0.8M463.5 339.1h0.8M453.9 331.9h0.8M454.5 332.4h0.8M486.5 334.5h0.8M455.8 331.4h0.8M469.3 327.6h0.8M460.7 337.9h0.8M454.9 339.9h0.8M459.9 338.8h0.8M454.6 329.7h0.8M477.6 328.6h0.8M480.5 339.5h0.8M483 338h0.8M471.9 327.9h0.8M482.8 337.3h0.8M472.5 327.7h0.8M477.4 327.8h0.8M478.2 328.8h0.8M483.4 331.4h0.8M453.2 332.2h0.8M456.1 337h0.8M459.7 338.9h0.8M485.6 336.7h0.8M481.7 330.9h0.8M480.6 329.7h0.8M476 338.6h0.8M483.7 339.6h0.8M475.8 338.4h0.8M457.5 330.1h0.8M461.4 328.6h0.8M482.3 336.4h0.8M452.9 333.4h0.8M453.4 329.9h0.8M462.6 340h0.8M484.2 338.7h0.8M457.1 337.3h0.8M456 335.6h0.8M453.3 334.2h0.8M485.7 337.5h0.8M478 338.5h0.8M454.8 335.2h0.8M462.3 328.3h0.8M453.7 329.7h0.8M482.1 335.8h0.8M481 338.4h0.8M475.5 339.7h0.8M483.5 338h0.8M457.5 329.4h0.8M464.4 339.1h0.8M483.7 335h0.8M459.6 327.9h0.8M462.1 328.5h0.8M454.2 334.5h0.8M458.1 329.6h0.8M457.7 328.5h0.8M474.3 327.9h0.8M449 333.2h0.8M482.3 334.8h0.8M455.4 336.2h0.8M455.4 335.9h0.8M455.7 330.8h0.8M483.1 330.7h0.8M488.9 333.1h0.8M464.1 340.1h0.8M457.7 329.9h0.8M455.8 329.6h0.8M455.7 335.1h0.8M455.9 331.9h0.8M453.4 330.9h0.8M477.7 328.8h0.8M454.3 334.3h0.8M482.7 334.8h0.8M481.9 336.4h0.8M455.3 330.9h0.8M456.3 335.8h0.8M482.4 331.6h0.8M478.4 338.1h0.8M479.8 328.5h0.8M458.3 329.6h0.8M457.4 338.4h0.8M482 337.2h0.8M481 337.2h0.8M453.2 334.9h0.8M480.1 328.7h0.8M455.2 333.4h0.8M478.5 339.5h0.8M483.6 337.5h0.8M451 334.1h0.8M455.5 338h0.8M478.4 337.7h0.8M483.9 329.8h0.8M477.6 329h0.8M485.1 329.9h0.8M453.7 335.8h0.8M483.7 331.1h0.8M455 334.4h0.8M461.6 328.4h0.8M454.7 336.6h0.8M457.8 337.2h0.8M472.3 338.8h0.8M455.7 338.6h0.8M458.8 328.3h0.8M478.2 329.1h0.8M481.3 337.4h0.8M453.9 334h0.8M492.4 330.2h0.8M454.3 337.4h0.8M451.8 335h0.8M455 334.8h0.8M462.3 328.5h0.8M454.9 334.9h0.8M481.8 336.9h0.8M483.6 336.8h0.8M482.6 334.8h0.8M462.9 338.2h0.8M459.8 326.6h0.8M485.5 332.2h0.8M484 330.2h0.8M463 338.9h0.8M483 335.7h0.8M456.7 330.2h0.8M450.8 335.3h0.8M459.1 328.9h0.8M457.9 329h0.8M446.5 333.7h0.8M453.9 334.1h0.8M480.7 336.8h0.8M462.4 339.5h0.8M482.3 327.7h0.8M487.7 332.3h0.8M458.5 338.2h0.8M478.5 328.4h0.8M455.7 337.4h0.8M481.1 338.4h0.8M484.4 336.3h0.8M456.3 336.2h0.8M468.3 328.5h0.8M476.2 338.1h0.8M482.3 336.1h0.8M454 335.7h0.8M455.4 331.5h0.8M451.2 330.9h0.8M452.1 338.7h0.8M455.1 332.4h0.8M484.4 334.4h0.8M480.4 338.8h0.8M480.2 337.9h0.8M476.1 338.2h0.8M489 334.9h0.8M454.6 337h0.8M453.1 331.6h0.8M482 336.8h0.8M483.2 330.2h0.8M453.5 332.3h0.8M474.3 338.2h0.8M482.5 330h0.8M482.2 328h0.8M454.7 327.9h0.8M490.5 330.1h0.8M484.5 334.3h0.8M456.2 335.9h0.8M482.3 329.2h0.8M462.1 338.5h0.8M455.6 333.1h0.8M482.4 335.7h0.8M483.1 332.8h0.8M462.4 338.7h0.8M458.6 329.3h0.8M456.1 330.6h0.8M462.9 338.9h0.8M454.7 331.2h0.8M482.4 335.2h0.8M485.3 333.5h0.8M487.5 335.5h0.8M479.9 337.3h0.8M455 332h0.8M453.7 333.3h0.8M464.3 338.6h0.8M457.4 329.2h0.8M457.9 337.9h0.8M481.9 330.9h0.8M451.7 337.5h0.8M453.2 331.6h0.8M466.3 327.7h0.8M482.6 330.5h0.8M465.5 326.7h0.8M462.5 326.3h0.8M482.3 336.2h0.8M484.9 338.7h0.8M482 331.2h0.8M473.3 327.9h0.8M449.2 338.6h0.8M483.3 331.5h0.8M459.4 337.9h0.8M487.3 332.3h0.8M479 329.2h0.8M457.6 337.8h0.8M483.7 332.8h0.8M483.1 329.4h0.8M453.9 334.8h0.8M454.2 334.2h0.8M458.3 338.3h0.8M459.7 329.1h0.8M483.1 330.2h0.8M464.6 338.4h0.8M458 329.4h0.8M485.7 335.7h0.8M486 332.8h0.8M480.4 330.1h0.8M454.6 333.6h0.8M452.8 332.5h0.8M451.6 335.8h0.8M474.8 338.9h0.8M454.4 334.7h0.8M474.5 327.4h0.8M458.3 337.1h0.8M484.7 334.4h0.8M460 339.7h0.8M478.8 329.1h0.8M477 338.6h0.8M481.5 336.4h0.8M458.4 328.4h0.8M486.1 337.2h0.8M458 329.1h0.8M482.8 334.4h0.8M472.1 338.4h0.8M453.5 331.9h0.8M484.6 329.3h0.8M474.2 328.6h0.8M452.2 328.5h0.8M485.7 330.1h0.8M464.1 338.1h0.8M455.5 331.5h0.8M459.1 337.9h0.8M488.4 337.5h0.8M480.4 338.1h0.8M456.1 330.8h0.8M479.4 329.2h0.8M452.6 333.7h0.8M483.9 336.3h0.8M475.4 339.3h0.8M461.1 328.5h0.8M459.3 337.5h0.8M450.6 340h0.8M482.4 330.3h0.8M456.7 327.9h0.8M454.6 332h0.8M481.1 336.7h0.8M459.9 328.5h0.8M461.8 328.8h0.8M484.2 328.5h0.8M459.9 338.7h0.8M481.7 330.8h0.8M482.2 329.8h0.8M455.9 337.3h0.8M450.4 330.2h0.8M481.6 331h0.8M484.7 332.9h0.8M451.9 333.3h0.8M457.4 336.8h0.8M459.7 339.7h0.8M459.6 328.3h0.8M481.4 336.7h0.8M455.6 336.1h0.8M452.9 336.4h0.8M455.3 331h0.8M458.8 339.1h0.8M484.7 336.1h0.8M462.9 328h0.8M469.7 339.6h0.8M457.9 328.4h0.8M480.2 329.5h0.8M480.5 338.4h0.8M480.9 329.2h0.8M456.2 338.6h0.8M485.6 334.6h0.8M473.8 328.5h0.8M457.4 330.2h0.8M458.8 339.8h0.8M452.4 333.6h0.8M454.7 329.7h0.8M482.4 333.5h0.8M453.1 335.5h0.8M453 329.2h0.8M487.6 332.7h0.8M470.4 327.3h0.8M483.5 328.1h0.8M478.4 337.6h0.8M453.8 337.9h0.8M452.9 339h0.8M483.7 334.4h0.8M464.6 327.8h0.8M455.8 336.1h0.8M476.9 338.4h0.8M483.7 333h0.8M452.4 340h0.8M451.4 332h0.8M480.9 336.3h0.8M481 329.9h0.8M460.8 328.2h0.8M476.7 328.5h0.8M455.5 339.8h0.8M455.1 331.9h0.8M459 339.2h0.8M485.3 338.4h0.8M472.4 328.6h0.8M481.6 331.3h0.8M474.7 338.9h0.8M456.1 336h0.8M453.7 334.6h0.8M460.4 338.6h0.8M483.3 331.4h0.8M483.1 330.5h0.8M480.9 326.9h0.8M455.8 338.3h0.8M479.1 337.8h0.8M454.9 333.8h0.8M451 331.9h0.8M476.5 338.7h0.8M473.1 328.2h0.8" fill="none" stroke="#b83232" stroke-width="0.8" stroke-opacity="0.75"/>
<path d="M472.9 352.5h0.8M475.3 346.1h0.8M479.4 334.1h0.8M473.8 349.3h0.8M471.8 364.5h0.8M475.1 344.1h0.8M477 351.5h0.8M481.2 347h0.8M472.9 343.8h0.8M479.1 347.1h0.8M476.5 356.6h0.8M477.9 352.6h0.8M477.2 346.9h0.8M472.8 348.7h0.8M465.9 330.5h0.8M472.1 335h0.8M477.4 329.6h0.8M476.4 344.9h0.8M477.2 355.7h0.8M475.2 354.5h0.8M476.3 342h0.8M474.4 349.8h0.8M481.2 348.4h0.8M470.2 356.7h0.8M473.1 335.2h0.8M472.2 336.2h0.8M475.3 346.6h0.8M478.7 341.9h0.8M483.1 335.2h0.8M480.2 344.4h0.8M479.9 360.1h0.8M481.7 348h0.8M480.2 340.4h0.8M480.1 353.2h0.8M472.5 337.7h0.8M473.6 346.1h0.8M478.6 344.3h0.8M476.5 348.9h0.8M474.7 346.6h0.8M480.5 350.2h0.8M474.2 341.1h0.8M477.5 346.8h0.8M475.9 352.5h0.8M472.2 339.1h0.8M483.1 353.6h0.8M469.4 348.2h0.8M471 336.4h0.8M474.3 351.5h0.8M481.5 347.8h0.8M481.3 338.9h0.8M473.2 349.3h0.8M478.5 336.2h0.8M475 339.1h0.8M472 340.4h0.8M477.3 349.6h0.8M476.2 358.8h0.8M473.7 345.4h0.8M479.1 349.2h0.8M479.8 348.3h0.8M472.1 349.1h0.8M482.6 352.7h0.8M478.3 344.7h0.8M475.4 350.2h0.8M482.4 350.6h0.8M479.3 341.5h0.8M479.7 349.3h0.8M479.3 356.9h0.8M475 331.1h0.8M478.3 342.6h0.8M475.6 354.4h0.8M473.1 351.8h0.8M472.3 347.1h0.8M478.1 349.1h0.8M480.1 341.2h0.8M470.2 349.6h0.8M482.8 348.4h0.8M478.9 349.1h0.8M479.8 342.3h0.8M474.9 347.1h0.8M478.7 334.1h0.8M479 351.2h0.8M470.8 356.8h0.8M480 338.4h0.8M485 345.7h0.8M473.1 333.4h0.8M468.9 351.8h0.8M473.1 342.5h0.8M479.5 345.7h0.8M477.9 340.7h0.8M472.4 338.7h0.8M473.7 349.8h0.8M469.1 347.6h0.8M476.6 352.5h0.8M467.5 350.9h0.8M475.2 339.8h0.8M470.6 358.2h0.8M475.4 331.6h0.8M478.7 350.5h0.8M475.4 350.9h0.8M476.9 356.3h0.8M477.2 336.6h0.8M474.8 348.6h0.8M472.9 337.9h0.8M469.1 361.4h0.8M477.3 330h0.8M481.7 347.6h0.8M484.5 349.8h0.8M468.6 340.9h0.8M472.2 339.8h0.8M478.4 366.3h0.8M483.6 342.4h0.8M471.8 343.5h0.8M476.6 348.6h0.8M477 346h0.8M473.8 334.3h0.8M475.4 337.9h0.8M474.4 340.3h0.8M470 342.8h0.8M483.3 348.5h0.8M477.1 343.8h0.8M474.2 344.4h0.8M480.8 349.9h0.8M475.1 343.9h0.8M480.7 347.9h0.8M473.3 350.2h0.8M480.6 345.2h0.8M478.8 344.8h0.8M473.4 354h0.8M479.2 352h0.8M480.2 368h0.8M476.4 350.6h0.8M471.5 348h0.8M471.3 352.5h0.8M475.5 349.5h0.8M477.1 352.8h0.8M465.9 344.4h0.8M478.9 341.3h0.8M478 333h0.8M482.7 353.3h0.8M475.1 336.7h0.8M474.8 357h0.8M477.6 341.2h0.8M470.6 339h0.8M476.4 340.3h0.8M469 342.6h0.8M472.8 350.6h0.8M476.6 347.1h0.8M476 342.6h0.8M471.5 362.1h0.8M477.7 332.3h0.8M475.9 348.1h0.8M478.5 349.9h0.8M473.1 351h0.8M474.7 360.2h0.8M477.8 348.1h0.8M471.4 334.6h0.8M477.4 356.2h0.8M472.5 340.6h0.8M482.7 340.1h0.8M472.6 348.9h0.8M478.2 340.4h0.8M467.8 343.8h0.8M474.8 349.3h0.8M476.8 338h0.8M474.9 350.5h0.8M473.7 337.1h0.8M471.5 341.1h0.8M475.8 334.1h0.8M474.7 350.7h0.8M475.5 353.5h0.8M473.1 347.2h0.8M470.7 346.5h0.8M479.7 339.6h0.8M481.4 359.6h0.8M480.2 342.8h0.8M477.2 343.9h0.8M477 349.2h0.8M475.2 341.2h0.8M476.2 337.3h0.8M476.1 360.8h0.8M472.1 346h0.8M470.9 341h0.8M477.2 348.8h0.8M471.3 338.7h0.8M481.9 335.5h0.8M474.6 329.1h0.8M478.8 348h0.8M476.6 358.8h0.8M474.9 335.3h0.8M476.7 348.7h0.8M476.1 335.9h0.8M478.7 355.8h0.8M478 346.4h0.8M481.5 352.3h0.8M476.1 342.8h0.8M478.2 340.5h0.8M473 343.5h0.8M480.9 351.1h0.8M475.1 346.7h0.8M476.5 339h0.8M473.1 358.7h0.8M471.3 349h0.8M466.3 347.8h0.8M486.2 344.3h0.8M481.3 345.8h0.8M472.7 349.6h0.8M474.8 340.7h0.8M469.7 369h0.8M478.9 344.4h0.8M477.6 338.3h0.8M478.9 352.1h0.8M473.5 342.9h0.8M478.4 341.5h0.8M475.8 335.2h0.8M470.5 341.8h0.8M481 346.1h0.8M473.8 335.4h0.8M478.7 346.4h0.8M478.9 356.6h0.8M479.7 349.3h0.8" fill="none" stroke="#b83232" stroke-width="0.8" stroke-opacity="0.65"/>
<path d="M454 351.9h0.8M451.6 339.8h0.8M484.6 343.7h0.8M484.9 356.6h0.8M454.6 348.8h0.8M465.4 368.8h0.8M466.1 346.8h0.8M480.2 371.4h0.8M481.8 361.1h0.8M456.9 353.7h0.8M464.9 345.7h0.8M470.1 364.4h0.8M475.2 339.7h0.8M452.5 359h0.8M484.1 358.5h0.8M469.9 349.3h0.8M463.3 354.2h0.8M468.7 345.6h0.8M470.7 356.6h0.8M475.3 350.3h0.8M469.7 366.9h0.8M476 344.3h0.8M464.7 372.1h0.8M467.7 356.7h0.8M456.8 340.6h0.8M470.3 355h0.8M462.5 357.2h0.8M475.3 353.5h0.8M480 363.9h0.8M476 352.8h0.8M452.3 351.7h0.8M466.1 368.7h0.8M466.9 365h0.8M468.7 344.5h0.8M457 359.7h0.8M461.5 370.2h0.8M473.1 346h0.8M476.3 338.4h0.8M453.4 370.5h0.8M462.6 360.1h0.8M480.9 345.3h0.8M461.9 352h0.8M480.9 345h0.8M481.3 363h0.8M450.5 347h0.8M451.9 339.2h0.8M478.3 342h0.8M484.8 342.6h0.8M464.9 371.3h0.8M476.4 344.1h0.8M472.3 347.8h0.8M467.4 369.2h0.8M469.1 349.1h0.8M475.7 349.7h0.8M481.5 351.2h0.8M459.3 343h0.8M477.9 369.8h0.8M455 352.5h0.8M479.1 343.7h0.8M476.8 345.4h0.8M479.6 359.5h0.8M481.7 343.5h0.8M479.6 350.6h0.8M470.9 344.4h0.8M468 366.8h0.8M482.1 361.9h0.8M461.7 363.2h0.8M454.1 364.7h0.8M469.5 353.7h0.8M474.1 371.8h0.8M463.8 354.1h0.8M474.7 366.7h0.8M469.6 342h0.8M468.5 339.1h0.8M452.5 357.6h0.8M476.7 346.6h0.8M474.8 368.1h0.8M463.4 348.1h0.8M470.2 340.9h0.8M451 352.1h0.8" fill="none" stroke="#b83232" stroke-width="0.8" stroke-opacity="0.5"/>
<path d="M493 342.4h0.8M489.1 334.1h0.8M483.4 357.8h0.8M478.5 332h0.8M482.3 347.9h0.8M496 337.7h0.8M500.5 354.8h0.8M494.6 338.6h0.8M481.5 335.3h0.8M485.5 350.9h0.8M488.3 335.1h0.8M492.2 335.3h0.8M482.8 361.1h0.8M495 360.8h0.8M495.3 336.8h0.8M484.2 339.9h0.8M484.5 363h0.8M493.6 345.7h0.8M496 339.6h0.8M493.4 340h0.8M481.3 342.2h0.8M477.5 341h0.8M490.5 336.7h0.8M496.1 336.1h0.8M494.4 344.6h0.8M481.9 341.5h0.8M492.3 339.7h0.8M493 349.3h0.8M484.4 352.5h0.8M479.6 342.5h0.8M503.9 326.7h0.8M492.3 347.7h0.8M495.1 359.5h0.8M505 328h0.8M493.3 347.2h0.8M484.2 335.9h0.8M486.9 356.5h0.8M498.8 324.6h0.8M490.3 335.1h0.8M485.7 340.5h0.8M502.4 338.8h0.8M491.2 346.3h0.8M492.7 355.1h0.8M496.5 334.3h0.8M478 333.1h0.8M486.9 360.5h0.8M491.2 347.2h0.8M488.1 328.4h0.8M494.8 316.4h0.8M482.6 345.1h0.8M482.3 339.2h0.8M489.3 353.3h0.8M489.1 341.4h0.8M479.5 353.9h0.8M491 357.2h0.8M498.5 331.9h0.8M487 335.6h0.8M482.6 340.4h0.8M502.7 341.8h0.8M503.7 339.7h0.8M487.9 353h0.8M495.4 346.7h0.8M485 351.3h0.8M489.1 332.7h0.8M480.6 320.2h0.8M488.6 336.8h0.8M500.3 335.1h0.8M491 341.7h0.8M495.3 338.6h0.8M478.6 335.2h0.8M493.1 346.4h0.8M489.2 340.4h0.8M495.4 337.5h0.8M483 344h0.8M490.2 334.4h0.8M476.4 362.8h0.8M484.6 352h0.8M498.3 329.9h0.8M490.5 325.3h0.8M481.9 342.6h0.8M497.6 338.5h0.8M493.2 336h0.8M488.6 331.8h0.8M491.8 331.9h0.8M487.5 360h0.8M494 347.2h0.8M502.4 342.2h0.8M476 333.6h0.8M491.7 332.4h0.8M471.3 333h0.8M489.1 339.5h0.8M483.3 329.8h0.8M493.6 339.2h0.8M491 345.2h0.8M496.2 332.8h0.8M490.9 325.7h0.8M496.8 353.9h0.8M479 334.4h0.8M479.4 341.1h0.8M475.8 353.4h0.8M485.5 345.9h0.8M483.7 340.9h0.8M499.1 338.9h0.8M497.4 330.1h0.8M492.6 338.4h0.8M489.8 344.7h0.8M495.2 350.3h0.8M481.9 332.9h0.8M494.1 345.7h0.8M485.1 353.8h0.8M500.9 345.8h0.8M490 350.5h0.8M489.7 333.5h0.8M485.1 334.8h0.8M494 353.8h0.8M496.7 353.4h0.8M499.1 342.8h0.8M487.1 333.6h0.8M492.1 348.1h0.8M486.5 334h0.8M492.2 341.6h0.8M490.7 360.3h0.8M485.7 349.4h0.8M485.7 346.1h0.8M499 338.7h0.8M495.3 322.6h0.8M487.7 348.1h0.8M488.2 340.5h0.8M494.3 347.9h0.8M486.4 327.4h0.8M494.2 340.4h0.8M491.8 347.5h0.8M485.6 351.8h0.8M472.9 336.4h0.8M498.5 326.2h0.8M496.6 340.4h0.8M475.8 342h0.8M490.6 348.3h0.8M483.1 343.1h0.8M492 349.7h0.8M503.3 340.8h0.8M508.1 331.8h0.8M494 346.6h0.8M495.3 339.7h0.8M486.1 342.2h0.8M494.5 348.9h0.8M494.2 346.8h0.8M496.4 340.4h0.8M488.7 347.5h0.8M485.1 353h0.8M495.9 342.7h0.8M495.5 328.9h0.8M488.5 345.1h0.8M487.2 342.3h0.8M474 344.6h0.8M478.5 316.5h0.8M488.5 324.2h0.8M491.2 330.4h0.8M479.5 337.2h0.8M486.7 334.1h0.8M485 333.5h0.8M485.4 334.1h0.8M497.1 336.2h0.8M496.9 333.2h0.8M475.8 331.6h0.8M496.5 339.6h0.8M491.9 343.6h0.8M486.5 338.4h0.8M494.5 332.4h0.8M490.4 338h0.8M497.8 356.4h0.8M490.8 341.2h0.8M484.6 334.4h0.8M482.9 343h0.8M497.3 331.4h0.8M474.5 334.6h0.8M492 351.4h0.8M507.3 353.8h0.8M494.2 339.7h0.8M492.5 335.4h0.8M484.5 353.1h0.8M476.3 342.3h0.8M486.8 350.5h0.8M498.2 328.8h0.8M465.9 334.6h0.8M480.6 333.1h0.8M485.3 323.6h0.8M487.1 315.4h0.8M478.4 347.2h0.8M495 339.1h0.8M480.2 338.6h0.8M489.9 341h0.8M477.8 339.9h0.8M490.6 343.7h0.8M485.4 333h0.8M475.9 356.3h0.8M486.5 342.1h0.8M495 335.2h0.8M496 329.1h0.8M495.9 343.5h0.8M482.3 350.6h0.8M497.6 335h0.8M489.8 339h0.8M492 329.9h0.8M495.6 327.9h0.8M477.8 361.9h0.8M494.2 338.4h0.8M479.6 342h0.8M494.1 354.8h0.8M487.2 343.9h0.8M493.6 351.6h0.8M485.7 325.4h0.8M484.2 356.4h0.8M493.6 342.4h0.8M486.9 354.3h0.8M500.3 338.3h0.8M487.3 340.3h0.8M500.3 347.4h0.8M479.5 343.9h0.8M495.4 342.5h0.8M487.5 350.9h0.8M494.9 343.5h0.8M484.5 343.1h0.8M491.4 345.8h0.8M492.6 337.9h0.8M483.3 340.2h0.8M491 354.4h0.8M486.6 337.8h0.8M480.9 340.1h0.8M495 336.1h0.8M487.6 333.5h0.8M477.4 333.1h0.8M492.6 352.1h0.8M486.9 353.2h0.8M489.5 330.7h0.8M489.8 347.4h0.8M492 347.9h0.8M483.4 351.1h0.8M484 343.3h0.8M496.4 352.1h0.8M484.9 353.2h0.8M487.6 323.3h0.8M475.5 362.5h0.8M492.4 347.2h0.8M489.1 350.2h0.8M491.3 357.1h0.8M497.8 348.7h0.8M493.1 334.2h0.8M491.1 350.8h0.8M500.3 352.8h0.8M496.2 340.9h0.8M494.5 341.4h0.8M490.6 314.4h0.8M491.2 344.2h0.8M498 345h0.8M483 331.9h0.8M483.6 335h0.8M485.7 340.9h0.8M482.4 331.9h0.8M484.7 347.8h0.8M492.2 330.3h0.8M497.3 345.1h0.8M490.4 332.3h0.8M493 346.2h0.8M494.1 333.4h0.8M503.7 344h0.8M489 343.2h0.8M489.7 327.7h0.8M489.8 344h0.8M489.4 343.1h0.8M476 340.6h0.8M493.6 337h0.8M500.5 349.6h0.8M480.5 339.2h0.8M491.2 344.6h0.8M503.4 339.1h0.8M496.7 336.6h0.8M497.1 334.4h0.8M482.1 343.4h0.8M490.9 337.9h0.8M489.1 339.6h0.8M486.4 341.5h0.8M482.1 346.4h0.8M482.7 324.2h0.8M479.7 333.8h0.8M482.7 338.6h0.8M487.2 346h0.8M486.7 336.3h0.8M485.7 332.5h0.8M489.3 341h0.8M495.1 338.7h0.8M478.3 355.3h0.8M491.4 341.3h0.8M482.2 355.6h0.8M499.6 346.3h0.8M488.6 320.7h0.8M490.7 341.2h0.8M493.5 345.1h0.8M498.7 346.5h0.8M480.3 355.4h0.8" fill="none" stroke="#555555" stroke-width="0.8" stroke-opacity="0.6"/>
<path d="M491.1 354.4h0.8M486 352.7h0.8M487.9 352.4h0.8M485.4 367.1h0.8M497.6 367.1h0.8M487.6 364h0.8M489.5 363.2h0.8M489.2 358.6h0.8M491.9 357.5h0.8M486.9 352.7h0.8M496 364.8h0.8M491.6 358.7h0.8M488.9 371.3h0.8M490.8 358.7h0.8M498.9 372.2h0.8M495.5 362.3h0.8M493.5 358.1h0.8M489 372.2h0.8M499.3 367.5h0.8M486 364h0.8M486.5 360.5h0.8M488.1 365.8h0.8M489.3 351.1h0.8M492.7 366.2h0.8M495.6 350.7h0.8M489.8 354.6h0.8M490.5 365.8h0.8M486.1 356.9h0.8M492.8 363.3h0.8M486.3 371.1h0.8M497.5 359.3h0.8M490 364.3h0.8M500.3 361.9h0.8M496.6 357.6h0.8M501.1 352.5h0.8M489.1 362.6h0.8M488.9 358.3h0.8M493.8 356.1h0.8M493 352.8h0.8M495 367.7h0.8M485.3 351.4h0.8M487.9 365.3h0.8M487.4 358.8h0.8M492.8 369.7h0.8M486.8 354.9h0.8M486.7 359.5h0.8M487 356.4h0.8M492.4 365.6h0.8M487.2 363.6h0.8M487 357.4h0.8M501.2 366.4h0.8M488.2 354.7h0.8M500.3 352.1h0.8M486.9 363h0.8M485.9 356.3h0.8M500.2 369h0.8M498.3 360h0.8M494.6 363.5h0.8M490.9 371.1h0.8M486.5 368.5h0.8" fill="none" stroke="#555555" stroke-width="0.8" stroke-opacity="0.6"/>
<path d="M460 327.3H478a5.7 5.7 0 0 1 0 11.4H460a5.7 5.7 0 0 1 0 -11.4Z" fill="none" stroke="#b83232" stroke-width="1.4" stroke-opacity="0.55"/>
<path d="M460 328H478a5 5 0 0 1 0 10H460a5 5 0 0 1 0 -10Z" fill="none" stroke="#fff" stroke-width="1.7" stroke-opacity="0.85"/>
<path d="M460 328H478a5 5 0 0 1 0 10H460a5 5 0 0 1 0 -10Z" fill="#f0d0d0" fill-opacity="1"/>
<path d="M460 328H478a5 5 0 0 1 0 10H460a5 5 0 0 1 0 -10ZM460.99 328.62H476.44a4.29 4.29 0 0 1 0 8.58H460.99a4.29 4.29 0 0 1 0 -8.58ZM461.98 329.25H474.88a3.58 3.58 0 0 1 0 7.17H461.98a3.58 3.58 0 0 1 0 -7.17ZM462.97 329.87H473.32a2.88 2.88 0 0 1 0 5.75H462.97a2.88 2.88 0 0 1 0 -5.75ZM463.97 330.49H471.77a2.17 2.17 0 0 1 0 4.33H463.97a2.17 2.17 0 0 1 0 -4.33ZM464.96 331.12H470.21a1.46 1.46 0 0 1 0 2.92H464.96a1.46 1.46 0 0 1 0 -2.92ZM465.95 331.74H468.65a0.75 0.75 0 0 1 0 1.5H465.95a0.75 0.75 0 0 1 0 -1.5Z" fill="none" stroke="#b53333" stroke-width="0.42" stroke-opacity="0.75"/>
<ellipse cx="467" cy="332.4" rx="7" ry="0.6" fill="#fff" fill-opacity="0.95"/>
<path d="M480.35 339.2a8.25 11 0 1 0 16.5 0a8.25 11 0 1 0 -16.5 0Z" fill="none" stroke="#fff" stroke-width="1.7" stroke-opacity="0.85"/>
<path d="M480.35 339.2a8.25 11 0 1 0 16.5 0a8.25 11 0 1 0 -16.5 0Z" fill="#c0c0c0" fill-opacity="1"/>
<path d="M480.35 339.2a8.25 11 0 1 0 16.5 0a8.25 11 0 1 0 -16.5 0ZM481.22 338.78a7.42 9.9 0 1 0 14.85 0a7.42 9.9 0 1 0 -14.85 0ZM482.08 338.36a6.6 8.8 0 1 0 13.2 0a6.6 8.8 0 1 0 -13.2 0ZM482.95 337.94a5.77 7.7 0 1 0 11.55 0a5.77 7.7 0 1 0 -11.55 0ZM483.81 337.52a4.95 6.6 0 1 0 9.9 0a4.95 6.6 0 1 0 -9.9 0ZM484.68 337.1a4.12 5.5 0 1 0 8.25 0a4.12 5.5 0 1 0 -8.25 0ZM485.54 336.68a3.3 4.4 0 1 0 6.6 0a3.3 4.4 0 1 0 -6.6 0ZM486.4 336.26a2.48 3.3 0 1 0 4.95 0a2.48 3.3 0 1 0 -4.95 0ZM487.27 335.84a1.65 2.2 0 1 0 3.3 0a1.65 2.2 0 1 0 -3.3 0ZM488.13 335.42a0.83 1.1 0 1 0 1.65 0a0.83 1.1 0 1 0 -1.65 0Z" fill="none" stroke="#3a3a3a" stroke-width="0.42" stroke-opacity="0.75"/>
<ellipse cx="489" cy="335" rx="2" ry="0.7" fill="#fff" fill-opacity="0.95"/>
<rect x="434.3" y="320.4" width="72.3" height="51.6" fill="none" stroke="#5a5a5a" stroke-width="0.95"/>
<path d="M433.78 396.6v2.9M446.89 396.6v2.9M461 396.6v2.9M484 396.6v2.9M503.67 396.6v2.9M443.74 396.6v1.7M441.34 396.6v1.7M439.6 396.6v1.7M438.27 396.6v1.7M437.2 396.6v1.7M436.31 396.6v1.7M435.55 396.6v1.7M434.89 396.6v1.7M434.31 396.6v1.7M450.29 396.6v1.7M452.87 396.6v1.7M454.74 396.6v1.7M456.17 396.6v1.7M457.32 396.6v1.7M458.28 396.6v1.7M459.1 396.6v1.7M459.81 396.6v1.7M460.44 396.6v1.7M467.92 396.6v1.7M471.97 396.6v1.7M474.85 396.6v1.7M477.07 396.6v1.7M478.89 396.6v1.7M480.43 396.6v1.7M481.77 396.6v1.7M482.94 396.6v1.7M489.92 396.6v1.7M493.38 396.6v1.7M495.84 396.6v1.7M497.74 396.6v1.7M499.3 396.6v1.7M500.62 396.6v1.7M501.76 396.6v1.7M502.77 396.6v1.7M509.59 396.6v1.7M428.8 390.97h-2.9M428.8 377.45h-2.9M428.8 363h-2.9M428.8 339.98h-2.9M428.8 320.83h-2.9M428.8 380.7h-1.7M428.8 383.17h-1.7M428.8 384.97h-1.7M428.8 386.34h-1.7M428.8 387.45h-1.7M428.8 388.36h-1.7M428.8 389.14h-1.7M428.8 389.83h-1.7M428.8 390.43h-1.7M428.8 373.97h-1.7M428.8 371.33h-1.7M428.8 369.41h-1.7M428.8 367.94h-1.7M428.8 366.77h-1.7M428.8 365.79h-1.7M428.8 364.95h-1.7M428.8 364.22h-1.7M428.8 363.58h-1.7M428.8 356.07h-1.7M428.8 352.02h-1.7M428.8 349.14h-1.7M428.8 346.91h-1.7M428.8 345.09h-1.7M428.8 343.55h-1.7M428.8 342.21h-1.7M428.8 341.04h-1.7M428.8 334.22h-1.7M428.8 330.85h-1.7M428.8 328.45h-1.7M428.8 326.6h-1.7M428.8 325.08h-1.7M428.8 323.8h-1.7M428.8 322.69h-1.7M428.8 321.71h-1.7M428.8 315.07h-1.7" stroke="#222" stroke-width="0.8" fill="none"/>
<rect x="428.8" y="312.6" width="83" height="84" fill="none" stroke="#111" stroke-width="1.3"/>
<text x="433.78" y="410.4" font-size="6.4" text-anchor="middle">-10<tspan font-size="4.35" dy="-2.88">3</tspan></text>
<text x="446.89" y="410.4" font-size="6.4" text-anchor="middle">0</text>
<text x="461" y="410.4" font-size="6.4" text-anchor="middle">10<tspan font-size="4.35" dy="-2.88">3</tspan></text>
<text x="484" y="410.4" font-size="6.4" text-anchor="middle">10<tspan font-size="4.35" dy="-2.88">4</tspan></text>
<text x="503.67" y="410.4" font-size="6.4" text-anchor="middle">10<tspan font-size="4.35" dy="-2.88">5</tspan></text>
<text x="468.8" y="306.4" font-size="6.3" text-anchor="middle">2h</text>
<text x="63.5" y="389" font-size="6.3" text-anchor="middle" textLength="20.5" lengthAdjust="spacingAndGlyphs">rsPMN</text>
<text x="103.8" y="389" font-size="6.3" text-anchor="middle" textLength="18.5" lengthAdjust="spacingAndGlyphs">pPMN</text>
<text x="16.6" y="354.7" font-size="9.8" text-anchor="middle" textLength="30.8" lengthAdjust="spacingAndGlyphs" transform="rotate(-90 16.6 354.7)">pHrodo</text>
<text x="274" y="423.6" font-size="10" text-anchor="middle" textLength="22" lengthAdjust="spacingAndGlyphs">CD63</text>
<line x1="42.3" y1="453.5" x2="42.3" y2="553.9" stroke="#1a1a1a" stroke-width="1.4"/>
<line x1="42.3" y1="553.9" x2="188.5" y2="553.9" stroke="#1a1a1a" stroke-width="1.4"/>
<line x1="39.1" y1="456" x2="42.3" y2="456" stroke="#222" stroke-width="0.9"/>
<text x="35.3" y="458.3" font-size="6.6" text-anchor="end">150</text>
<line x1="39.1" y1="480.7" x2="42.3" y2="480.7" stroke="#222" stroke-width="0.9"/>
<text x="35.3" y="483" font-size="6.6" text-anchor="end">100</text>
<line x1="39.1" y1="505.4" x2="42.3" y2="505.4" stroke="#222" stroke-width="0.9"/>
<text x="35.3" y="507.7" font-size="6.6" text-anchor="end">50</text>
<line x1="39.1" y1="529.8" x2="42.3" y2="529.8" stroke="#222" stroke-width="0.9"/>
<text x="35.3" y="532.1" font-size="6.6" text-anchor="end">0</text>
<line x1="39.1" y1="553.9" x2="42.3" y2="553.9" stroke="#222" stroke-width="0.9"/>
<text x="35.3" y="556.2" font-size="6.6" text-anchor="end">-50</text>
<line x1="49" y1="553.9" x2="49" y2="557.5" stroke="#222" stroke-width="0.9"/>
<text x="49" y="566.7" font-size="6.5" text-anchor="middle">0</text>
<line x1="63.7" y1="553.9" x2="63.7" y2="557.5" stroke="#222" stroke-width="0.9"/>
<text x="63.7" y="566.7" font-size="6.5" text-anchor="middle">5</text>
<line x1="78.4" y1="553.9" x2="78.4" y2="557.5" stroke="#222" stroke-width="0.9"/>
<text x="78.4" y="566.7" font-size="6.5" text-anchor="middle">20</text>
<line x1="93.1" y1="553.9" x2="93.1" y2="557.5" stroke="#222" stroke-width="0.9"/>
<text x="93.1" y="566.7" font-size="6.5" text-anchor="middle">60</text>
<line x1="107.8" y1="553.9" x2="107.8" y2="557.5" stroke="#222" stroke-width="0.9"/>
<text x="107.8" y="566.7" font-size="6.5" text-anchor="middle">120</text>
<line x1="122.5" y1="553.9" x2="122.5" y2="557.5" stroke="#222" stroke-width="0.9"/>
<text x="122.5" y="566.7" font-size="6.5" text-anchor="middle">0</text>
<line x1="137.2" y1="553.9" x2="137.2" y2="557.5" stroke="#222" stroke-width="0.9"/>
<text x="137.2" y="566.7" font-size="6.5" text-anchor="middle">5</text>
<line x1="151.9" y1="553.9" x2="151.9" y2="557.5" stroke="#222" stroke-width="0.9"/>
<text x="151.9" y="566.7" font-size="6.5" text-anchor="middle">20</text>
<line x1="166.6" y1="553.9" x2="166.6" y2="557.5" stroke="#222" stroke-width="0.9"/>
<text x="166.6" y="566.7" font-size="6.5" text-anchor="middle">60</text>
<line x1="181.3" y1="553.9" x2="181.3" y2="557.5" stroke="#222" stroke-width="0.9"/>
<text x="181.3" y="566.7" font-size="6.5" text-anchor="middle">120</text>
<path d="M47.7 460.2H112.3M120.6 460.2H185.2M76.3 460.2V452.8H157V460.2" fill="none" stroke="#1a1a1a" stroke-width="1.2"/>
<text x="117" y="447.8" font-size="6.8" text-anchor="middle">ns</text>
<text x="115.8" y="580.8" font-size="9.6" text-anchor="middle" textLength="42.4" lengthAdjust="spacingAndGlyphs">Time (min)</text>
<line x1="49" y1="527.5" x2="49" y2="530.5" stroke="#2a2a2a" stroke-width="1"/>
<line x1="46.9" y1="527.5" x2="51.1" y2="527.5" stroke="#2a2a2a" stroke-width="1"/>
<line x1="46.9" y1="530.5" x2="51.1" y2="530.5" stroke="#2a2a2a" stroke-width="1"/>
<line x1="44.25" y1="528.8" x2="53.75" y2="528.8" stroke="#2a2a2a" stroke-width="1"/>
<path d="M47.5 525.41L49.9 529.73L45.1 529.73Z" fill="#db5a2c"/>
<path d="M50.2 526.91L52.6 531.23L47.8 531.23Z" fill="#db5a2c"/>
<path d="M49.2 528.2L51.3 530.3L49.2 532.4L47.1 530.3Z" fill="#db5a2c"/>
<path d="M48.2 527.21L50.6 531.53L45.8 531.53Z" fill="#db5a2c"/>
<line x1="63.7" y1="492.5" x2="63.7" y2="532.2" stroke="#2a2a2a" stroke-width="1"/>
<line x1="61.6" y1="492.5" x2="65.8" y2="492.5" stroke="#2a2a2a" stroke-width="1"/>
<line x1="61.6" y1="532.2" x2="65.8" y2="532.2" stroke="#2a2a2a" stroke-width="1"/>
<line x1="58.95" y1="512.6" x2="68.45" y2="512.6" stroke="#2a2a2a" stroke-width="1"/>
<path d="M63.9 488.91L66.3 493.23L61.5 493.23Z" fill="#db5a2c"/>
<path d="M61.1 524.01L63.5 528.33L58.7 528.33Z" fill="#db5a2c"/>
<path d="M66.3 520.61L68.7 524.93L63.9 524.93Z" fill="#db5a2c"/>
<path d="M76.2 478.21L78.6 482.53L73.8 482.53Z" fill="#db5a2c"/>
<path d="M78.4 478.21L80.8 482.53L76 482.53Z" fill="#db5a2c"/>
<path d="M80.6 478.21L83 482.53L78.2 482.53Z" fill="#db5a2c"/>
<path d="M90.9 478.21L93.3 482.53L88.5 482.53Z" fill="#db5a2c"/>
<path d="M93.1 478.21L95.5 482.53L90.7 482.53Z" fill="#db5a2c"/>
<path d="M95.3 478.21L97.7 482.53L92.9 482.53Z" fill="#db5a2c"/>
<path d="M105.6 478.21L108 482.53L103.2 482.53Z" fill="#db5a2c"/>
<path d="M107.8 478.21L110.2 482.53L105.4 482.53Z" fill="#db5a2c"/>
<path d="M110 478.21L112.4 482.53L107.6 482.53Z" fill="#db5a2c"/>
<line x1="122.5" y1="518.6" x2="122.5" y2="530.5" stroke="#2a2a2a" stroke-width="1"/>
<line x1="120.4" y1="518.6" x2="124.6" y2="518.6" stroke="#2a2a2a" stroke-width="1"/>
<line x1="120.4" y1="530.5" x2="124.6" y2="530.5" stroke="#2a2a2a" stroke-width="1"/>
<line x1="117.75" y1="523.8" x2="127.25" y2="523.8" stroke="#2a2a2a" stroke-width="1"/>
<path d="M122.2 516.5L124.3 518.6L122.2 520.7L120.1 518.6Z" fill="#111"/>
<path d="M121.3 526.41L123.7 530.73L118.9 530.73Z" fill="#111"/>
<path d="M125 522.01L127.4 526.33L122.6 526.33Z" fill="#111"/>
<line x1="137.2" y1="481.5" x2="137.2" y2="531.6" stroke="#2a2a2a" stroke-width="1"/>
<line x1="135.1" y1="481.5" x2="139.3" y2="481.5" stroke="#2a2a2a" stroke-width="1"/>
<line x1="135.1" y1="531.6" x2="139.3" y2="531.6" stroke="#2a2a2a" stroke-width="1"/>
<line x1="132.45" y1="508" x2="141.95" y2="508" stroke="#2a2a2a" stroke-width="1"/>
<path d="M137.4 480.81L139.8 485.13L135 485.13Z" fill="#111"/>
<path d="M137.4 516.01L139.8 520.33L135 520.33Z" fill="#111"/>
<path d="M137.4 523.01L139.8 527.33L135 527.33Z" fill="#111"/>
<path d="M149.7 477.91L152.1 482.23L147.3 482.23Z" fill="#111"/>
<path d="M151.9 479.7L154 481.8L151.9 483.9L149.8 481.8Z" fill="#111"/>
<path d="M154.1 477.91L156.5 482.23L151.7 482.23Z" fill="#111"/>
<path d="M164.4 478.21L166.8 482.53L162 482.53Z" fill="#111"/>
<path d="M166.6 478.21L169 482.53L164.2 482.53Z" fill="#111"/>
<path d="M168.8 478.21L171.2 482.53L166.4 482.53Z" fill="#111"/>
<path d="M179.1 478.21L181.5 482.53L176.7 482.53Z" fill="#111"/>
<path d="M181.3 478.21L183.7 482.53L178.9 482.53Z" fill="#111"/>
<path d="M183.5 478.21L185.9 482.53L181.1 482.53Z" fill="#111"/>
<line x1="73.6" y1="480.8" x2="83.2" y2="480.8" stroke="#333" stroke-width="0.9"/>
<line x1="88.3" y1="480.8" x2="97.9" y2="480.8" stroke="#333" stroke-width="0.9"/>
<line x1="103" y1="480.8" x2="112.6" y2="480.8" stroke="#333" stroke-width="0.9"/>
<line x1="147.1" y1="480.8" x2="156.7" y2="480.8" stroke="#333" stroke-width="0.9"/>
<line x1="161.8" y1="480.8" x2="171.4" y2="480.8" stroke="#333" stroke-width="0.9"/>
<line x1="176.5" y1="480.8" x2="186.1" y2="480.8" stroke="#333" stroke-width="0.9"/>
<text x="15.5" y="504" font-size="9.6" text-anchor="middle" textLength="56.5" lengthAdjust="spacingAndGlyphs" transform="rotate(-90 15.5 504)">% pHrodo +ve</text>
<line x1="248" y1="453" x2="248" y2="553.9" stroke="#1a1a1a" stroke-width="1.4"/>
<line x1="248" y1="553.9" x2="395" y2="553.9" stroke="#1a1a1a" stroke-width="1.4"/>
<line x1="244.8" y1="455.7" x2="248" y2="455.7" stroke="#222" stroke-width="0.9"/>
<text x="241" y="458" font-size="6.6" text-anchor="end">40000</text>
<line x1="244.8" y1="480.4" x2="248" y2="480.4" stroke="#222" stroke-width="0.9"/>
<text x="241" y="482.7" font-size="6.6" text-anchor="end">30000</text>
<line x1="244.8" y1="504.9" x2="248" y2="504.9" stroke="#222" stroke-width="0.9"/>
<text x="241" y="507.2" font-size="6.6" text-anchor="end">20000</text>
<line x1="244.8" y1="529.3" x2="248" y2="529.3" stroke="#222" stroke-width="0.9"/>
<text x="241" y="531.6" font-size="6.6" text-anchor="end">10000</text>
<line x1="244.8" y1="553.8" x2="248" y2="553.8" stroke="#222" stroke-width="0.9"/>
<text x="241" y="556.1" font-size="6.6" text-anchor="end">0</text>
<line x1="255.5" y1="553.9" x2="255.5" y2="557.5" stroke="#222" stroke-width="0.9"/>
<text x="255.5" y="566.7" font-size="6.5" text-anchor="middle">0</text>
<line x1="270.2" y1="553.9" x2="270.2" y2="557.5" stroke="#222" stroke-width="0.9"/>
<text x="270.2" y="566.7" font-size="6.5" text-anchor="middle">5</text>
<line x1="284.9" y1="553.9" x2="284.9" y2="557.5" stroke="#222" stroke-width="0.9"/>
<text x="284.9" y="566.7" font-size="6.5" text-anchor="middle">20</text>
<line x1="299.6" y1="553.9" x2="299.6" y2="557.5" stroke="#222" stroke-width="0.9"/>
<text x="299.6" y="566.7" font-size="6.5" text-anchor="middle">60</text>
<line x1="314.3" y1="553.9" x2="314.3" y2="557.5" stroke="#222" stroke-width="0.9"/>
<text x="314.3" y="566.7" font-size="6.5" text-anchor="middle">120</text>
<line x1="329" y1="553.9" x2="329" y2="557.5" stroke="#222" stroke-width="0.9"/>
<text x="329" y="566.7" font-size="6.5" text-anchor="middle">0</text>
<line x1="343.7" y1="553.9" x2="343.7" y2="557.5" stroke="#222" stroke-width="0.9"/>
<text x="343.7" y="566.7" font-size="6.5" text-anchor="middle">5</text>
<line x1="358.4" y1="553.9" x2="358.4" y2="557.5" stroke="#222" stroke-width="0.9"/>
<text x="358.4" y="566.7" font-size="6.5" text-anchor="middle">20</text>
<line x1="373.1" y1="553.9" x2="373.1" y2="557.5" stroke="#222" stroke-width="0.9"/>
<text x="373.1" y="566.7" font-size="6.5" text-anchor="middle">60</text>
<line x1="387.8" y1="553.9" x2="387.8" y2="557.5" stroke="#222" stroke-width="0.9"/>
<text x="387.8" y="566.7" font-size="6.5" text-anchor="middle">120</text>
<path d="M253.8 458.2H318.2M326.9 458.2H391.5M282.7 458.2V450.7H363.4V458.2" fill="none" stroke="#1a1a1a" stroke-width="1.2"/>
<text x="323" y="447.8" font-size="6.8" text-anchor="middle">ns</text>
<text x="321.7" y="580.8" font-size="9.6" text-anchor="middle" textLength="42.4" lengthAdjust="spacingAndGlyphs">Time (min)</text>
<path d="M254 550.41L256.4 554.73L251.6 554.73Z" fill="#db5a2c"/>
<path d="M257 550.71L259.4 555.03L254.6 555.03Z" fill="#db5a2c"/>
<path d="M255.5 551.5L257.6 553.6L255.5 555.7L253.4 553.6Z" fill="#db5a2c"/>
<line x1="270.2" y1="550.3" x2="270.2" y2="553.5" stroke="#2a2a2a" stroke-width="1"/>
<line x1="268.1" y1="550.3" x2="272.3" y2="550.3" stroke="#2a2a2a" stroke-width="1"/>
<line x1="268.1" y1="553.5" x2="272.3" y2="553.5" stroke="#2a2a2a" stroke-width="1"/>
<line x1="265.45" y1="551.8" x2="274.95" y2="551.8" stroke="#2a2a2a" stroke-width="1"/>
<path d="M268.7 549.21L271.1 553.53L266.3 553.53Z" fill="#db5a2c"/>
<path d="M271.4 548.01L273.8 552.33L269 552.33Z" fill="#db5a2c"/>
<path d="M270.7 550.21L273.1 554.53L268.3 554.53Z" fill="#db5a2c"/>
<line x1="284.9" y1="524.5" x2="284.9" y2="545" stroke="#2a2a2a" stroke-width="1"/>
<line x1="282.8" y1="524.5" x2="287" y2="524.5" stroke="#2a2a2a" stroke-width="1"/>
<line x1="282.8" y1="545" x2="287" y2="545" stroke="#2a2a2a" stroke-width="1"/>
<line x1="280.15" y1="535.3" x2="289.65" y2="535.3" stroke="#2a2a2a" stroke-width="1"/>
<path d="M284.5 521.61L286.9 525.93L282.1 525.93Z" fill="#db5a2c"/>
<path d="M281.5 538.91L283.9 543.23L279.1 543.23Z" fill="#db5a2c"/>
<path d="M286.8 538.91L289.2 543.23L284.4 543.23Z" fill="#db5a2c"/>
<line x1="299.6" y1="486.8" x2="299.6" y2="530.7" stroke="#2a2a2a" stroke-width="1"/>
<line x1="297.5" y1="486.8" x2="301.7" y2="486.8" stroke="#2a2a2a" stroke-width="1"/>
<line x1="297.5" y1="530.7" x2="301.7" y2="530.7" stroke="#2a2a2a" stroke-width="1"/>
<line x1="294.85" y1="509.2" x2="304.35" y2="509.2" stroke="#2a2a2a" stroke-width="1"/>
<path d="M299.3 481.91L301.7 486.23L296.9 486.23Z" fill="#db5a2c"/>
<path d="M296.5 522.11L298.9 526.43L294.1 526.43Z" fill="#db5a2c"/>
<path d="M301.7 517.01L304.1 521.33L299.3 521.33Z" fill="#db5a2c"/>
<line x1="314.3" y1="466" x2="314.3" y2="516.2" stroke="#2a2a2a" stroke-width="1"/>
<line x1="312.2" y1="466" x2="316.4" y2="466" stroke="#2a2a2a" stroke-width="1"/>
<line x1="312.2" y1="516.2" x2="316.4" y2="516.2" stroke="#2a2a2a" stroke-width="1"/>
<line x1="309.55" y1="491.5" x2="319.05" y2="491.5" stroke="#2a2a2a" stroke-width="1"/>
<path d="M313.8 461.21L316.2 465.53L311.4 465.53Z" fill="#db5a2c"/>
<path d="M313.8 500.41L316.2 504.73L311.4 504.73Z" fill="#db5a2c"/>
<path d="M313.8 508.21L316.2 512.53L311.4 512.53Z" fill="#db5a2c"/>
<path d="M327.5 550.9L329.6 553L327.5 555.1L325.4 553Z" fill="#111"/>
<path d="M330.3 550.81L332.7 555.13L327.9 555.13Z" fill="#111"/>
<path d="M329 551.5L331.1 553.6L329 555.7L326.9 553.6Z" fill="#111"/>
<path d="M342.2 550.9L344.3 553L342.2 555.1L340.1 553Z" fill="#111"/>
<path d="M345 550.81L347.4 555.13L342.6 555.13Z" fill="#111"/>
<path d="M343.7 551.1L345.8 553.2L343.7 555.3L341.6 553.2Z" fill="#111"/>
<line x1="358.4" y1="528.4" x2="358.4" y2="548.5" stroke="#2a2a2a" stroke-width="1"/>
<line x1="356.3" y1="528.4" x2="360.5" y2="528.4" stroke="#2a2a2a" stroke-width="1"/>
<line x1="356.3" y1="548.5" x2="360.5" y2="548.5" stroke="#2a2a2a" stroke-width="1"/>
<line x1="353.65" y1="538.5" x2="363.15" y2="538.5" stroke="#2a2a2a" stroke-width="1"/>
<path d="M357.6 525.81L360 530.13L355.2 530.13Z" fill="#111"/>
<path d="M355.3 541.91L357.7 546.23L352.9 546.23Z" fill="#111"/>
<path d="M360.8 541.31L363.2 545.63L358.4 545.63Z" fill="#111"/>
<line x1="373.1" y1="505.8" x2="373.1" y2="532.3" stroke="#2a2a2a" stroke-width="1"/>
<line x1="371" y1="505.8" x2="375.2" y2="505.8" stroke="#2a2a2a" stroke-width="1"/>
<line x1="371" y1="532.3" x2="375.2" y2="532.3" stroke="#2a2a2a" stroke-width="1"/>
<line x1="368.35" y1="519.2" x2="377.85" y2="519.2" stroke="#2a2a2a" stroke-width="1"/>
<path d="M372.4 503.21L374.8 507.53L370 507.53Z" fill="#111"/>
<path d="M370 525.41L372.4 529.73L367.6 529.73Z" fill="#111"/>
<path d="M375.4 523.21L377.8 527.53L373 527.53Z" fill="#111"/>
<line x1="387.8" y1="493.8" x2="387.8" y2="525.4" stroke="#2a2a2a" stroke-width="1"/>
<line x1="385.7" y1="493.8" x2="389.9" y2="493.8" stroke="#2a2a2a" stroke-width="1"/>
<line x1="385.7" y1="525.4" x2="389.9" y2="525.4" stroke="#2a2a2a" stroke-width="1"/>
<line x1="383.05" y1="510" x2="392.55" y2="510" stroke="#2a2a2a" stroke-width="1"/>
<path d="M387.6 491.21L390 495.53L385.2 495.53Z" fill="#111"/>
<path d="M384.6 516.61L387 520.93L382.2 520.93Z" fill="#111"/>
<path d="M389.9 516.61L392.3 520.93L387.5 520.93Z" fill="#111"/>
<text x="214.4" y="503.5" font-size="9.6" text-anchor="middle" textLength="52.8" lengthAdjust="spacingAndGlyphs" transform="rotate(-90 214.4 503.5)">pHrodo gMFI</text>
<path d="M78.6 666h0.8M72.4 666.9h0.8M91.2 666.6h0.8M78.1 665.8h0.8M82.4 666.5h0.8M86 666.2h0.8M68.8 666.4h0.8M81 666.8h0.8M84.1 666.7h0.8M84 668.7h0.8M79 666.3h0.8M80.7 668.3h0.8M69.6 668.2h0.8M76 668.4h0.8M77 667.4h0.8M83.7 666.6h0.8M73.3 665.9h0.8M78.5 668.6h0.8M71 667.5h0.8M80.2 666.8h0.8M88.5 665.6h0.8M83.2 668.1h0.8M83 668.2h0.8M72.7 667.6h0.8M74.5 665.8h0.8M84.9 668.2h0.8M82.5 668.2h0.8M98.1 665.6h0.8M87.4 668.2h0.8M85.4 668.5h0.8M84.6 667.4h0.8M85.7 666.2h0.8M83.5 669.3h0.8M74.7 666h0.8M85.3 668h0.8M85.8 668.5h0.8M76.8 667.9h0.8M80.3 664.3h0.8M78.9 666.7h0.8M80.7 667h0.8M83.5 666.5h0.8M74.7 668.8h0.8M81 667.1h0.8M72.3 669.2h0.8M88.2 667.7h0.8M82.9 664.1h0.8M83.8 665.7h0.8M78.7 669.2h0.8M83.6 665.1h0.8M69.5 668.6h0.8M80.3 668.1h0.8M80.8 669.2h0.8M78.9 668.5h0.8M75.1 667.1h0.8M91.1 668h0.8M84.5 667.6h0.8M83 668.1h0.8M79.2 665.9h0.8M95.2 667.8h0.8M83.1 670h0.8M75 667.5h0.8M88.6 667.3h0.8M89.4 668h0.8M73.2 668.9h0.8M91 666.2h0.8M82.4 666.1h0.8M90.3 668.2h0.8M77.8 667.6h0.8M89.4 667.4h0.8M74.5 667.4h0.8" fill="none" stroke="#b83232" stroke-width="0.8" stroke-opacity="0.75"/>
<path d="M107.7 660.4h0.8M109.9 662.1h0.8M92.3 657.5h0.8M88.9 646.1h0.8M105.5 661.4h0.8M98.1 658.9h0.8M108.2 656h0.8M96.9 659.7h0.8M108.7 647.1h0.8M87.7 660.5h0.8M85.3 662.2h0.8M109.8 647h0.8M84.5 663.4h0.8M101.9 662.1h0.8M109.6 655.2h0.8M81.2 650.3h0.8M99.9 649.2h0.8M88.4 646.6h0.8M87.6 656.8h0.8M89.7 646.2h0.8M90.1 655.7h0.8M94 647h0.8M89.1 660h0.8M89.7 653.5h0.8M92.4 662.8h0.8" fill="none" stroke="#555555" stroke-width="0.8" stroke-opacity="0.45"/>
<path d="M58.3 667.4h0.8M62.3 662.2h0.8M59.2 667.1h0.8M70.1 669.1h0.8M64.4 669.8h0.8M59.3 667.1h0.8M62.5 662.4h0.8M58.6 665.4h0.8M62.8 661h0.8M69.2 669.1h0.8M57.1 665.9h0.8M70.4 669.1h0.8M60.4 668.1h0.8M73.4 668.5h0.8M69.2 669.5h0.8M70.8 668.8h0.8M60.2 668h0.8M72.5 665.9h0.8M66.6 661.6h0.8M59 665.5h0.8M61.3 669.2h0.8M61.2 668.6h0.8M72.5 665.3h0.8M65.3 660.6h0.8M69.2 669.3h0.8M68.4 669.4h0.8M64.6 662.2h0.8M58.9 664.3h0.8M68.4 669.5h0.8M67.6 661.6h0.8M73.7 668.8h0.8M70.6 669h0.8M63.3 661.5h0.8M60.5 669.2h0.8M68.2 661.8h0.8M63.2 662.4h0.8M69.1 662.4h0.8M60 663h0.8M67.7 662.2h0.8M65.7 669.6h0.8M60 669.1h0.8M62.8 662h0.8M70.2 668.8h0.8M63 662h0.8M73.1 668.4h0.8M59.6 667h0.8M59.4 664.3h0.8M58.9 664.4h0.8M68.6 669.9h0.8M64.4 670.3h0.8M69.3 669.5h0.8M58.3 664.3h0.8M59.1 663h0.8M64.3 662.1h0.8M70.8 662.9h0.8M64.3 669.8h0.8M60.1 668.8h0.8M57.7 664.4h0.8M68.2 669.6h0.8M62.4 669.5h0.8M72.1 663.4h0.8M72.2 664.7h0.8M72.6 664.7h0.8M70 669.5h0.8M72.3 667h0.8M70.3 669.3h0.8M63.4 661.3h0.8M65.9 662.2h0.8M66.9 670.6h0.8M60.4 668.5h0.8M71.3 662.8h0.8M71.3 668.4h0.8M62.9 670.2h0.8M59.4 666.5h0.8M72.6 663.6h0.8M69.7 662.6h0.8M60 663.2h0.8M68.9 669.3h0.8M69.4 661.8h0.8M67.3 670.3h0.8M59.7 663.9h0.8M63.5 669.8h0.8M76.3 665.1h0.8M64.7 661.7h0.8M66.1 670h0.8M60.4 668.2h0.8M71.2 663.8h0.8M63.5 662.3h0.8M72.9 667.2h0.8M67.7 661.6h0.8M63.4 669.3h0.8M72.6 666.8h0.8M70.5 669.5h0.8M61 669.5h0.8M72.9 665.8h0.8M59.7 663.8h0.8M71.5 664.1h0.8M57.7 664.7h0.8M70 662.8h0.8M59.1 666.4h0.8M63.1 669.6h0.8M63.3 662.2h0.8M71.6 663.8h0.8M64.7 670.2h0.8M71.6 663.8h0.8M67.8 669.8h0.8M60 663.9h0.8M60.2 668.2h0.8M66.7 669.9h0.8M69.4 662h0.8M59.3 665h0.8M59.3 663h0.8M57.5 668.8h0.8M71.7 667.9h0.8M57.1 663.4h0.8M73.7 663.8h0.8M58.6 666.2h0.8M72.1 667.5h0.8M72.4 664.3h0.8M60.2 663.5h0.8M70.9 668.8h0.8M71.3 662.1h0.8M75.1 665.1h0.8M73.1 667.9h0.8M62.4 661.3h0.8M72.1 667.5h0.8M59 665.7h0.8M70.1 669h0.8M62.1 669.9h0.8M72.5 665.7h0.8M67.2 662.1h0.8M63.1 671.2h0.8M69.9 662.2h0.8M64.9 662.1h0.8M73.1 666.7h0.8M66.6 661.5h0.8M63.4 669.7h0.8M59.9 663.9h0.8M71.9 668.2h0.8M59.9 663.4h0.8M72.6 662.6h0.8M64 661.6h0.8M70.5 662.8h0.8M57.4 665.9h0.8M73 668.1h0.8M58.5 666.8h0.8M61 669.3h0.8M73.7 665.2h0.8M72.3 666.2h0.8M60.1 669.3h0.8M69.7 662.7h0.8M67.8 669.7h0.8M57.8 666.8h0.8M61.2 661.8h0.8M61.9 662h0.8M62.8 669.3h0.8M61.4 663h0.8M67.3 660.9h0.8M63.1 670.5h0.8M59.8 667.3h0.8" fill="none" stroke="#b83232" stroke-width="0.8" stroke-opacity="0.8"/>
<path d="M58.5 665.5a7.3 4.45 0 1 0 14.6 0a7.3 4.45 0 1 0 -14.6 0Z" fill="none" stroke="#b83030" stroke-width="1.1" stroke-opacity="0.75"/>
<path d="M59.05 665.5a6.75 3.9 0 1 0 13.5 0a6.75 3.9 0 1 0 -13.5 0Z" fill="#f2d6d6" fill-opacity="1"/>
<path d="M59.05 665.5a6.75 3.9 0 1 0 13.5 0a6.75 3.9 0 1 0 -13.5 0ZM60.67 665.69a5.18 2.99 0 1 0 10.35 0a5.18 2.99 0 1 0 -10.35 0ZM62.29 665.87a3.6 2.08 0 1 0 7.2 0a3.6 2.08 0 1 0 -7.2 0ZM63.91 666.06a2.03 1.17 0 1 0 4.05 0a2.03 1.17 0 1 0 -4.05 0Z" fill="none" stroke="#b53333" stroke-width="0.5" stroke-opacity="0.6"/>
<ellipse cx="66" cy="666.3" rx="2" ry="0.8" fill="#fff" fill-opacity="0.95"/>
<path d="M96.4 672.4h0.8M90.2 667.8h0.8M90.9 667.6h0.8M91 668.2h0.8M91.4 665.3h0.8M113.7 666.2h0.8M90.3 663.7h0.8M97.7 660.9h0.8M102.2 673.1h0.8M111.3 670.2h0.8M112 668.9h0.8M89.7 664.5h0.8M109.7 670.9h0.8M95.3 672h0.8M101.1 673.1h0.8M97.3 672.2h0.8M106.3 672.6h0.8M109.3 671.3h0.8M113.2 664.6h0.8M90.5 666.1h0.8M108.8 661.9h0.8M112.5 666.3h0.8M90.4 666.5h0.8M93 663.5h0.8M95.9 661.1h0.8M109.8 670.7h0.8M96.5 672.7h0.8M111.5 662.4h0.8M90.4 665.4h0.8M93.9 661.5h0.8M106.2 672.3h0.8M97.8 660.8h0.8M108 672h0.8M112.5 667.7h0.8M95.7 661.4h0.8M108.3 661.7h0.8M102.5 660.1h0.8M107.1 672.2h0.8M100.9 660.5h0.8M97.9 672.3h0.8M93.5 662.6h0.8M102.5 673.5h0.8M108.8 672.3h0.8M97.2 661.1h0.8M101.2 672.6h0.8M112.5 666.3h0.8M111.1 663.7h0.8M95.9 672.1h0.8M109 662h0.8M94 670.6h0.8M110.5 662.6h0.8M103.5 672.8h0.8M90.6 666.6h0.8M96.6 660.8h0.8M107.1 672.5h0.8M111.6 670.1h0.8M93.5 670.4h0.8M90.7 666.9h0.8M108.2 671.5h0.8M89.6 666h0.8M110.7 663.2h0.8M111.4 669.7h0.8M92.7 669.4h0.8M92.9 669.6h0.8M91.5 666.4h0.8M101.5 672.6h0.8M100.2 660.7h0.8M90.5 666.8h0.8M90.6 665.1h0.8M91.4 669.9h0.8M101.4 660.2h0.8M99.7 673h0.8M113.3 665.9h0.8M107.8 661.3h0.8M108.8 671.1h0.8M113.8 667.3h0.8M91.9 670.2h0.8M106.1 660.6h0.8M103.1 672.9h0.8M92.1 670.1h0.8M96.6 672.7h0.8M112.5 665.6h0.8M112.8 664.1h0.8M112.5 669h0.8M110.8 671.1h0.8M109.9 671.4h0.8M99.6 660.5h0.8M112.4 669h0.8M91.2 666.8h0.8M90.3 668.2h0.8M98.6 672.3h0.8M108.5 661.4h0.8M95.7 661.7h0.8M103.1 660.4h0.8M91.4 667.9h0.8M105.3 660.5h0.8M103.2 660.5h0.8M93.7 661.3h0.8M91.5 663.3h0.8M113.8 668h0.8M92.8 670.7h0.8M90.2 665.1h0.8M96 672.1h0.8M107.8 672.7h0.8M98.4 672.2h0.8M91.6 668.8h0.8M102.8 659.7h0.8M112.2 664.2h0.8M111.8 669.5h0.8M108.1 672.7h0.8M114.3 665.9h0.8M111.3 669.5h0.8M91.3 669.7h0.8M113.9 665.2h0.8M99.2 660.8h0.8M103.7 672.9h0.8M101.9 660h0.8M91.3 665.5h0.8M106.5 672.6h0.8M105.1 672.6h0.8M112.7 665.6h0.8M111.3 671.9h0.8M94.4 662.1h0.8M111.9 670.1h0.8M106.1 672.5h0.8M110.7 663.3h0.8M111.1 670.4h0.8M111.2 663.4h0.8M89.6 667.4h0.8M106.9 660.9h0.8M92 669.6h0.8M90.9 667.9h0.8M94.7 661.6h0.8M113.1 665.7h0.8M99.5 660.5h0.8M111.6 663.8h0.8M111.9 664.6h0.8M112.1 669.3h0.8M92.2 669.2h0.8M92 670.7h0.8" fill="none" stroke="#555555" stroke-width="0.8" stroke-opacity="0.45"/>
<path d="M91.05 666.6a11.25 6.5 0 1 0 22.5 0a11.25 6.5 0 1 0 -22.5 0Z" fill="#b0b0b0" fill-opacity="1"/>
<path d="M91.05 666.6a11.25 6.5 0 1 0 22.5 0a11.25 6.5 0 1 0 -22.5 0ZM92.24 666.7a10.21 5.9 0 1 0 20.43 0a10.21 5.9 0 1 0 -20.43 0ZM93.43 666.8a9.18 5.3 0 1 0 18.36 0a9.18 5.3 0 1 0 -18.36 0ZM94.62 666.9a8.14 4.71 0 1 0 16.29 0a8.14 4.71 0 1 0 -16.29 0ZM95.82 667a7.11 4.11 0 1 0 14.22 0a7.11 4.11 0 1 0 -14.22 0ZM97.01 667.11a6.07 3.51 0 1 0 12.15 0a6.07 3.51 0 1 0 -12.15 0ZM98.2 667.21a5.04 2.91 0 1 0 10.08 0a5.04 2.91 0 1 0 -10.08 0ZM99.39 667.31a4 2.31 0 1 0 8.01 0a4 2.31 0 1 0 -8.01 0ZM100.58 667.41a2.97 1.72 0 1 0 5.94 0a2.97 1.72 0 1 0 -5.94 0ZM101.77 667.51a1.93 1.12 0 1 0 3.87 0a1.93 1.12 0 1 0 -3.87 0ZM102.96 667.61a0.9 0.52 0 1 0 1.8 0a0.9 0.52 0 1 0 -1.8 0Z" fill="none" stroke="#404040" stroke-width="0.45" stroke-opacity="0.65"/>
<ellipse cx="104" cy="667.7" rx="1.5" ry="0.65" fill="#fff" fill-opacity="0.95"/>
<rect x="46.6" y="623.6" width="71.9" height="39.8" fill="none" stroke="#8c8c8c" stroke-width="0.95"/>
<path d="M46.69 690.7v2.9M59.57 690.7v2.9M73.42 690.7v2.9M96 690.7v2.9M115.31 690.7v2.9M56.47 690.7v1.7M54.12 690.7v1.7M52.41 690.7v1.7M51.1 690.7v1.7M50.05 690.7v1.7M49.18 690.7v1.7M48.43 690.7v1.7M47.78 690.7v1.7M47.21 690.7v1.7M62.9 690.7v1.7M65.43 690.7v1.7M67.27 690.7v1.7M68.68 690.7v1.7M69.81 690.7v1.7M70.75 690.7v1.7M71.55 690.7v1.7M72.25 690.7v1.7M72.87 690.7v1.7M80.22 690.7v1.7M84.19 690.7v1.7M87.01 690.7v1.7M89.2 690.7v1.7M90.99 690.7v1.7M92.5 690.7v1.7M93.81 690.7v1.7M94.96 690.7v1.7M101.81 690.7v1.7M105.21 690.7v1.7M107.63 690.7v1.7M109.5 690.7v1.7M111.03 690.7v1.7M112.32 690.7v1.7M113.44 690.7v1.7M114.43 690.7v1.7M121.13 690.7v1.7M41.8 685.26h-2.9M41.8 672.19h-2.9M41.8 658.22h-2.9M41.8 635.97h-2.9M41.8 617.46h-2.9M41.8 675.33h-1.7M41.8 677.72h-1.7M41.8 679.46h-1.7M41.8 680.79h-1.7M41.8 681.85h-1.7M41.8 682.74h-1.7M41.8 683.49h-1.7M41.8 684.15h-1.7M41.8 684.74h-1.7M41.8 668.82h-1.7M41.8 666.28h-1.7M41.8 664.42h-1.7M41.8 663h-1.7M41.8 661.86h-1.7M41.8 660.92h-1.7M41.8 660.11h-1.7M41.8 659.4h-1.7M41.8 658.78h-1.7M41.8 651.52h-1.7M41.8 647.6h-1.7M41.8 644.82h-1.7M41.8 642.67h-1.7M41.8 640.91h-1.7M41.8 639.42h-1.7M41.8 638.13h-1.7M41.8 636.99h-1.7M41.8 630.4h-1.7M41.8 627.14h-1.7M41.8 624.82h-1.7M41.8 623.03h-1.7M41.8 621.56h-1.7M41.8 620.33h-1.7M41.8 619.25h-1.7M41.8 618.3h-1.7M41.8 611.88h-1.7" stroke="#222" stroke-width="0.8" fill="none"/>
<rect x="41.8" y="609.5" width="81.5" height="81.2" fill="none" stroke="#111" stroke-width="1.3"/>
<text x="46.69" y="704.5" font-size="6.4" text-anchor="middle">-10<tspan font-size="4.35" dy="-2.88">3</tspan></text>
<text x="59.57" y="704.5" font-size="6.4" text-anchor="middle">0</text>
<text x="73.42" y="704.5" font-size="6.4" text-anchor="middle">10<tspan font-size="4.35" dy="-2.88">3</tspan></text>
<text x="96" y="704.5" font-size="6.4" text-anchor="middle">10<tspan font-size="4.35" dy="-2.88">4</tspan></text>
<text x="115.31" y="704.5" font-size="6.4" text-anchor="middle">10<tspan font-size="4.35" dy="-2.88">5</tspan></text>
<text x="36.2" y="687.44" font-size="6.4" text-anchor="end">-10<tspan font-size="4.35" dy="-2.88">3</tspan></text>
<text x="35.9" y="674.36" font-size="6.4" text-anchor="end">0</text>
<text x="36.2" y="660.4" font-size="6.4" text-anchor="end">10<tspan font-size="4.35" dy="-2.88">3</tspan></text>
<text x="36.2" y="638.15" font-size="6.4" text-anchor="end">10<tspan font-size="4.35" dy="-2.88">4</tspan></text>
<text x="36.2" y="619.63" font-size="6.4" text-anchor="end">10<tspan font-size="4.35" dy="-2.88">5</tspan></text>
<text x="81" y="604.8" font-size="6.3" text-anchor="middle">Cnt</text>
<text x="83.5" y="644" font-size="6.5" text-anchor="middle">3.6%</text>
<path d="M144.4 662.8h0.8M158.1 668.3h0.8M146.3 660.1h0.8M147.4 670.5h0.8M153.4 658.8h0.8M150.1 671.6h0.8M156.6 670.4h0.8M144 665.2h0.8M157.6 659.6h0.8M159.5 663.6h0.8M144 662.7h0.8M158.3 669.9h0.8M145.1 667.3h0.8M156.4 660.1h0.8M157.7 670h0.8M152.8 671.4h0.8M161.8 666.2h0.8M159.6 661.4h0.8M143.7 668.4h0.8M158.9 662h0.8M153.3 671.7h0.8M158.4 660.6h0.8M161.2 664.7h0.8M151.7 656.2h0.8M153.6 672.6h0.8M143.2 663h0.8M160.5 666.6h0.8M153.7 670.6h0.8M148.2 659.8h0.8M142.8 669.1h0.8M154.8 658.1h0.8M145.4 670h0.8M145.1 668.7h0.8M153.5 672.6h0.8M157.8 668.2h0.8M144.7 670.7h0.8M161.5 667.4h0.8M159.7 662.4h0.8M148.8 658.3h0.8M160.2 663.2h0.8M162 662.3h0.8M161.3 665.4h0.8M155.5 657.3h0.8M160.8 664.7h0.8M146.2 659.1h0.8M159.2 661.5h0.8M144.2 667.9h0.8M158.6 661h0.8M148.5 671.3h0.8M146.6 659.8h0.8M158.9 668.3h0.8M159.1 667.1h0.8M150.6 658.1h0.8M147 670.9h0.8M155 670.2h0.8M151.8 659h0.8M161.7 666.6h0.8M149.2 670.4h0.8M156.4 658.3h0.8M154.3 659h0.8M145 670.4h0.8M152.5 658.5h0.8M145.6 658.7h0.8M153 671.4h0.8M156.9 669h0.8M142.9 666h0.8M144.4 665.8h0.8M146.5 669.3h0.8M159.8 666.3h0.8M146.1 660.7h0.8M147 669.6h0.8M150.6 658h0.8M160 666.1h0.8M155.7 658.1h0.8M158.9 662.9h0.8M157.7 659.6h0.8M157.9 668.5h0.8M147.6 673h0.8M158.7 669.9h0.8M154.4 670.7h0.8M156.1 670.3h0.8M142.4 664.9h0.8M153.7 659.1h0.8M154 671.1h0.8M144.1 668.2h0.8M149 658.9h0.8M153 670.6h0.8M160.2 665.8h0.8M159.5 663.6h0.8M152.9 658.9h0.8M148.6 672h0.8M158 670.8h0.8M150.1 659h0.8M158 668.4h0.8M141.6 667.7h0.8M158.6 668h0.8M147.4 670.2h0.8M157.9 661.5h0.8M152.5 658.3h0.8M159 662h0.8M159.3 668.4h0.8M148.2 669.8h0.8M150.1 658.7h0.8M160 664.4h0.8M148 658.6h0.8M144.9 660.8h0.8M145.5 661.8h0.8M159.9 668.3h0.8M153.6 658.9h0.8M159.8 661.5h0.8M160 660.9h0.8M161.1 663.6h0.8M147.3 659.6h0.8M146 669.2h0.8M159.5 666.2h0.8M156.3 670.3h0.8M159.5 660.1h0.8M153.3 671.6h0.8M145.3 659.9h0.8M147.9 669.8h0.8M148 658.6h0.8M144.1 667.5h0.8M157.9 669h0.8M157.4 668.7h0.8M158.8 660.2h0.8M145.8 669.5h0.8M154.1 657.2h0.8M158.7 667.5h0.8M160.5 662.7h0.8M142.4 665.8h0.8M157.7 668.6h0.8M146 660.6h0.8M160.5 661.6h0.8M160.1 664.5h0.8M144.5 665.8h0.8M149.4 659h0.8M147.4 659.9h0.8M150.7 673h0.8M155 659.5h0.8M157.1 659.8h0.8M152.9 672.5h0.8M157.4 659.7h0.8M148.5 670h0.8M146.2 661.1h0.8M148.8 659.5h0.8M157.1 657.2h0.8M144.4 664h0.8M159.5 660.3h0.8M150.7 671.9h0.8M160.3 665h0.8M160.2 661.8h0.8M152.5 659h0.8M146.6 659.6h0.8M148.4 670.7h0.8M144.2 666.2h0.8M150 671.6h0.8M158.7 668.7h0.8M160.1 666.1h0.8M152.3 671.3h0.8M157.1 659.9h0.8M145.3 670.3h0.8M144.2 665.6h0.8M153.8 671.8h0.8M152.7 658.5h0.8M152.8 671.1h0.8M159.7 663.6h0.8M157.2 660.5h0.8M156.5 670.8h0.8M159.5 664h0.8M149.7 659.2h0.8M144.2 664.7h0.8M156.8 670.3h0.8M156.4 659.2h0.8M141.8 665h0.8M158.2 659.8h0.8M154.2 670.3h0.8M143.1 662.6h0.8M159.5 669.6h0.8M159.2 662.2h0.8M148 674.2h0.8M160.8 669.2h0.8M159 667.3h0.8M157.8 670.4h0.8M151.9 671.3h0.8M156.1 670.6h0.8M157.6 661h0.8M142.3 660.9h0.8M149.5 659h0.8M157.6 660.3h0.8M148.2 670h0.8M150.7 658.7h0.8M144.5 666.5h0.8M162.1 666.7h0.8M157.4 660.4h0.8M144.9 661.4h0.8M147.4 655.9h0.8M158.6 670.1h0.8M161.2 667.4h0.8M142.1 666.4h0.8M149 671.3h0.8M146 657.3h0.8M143.5 666.1h0.8M153.9 670.3h0.8M153.3 658h0.8M152.2 670.7h0.8M157.4 670.4h0.8M142.2 660.8h0.8M144.9 666.5h0.8M158.6 668.5h0.8M159.3 667.3h0.8M148.1 670.3h0.8M149.6 670.6h0.8M159 662.8h0.8M143.6 664.2h0.8M154.1 657.8h0.8M144.1 660.4h0.8M147.5 660h0.8M152.7 670.6h0.8M150.4 670.5h0.8M159.6 663h0.8" fill="none" stroke="#b83232" stroke-width="0.8" stroke-opacity="0.75"/>
<path d="M172.9 663.2h0.8M176.1 666.5h0.8M175.2 659.4h0.8M173.5 653.7h0.8M159.5 666.9h0.8M174.2 655.1h0.8M175.5 654.7h0.8M162.6 658.1h0.8M164.6 653h0.8M158.8 651.8h0.8M176.2 657.8h0.8M175.3 660.8h0.8M160.4 655.9h0.8M176 660.1h0.8M172.1 666.5h0.8M168.1 655.1h0.8M162 670.1h0.8M165.5 653.6h0.8M173.5 664.5h0.8M157.7 666.7h0.8M172.6 659h0.8M163.7 662.2h0.8M176.4 666.7h0.8M160.7 655.1h0.8M173.5 650.8h0.8M164 658.4h0.8M165.6 658h0.8M156 669.9h0.8M165.6 667.4h0.8M165 655.7h0.8M157 650.5h0.8M175.4 656h0.8M171.7 657.9h0.8M157.8 654.5h0.8M164 658.8h0.8M169.9 659.9h0.8M176.4 669.7h0.8M166.1 662.5h0.8M167.7 656.2h0.8M176 672.1h0.8M159.4 671.1h0.8M173.8 652.2h0.8M173.2 654.3h0.8M171.5 666.7h0.8M174.4 654.8h0.8M166.5 665.4h0.8M169.1 661.2h0.8M177.9 660.1h0.8M157.3 652.5h0.8M167.2 669.1h0.8M173.4 656.2h0.8M170.5 663h0.8M177.2 663.5h0.8M164.2 650.9h0.8M174.3 667.4h0.8M158.8 662.5h0.8M174.7 656.4h0.8M160.9 655.6h0.8M161.2 669.5h0.8M162 663h0.8" fill="none" stroke="#b83232" stroke-width="0.8" stroke-opacity="0.5"/>
<path d="M171.9 656.6h0.8M190.4 653.9h0.8M193.4 654.2h0.8M183.6 658.9h0.8M192.4 654.6h0.8M194.2 651.7h0.8M195.8 655.3h0.8M187.3 645.4h0.8M191 657.4h0.8M196.5 655.1h0.8M198.9 658.6h0.8M190.9 655.8h0.8M178.1 651.4h0.8M172.3 657.6h0.8M177.7 650.8h0.8M186.4 653.6h0.8M194.1 658.8h0.8M171.4 658h0.8M176.8 656h0.8M179.5 657.1h0.8" fill="none" stroke="#555555" stroke-width="0.8" stroke-opacity="0.45"/>
<path d="M143.6 664.4a8.3 6.55 0 1 0 16.6 0a8.3 6.55 0 1 0 -16.6 0Z" fill="none" stroke="#b83030" stroke-width="1.1" stroke-opacity="0.75"/>
<path d="M144.15 664.4a7.75 6 0 1 0 15.5 0a7.75 6 0 1 0 -15.5 0Z" fill="none" stroke="#fff" stroke-width="0.8" stroke-opacity="0.85"/>
<path d="M144.15 664.4a7.75 6 0 1 0 15.5 0a7.75 6 0 1 0 -15.5 0Z" fill="#f2d6d6" fill-opacity="1"/>
<path d="M144.15 664.4a7.75 6 0 1 0 15.5 0a7.75 6 0 1 0 -15.5 0ZM145.96 664.77a5.94 4.6 0 1 0 11.88 0a5.94 4.6 0 1 0 -11.88 0ZM147.77 665.15a4.13 3.2 0 1 0 8.27 0a4.13 3.2 0 1 0 -8.27 0ZM149.58 665.52a2.33 1.8 0 1 0 4.65 0a2.33 1.8 0 1 0 -4.65 0Z" fill="none" stroke="#b53333" stroke-width="0.5" stroke-opacity="0.6"/>
<ellipse cx="151.9" cy="666" rx="2" ry="0.8" fill="#fff" fill-opacity="0.95"/>
<path d="M196.9 660.3h0.8M175.2 662.6h0.8M192.6 658h0.8M181.5 659.5h0.8M197.1 661.4h0.8M196 658.9h0.8M196.6 660h0.8M198.4 662h0.8M195.5 672.2h0.8M196.1 659.7h0.8M198.2 668h0.8M184.4 656.2h0.8M178.9 660.3h0.8M196.2 672h0.8M176.6 664.3h0.8M178.7 669.1h0.8M181.6 659.4h0.8M197.4 661.3h0.8M199.3 665.7h0.8M186.2 675.9h0.8M177.8 661h0.8M186.8 657.1h0.8M177.9 661.7h0.8M178.4 663.4h0.8M192.4 675.1h0.8M189.8 657.3h0.8M177.8 664.7h0.8M177.8 666.1h0.8M193.8 672.8h0.8M194.4 659.1h0.8M179.5 671.4h0.8M195.4 672.2h0.8M197.8 671.2h0.8M197.7 671h0.8M177.9 665.3h0.8M192.7 658.3h0.8M180.8 673.3h0.8M197.5 670.6h0.8M187.9 657.3h0.8M180.6 659.9h0.8M193 673.2h0.8M185.9 656h0.8M197.1 660.9h0.8M197.8 663h0.8M185 674.7h0.8M178.7 669.9h0.8M189.3 674.7h0.8M180.9 672.3h0.8M178.7 669.6h0.8M200.8 666.1h0.8M178.6 662.5h0.8M194.2 672.4h0.8M181.5 659.6h0.8M198.8 668.9h0.8M196.9 661.5h0.8M194.4 659.2h0.8M189.5 674h0.8M181.7 659h0.8M185.7 673.6h0.8M198.2 662.6h0.8M193.2 658.2h0.8M181.8 672.8h0.8M198.9 666.4h0.8M198.4 669.7h0.8M183.5 673.4h0.8M194.2 658.3h0.8M177.9 670.9h0.8M192.2 673.7h0.8M195.5 672.4h0.8M179.1 669.5h0.8M177.2 665.5h0.8M197.4 670.6h0.8M190.3 657.4h0.8M182.1 672.8h0.8M190.5 674.7h0.8M191.5 656.4h0.8M187.8 656.1h0.8M184.4 673.5h0.8M190.5 674.3h0.8M179.2 660h0.8M196.9 660.9h0.8M192.9 658.2h0.8M197.1 672.4h0.8M186.1 674.3h0.8M198 670.1h0.8M186.8 673.8h0.8M193.9 673.2h0.8M181.7 658.8h0.8M198 663.2h0.8M194.8 672.6h0.8M184.7 657.5h0.8M197.3 669.8h0.8M185.7 657.6h0.8M191.7 673.6h0.8M177.1 665.9h0.8M179.7 672h0.8M186.1 656.3h0.8M194.7 658.6h0.8M199.7 666.4h0.8M178.2 662h0.8M181.4 672.2h0.8M179.9 671.3h0.8M182.5 658.8h0.8M176.9 668.2h0.8M177.3 664.7h0.8M198 669.2h0.8M195.4 673.1h0.8M198.4 666.9h0.8M196 660.4h0.8M193.4 658.2h0.8M180.8 659.7h0.8M198.9 667.5h0.8M198.7 667.8h0.8M190.7 675.5h0.8M200.7 668.8h0.8M177.6 670h0.8M198.1 661.8h0.8M179.6 658.9h0.8M179.4 659.7h0.8M189.4 657.4h0.8M199.2 666.1h0.8M199.2 665.2h0.8M192.5 673.4h0.8M189.5 656.5h0.8M198.5 666.1h0.8M190.7 674.1h0.8M198.3 664.3h0.8M182 674.1h0.8M193.7 673h0.8M178.8 669.9h0.8M187.1 674h0.8M192.1 673.4h0.8M199.6 665.1h0.8M179.7 670.7h0.8M193.8 658.3h0.8M181.9 659.2h0.8M184.2 657.6h0.8M194 672.8h0.8M184.1 673.7h0.8M196.1 672.3h0.8" fill="none" stroke="#555555" stroke-width="0.8" stroke-opacity="0.45"/>
<path d="M177.45 665.4a10.75 8.5 0 1 0 21.5 0a10.75 8.5 0 1 0 -21.5 0Z" fill="#c0c0c0" fill-opacity="1"/>
<path d="M177.45 665.4a10.75 8.5 0 1 0 21.5 0a10.75 8.5 0 1 0 -21.5 0ZM178.47 665.57a9.84 7.78 0 1 0 19.68 0a9.84 7.78 0 1 0 -19.68 0ZM179.49 665.74a8.93 7.06 0 1 0 17.86 0a8.93 7.06 0 1 0 -17.86 0ZM180.51 665.91a8.02 6.34 0 1 0 16.05 0a8.02 6.34 0 1 0 -16.05 0ZM181.53 666.08a7.11 5.63 0 1 0 14.23 0a7.11 5.63 0 1 0 -14.23 0ZM182.54 666.25a6.21 4.91 0 1 0 12.41 0a6.21 4.91 0 1 0 -12.41 0ZM183.56 666.41a5.3 4.19 0 1 0 10.59 0a5.3 4.19 0 1 0 -10.59 0ZM184.58 666.58a4.39 3.47 0 1 0 8.78 0a4.39 3.47 0 1 0 -8.78 0ZM185.6 666.75a3.48 2.75 0 1 0 6.96 0a3.48 2.75 0 1 0 -6.96 0ZM186.62 666.92a2.57 2.03 0 1 0 5.14 0a2.57 2.03 0 1 0 -5.14 0ZM187.64 667.09a1.66 1.31 0 1 0 3.32 0a1.66 1.31 0 1 0 -3.32 0ZM188.66 667.26a0.75 0.6 0 1 0 1.51 0a0.75 0.6 0 1 0 -1.51 0Z" fill="none" stroke="#4a4a4a" stroke-width="0.45" stroke-opacity="0.65"/>
<ellipse cx="189.5" cy="667.4" rx="1.5" ry="0.65" fill="#fff" fill-opacity="0.95"/>
<rect x="131.8" y="623.6" width="71.9" height="39.8" fill="none" stroke="#8c8c8c" stroke-width="0.95"/>
<path d="M131.89 690.7v2.9M144.77 690.7v2.9M158.62 690.7v2.9M181.2 690.7v2.9M200.51 690.7v2.9M141.67 690.7v1.7M139.32 690.7v1.7M137.61 690.7v1.7M136.3 690.7v1.7M135.25 690.7v1.7M134.38 690.7v1.7M133.63 690.7v1.7M132.98 690.7v1.7M132.41 690.7v1.7M148.1 690.7v1.7M150.63 690.7v1.7M152.47 690.7v1.7M153.88 690.7v1.7M155.01 690.7v1.7M155.95 690.7v1.7M156.75 690.7v1.7M157.45 690.7v1.7M158.07 690.7v1.7M165.42 690.7v1.7M169.39 690.7v1.7M172.21 690.7v1.7M174.4 690.7v1.7M176.19 690.7v1.7M177.7 690.7v1.7M179.01 690.7v1.7M180.16 690.7v1.7M187.01 690.7v1.7M190.41 690.7v1.7M192.83 690.7v1.7M194.7 690.7v1.7M196.23 690.7v1.7M197.52 690.7v1.7M198.64 690.7v1.7M199.63 690.7v1.7M206.33 690.7v1.7M127 685.26h-2.9M127 672.19h-2.9M127 658.22h-2.9M127 635.97h-2.9M127 617.46h-2.9M127 675.33h-1.7M127 677.72h-1.7M127 679.46h-1.7M127 680.79h-1.7M127 681.85h-1.7M127 682.74h-1.7M127 683.49h-1.7M127 684.15h-1.7M127 684.74h-1.7M127 668.82h-1.7M127 666.28h-1.7M127 664.42h-1.7M127 663h-1.7M127 661.86h-1.7M127 660.92h-1.7M127 660.11h-1.7M127 659.4h-1.7M127 658.78h-1.7M127 651.52h-1.7M127 647.6h-1.7M127 644.82h-1.7M127 642.67h-1.7M127 640.91h-1.7M127 639.42h-1.7M127 638.13h-1.7M127 636.99h-1.7M127 630.4h-1.7M127 627.14h-1.7M127 624.82h-1.7M127 623.03h-1.7M127 621.56h-1.7M127 620.33h-1.7M127 619.25h-1.7M127 618.3h-1.7M127 611.88h-1.7" stroke="#222" stroke-width="0.8" fill="none"/>
<rect x="127" y="609.5" width="81.5" height="81.2" fill="none" stroke="#111" stroke-width="1.3"/>
<text x="131.89" y="704.5" font-size="6.4" text-anchor="middle">-10<tspan font-size="4.35" dy="-2.88">3</tspan></text>
<text x="144.77" y="704.5" font-size="6.4" text-anchor="middle">0</text>
<text x="158.62" y="704.5" font-size="6.4" text-anchor="middle">10<tspan font-size="4.35" dy="-2.88">3</tspan></text>
<text x="181.2" y="704.5" font-size="6.4" text-anchor="middle">10<tspan font-size="4.35" dy="-2.88">4</tspan></text>
<text x="200.51" y="704.5" font-size="6.4" text-anchor="middle">10<tspan font-size="4.35" dy="-2.88">5</tspan></text>
<text x="163.5" y="604.8" font-size="6.3" text-anchor="middle">TNF-&#945;</text>
<text x="164.8" y="644" font-size="6.5" text-anchor="middle">17.6%</text>
<path d="M227.7 656.5h0.8M224.7 667.1h0.8M245.9 661.9h0.8M235.8 651.1h0.8M230.4 669.1h0.8M226.1 664.2h0.8M244 664.3h0.8M242.3 653.9h0.8M226.6 656.2h0.8M230 654h0.8M242 667.7h0.8M227.3 661.4h0.8M239.8 652.6h0.8M245.6 662.7h0.8M235.3 652.3h0.8M236.2 650.7h0.8M234.6 672.6h0.8M230.7 654.9h0.8M235 672.1h0.8M227.1 660h0.8M243.2 655.7h0.8M230.6 668.5h0.8M246.1 658.5h0.8M229.4 668.2h0.8M228.8 654.5h0.8M228.9 656.5h0.8M229.1 655.9h0.8M235.3 652.4h0.8M244.4 659.9h0.8M233.4 669.6h0.8M235.1 670h0.8M240.6 669.2h0.8M226.4 658.9h0.8M242.9 657.5h0.8M238.4 669.5h0.8M241.9 654.2h0.8M244.6 659.7h0.8M228.3 665.9h0.8M240.3 669.3h0.8M229.4 653.7h0.8M234.3 654.5h0.8M240.2 651.6h0.8M229 654.4h0.8M228.5 657.5h0.8M244 662h0.8M241.1 651.7h0.8M232.4 654.1h0.8M237.6 668.2h0.8M244 665.5h0.8M229.2 665.3h0.8M246.3 664.1h0.8M237.8 653.8h0.8M236.6 653.5h0.8M243.3 666.4h0.8M234 669.4h0.8M244.2 663.8h0.8M244.4 662.5h0.8M231.5 667.3h0.8M235.4 654.3h0.8M236.5 653h0.8M236.7 670.2h0.8M242.6 657.2h0.8M228.1 655.3h0.8M231.9 654.7h0.8M237.9 669.3h0.8M245.6 664.6h0.8M225.9 664.4h0.8M232.3 668h0.8M241.4 655h0.8M243 656.7h0.8M228.6 658.1h0.8M238.4 668.1h0.8M236 669.1h0.8M238.4 668.3h0.8M234.5 668.6h0.8M243.7 658.3h0.8M243.7 663.2h0.8M228 659.1h0.8M235.7 672.8h0.8M240.9 655.3h0.8M236.8 654.5h0.8M246.2 657.3h0.8M234.7 670.1h0.8M237 653.6h0.8M245 655.2h0.8M227.6 656.7h0.8M243.1 668.7h0.8M241.7 668.1h0.8M234.5 654.3h0.8M243.8 668h0.8M231.9 653.6h0.8M242.2 668.8h0.8M229.4 656h0.8M243.7 666.6h0.8M243.8 665.4h0.8M235.5 670h0.8M245.9 656.8h0.8M245.9 660h0.8M245.9 663.3h0.8M228.2 665.1h0.8M236.9 669h0.8M243.1 668.3h0.8M244 663.2h0.8M229.1 654.4h0.8M244.6 662.7h0.8M244.5 661.1h0.8M249 664.2h0.8M237.6 670.3h0.8M228.5 664h0.8M244.9 665.5h0.8M228.8 664.4h0.8M242.8 657.1h0.8M246.5 661.4h0.8M232.7 655.1h0.8M233.4 669.2h0.8M224.4 661.3h0.8M228.7 670.6h0.8M228.7 669.1h0.8M225.5 668.9h0.8M227.7 664.2h0.8M238.2 653h0.8M227.6 662.4h0.8M227.9 666.2h0.8M230 652.3h0.8M245 656.7h0.8M229.5 667.7h0.8M245.2 664h0.8M243.9 654.7h0.8M245.4 657.8h0.8M229.3 656.3h0.8M238.8 669h0.8M231.8 654h0.8M245.1 666.6h0.8M246.7 665.9h0.8M243 669.3h0.8M227.6 659.2h0.8M227.3 660.5h0.8M231.8 655.3h0.8M239.9 654.8h0.8M242.3 670.6h0.8M238.8 668.2h0.8M244.7 658h0.8M241.4 654.6h0.8M237.4 651.9h0.8M235.8 651.5h0.8M226.7 660.1h0.8M243.2 664.3h0.8M240.3 668.9h0.8M240.8 654.7h0.8M242.1 667.7h0.8M241 667.8h0.8M236.5 669.8h0.8M245.2 668.6h0.8M236.9 673.2h0.8M231.9 650.8h0.8M230.3 656.6h0.8M231.3 655.3h0.8M226.5 656.1h0.8M228.3 666.1h0.8M241.3 669.2h0.8M244.5 659.3h0.8M230.2 671.3h0.8M229.9 655h0.8M232.4 653.9h0.8M232 668.9h0.8M231.8 655.6h0.8M238.6 651.4h0.8M229.6 667.5h0.8M223.9 657.4h0.8M234.1 668.7h0.8M240.6 667.2h0.8M243.6 654.4h0.8M237 670h0.8M245.5 665.7h0.8M230.4 671.6h0.8M227.7 658h0.8M234.7 668.4h0.8M234.5 649.2h0.8M245.3 661.3h0.8M244.2 652.8h0.8M230.3 667.1h0.8M228.2 653.8h0.8M235.6 652.6h0.8M237 671h0.8M245.8 662h0.8M242.2 656.5h0.8M240.9 654.5h0.8M226.4 658.1h0.8M234.7 670.8h0.8M230.4 654.2h0.8M243.3 654.4h0.8M231.5 655h0.8M231.3 671.5h0.8M242.1 668h0.8M239.8 669.5h0.8M242.9 657.5h0.8M243.1 664.6h0.8M244.3 664.2h0.8M236.1 651h0.8M238.5 654.1h0.8M242.8 664.8h0.8M224.5 663.7h0.8M243.4 656.8h0.8M244.1 656h0.8M245.2 661h0.8M238.8 654.6h0.8M248.4 661.2h0.8M233.6 651h0.8M237.9 654.6h0.8M234.7 668.4h0.8M244.5 664.1h0.8M229 656.2h0.8M241.9 667h0.8M229.4 654.9h0.8M243.6 664.1h0.8M227.1 659.3h0.8M231.2 671.7h0.8M243.5 660.2h0.8M243.2 657.3h0.8M242.6 657.2h0.8M227.6 664.1h0.8M245.7 656.1h0.8M239.8 673.9h0.8M228 664.3h0.8M227.8 667.2h0.8M231.5 655.6h0.8M236.9 654.5h0.8M223 659.5h0.8M233.9 653.9h0.8M229.1 665.6h0.8M239.7 670.7h0.8M245.1 662.8h0.8M234.9 650.9h0.8M235.2 670.3h0.8M243.9 661.7h0.8M238.4 654.4h0.8M226.5 664.8h0.8M232.1 667.4h0.8M245.1 663h0.8M224.5 658.8h0.8M238.4 669h0.8M231.9 653.4h0.8M224.9 660.3h0.8M225.7 663.5h0.8M241.2 654.2h0.8M247.8 664.1h0.8M227.5 662.6h0.8M229.1 652.3h0.8M242.1 666.1h0.8M233.9 668.5h0.8M227.9 653.4h0.8M227.8 656.9h0.8M245.1 661.6h0.8M241.2 668.4h0.8M239.9 652.6h0.8M238.7 652.6h0.8M234 668.9h0.8M238.7 669.2h0.8M234.8 651.2h0.8M232.3 673.2h0.8M234.1 670.6h0.8M230.8 667.7h0.8M238.9 654.3h0.8M237.5 669.6h0.8M245.4 660.6h0.8M225.6 663.3h0.8M226.3 656.9h0.8M242.5 667.5h0.8M233.7 654.2h0.8M230.5 667.8h0.8M237.3 653h0.8M242.7 657h0.8M244.8 664.4h0.8M244 649.1h0.8M247.6 665.1h0.8M240.4 655h0.8M228.1 665.6h0.8M244.1 672.8h0.8M241.1 671.8h0.8M240.8 670.3h0.8M244.5 662.2h0.8M227.9 663.2h0.8M229.7 653.8h0.8M230.3 666.1h0.8M245.7 664.3h0.8M236.4 654.2h0.8M242 656.6h0.8M231.6 654.7h0.8M244.3 664.3h0.8M238.9 651.7h0.8M238.5 653.4h0.8M232.1 671.5h0.8M234.5 654.2h0.8M230.4 668.8h0.8M226.1 657.5h0.8M242.7 668.7h0.8M241.6 654h0.8M244 664.7h0.8M231.2 670.7h0.8M228.1 657.5h0.8M238.6 670h0.8M243.5 657.6h0.8M225.5 655.5h0.8M228.1 665.7h0.8M233.3 669.3h0.8M242.2 654h0.8M243.9 660.8h0.8M243.6 658.3h0.8M237.1 669h0.8M237 670.6h0.8M227.6 659.1h0.8M242.5 656.2h0.8M228.3 658.5h0.8M244.6 666.5h0.8M232.5 667.7h0.8M225.2 663.8h0.8M234.3 654.6h0.8M227.4 658.7h0.8M244.3 668.4h0.8M228.8 658.8h0.8M234.2 652.6h0.8M238.7 652h0.8M244.5 663.9h0.8M240.5 669.3h0.8M236.5 653.4h0.8M228.8 668.1h0.8M246.9 662.5h0.8M243.7 658.4h0.8M228 658.7h0.8M235.5 651.1h0.8M238.4 654.3h0.8M246.8 656.8h0.8M241 667.2h0.8M237 653.6h0.8M244.7 666h0.8M248.7 659.5h0.8M226.9 665.6h0.8M240 653.4h0.8M233.8 650.7h0.8M232.6 671.2h0.8M239.5 670.4h0.8M231.9 667.4h0.8M231.6 653.8h0.8M228.1 658.4h0.8M247.1 661h0.8M245.2 660.5h0.8M228.1 663.8h0.8M235.3 672.4h0.8M230.6 670.9h0.8M229.2 665.8h0.8M225.3 656.8h0.8M228.4 664.6h0.8M230.9 654.2h0.8M236.9 669.1h0.8M239.9 653.6h0.8M231.2 651.8h0.8M243.1 668.2h0.8M230.1 654.6h0.8M226 664.7h0.8M231.7 653.1h0.8M242.4 666.9h0.8M229.8 670.3h0.8M235.6 672.1h0.8M230.1 656.8h0.8M235.6 668.9h0.8M227.6 660.3h0.8M234.1 654.5h0.8M243.3 654h0.8M248 665.4h0.8M243.9 664.9h0.8M229.7 657.1h0.8M227.3 655.9h0.8M229.1 664.7h0.8M228.6 664.3h0.8M242.4 656.5h0.8M244.5 659.6h0.8M224.3 663.2h0.8M242.8 665.3h0.8M242.1 668.7h0.8M245.4 661.8h0.8M236.2 669.1h0.8M248.2 660.6h0.8M225.8 663.9h0.8M224.8 662.5h0.8M243.1 664.3h0.8M227 661.3h0.8M236.5 652.7h0.8M227.9 656.5h0.8M228.1 660.4h0.8M238.7 669.2h0.8M228.1 651.4h0.8M233.6 654.8h0.8M237 670.5h0.8M232.2 668.7h0.8M237.9 651.3h0.8M236.8 671.9h0.8M231.1 668.3h0.8M232.5 653.6h0.8M243.8 661.8h0.8M226.3 656.1h0.8M242 667.9h0.8M231.6 652.3h0.8M231.3 669.2h0.8M228.4 659.3h0.8M245 661.5h0.8M244.2 666.4h0.8M241.8 669.1h0.8M228.6 666.4h0.8M226.9 662.1h0.8M244.1 657.7h0.8M232.1 671.3h0.8M233.4 653.9h0.8M231 655.9h0.8M231.8 652.1h0.8M230.8 653.5h0.8M243.7 652.9h0.8M242 666.2h0.8M244.8 658h0.8M225.9 656.4h0.8M239.5 668.6h0.8M250.2 665.4h0.8M227.6 662.1h0.8M233.4 668.4h0.8M243.9 655.9h0.8M239.3 655.2h0.8M241 654.9h0.8M237.5 652.4h0.8M226.9 657h0.8M244.9 660.3h0.8M240.7 653.9h0.8M229.7 665.3h0.8M232 654.5h0.8M243.5 663h0.8M231 670.9h0.8M232.8 655h0.8M242.7 656.7h0.8M241 667.6h0.8M228.8 665.9h0.8M239.3 653.9h0.8M228.1 662h0.8M242.1 665.7h0.8M243.8 663.4h0.8M243.1 659h0.8M239 670.3h0.8M244 662.2h0.8M228.5 668.3h0.8M232.9 651.5h0.8M228.2 658.2h0.8M232.8 653.2h0.8M235.7 668.5h0.8" fill="none" stroke="#b83232" stroke-width="0.8" stroke-opacity="0.7"/>
<path d="M246.4 660.3h0.8M247.3 659.6h0.8M249.3 654.5h0.8M247.3 659h0.8M247.4 656.4h0.8M258.8 662.3h0.8M245.4 654.7h0.8M264.6 664.3h0.8M255.8 655.1h0.8M236.6 657.7h0.8M247.7 666.1h0.8M258.2 659.6h0.8M249.8 666.4h0.8M244.8 661.2h0.8M249.9 651.6h0.8M251.9 653h0.8M247.1 653.8h0.8M241.7 647.7h0.8M252.2 660.2h0.8M247.2 666.4h0.8M255.2 666.9h0.8M253 651.7h0.8M249.8 657.9h0.8M242.5 657.1h0.8M250.3 648.8h0.8M248.7 647.1h0.8M259.9 659h0.8M245.7 661.5h0.8M247.9 657.7h0.8M245.2 650.5h0.8M248.2 668.7h0.8M247 661.2h0.8M254.8 660.2h0.8M257 654.7h0.8M248 654.3h0.8M249.2 673.1h0.8M251.1 673.3h0.8M236.7 665h0.8M252 655.3h0.8M244 648.1h0.8M244.3 658.8h0.8M250.4 655.2h0.8M241.1 659.9h0.8M247.4 664.4h0.8M248.4 654.4h0.8M249.8 659.8h0.8M255.6 658.8h0.8M245.3 659h0.8M250 648.2h0.8M251.6 653.4h0.8M249.4 657.7h0.8M248.6 655.5h0.8M244.2 663.9h0.8M235.4 666.5h0.8M245.1 658.6h0.8M251.3 673.9h0.8M244 665.4h0.8M249.7 665.6h0.8M258.5 658h0.8M252.8 658.3h0.8M249.1 662.5h0.8M251.1 652.4h0.8M246.6 660.8h0.8M254.3 652.5h0.8M248.8 657.3h0.8M248.8 668.1h0.8M238 659.8h0.8M245.4 658.9h0.8M244.6 664.5h0.8M247.6 651.1h0.8M240.9 662.7h0.8M253.9 659.6h0.8M254.8 658.3h0.8M250.2 660.7h0.8M254.7 661.6h0.8M248.7 662h0.8M246 647.6h0.8M241.8 655.1h0.8M251.7 664.7h0.8M248.9 652.2h0.8M252 668.1h0.8M248 658.6h0.8M244.3 652.7h0.8M244.4 679.6h0.8M249.2 664.5h0.8M251.1 665.9h0.8M249.9 655.4h0.8M247.4 661.5h0.8M255.1 651.6h0.8M249.2 660.5h0.8M246.1 660.8h0.8M245.9 666.4h0.8M246.5 661h0.8M249.7 665.9h0.8M248.3 664.9h0.8M249.8 673.5h0.8M246.3 665.5h0.8M251.5 657.5h0.8M252.2 664.1h0.8M252.9 652.4h0.8M251.8 658.9h0.8M245.2 664h0.8M248.9 663.9h0.8M245.1 660h0.8M252.4 654.3h0.8M249.9 661h0.8M248.8 648h0.8M247.9 666.6h0.8M243.5 664.4h0.8M249.5 652.3h0.8M261.6 661h0.8M250.2 660.6h0.8M244.5 657.9h0.8M251.4 666h0.8M247.3 660.3h0.8M248.5 648.6h0.8M247.9 646.6h0.8M246.9 670h0.8M253.4 660.5h0.8M243.2 653.4h0.8M246.8 652h0.8M252.6 671.5h0.8M254.4 664.9h0.8M250.3 649.1h0.8M256.2 656.1h0.8M258.1 657.4h0.8M238.4 663.6h0.8M241.8 656.2h0.8M247.8 663h0.8M242 658.9h0.8M252.8 651.9h0.8M249.5 661.3h0.8M245.3 660.9h0.8M249.6 656.7h0.8M251.7 651.5h0.8M254.5 657.1h0.8M242 649h0.8M255.2 652.9h0.8M245.9 659.2h0.8M245.1 654.1h0.8M251.9 660h0.8M249.4 653.6h0.8M243.2 668.7h0.8M247.7 664.6h0.8M244.8 660.9h0.8M251.5 658.8h0.8M258.8 652.5h0.8M244.4 658.1h0.8M256.2 661.2h0.8M248.1 647.5h0.8M243.9 665.3h0.8M258.1 659.9h0.8M249.7 654.9h0.8M250.2 662.2h0.8M245.8 666.4h0.8M254.6 658.4h0.8M246.9 662.8h0.8M249 663.4h0.8M251.3 658.4h0.8M255.4 657h0.8M252.2 664.7h0.8M250.4 667.4h0.8M248.7 659.6h0.8M245.3 655.8h0.8M253.7 667h0.8M255.4 656.9h0.8M251.9 658h0.8M252.7 661.4h0.8M248.7 665.2h0.8M249.7 659.3h0.8M243.4 651h0.8M255.1 656.8h0.8M259 664.5h0.8M243.6 664.6h0.8M243.5 665.3h0.8M250.9 658h0.8M253.2 658.7h0.8M244.2 665.1h0.8M250.1 656.3h0.8M249.6 668.4h0.8M246.4 652.1h0.8M247.9 669.9h0.8M249.4 653.2h0.8M247.4 660.8h0.8M254.2 658.1h0.8M252.3 652.7h0.8M240.4 666.6h0.8M252.8 662.9h0.8M243.5 663.3h0.8M240.8 669.8h0.8M253.8 667.9h0.8M247.8 664.7h0.8M249.2 663.3h0.8M251 665.1h0.8M243.5 662.4h0.8M257.6 657.2h0.8M244.3 664.8h0.8M260.5 651.2h0.8M250.9 653.2h0.8M251.1 660.7h0.8" fill="none" stroke="#b83232" stroke-width="0.8" stroke-opacity="0.6"/>
<path d="M254.3 650.3h0.8M237.9 659.2h0.8M241.9 646.3h0.8M226.7 647.8h0.8M246.7 668.3h0.8M239.3 643.4h0.8M248.9 657.1h0.8M231.5 660.9h0.8M250.3 666.6h0.8M240.2 662.4h0.8M226.7 647.5h0.8M238.9 655.2h0.8M234 646.4h0.8M236.1 656.6h0.8M241.6 664h0.8M236.7 646.2h0.8M238.3 665.5h0.8M237.2 649.5h0.8M232.4 666.1h0.8M226.1 665.4h0.8M231.1 660.7h0.8M238.6 643.7h0.8M227.1 660.9h0.8M234.8 660.4h0.8M241.7 656.4h0.8M236.6 671h0.8M226.3 646.7h0.8M234.7 670.9h0.8M240.3 665.2h0.8M235.6 663h0.8M252.4 660.3h0.8M237 651.7h0.8M247.4 644.3h0.8M243.2 647.7h0.8M245.6 666h0.8M235.5 646.2h0.8M235.9 670.1h0.8M248.6 660h0.8M227.6 658.1h0.8M233.8 658h0.8M249.6 663.6h0.8M228.2 643.7h0.8M236.9 651h0.8M254.3 644.2h0.8M243 648.4h0.8M233.3 645.6h0.8M255.1 661.3h0.8M254.8 650.8h0.8M248.8 651.6h0.8M228.8 664h0.8M254.9 666.6h0.8M251.8 659.6h0.8M233.9 667.9h0.8M243.7 660.3h0.8M240 659.9h0.8M232.2 648.7h0.8M253.3 644.7h0.8M233.3 663.8h0.8M245.9 652.4h0.8M232.7 643.6h0.8" fill="none" stroke="#b83232" stroke-width="0.8" stroke-opacity="0.5"/>
<path d="M227.45 660.8a8.55 7.8 0 1 0 17.1 0a8.55 7.8 0 1 0 -17.1 0Z" fill="none" stroke="#b83030" stroke-width="1.1" stroke-opacity="0.7"/>
<path d="M228 660.8a8 7.25 0 1 0 16 0a8 7.25 0 1 0 -16 0Z" fill="none" stroke="#fff" stroke-width="0.8" stroke-opacity="0.85"/>
<path d="M228 660.8a8 7.25 0 1 0 16 0a8 7.25 0 1 0 -16 0Z" fill="#f2d6d6" fill-opacity="1"/>
<path d="M228 660.8a8 7.25 0 1 0 16 0a8 7.25 0 1 0 -16 0ZM229.7 661.34a6.4 5.8 0 1 0 12.8 0a6.4 5.8 0 1 0 -12.8 0ZM231.4 661.88a4.8 4.35 0 1 0 9.6 0a4.8 4.35 0 1 0 -9.6 0ZM233.1 662.42a3.2 2.9 0 1 0 6.4 0a3.2 2.9 0 1 0 -6.4 0ZM234.8 662.96a1.6 1.45 0 1 0 3.2 0a1.6 1.45 0 1 0 -3.2 0Z" fill="none" stroke="#b53333" stroke-width="0.5" stroke-opacity="0.6"/>
<ellipse cx="236.5" cy="663.5" rx="2" ry="0.8" fill="#fff" fill-opacity="0.95"/>
<path d="M268.2 652.7h0.8M269.5 672.4h0.8M267.4 671.5h0.8M264.6 653.4h0.8M281.4 668.2h0.8M266.4 670.2h0.8M272.5 653.4h0.8M278.8 654.5h0.8M282.5 665.3h0.8M259.5 660.1h0.8M264.4 654.8h0.8M259.3 658.5h0.8M261.9 667.6h0.8M264.1 655.5h0.8M279.1 654.6h0.8M272.8 653.7h0.8M277.5 654.5h0.8M258.3 663h0.8M265 672.1h0.8M273.1 671.3h0.8M274.6 652.3h0.8M273.3 653.6h0.8M282.9 658.8h0.8M281.1 667.4h0.8M257.9 660.5h0.8M267.1 670.4h0.8M281.4 666.8h0.8M259.3 659.6h0.8M276.8 654.6h0.8M261.7 656.1h0.8M264.1 654h0.8M268.3 654h0.8M283.4 661.3h0.8M259.6 657.5h0.8M260.9 657.5h0.8M259.7 658.8h0.8M262.4 656.5h0.8M283.9 665.5h0.8M278.9 655.7h0.8M268.2 653.5h0.8M278.7 655.3h0.8M281.1 667.9h0.8M259.3 663.9h0.8M273.9 670.7h0.8M282.6 656.3h0.8M267.4 653.4h0.8M261.1 657.1h0.8M258.3 662h0.8M259.6 657.7h0.8M282.8 665.9h0.8M274.7 671.5h0.8M275.1 671.2h0.8M260.6 668.4h0.8M259 660.6h0.8M265.5 671.4h0.8M263.2 669.3h0.8M282.9 658.7h0.8M261.4 657.3h0.8M264 654.7h0.8M258.8 661.8h0.8M259.4 663.3h0.8M275.9 670.2h0.8M280.9 669h0.8M264.7 655.1h0.8M276.9 654.5h0.8M280.2 656.6h0.8M278.6 654.6h0.8M275.8 670.2h0.8M278.7 655.6h0.8M271 671.8h0.8M263.7 653.1h0.8M269.8 671.1h0.8M283.4 664.5h0.8M274.9 670.9h0.8M258.8 665.1h0.8M260.7 656h0.8M272.6 653.5h0.8M271.4 671.6h0.8M258.2 658h0.8M282.8 659.9h0.8M269.7 672.3h0.8M284.8 660.4h0.8M261.4 667.4h0.8M281.2 667.5h0.8M259.6 665.7h0.8M277.3 670.9h0.8M259.6 658.6h0.8M268.9 653.4h0.8M261.6 657.2h0.8M280.5 667.6h0.8M274.3 653.6h0.8M282.5 657.7h0.8M276.6 653.2h0.8M258.8 666.7h0.8M283.1 662.7h0.8M276.9 672.4h0.8M264 655.5h0.8M282.6 665.2h0.8M261.6 655.5h0.8M262.8 669h0.8M259.6 663.7h0.8M258.5 664.8h0.8M276.3 671.8h0.8M262.7 654.9h0.8M257.8 663h0.8M277.2 654.6h0.8M259 664.1h0.8M281.1 667.1h0.8M283.7 666.1h0.8M274.8 654.1h0.8M258.5 666.1h0.8M283 660.9h0.8M280.9 667.9h0.8M261.3 668.4h0.8M279.9 668.4h0.8M284 658h0.8M282.8 667.8h0.8M281.4 668.2h0.8M274.5 653.3h0.8M262.9 655.8h0.8" fill="none" stroke="#555555" stroke-width="0.8" stroke-opacity="0.45"/>
<path d="M258.95 661.9a12.25 9 0 1 0 24.5 0a12.25 9 0 1 0 -24.5 0Z" fill="none" stroke="#fff" stroke-width="0.6" stroke-opacity="0.85"/>
<path d="M258.95 661.9a12.25 9 0 1 0 24.5 0a12.25 9 0 1 0 -24.5 0Z" fill="#c6c6c6" fill-opacity="1"/>
<path d="M258.95 661.9a12.25 9 0 1 0 24.5 0a12.25 9 0 1 0 -24.5 0ZM260.22 662.09a11.21 8.24 0 1 0 22.43 0a11.21 8.24 0 1 0 -22.43 0ZM261.49 662.29a10.18 7.48 0 1 0 20.36 0a10.18 7.48 0 1 0 -20.36 0ZM262.77 662.48a9.14 6.72 0 1 0 18.29 0a9.14 6.72 0 1 0 -18.29 0ZM264.04 662.68a8.11 5.96 0 1 0 16.21 0a8.11 5.96 0 1 0 -16.21 0ZM265.31 662.87a7.07 5.2 0 1 0 14.14 0a7.07 5.2 0 1 0 -14.14 0ZM266.58 663.07a6.04 4.43 0 1 0 12.07 0a6.04 4.43 0 1 0 -12.07 0ZM267.86 663.26a5 3.67 0 1 0 10 0a5 3.67 0 1 0 -10 0ZM269.13 663.46a3.96 2.91 0 1 0 7.93 0a3.96 2.91 0 1 0 -7.93 0ZM270.4 663.65a2.93 2.15 0 1 0 5.86 0a2.93 2.15 0 1 0 -5.86 0ZM271.67 663.84a1.89 1.39 0 1 0 3.79 0a1.89 1.39 0 1 0 -3.79 0ZM272.95 664.04a0.86 0.63 0 1 0 1.72 0a0.86 0.63 0 1 0 -1.72 0Z" fill="none" stroke="#4a4a4a" stroke-width="0.45" stroke-opacity="0.65"/>
<ellipse cx="274" cy="664.2" rx="1.5" ry="0.65" fill="#fff" fill-opacity="0.95"/>
<rect x="216.1" y="623.6" width="71.9" height="39.8" fill="none" stroke="#8c8c8c" stroke-width="0.95"/>
<path d="M216.19 690.7v2.9M229.07 690.7v2.9M242.92 690.7v2.9M265.5 690.7v2.9M284.81 690.7v2.9M225.97 690.7v1.7M223.62 690.7v1.7M221.91 690.7v1.7M220.6 690.7v1.7M219.55 690.7v1.7M218.68 690.7v1.7M217.93 690.7v1.7M217.28 690.7v1.7M216.71 690.7v1.7M232.4 690.7v1.7M234.93 690.7v1.7M236.77 690.7v1.7M238.18 690.7v1.7M239.31 690.7v1.7M240.25 690.7v1.7M241.05 690.7v1.7M241.75 690.7v1.7M242.37 690.7v1.7M249.72 690.7v1.7M253.69 690.7v1.7M256.51 690.7v1.7M258.7 690.7v1.7M260.49 690.7v1.7M262 690.7v1.7M263.31 690.7v1.7M264.46 690.7v1.7M271.31 690.7v1.7M274.71 690.7v1.7M277.13 690.7v1.7M279 690.7v1.7M280.53 690.7v1.7M281.82 690.7v1.7M282.94 690.7v1.7M283.93 690.7v1.7M290.63 690.7v1.7M211.3 685.26h-2.9M211.3 672.19h-2.9M211.3 658.22h-2.9M211.3 635.97h-2.9M211.3 617.46h-2.9M211.3 675.33h-1.7M211.3 677.72h-1.7M211.3 679.46h-1.7M211.3 680.79h-1.7M211.3 681.85h-1.7M211.3 682.74h-1.7M211.3 683.49h-1.7M211.3 684.15h-1.7M211.3 684.74h-1.7M211.3 668.82h-1.7M211.3 666.28h-1.7M211.3 664.42h-1.7M211.3 663h-1.7M211.3 661.86h-1.7M211.3 660.92h-1.7M211.3 660.11h-1.7M211.3 659.4h-1.7M211.3 658.78h-1.7M211.3 651.52h-1.7M211.3 647.6h-1.7M211.3 644.82h-1.7M211.3 642.67h-1.7M211.3 640.91h-1.7M211.3 639.42h-1.7M211.3 638.13h-1.7M211.3 636.99h-1.7M211.3 630.4h-1.7M211.3 627.14h-1.7M211.3 624.82h-1.7M211.3 623.03h-1.7M211.3 621.56h-1.7M211.3 620.33h-1.7M211.3 619.25h-1.7M211.3 618.3h-1.7M211.3 611.88h-1.7" stroke="#222" stroke-width="0.8" fill="none"/>
<rect x="211.3" y="609.5" width="81.5" height="81.2" fill="none" stroke="#111" stroke-width="1.3"/>
<text x="216.19" y="704.5" font-size="6.4" text-anchor="middle">-10<tspan font-size="4.35" dy="-2.88">3</tspan></text>
<text x="229.07" y="704.5" font-size="6.4" text-anchor="middle">0</text>
<text x="242.92" y="704.5" font-size="6.4" text-anchor="middle">10<tspan font-size="4.35" dy="-2.88">3</tspan></text>
<text x="265.5" y="704.5" font-size="6.4" text-anchor="middle">10<tspan font-size="4.35" dy="-2.88">4</tspan></text>
<text x="284.81" y="704.5" font-size="6.4" text-anchor="middle">10<tspan font-size="4.35" dy="-2.88">5</tspan></text>
<text x="250.6" y="604.8" font-size="6.3" text-anchor="middle">fMLF</text>
<text x="253.7" y="644" font-size="6.5" text-anchor="middle">37.4%</text>
<text x="61.8" y="683.8" font-size="6.3" text-anchor="middle" textLength="18.5" lengthAdjust="spacingAndGlyphs">rsPMN</text>
<text x="102" y="683.8" font-size="6.3" text-anchor="middle" textLength="18" lengthAdjust="spacingAndGlyphs">pPMN</text>
<text x="16.9" y="650" font-size="10" text-anchor="middle" textLength="29.8" lengthAdjust="spacingAndGlyphs" transform="rotate(-90 16.9 650)">CellRox</text>
<text x="167.5" y="717.3" font-size="10" text-anchor="middle" textLength="20.5" lengthAdjust="spacingAndGlyphs">CD63</text>
<line x1="339.5" y1="608.8" x2="339.5" y2="676.3" stroke="#1a1a1a" stroke-width="1.4"/>
<line x1="339.5" y1="676.3" x2="435.5" y2="676.3" stroke="#1a1a1a" stroke-width="1.4"/>
<line x1="336.5" y1="676.3" x2="339.5" y2="676.3" stroke="#222" stroke-width="0.9"/>
<text x="333" y="678.6" font-size="6.7" text-anchor="end">0</text>
<line x1="336.5" y1="660.23" x2="339.5" y2="660.23" stroke="#222" stroke-width="0.9"/>
<text x="333" y="662.53" font-size="6.7" text-anchor="end">10</text>
<line x1="336.5" y1="644.16" x2="339.5" y2="644.16" stroke="#222" stroke-width="0.9"/>
<text x="333" y="646.46" font-size="6.7" text-anchor="end">20</text>
<line x1="336.5" y1="628.09" x2="339.5" y2="628.09" stroke="#222" stroke-width="0.9"/>
<text x="333" y="630.39" font-size="6.7" text-anchor="end">30</text>
<line x1="336.5" y1="612.02" x2="339.5" y2="612.02" stroke="#222" stroke-width="0.9"/>
<text x="333" y="614.32" font-size="6.7" text-anchor="end">40</text>
<line x1="349.7" y1="660.8" x2="349.7" y2="665" stroke="#222" stroke-width="0.9"/>
<line x1="347.8" y1="660.8" x2="351.6" y2="660.8" stroke="#222" stroke-width="0.9"/>
<rect x="345.5" y="665" width="8.4" height="11.3" fill="#c0583a" stroke="none" stroke-width="1"/>
<line x1="361.7" y1="662.5" x2="361.7" y2="665" stroke="#222" stroke-width="0.9"/>
<line x1="359.8" y1="662.5" x2="363.6" y2="662.5" stroke="#222" stroke-width="0.9"/>
<rect x="357.5" y="665" width="8.4" height="11.3" fill="#151515" stroke="none" stroke-width="1"/>
<line x1="381.7" y1="640.8" x2="381.7" y2="645.5" stroke="#222" stroke-width="0.9"/>
<line x1="379.8" y1="640.8" x2="383.6" y2="640.8" stroke="#222" stroke-width="0.9"/>
<rect x="377.5" y="645.5" width="8.4" height="30.8" fill="#c0583a" stroke="none" stroke-width="1"/>
<line x1="393.7" y1="638.3" x2="393.7" y2="641.8" stroke="#222" stroke-width="0.9"/>
<line x1="391.8" y1="638.3" x2="395.6" y2="638.3" stroke="#222" stroke-width="0.9"/>
<rect x="389.5" y="641.8" width="8.4" height="34.5" fill="#151515" stroke="none" stroke-width="1"/>
<line x1="413.7" y1="618.7" x2="413.7" y2="624.1" stroke="#222" stroke-width="0.9"/>
<line x1="411.8" y1="618.7" x2="415.6" y2="618.7" stroke="#222" stroke-width="0.9"/>
<rect x="409.5" y="624.1" width="8.4" height="52.2" fill="#c0583a" stroke="none" stroke-width="1"/>
<line x1="425.5" y1="620.5" x2="425.5" y2="624.3" stroke="#222" stroke-width="0.9"/>
<line x1="423.6" y1="620.5" x2="427.4" y2="620.5" stroke="#222" stroke-width="0.9"/>
<rect x="421.3" y="624.3" width="8.4" height="52" fill="#151515" stroke="none" stroke-width="1"/>
<text x="355" y="650.4" font-size="5.6" text-anchor="middle">ns</text>
<text x="387.2" y="627.4" font-size="5.6" text-anchor="middle">ns</text>
<text x="418.4" y="611.2" font-size="5.6" text-anchor="middle">ns</text>
<text x="354.6" y="689" font-size="6.6" text-anchor="middle" textLength="13.3" lengthAdjust="spacingAndGlyphs">Cntl</text>
<text x="386.7" y="689" font-size="6.6" text-anchor="middle" textLength="19.3" lengthAdjust="spacingAndGlyphs">TNF-&#945;</text>
<text x="416.3" y="689" font-size="6.6" text-anchor="middle" textLength="15" lengthAdjust="spacingAndGlyphs">fMLF</text>
<rect x="438" y="638.8" width="12.5" height="6.7" fill="#c0583a" stroke="none" stroke-width="1"/>
<rect x="438" y="650.2" width="12.5" height="6.7" fill="#151515" stroke="none" stroke-width="1"/>
<text x="456.3" y="644.9" font-size="6.5" textLength="20" lengthAdjust="spacingAndGlyphs">rsPMN</text>
<text x="456.3" y="656.5" font-size="6.5" textLength="18.7" lengthAdjust="spacingAndGlyphs">pPMN</text>
<text x="318.4" y="645.6" font-size="9.6" text-anchor="middle" textLength="31.5" lengthAdjust="spacingAndGlyphs" transform="rotate(-90 318.4 645.6)">% CR +ve</text>
<rect x="0" y="0" width="520" height="1.2" fill="#111"/>
<rect x="0" y="0" width="1.8" height="728" fill="#555"/>
<rect x="518" y="0" width="2" height="728" fill="#4d4d4d"/>
<rect x="0" y="726" width="520" height="2" fill="#4d4d4d"/>
</svg></body></html>
